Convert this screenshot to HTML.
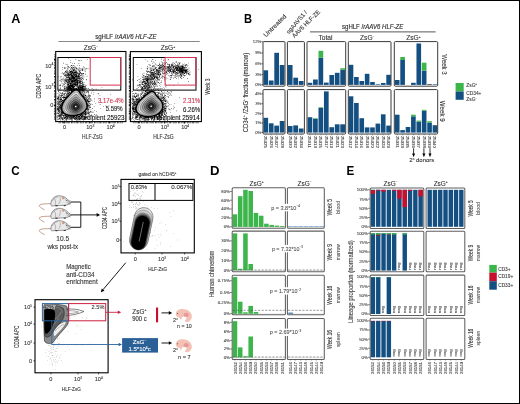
<!DOCTYPE html>
<html><head><meta charset="utf-8"><style>
html,body{margin:0;padding:0;background:#fff;}
body{width:520px;height:404px;overflow:hidden;}
svg{display:block;font-family:"Liberation Sans",sans-serif;will-change:transform;}
</style></head><body>
<svg width="520" height="404" viewBox="0 0 520 404" fill="#333">
<rect x="0.5" y="0.5" width="519" height="403" fill="#fff" stroke="#000" stroke-width="1"/>
<text x="11.18" y="22.8" font-size="12.8" fill="#000" font-weight="bold" textLength="9.15" lengthAdjust="spacingAndGlyphs">A</text>
<text x="95.2" y="39.2" font-size="6.6" stroke="#333" stroke-width="0.16" textLength="61.3" lengthAdjust="spacingAndGlyphs">sgHLF /<tspan font-style="italic">rAAV6 HLF-ZE</tspan></text>
<line x1="58.5" y1="41.5" x2="199.7" y2="41.5" stroke="#888" stroke-width="1.1"/>
<text x="91" y="49.88" font-size="6.6" stroke="#333" stroke-width="0.11" text-anchor="middle">ZsG<tspan font-size="3.4" dy="-2.3">&#8722;</tspan></text>
<text x="168" y="49.88" font-size="6.6" stroke="#333" stroke-width="0.11" text-anchor="middle">ZsG<tspan font-size="3.4" dy="-2.3">+</tspan></text>
<path d="M76.9 82.2h0.6v0.6h-0.6zM66.7 82.2h0.6v0.6h-0.6zM75.1 85.0h0.6v0.6h-0.6zM75.8 77.8h0.6v0.6h-0.6zM74.4 82.3h0.6v0.6h-0.6zM75.6 80.6h0.6v0.6h-0.6zM72.2 76.8h0.6v0.6h-0.6zM75.9 78.1h0.6v0.6h-0.6zM71.6 80.7h0.6v0.6h-0.6zM71.8 76.6h0.6v0.6h-0.6zM71.7 80.5h0.6v0.6h-0.6zM77.8 87.0h0.6v0.6h-0.6zM63.9 66.9h0.6v0.6h-0.6zM71.0 79.6h0.6v0.6h-0.6zM74.0 81.6h0.6v0.6h-0.6zM67.7 91.1h0.6v0.6h-0.6zM82.8 78.6h0.6v0.6h-0.6zM76.2 83.7h0.6v0.6h-0.6zM65.1 77.9h0.6v0.6h-0.6zM73.5 81.3h0.6v0.6h-0.6zM69.7 74.4h0.6v0.6h-0.6zM68.5 80.1h0.6v0.6h-0.6zM73.5 80.0h0.6v0.6h-0.6zM70.6 80.7h0.6v0.6h-0.6zM77.3 83.5h0.6v0.6h-0.6zM69.1 82.1h0.6v0.6h-0.6zM70.6 84.2h0.6v0.6h-0.6zM67.9 84.9h0.6v0.6h-0.6zM72.9 85.1h0.6v0.6h-0.6zM71.5 74.3h0.6v0.6h-0.6zM74.3 80.8h0.6v0.6h-0.6zM67.7 75.6h0.6v0.6h-0.6zM70.8 81.5h0.6v0.6h-0.6zM76.6 81.7h0.6v0.6h-0.6zM74.2 72.3h0.6v0.6h-0.6zM71.6 86.6h0.6v0.6h-0.6zM76.6 76.4h0.6v0.6h-0.6zM77.3 81.8h0.6v0.6h-0.6zM65.9 78.8h0.6v0.6h-0.6zM70.9 79.9h0.6v0.6h-0.6zM73.9 84.4h0.6v0.6h-0.6zM67.3 72.3h0.6v0.6h-0.6zM76.3 84.9h0.6v0.6h-0.6zM73.0 77.3h0.6v0.6h-0.6zM75.2 82.7h0.6v0.6h-0.6zM74.2 84.9h0.6v0.6h-0.6zM71.8 80.0h0.6v0.6h-0.6zM62.2 85.8h0.6v0.6h-0.6zM73.2 79.8h0.6v0.6h-0.6zM74.6 73.4h0.6v0.6h-0.6zM77.1 77.2h0.6v0.6h-0.6zM76.2 79.9h0.6v0.6h-0.6zM74.8 86.6h0.6v0.6h-0.6zM65.7 76.1h0.6v0.6h-0.6zM72.5 89.3h0.6v0.6h-0.6zM73.7 77.1h0.6v0.6h-0.6zM77.1 79.5h0.6v0.6h-0.6zM73.1 80.7h0.6v0.6h-0.6zM75.3 76.9h0.6v0.6h-0.6zM76.2 75.3h0.6v0.6h-0.6zM65.7 88.1h0.6v0.6h-0.6zM76.0 68.2h0.6v0.6h-0.6zM68.2 93.2h0.6v0.6h-0.6zM75.8 74.2h0.6v0.6h-0.6zM70.6 76.3h0.6v0.6h-0.6zM75.6 78.8h0.6v0.6h-0.6zM74.3 78.5h0.6v0.6h-0.6zM68.9 79.6h0.6v0.6h-0.6zM68.4 78.9h0.6v0.6h-0.6zM67.6 80.5h0.6v0.6h-0.6zM80.0 75.0h0.6v0.6h-0.6zM72.7 80.2h0.6v0.6h-0.6zM71.0 83.1h0.6v0.6h-0.6zM75.0 79.4h0.6v0.6h-0.6zM67.4 81.9h0.6v0.6h-0.6zM70.2 84.7h0.6v0.6h-0.6zM68.7 75.2h0.6v0.6h-0.6zM80.8 78.5h0.6v0.6h-0.6zM73.8 74.6h0.6v0.6h-0.6zM73.0 69.8h0.6v0.6h-0.6zM71.9 85.0h0.6v0.6h-0.6zM74.1 77.4h0.6v0.6h-0.6zM76.2 84.0h0.6v0.6h-0.6zM74.0 90.4h0.6v0.6h-0.6zM72.4 77.5h0.6v0.6h-0.6zM73.5 80.1h0.6v0.6h-0.6zM73.8 80.3h0.6v0.6h-0.6zM77.0 72.1h0.6v0.6h-0.6zM67.4 77.6h0.6v0.6h-0.6zM79.3 83.7h0.6v0.6h-0.6zM73.8 83.0h0.6v0.6h-0.6zM86.8 75.8h0.6v0.6h-0.6zM67.5 84.9h0.6v0.6h-0.6zM73.4 76.6h0.6v0.6h-0.6zM73.8 72.7h0.6v0.6h-0.6zM78.9 78.2h0.6v0.6h-0.6zM60.0 85.3h0.6v0.6h-0.6zM65.2 80.7h0.6v0.6h-0.6zM73.8 86.0h0.6v0.6h-0.6zM67.9 83.2h0.6v0.6h-0.6zM82.7 89.6h0.6v0.6h-0.6zM74.8 75.2h0.6v0.6h-0.6zM72.9 77.1h0.6v0.6h-0.6zM82.0 74.2h0.6v0.6h-0.6zM71.6 75.7h0.6v0.6h-0.6zM69.9 83.0h0.6v0.6h-0.6zM70.3 79.3h0.6v0.6h-0.6zM67.4 79.8h0.6v0.6h-0.6zM72.0 78.3h0.6v0.6h-0.6zM73.3 78.8h0.6v0.6h-0.6zM76.6 79.0h0.6v0.6h-0.6zM72.3 78.9h0.6v0.6h-0.6zM70.5 77.2h0.6v0.6h-0.6zM75.5 74.2h0.6v0.6h-0.6zM69.4 74.8h0.6v0.6h-0.6zM74.9 82.3h0.6v0.6h-0.6zM63.3 78.5h0.6v0.6h-0.6zM74.2 82.6h0.6v0.6h-0.6zM76.7 73.4h0.6v0.6h-0.6zM67.6 77.0h0.6v0.6h-0.6zM72.1 81.0h0.6v0.6h-0.6zM65.3 81.5h0.6v0.6h-0.6zM70.1 89.6h0.6v0.6h-0.6zM76.0 72.8h0.6v0.6h-0.6zM74.6 78.7h0.6v0.6h-0.6zM72.7 78.8h0.6v0.6h-0.6zM69.4 81.7h0.6v0.6h-0.6zM70.7 83.9h0.6v0.6h-0.6zM73.4 76.2h0.6v0.6h-0.6zM71.9 82.7h0.6v0.6h-0.6zM76.0 76.2h0.6v0.6h-0.6zM68.1 71.7h0.6v0.6h-0.6zM66.5 80.7h0.6v0.6h-0.6zM72.7 80.6h0.6v0.6h-0.6zM68.6 85.0h0.6v0.6h-0.6zM74.6 77.4h0.6v0.6h-0.6zM87.9 68.2h0.6v0.6h-0.6zM69.5 77.0h0.6v0.6h-0.6zM72.8 84.8h0.6v0.6h-0.6zM76.0 71.6h0.6v0.6h-0.6zM70.8 84.8h0.6v0.6h-0.6zM75.3 79.1h0.6v0.6h-0.6zM75.1 76.0h0.6v0.6h-0.6zM69.8 81.5h0.6v0.6h-0.6zM71.9 73.5h0.6v0.6h-0.6zM77.8 76.1h0.6v0.6h-0.6zM76.8 81.2h0.6v0.6h-0.6zM74.3 81.2h0.6v0.6h-0.6zM76.2 76.6h0.6v0.6h-0.6zM71.5 89.4h0.6v0.6h-0.6zM72.2 77.5h0.6v0.6h-0.6zM69.6 78.1h0.6v0.6h-0.6zM71.6 81.2h0.6v0.6h-0.6zM73.0 87.7h0.6v0.6h-0.6zM77.6 82.1h0.6v0.6h-0.6zM79.9 79.0h0.6v0.6h-0.6zM69.1 77.3h0.6v0.6h-0.6zM72.4 78.7h0.6v0.6h-0.6zM72.8 73.5h0.6v0.6h-0.6zM79.7 72.2h0.6v0.6h-0.6zM69.9 80.1h0.6v0.6h-0.6zM71.2 76.0h0.6v0.6h-0.6zM68.0 79.4h0.6v0.6h-0.6zM72.1 75.9h0.6v0.6h-0.6zM77.5 77.9h0.6v0.6h-0.6zM73.1 86.2h0.6v0.6h-0.6zM66.6 82.9h0.6v0.6h-0.6zM72.9 83.7h0.6v0.6h-0.6zM80.7 82.9h0.6v0.6h-0.6zM74.3 69.1h0.6v0.6h-0.6zM75.8 75.0h0.6v0.6h-0.6zM70.6 73.9h0.6v0.6h-0.6zM75.9 81.5h0.6v0.6h-0.6zM69.2 80.9h0.6v0.6h-0.6zM77.2 77.7h0.6v0.6h-0.6zM64.9 80.5h0.6v0.6h-0.6zM75.0 84.7h0.6v0.6h-0.6zM71.4 84.9h0.6v0.6h-0.6zM67.9 84.6h0.6v0.6h-0.6zM70.6 83.3h0.6v0.6h-0.6zM77.8 83.9h0.6v0.6h-0.6zM72.8 76.8h0.6v0.6h-0.6zM78.7 80.7h0.6v0.6h-0.6zM67.1 84.1h0.6v0.6h-0.6zM76.6 82.8h0.6v0.6h-0.6zM64.9 91.1h0.6v0.6h-0.6zM79.4 77.8h0.6v0.6h-0.6zM67.2 73.7h0.6v0.6h-0.6zM77.9 83.1h0.6v0.6h-0.6zM75.6 77.2h0.6v0.6h-0.6zM80.3 81.1h0.6v0.6h-0.6zM77.8 80.5h0.6v0.6h-0.6zM72.1 76.0h0.6v0.6h-0.6zM78.5 80.0h0.6v0.6h-0.6zM69.4 83.4h0.6v0.6h-0.6zM76.7 83.9h0.6v0.6h-0.6zM71.8 79.9h0.6v0.6h-0.6zM64.9 79.5h0.6v0.6h-0.6zM74.1 81.4h0.6v0.6h-0.6zM76.6 76.2h0.6v0.6h-0.6zM70.4 73.6h0.6v0.6h-0.6zM82.5 78.1h0.6v0.6h-0.6zM75.7 72.5h0.6v0.6h-0.6zM74.8 85.2h0.6v0.6h-0.6zM68.2 86.4h0.6v0.6h-0.6zM76.7 69.1h0.6v0.6h-0.6zM71.4 74.5h0.6v0.6h-0.6zM78.1 74.6h0.6v0.6h-0.6zM69.5 84.8h0.6v0.6h-0.6zM73.6 85.0h0.6v0.6h-0.6zM73.3 79.8h0.6v0.6h-0.6zM76.0 79.5h0.6v0.6h-0.6zM71.3 82.1h0.6v0.6h-0.6zM70.1 85.5h0.6v0.6h-0.6zM75.0 81.9h0.6v0.6h-0.6zM70.6 87.9h0.6v0.6h-0.6zM73.8 89.2h0.6v0.6h-0.6zM69.8 79.5h0.6v0.6h-0.6zM73.2 83.4h0.6v0.6h-0.6zM67.6 75.0h0.6v0.6h-0.6zM69.8 77.7h0.6v0.6h-0.6zM79.6 86.0h0.6v0.6h-0.6zM74.7 84.8h0.6v0.6h-0.6zM73.3 78.4h0.6v0.6h-0.6zM83.2 84.9h0.6v0.6h-0.6zM71.7 85.1h0.6v0.6h-0.6zM70.7 80.7h0.6v0.6h-0.6zM72.1 76.6h0.6v0.6h-0.6zM81.8 81.5h0.6v0.6h-0.6zM79.5 80.8h0.6v0.6h-0.6zM73.4 89.3h0.6v0.6h-0.6zM76.4 88.5h0.6v0.6h-0.6zM74.3 78.4h0.6v0.6h-0.6zM71.9 80.6h0.6v0.6h-0.6zM73.7 79.5h0.6v0.6h-0.6zM68.8 82.7h0.6v0.6h-0.6zM65.7 80.5h0.6v0.6h-0.6zM76.0 81.8h0.6v0.6h-0.6zM74.4 81.3h0.6v0.6h-0.6zM69.8 83.4h0.6v0.6h-0.6zM75.5 79.3h0.6v0.6h-0.6zM74.9 85.5h0.6v0.6h-0.6zM72.6 93.3h0.6v0.6h-0.6zM79.1 85.5h0.6v0.6h-0.6zM69.1 79.8h0.6v0.6h-0.6zM73.8 74.6h0.6v0.6h-0.6zM74.3 86.1h0.6v0.6h-0.6zM71.2 81.4h0.6v0.6h-0.6zM62.7 83.3h0.6v0.6h-0.6zM73.1 81.7h0.6v0.6h-0.6zM83.4 73.6h0.6v0.6h-0.6zM67.8 73.6h0.6v0.6h-0.6zM78.3 74.5h0.6v0.6h-0.6zM76.2 76.1h0.6v0.6h-0.6zM74.2 83.4h0.6v0.6h-0.6zM70.1 74.0h0.6v0.6h-0.6zM66.8 88.9h0.6v0.6h-0.6zM72.2 76.3h0.6v0.6h-0.6zM74.2 84.5h0.6v0.6h-0.6zM67.9 84.2h0.6v0.6h-0.6zM75.7 85.2h0.6v0.6h-0.6zM80.4 72.5h0.6v0.6h-0.6zM69.3 92.0h0.6v0.6h-0.6zM79.7 80.8h0.6v0.6h-0.6zM63.4 73.1h0.6v0.6h-0.6zM70.3 74.0h0.6v0.6h-0.6zM75.9 77.6h0.6v0.6h-0.6zM67.0 81.8h0.6v0.6h-0.6zM82.0 83.3h0.6v0.6h-0.6zM77.8 86.5h0.6v0.6h-0.6zM77.7 80.6h0.6v0.6h-0.6zM76.6 75.7h0.6v0.6h-0.6zM78.4 80.1h0.6v0.6h-0.6zM67.8 82.8h0.6v0.6h-0.6zM78.8 81.1h0.6v0.6h-0.6zM70.3 74.9h0.6v0.6h-0.6zM65.8 76.7h0.6v0.6h-0.6zM79.3 85.3h0.6v0.6h-0.6zM74.2 84.5h0.6v0.6h-0.6zM74.1 80.2h0.6v0.6h-0.6zM77.3 76.8h0.6v0.6h-0.6zM77.5 85.7h0.6v0.6h-0.6zM73.4 77.8h0.6v0.6h-0.6zM81.6 79.7h0.6v0.6h-0.6zM64.0 81.4h0.6v0.6h-0.6zM82.0 82.5h0.6v0.6h-0.6zM77.2 83.9h0.6v0.6h-0.6zM63.5 80.7h0.6v0.6h-0.6zM67.0 71.4h0.6v0.6h-0.6zM74.5 79.9h0.6v0.6h-0.6zM71.4 83.9h0.6v0.6h-0.6zM71.7 85.3h0.6v0.6h-0.6zM77.1 77.0h0.6v0.6h-0.6zM59.9 75.9h0.6v0.6h-0.6zM73.5 75.2h0.6v0.6h-0.6zM71.3 65.1h0.6v0.6h-0.6zM66.2 78.8h0.6v0.6h-0.6zM70.8 73.1h0.6v0.6h-0.6zM79.0 77.8h0.6v0.6h-0.6zM65.4 82.4h0.6v0.6h-0.6zM76.4 76.2h0.6v0.6h-0.6zM74.9 90.0h0.6v0.6h-0.6zM81.9 82.1h0.6v0.6h-0.6zM71.5 80.4h0.6v0.6h-0.6zM70.5 73.4h0.6v0.6h-0.6zM66.2 91.4h0.6v0.6h-0.6zM66.2 80.6h0.6v0.6h-0.6zM77.3 81.1h0.6v0.6h-0.6zM76.5 79.3h0.6v0.6h-0.6zM75.1 84.1h0.6v0.6h-0.6zM76.7 89.1h0.6v0.6h-0.6zM69.7 79.0h0.6v0.6h-0.6zM75.3 76.3h0.6v0.6h-0.6zM86.1 78.9h0.6v0.6h-0.6zM72.0 89.7h0.6v0.6h-0.6zM81.1 78.9h0.6v0.6h-0.6zM70.8 71.1h0.6v0.6h-0.6zM68.6 85.3h0.6v0.6h-0.6zM71.3 78.1h0.6v0.6h-0.6zM73.7 83.8h0.6v0.6h-0.6zM75.9 82.5h0.6v0.6h-0.6zM78.3 80.6h0.6v0.6h-0.6zM66.1 76.9h0.6v0.6h-0.6zM65.2 71.6h0.6v0.6h-0.6zM77.9 77.7h0.6v0.6h-0.6zM70.1 81.4h0.6v0.6h-0.6zM70.5 75.2h0.6v0.6h-0.6zM70.3 78.5h0.6v0.6h-0.6zM70.7 73.3h0.6v0.6h-0.6zM62.6 85.6h0.6v0.6h-0.6zM62.8 79.3h0.6v0.6h-0.6zM69.4 81.4h0.6v0.6h-0.6zM73.5 70.1h0.6v0.6h-0.6zM73.5 89.6h0.6v0.6h-0.6zM72.7 86.3h0.6v0.6h-0.6zM75.4 69.7h0.6v0.6h-0.6zM66.0 78.4h0.6v0.6h-0.6zM74.4 84.4h0.6v0.6h-0.6zM77.2 77.9h0.6v0.6h-0.6zM76.1 76.1h0.6v0.6h-0.6zM75.6 75.8h0.6v0.6h-0.6zM80.1 75.0h0.6v0.6h-0.6zM79.9 81.8h0.6v0.6h-0.6zM70.7 76.4h0.6v0.6h-0.6zM59.8 84.7h0.6v0.6h-0.6zM78.0 75.2h0.6v0.6h-0.6zM77.7 82.8h0.6v0.6h-0.6zM75.7 79.0h0.6v0.6h-0.6zM66.4 76.8h0.6v0.6h-0.6zM70.4 72.0h0.6v0.6h-0.6zM70.0 77.8h0.6v0.6h-0.6zM63.4 62.8h0.6v0.6h-0.6zM74.4 77.8h0.6v0.6h-0.6zM68.8 77.6h0.6v0.6h-0.6zM82.7 69.0h0.6v0.6h-0.6zM81.1 75.0h0.6v0.6h-0.6zM74.3 88.3h0.6v0.6h-0.6zM73.6 77.6h0.6v0.6h-0.6zM74.3 74.7h0.6v0.6h-0.6zM75.6 80.5h0.6v0.6h-0.6zM81.3 85.3h0.6v0.6h-0.6zM78.0 78.6h0.6v0.6h-0.6zM68.7 76.5h0.6v0.6h-0.6zM68.3 77.4h0.6v0.6h-0.6zM77.4 85.4h0.6v0.6h-0.6zM72.9 86.9h0.6v0.6h-0.6zM70.2 81.9h0.6v0.6h-0.6zM75.1 74.7h0.6v0.6h-0.6zM67.7 81.8h0.6v0.6h-0.6zM64.6 83.4h0.6v0.6h-0.6zM70.0 79.6h0.6v0.6h-0.6zM67.8 77.9h0.6v0.6h-0.6zM75.7 85.3h0.6v0.6h-0.6zM73.6 86.4h0.6v0.6h-0.6zM71.2 74.0h0.6v0.6h-0.6zM75.1 74.5h0.6v0.6h-0.6zM74.5 86.5h0.6v0.6h-0.6zM71.2 77.4h0.6v0.6h-0.6zM66.0 81.5h0.6v0.6h-0.6zM73.9 81.2h0.6v0.6h-0.6zM70.9 77.7h0.6v0.6h-0.6zM69.0 81.3h0.6v0.6h-0.6zM76.6 76.3h0.6v0.6h-0.6zM81.0 81.5h0.6v0.6h-0.6zM64.4 75.5h0.6v0.6h-0.6zM77.5 85.1h0.6v0.6h-0.6zM65.8 76.7h0.6v0.6h-0.6zM64.5 80.1h0.6v0.6h-0.6zM62.4 78.7h0.6v0.6h-0.6zM62.7 79.2h0.6v0.6h-0.6zM80.1 79.2h0.6v0.6h-0.6zM76.5 79.0h0.6v0.6h-0.6zM68.5 77.1h0.6v0.6h-0.6zM77.8 72.8h0.6v0.6h-0.6zM80.6 80.0h0.6v0.6h-0.6zM71.7 74.4h0.6v0.6h-0.6zM79.6 80.7h0.6v0.6h-0.6zM69.7 89.4h0.6v0.6h-0.6zM64.4 74.6h0.6v0.6h-0.6zM72.3 86.9h0.6v0.6h-0.6zM72.5 77.0h0.6v0.6h-0.6zM64.5 67.5h0.6v0.6h-0.6zM74.7 84.9h0.6v0.6h-0.6zM67.9 81.0h0.6v0.6h-0.6zM81.3 83.2h0.6v0.6h-0.6zM72.8 74.1h0.6v0.6h-0.6zM74.5 78.1h0.6v0.6h-0.6zM72.0 80.3h0.6v0.6h-0.6zM72.7 75.8h0.6v0.6h-0.6zM72.0 77.2h0.6v0.6h-0.6zM75.9 79.9h0.6v0.6h-0.6zM71.2 77.3h0.6v0.6h-0.6zM71.7 85.6h0.6v0.6h-0.6zM76.9 78.9h0.6v0.6h-0.6zM73.2 81.6h0.6v0.6h-0.6zM66.8 81.3h0.6v0.6h-0.6zM79.1 82.5h0.6v0.6h-0.6zM65.3 83.1h0.6v0.6h-0.6zM68.4 81.7h0.6v0.6h-0.6zM73.4 79.1h0.6v0.6h-0.6zM79.2 74.3h0.6v0.6h-0.6zM76.6 79.9h0.6v0.6h-0.6zM79.3 83.5h0.6v0.6h-0.6zM65.7 86.3h0.6v0.6h-0.6zM62.6 80.5h0.6v0.6h-0.6zM76.3 78.1h0.6v0.6h-0.6zM79.0 84.9h0.6v0.6h-0.6zM74.4 78.4h0.6v0.6h-0.6zM78.9 80.8h0.6v0.6h-0.6zM71.1 88.3h0.6v0.6h-0.6zM72.8 99.3h0.6v0.6h-0.6zM75.7 78.5h0.6v0.6h-0.6zM75.5 84.1h0.6v0.6h-0.6zM79.9 77.1h0.6v0.6h-0.6zM80.3 80.6h0.6v0.6h-0.6zM66.8 87.3h0.6v0.6h-0.6zM68.1 75.5h0.6v0.6h-0.6zM73.2 81.6h0.6v0.6h-0.6zM69.0 81.7h0.6v0.6h-0.6zM79.6 82.5h0.6v0.6h-0.6zM72.0 73.7h0.6v0.6h-0.6zM72.3 81.7h0.6v0.6h-0.6zM81.4 79.4h0.6v0.6h-0.6zM77.0 86.8h0.6v0.6h-0.6zM83.7 76.6h0.6v0.6h-0.6zM70.2 82.2h0.6v0.6h-0.6zM70.6 78.7h0.6v0.6h-0.6zM73.9 91.0h0.6v0.6h-0.6zM62.6 80.7h0.6v0.6h-0.6zM67.9 84.1h0.6v0.6h-0.6zM75.9 74.8h0.6v0.6h-0.6zM76.9 76.1h0.6v0.6h-0.6zM64.3 86.0h0.6v0.6h-0.6zM65.4 79.8h0.6v0.6h-0.6zM77.3 80.1h0.6v0.6h-0.6zM81.6 73.6h0.6v0.6h-0.6zM67.3 78.9h0.6v0.6h-0.6zM76.7 79.8h0.6v0.6h-0.6zM72.9 73.5h0.6v0.6h-0.6zM78.7 73.6h0.6v0.6h-0.6zM70.9 81.2h0.6v0.6h-0.6zM66.7 85.6h0.6v0.6h-0.6zM81.8 78.4h0.6v0.6h-0.6zM79.4 79.8h0.6v0.6h-0.6zM69.5 81.4h0.6v0.6h-0.6zM73.3 79.2h0.6v0.6h-0.6zM68.9 78.3h0.6v0.6h-0.6zM65.8 76.5h0.6v0.6h-0.6zM74.8 80.9h0.6v0.6h-0.6zM64.2 84.1h0.6v0.6h-0.6zM72.8 84.4h0.6v0.6h-0.6zM73.4 73.2h0.6v0.6h-0.6zM75.4 84.5h0.6v0.6h-0.6zM77.4 84.0h0.6v0.6h-0.6zM72.7 84.9h0.6v0.6h-0.6zM69.3 70.0h0.6v0.6h-0.6zM70.6 82.2h0.6v0.6h-0.6zM76.7 83.8h0.6v0.6h-0.6zM81.9 80.6h0.6v0.6h-0.6zM77.4 75.5h0.6v0.6h-0.6zM69.2 78.0h0.6v0.6h-0.6zM69.9 83.3h0.6v0.6h-0.6zM67.3 84.7h0.6v0.6h-0.6zM68.9 80.6h0.6v0.6h-0.6zM71.1 79.2h0.6v0.6h-0.6zM76.1 74.8h0.6v0.6h-0.6zM68.2 74.2h0.6v0.6h-0.6zM77.6 84.9h0.6v0.6h-0.6zM74.5 83.7h0.6v0.6h-0.6zM67.1 91.8h0.6v0.6h-0.6zM68.1 76.7h0.6v0.6h-0.6zM74.3 84.9h0.6v0.6h-0.6zM77.6 86.0h0.6v0.6h-0.6zM69.0 79.3h0.6v0.6h-0.6zM83.5 75.5h0.6v0.6h-0.6zM75.8 85.3h0.6v0.6h-0.6zM72.0 78.7h0.6v0.6h-0.6zM71.4 78.7h0.6v0.6h-0.6zM72.6 68.4h0.6v0.6h-0.6zM74.3 78.5h0.6v0.6h-0.6zM77.0 81.5h0.6v0.6h-0.6zM76.8 80.4h0.6v0.6h-0.6zM67.6 67.6h0.6v0.6h-0.6zM67.1 89.1h0.6v0.6h-0.6zM76.3 79.0h0.6v0.6h-0.6zM76.4 76.0h0.6v0.6h-0.6zM63.7 73.3h0.6v0.6h-0.6zM65.0 73.8h0.6v0.6h-0.6zM71.4 80.3h0.6v0.6h-0.6zM68.0 82.1h0.6v0.6h-0.6zM72.5 93.1h0.6v0.6h-0.6zM75.1 80.2h0.6v0.6h-0.6zM69.9 79.2h0.6v0.6h-0.6zM77.3 80.9h0.6v0.6h-0.6zM77.5 83.8h0.6v0.6h-0.6zM69.2 77.6h0.6v0.6h-0.6zM71.8 90.5h0.6v0.6h-0.6zM76.5 82.8h0.6v0.6h-0.6zM66.5 87.5h0.6v0.6h-0.6zM70.9 78.0h0.6v0.6h-0.6zM61.4 78.9h0.6v0.6h-0.6zM59.1 80.0h0.6v0.6h-0.6zM75.5 81.9h0.6v0.6h-0.6zM67.2 83.4h0.6v0.6h-0.6zM68.8 85.2h0.6v0.6h-0.6zM68.2 74.3h0.6v0.6h-0.6zM73.8 76.2h0.6v0.6h-0.6zM62.9 84.6h0.6v0.6h-0.6zM77.3 77.8h0.6v0.6h-0.6zM75.4 81.5h0.6v0.6h-0.6zM77.6 73.0h0.6v0.6h-0.6zM73.9 72.7h0.6v0.6h-0.6zM82.0 87.3h0.6v0.6h-0.6zM77.2 83.1h0.6v0.6h-0.6zM70.7 77.5h0.6v0.6h-0.6zM73.0 86.3h0.6v0.6h-0.6zM66.2 79.9h0.6v0.6h-0.6zM76.1 81.3h0.6v0.6h-0.6zM70.6 76.5h0.6v0.6h-0.6zM73.9 88.4h0.6v0.6h-0.6zM67.5 79.1h0.6v0.6h-0.6zM71.8 77.4h0.6v0.6h-0.6zM70.1 87.3h0.6v0.6h-0.6zM68.5 89.5h0.6v0.6h-0.6zM77.0 78.7h0.6v0.6h-0.6zM69.0 79.3h0.6v0.6h-0.6zM75.2 79.8h0.6v0.6h-0.6zM71.8 71.9h0.6v0.6h-0.6zM71.1 80.0h0.6v0.6h-0.6zM70.3 84.2h0.6v0.6h-0.6zM73.2 78.7h0.6v0.6h-0.6zM71.9 84.1h0.6v0.6h-0.6zM68.6 88.1h0.6v0.6h-0.6zM68.9 86.9h0.6v0.6h-0.6zM74.7 79.7h0.6v0.6h-0.6zM77.3 90.8h0.6v0.6h-0.6zM79.2 78.5h0.6v0.6h-0.6zM69.2 79.4h0.6v0.6h-0.6zM73.5 82.7h0.6v0.6h-0.6zM70.4 85.3h0.6v0.6h-0.6zM76.0 82.4h0.6v0.6h-0.6zM72.9 81.9h0.6v0.6h-0.6zM77.3 77.0h0.6v0.6h-0.6zM75.4 81.2h0.6v0.6h-0.6zM73.1 78.7h0.6v0.6h-0.6zM73.4 75.3h0.6v0.6h-0.6zM73.4 84.3h0.6v0.6h-0.6zM74.5 84.8h0.6v0.6h-0.6zM72.1 87.3h0.6v0.6h-0.6zM75.1 72.3h0.6v0.6h-0.6zM68.3 79.7h0.6v0.6h-0.6zM74.3 83.8h0.6v0.6h-0.6zM71.4 82.7h0.6v0.6h-0.6zM74.2 81.5h0.6v0.6h-0.6zM69.7 89.4h0.6v0.6h-0.6zM74.7 80.4h0.6v0.6h-0.6zM65.3 71.9h0.6v0.6h-0.6zM64.5 91.3h0.6v0.6h-0.6zM68.9 83.4h0.6v0.6h-0.6zM63.5 76.7h0.6v0.6h-0.6zM76.8 76.0h0.6v0.6h-0.6zM75.9 73.6h0.6v0.6h-0.6zM82.7 82.1h0.6v0.6h-0.6zM79.1 78.1h0.6v0.6h-0.6zM71.6 84.9h0.6v0.6h-0.6zM80.2 72.2h0.6v0.6h-0.6zM70.7 73.7h0.6v0.6h-0.6zM78.4 84.9h0.6v0.6h-0.6zM72.8 76.3h0.6v0.6h-0.6zM78.7 79.2h0.6v0.6h-0.6zM64.2 93.0h0.6v0.6h-0.6zM59.3 85.1h0.6v0.6h-0.6zM67.7 80.6h0.6v0.6h-0.6zM73.8 90.5h0.6v0.6h-0.6zM70.6 76.8h0.6v0.6h-0.6zM73.9 77.6h0.6v0.6h-0.6zM76.1 79.7h0.6v0.6h-0.6zM76.4 88.2h0.6v0.6h-0.6zM65.2 74.4h0.6v0.6h-0.6zM78.1 76.7h0.6v0.6h-0.6zM69.8 78.8h0.6v0.6h-0.6zM66.2 81.2h0.6v0.6h-0.6zM75.4 74.8h0.6v0.6h-0.6zM70.8 79.0h0.6v0.6h-0.6zM70.2 82.1h0.6v0.6h-0.6zM70.8 77.1h0.6v0.6h-0.6zM73.3 83.5h0.6v0.6h-0.6zM71.5 74.5h0.6v0.6h-0.6zM82.0 83.7h0.6v0.6h-0.6zM74.6 74.8h0.6v0.6h-0.6zM77.0 79.2h0.6v0.6h-0.6zM80.1 82.7h0.6v0.6h-0.6zM70.4 83.1h0.6v0.6h-0.6zM74.9 77.8h0.6v0.6h-0.6zM84.5 82.5h0.6v0.6h-0.6zM67.4 88.9h0.6v0.6h-0.6zM66.6 82.3h0.6v0.6h-0.6zM76.6 72.2h0.6v0.6h-0.6zM68.0 83.3h0.6v0.6h-0.6zM68.3 88.7h0.6v0.6h-0.6zM76.1 74.7h0.6v0.6h-0.6zM72.2 81.6h0.6v0.6h-0.6zM74.1 80.2h0.6v0.6h-0.6zM72.2 79.8h0.6v0.6h-0.6zM66.6 71.0h0.6v0.6h-0.6zM69.6 83.6h0.6v0.6h-0.6zM78.9 83.2h0.6v0.6h-0.6zM74.4 78.7h0.6v0.6h-0.6zM76.3 90.9h0.6v0.6h-0.6zM80.4 89.7h0.6v0.6h-0.6zM72.5 84.3h0.6v0.6h-0.6zM67.7 76.3h0.6v0.6h-0.6zM75.2 82.9h0.6v0.6h-0.6zM77.1 79.6h0.6v0.6h-0.6zM78.3 77.5h0.6v0.6h-0.6zM72.8 80.7h0.6v0.6h-0.6zM72.5 80.5h0.6v0.6h-0.6zM65.3 92.9h0.6v0.6h-0.6zM79.0 81.4h0.6v0.6h-0.6zM71.6 84.1h0.6v0.6h-0.6zM67.9 89.2h0.6v0.6h-0.6zM75.7 74.0h0.6v0.6h-0.6zM61.6 73.2h0.6v0.6h-0.6zM76.7 84.9h0.6v0.6h-0.6zM70.7 84.2h0.6v0.6h-0.6zM68.4 81.4h0.6v0.6h-0.6zM76.8 89.2h0.6v0.6h-0.6zM63.6 84.2h0.6v0.6h-0.6zM80.2 84.5h0.6v0.6h-0.6zM76.8 86.6h0.6v0.6h-0.6zM71.4 80.5h0.6v0.6h-0.6zM74.8 83.5h0.6v0.6h-0.6zM71.5 81.7h0.6v0.6h-0.6zM67.4 88.9h0.6v0.6h-0.6zM70.2 80.4h0.6v0.6h-0.6zM79.9 85.7h0.6v0.6h-0.6zM76.6 86.7h0.6v0.6h-0.6zM83.0 73.5h0.6v0.6h-0.6zM72.5 83.1h0.6v0.6h-0.6zM71.4 80.6h0.6v0.6h-0.6zM74.5 82.6h0.6v0.6h-0.6zM60.7 78.7h0.6v0.6h-0.6zM75.3 80.3h0.6v0.6h-0.6zM72.3 83.1h0.6v0.6h-0.6zM77.9 82.8h0.6v0.6h-0.6zM80.0 78.1h0.6v0.6h-0.6zM66.9 70.7h0.6v0.6h-0.6zM61.3 76.0h0.6v0.6h-0.6zM79.0 75.5h0.6v0.6h-0.6zM73.5 86.7h0.6v0.6h-0.6zM74.1 89.1h0.6v0.6h-0.6zM74.2 78.0h0.6v0.6h-0.6zM76.5 79.8h0.6v0.6h-0.6zM77.8 73.0h0.6v0.6h-0.6zM77.1 78.2h0.6v0.6h-0.6zM71.0 72.8h0.6v0.6h-0.6zM77.3 80.9h0.6v0.6h-0.6zM81.0 74.4h0.6v0.6h-0.6zM70.5 82.9h0.6v0.6h-0.6zM73.5 86.6h0.6v0.6h-0.6zM84.2 86.3h0.6v0.6h-0.6zM70.5 84.3h0.6v0.6h-0.6zM75.8 78.4h0.6v0.6h-0.6zM69.0 81.9h0.6v0.6h-0.6zM76.2 77.2h0.6v0.6h-0.6zM60.4 92.2h0.6v0.6h-0.6zM72.0 84.1h0.6v0.6h-0.6zM77.2 84.4h0.6v0.6h-0.6zM68.1 80.8h0.6v0.6h-0.6zM64.0 73.5h0.6v0.6h-0.6zM72.0 86.6h0.6v0.6h-0.6zM71.7 77.8h0.6v0.6h-0.6zM74.5 73.8h0.6v0.6h-0.6zM78.5 87.1h0.6v0.6h-0.6zM79.5 72.7h0.6v0.6h-0.6zM63.8 76.7h0.6v0.6h-0.6zM68.4 74.4h0.6v0.6h-0.6zM68.0 80.5h0.6v0.6h-0.6zM71.7 72.9h0.6v0.6h-0.6zM69.6 90.1h0.6v0.6h-0.6zM73.4 82.8h0.6v0.6h-0.6zM63.9 93.8h0.6v0.6h-0.6zM66.8 86.0h0.6v0.6h-0.6zM72.5 77.5h0.6v0.6h-0.6zM69.3 96.4h0.6v0.6h-0.6zM79.2 71.1h0.6v0.6h-0.6zM71.8 76.3h0.6v0.6h-0.6zM73.5 80.4h0.6v0.6h-0.6zM74.3 79.6h0.6v0.6h-0.6zM77.1 82.4h0.6v0.6h-0.6zM69.4 78.4h0.6v0.6h-0.6zM75.8 75.2h0.6v0.6h-0.6zM75.7 80.3h0.6v0.6h-0.6zM81.1 83.2h0.6v0.6h-0.6zM76.6 81.5h0.6v0.6h-0.6zM67.8 74.5h0.6v0.6h-0.6zM67.2 78.9h0.6v0.6h-0.6zM66.6 83.9h0.6v0.6h-0.6zM61.2 80.8h0.6v0.6h-0.6zM71.4 75.0h0.6v0.6h-0.6zM64.4 79.2h0.6v0.6h-0.6zM77.7 81.0h0.6v0.6h-0.6zM69.8 83.7h0.6v0.6h-0.6zM67.3 77.6h0.6v0.6h-0.6zM79.9 83.6h0.6v0.6h-0.6zM64.9 77.9h0.6v0.6h-0.6zM76.4 81.5h0.6v0.6h-0.6zM73.7 66.9h0.6v0.6h-0.6zM76.9 91.3h0.6v0.6h-0.6zM74.9 83.3h0.6v0.6h-0.6zM68.5 85.8h0.6v0.6h-0.6zM75.0 76.3h0.6v0.6h-0.6zM74.2 77.1h0.6v0.6h-0.6zM76.6 70.9h0.6v0.6h-0.6zM73.2 84.7h0.6v0.6h-0.6zM80.8 81.3h0.6v0.6h-0.6zM68.6 75.1h0.6v0.6h-0.6zM71.0 75.0h0.6v0.6h-0.6zM73.2 75.4h0.6v0.6h-0.6zM66.0 77.2h0.6v0.6h-0.6zM78.8 72.7h0.6v0.6h-0.6zM71.9 80.2h0.6v0.6h-0.6zM72.6 80.6h0.6v0.6h-0.6zM75.7 84.3h0.6v0.6h-0.6zM69.0 77.6h0.6v0.6h-0.6zM67.0 75.1h0.6v0.6h-0.6zM68.6 87.5h0.6v0.6h-0.6zM69.0 70.4h0.6v0.6h-0.6zM74.6 76.6h0.6v0.6h-0.6zM75.6 76.1h0.6v0.6h-0.6zM79.1 82.4h0.6v0.6h-0.6zM86.7 91.3h0.6v0.6h-0.6zM67.4 87.3h0.6v0.6h-0.6zM74.2 78.5h0.6v0.6h-0.6zM76.2 90.8h0.6v0.6h-0.6zM72.2 86.5h0.6v0.6h-0.6zM76.4 83.5h0.6v0.6h-0.6zM76.7 78.2h0.6v0.6h-0.6zM72.2 85.9h0.6v0.6h-0.6zM80.9 85.6h0.6v0.6h-0.6zM73.0 80.8h0.6v0.6h-0.6zM70.0 79.0h0.6v0.6h-0.6zM71.0 81.3h0.6v0.6h-0.6zM69.3 78.9h0.6v0.6h-0.6zM68.5 72.8h0.6v0.6h-0.6zM67.3 82.1h0.6v0.6h-0.6zM80.9 77.3h0.6v0.6h-0.6zM69.7 86.1h0.6v0.6h-0.6zM69.9 83.5h0.6v0.6h-0.6zM70.2 88.6h0.6v0.6h-0.6zM79.6 80.9h0.6v0.6h-0.6zM79.3 76.4h0.6v0.6h-0.6zM74.1 76.4h0.6v0.6h-0.6zM72.6 79.0h0.6v0.6h-0.6zM72.6 81.3h0.6v0.6h-0.6zM77.2 75.4h0.6v0.6h-0.6zM79.2 84.1h0.6v0.6h-0.6zM66.5 87.4h0.6v0.6h-0.6zM79.2 86.9h0.6v0.6h-0.6zM78.0 77.8h0.6v0.6h-0.6zM70.4 87.8h0.6v0.6h-0.6zM71.3 73.6h0.6v0.6h-0.6zM74.1 94.5h0.6v0.6h-0.6zM71.8 74.4h0.6v0.6h-0.6zM71.1 75.5h0.6v0.6h-0.6zM60.7 81.0h0.6v0.6h-0.6zM79.8 82.3h0.6v0.6h-0.6zM71.2 79.5h0.6v0.6h-0.6zM66.9 86.0h0.6v0.6h-0.6zM66.3 74.3h0.6v0.6h-0.6zM74.9 79.7h0.6v0.6h-0.6zM75.6 80.0h0.6v0.6h-0.6zM75.4 84.7h0.6v0.6h-0.6zM71.7 76.5h0.6v0.6h-0.6zM68.0 86.7h0.6v0.6h-0.6zM71.0 79.2h0.6v0.6h-0.6zM67.8 79.6h0.6v0.6h-0.6zM85.3 73.8h0.6v0.6h-0.6zM69.6 85.2h0.6v0.6h-0.6zM76.2 80.2h0.6v0.6h-0.6zM71.5 74.8h0.6v0.6h-0.6zM70.2 71.1h0.6v0.6h-0.6zM72.6 70.8h0.6v0.6h-0.6zM62.0 72.6h0.6v0.6h-0.6zM74.2 74.3h0.6v0.6h-0.6zM68.5 73.8h0.6v0.6h-0.6zM74.0 65.8h0.6v0.6h-0.6zM63.1 74.3h0.6v0.6h-0.6zM68.7 76.3h0.6v0.6h-0.6zM82.6 70.3h0.6v0.6h-0.6zM69.9 72.5h0.6v0.6h-0.6zM76.0 68.2h0.6v0.6h-0.6zM78.6 76.3h0.6v0.6h-0.6zM76.0 70.4h0.6v0.6h-0.6zM77.1 75.8h0.6v0.6h-0.6zM67.6 80.4h0.6v0.6h-0.6zM71.6 73.9h0.6v0.6h-0.6zM70.6 74.0h0.6v0.6h-0.6zM78.2 69.4h0.6v0.6h-0.6zM65.6 70.8h0.6v0.6h-0.6zM67.1 69.6h0.6v0.6h-0.6zM72.4 72.3h0.6v0.6h-0.6zM78.8 68.6h0.6v0.6h-0.6zM74.6 70.6h0.6v0.6h-0.6zM79.1 82.1h0.6v0.6h-0.6zM74.4 78.9h0.6v0.6h-0.6zM70.6 66.4h0.6v0.6h-0.6zM67.3 66.5h0.6v0.6h-0.6zM68.7 71.6h0.6v0.6h-0.6zM78.2 75.2h0.6v0.6h-0.6zM75.1 70.9h0.6v0.6h-0.6zM69.8 72.6h0.6v0.6h-0.6zM73.6 73.5h0.6v0.6h-0.6zM74.7 72.1h0.6v0.6h-0.6zM64.3 68.3h0.6v0.6h-0.6zM69.3 78.9h0.6v0.6h-0.6zM71.1 75.1h0.6v0.6h-0.6zM79.6 73.8h0.6v0.6h-0.6zM71.2 71.4h0.6v0.6h-0.6zM68.4 73.7h0.6v0.6h-0.6zM78.1 74.7h0.6v0.6h-0.6zM76.5 75.2h0.6v0.6h-0.6zM82.0 70.1h0.6v0.6h-0.6zM73.7 75.2h0.6v0.6h-0.6zM78.6 63.3h0.6v0.6h-0.6zM70.6 71.7h0.6v0.6h-0.6zM68.4 75.7h0.6v0.6h-0.6zM74.0 71.0h0.6v0.6h-0.6zM65.6 67.5h0.6v0.6h-0.6zM68.6 74.2h0.6v0.6h-0.6zM67.5 64.6h0.6v0.6h-0.6zM66.5 70.3h0.6v0.6h-0.6zM80.5 82.0h0.6v0.6h-0.6zM70.8 76.1h0.6v0.6h-0.6zM79.3 77.4h0.6v0.6h-0.6zM72.5 67.6h0.6v0.6h-0.6zM70.8 65.4h0.6v0.6h-0.6zM74.1 75.5h0.6v0.6h-0.6zM64.5 72.3h0.6v0.6h-0.6zM74.3 77.2h0.6v0.6h-0.6zM79.2 75.5h0.6v0.6h-0.6zM69.9 71.1h0.6v0.6h-0.6zM78.4 70.2h0.6v0.6h-0.6zM72.8 78.4h0.6v0.6h-0.6zM73.6 67.3h0.6v0.6h-0.6zM71.7 74.9h0.6v0.6h-0.6zM72.1 76.9h0.6v0.6h-0.6zM78.8 70.0h0.6v0.6h-0.6zM70.7 72.1h0.6v0.6h-0.6zM67.6 73.9h0.6v0.6h-0.6zM72.2 75.5h0.6v0.6h-0.6zM70.3 69.2h0.6v0.6h-0.6zM81.3 69.2h0.6v0.6h-0.6zM70.4 69.7h0.6v0.6h-0.6zM71.6 69.0h0.6v0.6h-0.6zM72.8 69.8h0.6v0.6h-0.6zM71.1 73.9h0.6v0.6h-0.6zM76.2 74.3h0.6v0.6h-0.6zM69.7 74.0h0.6v0.6h-0.6zM72.5 72.1h0.6v0.6h-0.6zM65.2 75.1h0.6v0.6h-0.6zM72.4 79.0h0.6v0.6h-0.6zM75.9 68.3h0.6v0.6h-0.6zM66.8 76.9h0.6v0.6h-0.6zM69.1 75.1h0.6v0.6h-0.6zM71.6 80.5h0.6v0.6h-0.6zM73.4 78.3h0.6v0.6h-0.6zM79.0 70.7h0.6v0.6h-0.6zM71.5 78.2h0.6v0.6h-0.6zM73.0 69.2h0.6v0.6h-0.6zM78.5 82.3h0.6v0.6h-0.6zM72.9 77.9h0.6v0.6h-0.6zM72.4 77.7h0.6v0.6h-0.6zM72.0 77.7h0.6v0.6h-0.6zM75.6 71.9h0.6v0.6h-0.6zM74.2 70.6h0.6v0.6h-0.6zM68.1 68.7h0.6v0.6h-0.6zM73.0 68.7h0.6v0.6h-0.6zM75.2 74.7h0.6v0.6h-0.6zM75.4 70.8h0.6v0.6h-0.6zM73.5 72.6h0.6v0.6h-0.6zM79.2 69.7h0.6v0.6h-0.6zM71.6 71.9h0.6v0.6h-0.6zM72.7 69.9h0.6v0.6h-0.6zM70.5 76.6h0.6v0.6h-0.6zM70.4 76.3h0.6v0.6h-0.6zM82.5 77.6h0.6v0.6h-0.6zM65.2 75.7h0.6v0.6h-0.6zM75.5 74.8h0.6v0.6h-0.6zM66.0 75.7h0.6v0.6h-0.6zM68.4 77.7h0.6v0.6h-0.6zM78.1 82.5h0.6v0.6h-0.6zM71.6 67.0h0.6v0.6h-0.6zM78.0 76.1h0.6v0.6h-0.6zM71.6 77.9h0.6v0.6h-0.6zM76.4 67.8h0.6v0.6h-0.6zM71.7 71.0h0.6v0.6h-0.6zM72.8 73.5h0.6v0.6h-0.6zM70.1 72.0h0.6v0.6h-0.6zM75.9 72.5h0.6v0.6h-0.6zM72.1 71.6h0.6v0.6h-0.6zM72.8 65.5h0.6v0.6h-0.6zM74.0 68.8h0.6v0.6h-0.6zM73.7 67.1h0.6v0.6h-0.6zM77.4 73.6h0.6v0.6h-0.6zM67.2 73.6h0.6v0.6h-0.6zM69.9 79.6h0.6v0.6h-0.6zM75.5 69.7h0.6v0.6h-0.6zM74.3 72.6h0.6v0.6h-0.6zM78.7 74.1h0.6v0.6h-0.6zM75.6 68.5h0.6v0.6h-0.6zM76.9 80.7h0.6v0.6h-0.6zM76.2 72.6h0.6v0.6h-0.6zM74.0 69.1h0.6v0.6h-0.6zM74.1 68.6h0.6v0.6h-0.6zM73.5 71.3h0.6v0.6h-0.6zM69.6 75.0h0.6v0.6h-0.6zM66.6 72.6h0.6v0.6h-0.6zM67.3 79.7h0.6v0.6h-0.6zM82.2 76.0h0.6v0.6h-0.6zM81.9 75.0h0.6v0.6h-0.6zM75.8 71.1h0.6v0.6h-0.6zM69.3 73.2h0.6v0.6h-0.6zM70.9 71.1h0.6v0.6h-0.6zM76.6 72.3h0.6v0.6h-0.6zM66.3 71.9h0.6v0.6h-0.6zM69.9 71.6h0.6v0.6h-0.6zM68.4 77.3h0.6v0.6h-0.6zM81.9 68.5h0.6v0.6h-0.6zM76.2 75.0h0.6v0.6h-0.6zM68.5 73.1h0.6v0.6h-0.6zM79.6 76.0h0.6v0.6h-0.6zM80.6 68.3h0.6v0.6h-0.6zM69.9 73.8h0.6v0.6h-0.6zM74.9 72.8h0.6v0.6h-0.6zM71.5 71.2h0.6v0.6h-0.6zM70.5 74.4h0.6v0.6h-0.6zM60.8 78.8h0.6v0.6h-0.6zM70.9 67.3h0.6v0.6h-0.6zM75.7 67.4h0.6v0.6h-0.6zM75.0 71.2h0.6v0.6h-0.6zM75.9 75.7h0.6v0.6h-0.6zM79.0 70.8h0.6v0.6h-0.6zM71.9 72.6h0.6v0.6h-0.6zM66.8 74.9h0.6v0.6h-0.6zM73.8 67.6h0.6v0.6h-0.6zM78.6 77.8h0.6v0.6h-0.6zM67.2 74.8h0.6v0.6h-0.6zM78.8 75.8h0.6v0.6h-0.6zM68.7 67.3h0.6v0.6h-0.6zM72.6 70.7h0.6v0.6h-0.6zM73.1 72.2h0.6v0.6h-0.6zM75.5 70.5h0.6v0.6h-0.6zM72.4 83.9h0.6v0.6h-0.6zM72.6 75.4h0.6v0.6h-0.6zM74.4 73.4h0.6v0.6h-0.6zM69.0 74.6h0.6v0.6h-0.6zM72.9 75.7h0.6v0.6h-0.6zM82.3 73.3h0.6v0.6h-0.6zM76.5 68.7h0.6v0.6h-0.6zM73.6 78.5h0.6v0.6h-0.6zM72.8 70.2h0.6v0.6h-0.6zM74.0 71.9h0.6v0.6h-0.6zM72.0 71.2h0.6v0.6h-0.6zM82.0 69.3h0.6v0.6h-0.6zM71.2 70.4h0.6v0.6h-0.6zM78.7 71.5h0.6v0.6h-0.6zM79.0 73.2h0.6v0.6h-0.6zM73.0 67.0h0.6v0.6h-0.6zM78.5 74.6h0.6v0.6h-0.6zM74.9 72.1h0.6v0.6h-0.6zM71.2 67.8h0.6v0.6h-0.6zM77.4 73.6h0.6v0.6h-0.6zM71.5 70.2h0.6v0.6h-0.6zM73.6 72.2h0.6v0.6h-0.6zM80.5 75.5h0.6v0.6h-0.6zM70.4 68.4h0.6v0.6h-0.6zM72.0 69.1h0.6v0.6h-0.6zM73.4 74.1h0.6v0.6h-0.6zM76.0 74.2h0.6v0.6h-0.6zM72.2 74.9h0.6v0.6h-0.6zM69.1 72.3h0.6v0.6h-0.6zM76.8 73.7h0.6v0.6h-0.6zM67.4 68.2h0.6v0.6h-0.6zM65.9 79.5h0.6v0.6h-0.6zM66.2 72.1h0.6v0.6h-0.6zM81.4 76.7h0.6v0.6h-0.6zM79.1 70.7h0.6v0.6h-0.6zM76.5 84.2h0.6v0.6h-0.6zM73.0 74.2h0.6v0.6h-0.6zM71.7 72.6h0.6v0.6h-0.6zM74.8 77.9h0.6v0.6h-0.6zM69.1 67.2h0.6v0.6h-0.6zM73.3 73.4h0.6v0.6h-0.6zM79.5 75.4h0.6v0.6h-0.6zM70.4 74.8h0.6v0.6h-0.6zM78.2 73.7h0.6v0.6h-0.6zM71.6 75.2h0.6v0.6h-0.6zM71.6 65.5h0.6v0.6h-0.6zM79.2 67.7h0.6v0.6h-0.6zM71.7 71.4h0.6v0.6h-0.6zM71.6 71.5h0.6v0.6h-0.6zM66.7 74.6h0.6v0.6h-0.6zM73.3 72.8h0.6v0.6h-0.6zM78.0 76.8h0.6v0.6h-0.6zM79.2 79.6h0.6v0.6h-0.6zM75.2 66.8h0.6v0.6h-0.6zM74.1 72.7h0.6v0.6h-0.6zM73.4 70.3h0.6v0.6h-0.6zM69.1 75.6h0.6v0.6h-0.6zM77.5 68.4h0.6v0.6h-0.6zM75.6 72.0h0.6v0.6h-0.6zM71.4 75.2h0.6v0.6h-0.6zM72.9 70.5h0.6v0.6h-0.6zM73.4 65.0h0.6v0.6h-0.6zM70.4 70.9h0.6v0.6h-0.6zM66.8 73.3h0.6v0.6h-0.6zM74.3 70.3h0.6v0.6h-0.6zM72.3 75.1h0.6v0.6h-0.6zM77.8 69.7h0.6v0.6h-0.6zM74.6 76.5h0.6v0.6h-0.6zM72.9 69.6h0.6v0.6h-0.6zM69.6 71.3h0.6v0.6h-0.6zM68.4 80.2h0.6v0.6h-0.6zM70.5 74.0h0.6v0.6h-0.6zM73.8 74.9h0.6v0.6h-0.6zM71.3 67.6h0.6v0.6h-0.6zM80.4 72.2h0.6v0.6h-0.6zM73.5 73.3h0.6v0.6h-0.6zM78.7 75.4h0.6v0.6h-0.6zM73.3 89.5h0.6v0.6h-0.6zM70.9 88.5h0.6v0.6h-0.6zM68.7 84.5h0.6v0.6h-0.6zM69.9 86.1h0.6v0.6h-0.6zM76.7 90.8h0.6v0.6h-0.6zM73.3 87.0h0.6v0.6h-0.6zM75.4 84.9h0.6v0.6h-0.6zM67.6 86.6h0.6v0.6h-0.6zM68.2 88.2h0.6v0.6h-0.6zM71.0 91.4h0.6v0.6h-0.6zM72.9 90.2h0.6v0.6h-0.6zM71.5 87.7h0.6v0.6h-0.6zM68.9 85.3h0.6v0.6h-0.6zM68.4 87.3h0.6v0.6h-0.6zM72.3 85.0h0.6v0.6h-0.6zM67.2 88.4h0.6v0.6h-0.6zM68.0 88.6h0.6v0.6h-0.6zM69.5 86.6h0.6v0.6h-0.6zM67.3 87.8h0.6v0.6h-0.6zM68.8 86.9h0.6v0.6h-0.6zM69.0 88.3h0.6v0.6h-0.6zM70.9 84.9h0.6v0.6h-0.6zM70.1 88.7h0.6v0.6h-0.6zM73.0 89.4h0.6v0.6h-0.6zM71.0 85.9h0.6v0.6h-0.6zM68.7 89.6h0.6v0.6h-0.6zM68.8 89.8h0.6v0.6h-0.6zM73.6 86.1h0.6v0.6h-0.6zM71.6 87.8h0.6v0.6h-0.6zM75.4 89.5h0.6v0.6h-0.6zM69.3 88.7h0.6v0.6h-0.6zM68.3 87.7h0.6v0.6h-0.6zM71.0 88.3h0.6v0.6h-0.6zM71.2 86.4h0.6v0.6h-0.6zM66.1 87.3h0.6v0.6h-0.6zM68.4 86.7h0.6v0.6h-0.6zM75.6 90.1h0.6v0.6h-0.6zM70.1 85.4h0.6v0.6h-0.6zM67.4 88.7h0.6v0.6h-0.6zM73.1 87.5h0.6v0.6h-0.6zM70.8 88.5h0.6v0.6h-0.6zM73.1 84.6h0.6v0.6h-0.6zM70.9 88.7h0.6v0.6h-0.6zM72.8 88.7h0.6v0.6h-0.6zM67.9 87.0h0.6v0.6h-0.6zM66.8 88.3h0.6v0.6h-0.6zM71.0 88.9h0.6v0.6h-0.6zM68.2 85.9h0.6v0.6h-0.6zM74.2 88.3h0.6v0.6h-0.6zM74.7 88.8h0.6v0.6h-0.6zM67.0 89.4h0.6v0.6h-0.6zM73.5 87.2h0.6v0.6h-0.6zM65.9 89.2h0.6v0.6h-0.6zM70.2 88.5h0.6v0.6h-0.6zM64.1 88.8h0.6v0.6h-0.6zM63.9 86.4h0.6v0.6h-0.6zM72.6 84.7h0.6v0.6h-0.6zM66.0 87.2h0.6v0.6h-0.6zM74.5 90.9h0.6v0.6h-0.6zM69.0 89.8h0.6v0.6h-0.6zM71.9 88.5h0.6v0.6h-0.6zM71.4 86.7h0.6v0.6h-0.6zM72.4 89.9h0.6v0.6h-0.6zM77.0 89.6h0.6v0.6h-0.6zM64.6 85.8h0.6v0.6h-0.6zM71.3 88.1h0.6v0.6h-0.6zM66.0 87.7h0.6v0.6h-0.6zM69.6 87.9h0.6v0.6h-0.6zM70.2 89.6h0.6v0.6h-0.6zM74.0 89.2h0.6v0.6h-0.6zM67.8 86.4h0.6v0.6h-0.6zM68.9 87.9h0.6v0.6h-0.6zM69.5 87.4h0.6v0.6h-0.6zM68.3 89.7h0.6v0.6h-0.6zM72.5 89.7h0.6v0.6h-0.6zM70.3 88.8h0.6v0.6h-0.6zM68.3 86.2h0.6v0.6h-0.6zM69.2 89.0h0.6v0.6h-0.6zM70.1 85.9h0.6v0.6h-0.6zM70.7 88.8h0.6v0.6h-0.6zM70.9 86.8h0.6v0.6h-0.6zM70.6 87.2h0.6v0.6h-0.6zM69.7 87.8h0.6v0.6h-0.6zM72.3 91.3h0.6v0.6h-0.6zM74.2 89.1h0.6v0.6h-0.6zM69.5 87.4h0.6v0.6h-0.6zM69.9 90.1h0.6v0.6h-0.6zM63.9 88.5h0.6v0.6h-0.6zM65.7 88.0h0.6v0.6h-0.6zM73.7 86.4h0.6v0.6h-0.6zM65.0 90.3h0.6v0.6h-0.6zM74.1 88.9h0.6v0.6h-0.6zM73.5 86.6h0.6v0.6h-0.6zM73.3 91.1h0.6v0.6h-0.6zM72.0 88.5h0.6v0.6h-0.6zM73.6 90.0h0.6v0.6h-0.6zM68.7 90.4h0.6v0.6h-0.6zM72.3 88.3h0.6v0.6h-0.6zM73.6 89.7h0.6v0.6h-0.6zM72.3 87.1h0.6v0.6h-0.6zM72.5 86.0h0.6v0.6h-0.6zM70.2 85.0h0.6v0.6h-0.6zM66.4 88.8h0.6v0.6h-0.6zM70.3 88.2h0.6v0.6h-0.6zM71.9 88.6h0.6v0.6h-0.6zM68.4 88.1h0.6v0.6h-0.6zM70.3 87.1h0.6v0.6h-0.6zM70.2 87.3h0.6v0.6h-0.6zM68.9 87.4h0.6v0.6h-0.6zM71.1 91.7h0.6v0.6h-0.6zM68.5 88.9h0.6v0.6h-0.6zM67.0 90.9h0.6v0.6h-0.6zM69.7 88.2h0.6v0.6h-0.6zM73.6 89.8h0.6v0.6h-0.6zM66.9 89.0h0.6v0.6h-0.6zM70.0 89.1h0.6v0.6h-0.6zM70.9 89.3h0.6v0.6h-0.6zM71.2 87.7h0.6v0.6h-0.6zM73.3 85.2h0.6v0.6h-0.6zM69.5 86.3h0.6v0.6h-0.6zM70.2 87.2h0.6v0.6h-0.6zM70.1 87.1h0.6v0.6h-0.6zM69.4 85.0h0.6v0.6h-0.6zM70.4 88.6h0.6v0.6h-0.6zM69.1 86.8h0.6v0.6h-0.6zM69.0 91.0h0.6v0.6h-0.6zM71.0 88.7h0.6v0.6h-0.6zM69.8 87.1h0.6v0.6h-0.6zM68.4 90.8h0.6v0.6h-0.6zM66.4 88.5h0.6v0.6h-0.6zM70.4 87.5h0.6v0.6h-0.6zM66.7 85.8h0.6v0.6h-0.6zM72.9 86.8h0.6v0.6h-0.6zM72.6 89.2h0.6v0.6h-0.6zM71.9 89.4h0.6v0.6h-0.6zM67.6 87.1h0.6v0.6h-0.6zM72.1 85.7h0.6v0.6h-0.6zM74.5 87.0h0.6v0.6h-0.6zM70.3 86.2h0.6v0.6h-0.6zM71.4 86.7h0.6v0.6h-0.6zM69.9 86.0h0.6v0.6h-0.6zM73.4 85.1h0.6v0.6h-0.6zM71.6 88.4h0.6v0.6h-0.6zM71.6 86.2h0.6v0.6h-0.6zM73.0 89.7h0.6v0.6h-0.6zM70.9 88.6h0.6v0.6h-0.6zM70.1 89.2h0.6v0.6h-0.6zM68.5 89.0h0.6v0.6h-0.6zM71.5 85.5h0.6v0.6h-0.6zM64.2 87.8h0.6v0.6h-0.6zM70.1 90.2h0.6v0.6h-0.6zM70.6 87.1h0.6v0.6h-0.6zM67.2 87.8h0.6v0.6h-0.6zM69.1 86.0h0.6v0.6h-0.6zM70.2 89.9h0.6v0.6h-0.6zM70.7 86.1h0.6v0.6h-0.6zM71.3 86.0h0.6v0.6h-0.6zM66.7 88.9h0.6v0.6h-0.6zM69.2 90.0h0.6v0.6h-0.6zM71.2 86.5h0.6v0.6h-0.6zM71.0 90.3h0.6v0.6h-0.6zM70.0 86.1h0.6v0.6h-0.6zM68.9 86.5h0.6v0.6h-0.6zM67.7 85.7h0.6v0.6h-0.6zM71.5 90.0h0.6v0.6h-0.6zM69.6 89.4h0.6v0.6h-0.6zM72.7 91.0h0.6v0.6h-0.6zM70.1 87.4h0.6v0.6h-0.6zM71.5 88.2h0.6v0.6h-0.6zM71.2 90.3h0.6v0.6h-0.6zM69.5 88.4h0.6v0.6h-0.6zM68.1 87.7h0.6v0.6h-0.6zM68.9 86.6h0.6v0.6h-0.6zM70.0 87.2h0.6v0.6h-0.6zM71.4 89.4h0.6v0.6h-0.6zM66.9 89.8h0.6v0.6h-0.6zM65.2 88.4h0.6v0.6h-0.6zM72.2 86.8h0.6v0.6h-0.6zM70.0 86.6h0.6v0.6h-0.6zM72.6 82.3h0.6v0.6h-0.6zM68.2 84.5h0.6v0.6h-0.6zM71.0 90.3h0.6v0.6h-0.6zM73.4 89.2h0.6v0.6h-0.6zM71.1 86.6h0.6v0.6h-0.6zM73.4 89.1h0.6v0.6h-0.6zM68.5 85.7h0.6v0.6h-0.6zM69.0 89.9h0.6v0.6h-0.6zM73.5 90.9h0.6v0.6h-0.6zM68.6 87.4h0.6v0.6h-0.6zM73.8 88.4h0.6v0.6h-0.6zM72.3 85.6h0.6v0.6h-0.6zM69.6 88.0h0.6v0.6h-0.6zM69.7 87.3h0.6v0.6h-0.6zM66.6 90.9h0.6v0.6h-0.6zM70.9 85.4h0.6v0.6h-0.6zM73.1 88.1h0.6v0.6h-0.6zM72.2 87.7h0.6v0.6h-0.6zM68.6 86.7h0.6v0.6h-0.6zM71.4 89.4h0.6v0.6h-0.6zM71.7 89.2h0.6v0.6h-0.6zM73.4 88.6h0.6v0.6h-0.6zM73.0 90.0h0.6v0.6h-0.6zM71.3 87.9h0.6v0.6h-0.6zM69.5 85.9h0.6v0.6h-0.6zM66.8 90.4h0.6v0.6h-0.6zM70.6 87.1h0.6v0.6h-0.6zM74.4 89.8h0.6v0.6h-0.6zM70.7 89.9h0.6v0.6h-0.6zM70.1 88.7h0.6v0.6h-0.6zM75.0 90.0h0.6v0.6h-0.6zM70.0 89.3h0.6v0.6h-0.6zM73.5 87.9h0.6v0.6h-0.6zM69.6 91.5h0.6v0.6h-0.6zM69.9 85.7h0.6v0.6h-0.6zM71.0 92.3h0.6v0.6h-0.6zM72.2 89.9h0.6v0.6h-0.6zM65.5 87.2h0.6v0.6h-0.6zM73.6 87.5h0.6v0.6h-0.6zM73.9 89.1h0.6v0.6h-0.6zM71.7 91.3h0.6v0.6h-0.6zM80.1 87.4h0.6v0.6h-0.6zM81.6 88.6h0.6v0.6h-0.6zM77.2 90.5h0.6v0.6h-0.6zM81.9 87.9h0.6v0.6h-0.6zM82.8 87.5h0.6v0.6h-0.6zM84.2 88.4h0.6v0.6h-0.6zM83.1 86.7h0.6v0.6h-0.6zM80.7 88.9h0.6v0.6h-0.6zM79.1 87.1h0.6v0.6h-0.6zM81.2 90.2h0.6v0.6h-0.6zM83.1 89.9h0.6v0.6h-0.6zM82.0 89.9h0.6v0.6h-0.6zM85.0 88.5h0.6v0.6h-0.6zM82.3 89.3h0.6v0.6h-0.6zM76.5 88.0h0.6v0.6h-0.6zM82.3 89.6h0.6v0.6h-0.6zM80.5 90.0h0.6v0.6h-0.6zM79.8 87.9h0.6v0.6h-0.6zM85.3 85.8h0.6v0.6h-0.6zM81.1 87.9h0.6v0.6h-0.6zM81.0 87.2h0.6v0.6h-0.6zM82.8 86.3h0.6v0.6h-0.6zM78.1 89.0h0.6v0.6h-0.6zM78.4 88.8h0.6v0.6h-0.6zM81.3 86.9h0.6v0.6h-0.6zM80.4 88.0h0.6v0.6h-0.6zM82.3 87.0h0.6v0.6h-0.6zM80.7 85.6h0.6v0.6h-0.6zM80.5 84.7h0.6v0.6h-0.6zM81.1 87.3h0.6v0.6h-0.6zM86.2 90.4h0.6v0.6h-0.6zM80.8 89.8h0.6v0.6h-0.6zM81.8 86.0h0.6v0.6h-0.6zM75.3 90.1h0.6v0.6h-0.6zM82.0 84.6h0.6v0.6h-0.6zM82.6 89.7h0.6v0.6h-0.6zM79.5 89.5h0.6v0.6h-0.6zM77.0 87.7h0.6v0.6h-0.6zM81.2 89.5h0.6v0.6h-0.6zM82.0 88.5h0.6v0.6h-0.6zM82.4 86.9h0.6v0.6h-0.6zM84.6 87.4h0.6v0.6h-0.6zM83.0 88.0h0.6v0.6h-0.6zM80.5 89.1h0.6v0.6h-0.6zM82.1 90.5h0.6v0.6h-0.6zM83.6 87.0h0.6v0.6h-0.6zM82.3 88.2h0.6v0.6h-0.6zM79.2 86.1h0.6v0.6h-0.6zM81.7 87.1h0.6v0.6h-0.6zM77.7 87.9h0.6v0.6h-0.6zM81.6 88.2h0.6v0.6h-0.6zM78.2 87.0h0.6v0.6h-0.6zM84.3 86.7h0.6v0.6h-0.6zM80.3 92.2h0.6v0.6h-0.6zM81.9 87.1h0.6v0.6h-0.6zM76.4 88.6h0.6v0.6h-0.6zM77.7 88.0h0.6v0.6h-0.6zM79.0 85.0h0.6v0.6h-0.6zM85.0 87.8h0.6v0.6h-0.6zM83.2 89.3h0.6v0.6h-0.6zM79.3 88.2h0.6v0.6h-0.6zM80.2 89.7h0.6v0.6h-0.6zM82.1 87.4h0.6v0.6h-0.6zM85.0 88.9h0.6v0.6h-0.6zM82.1 86.6h0.6v0.6h-0.6zM82.0 85.4h0.6v0.6h-0.6zM82.1 86.3h0.6v0.6h-0.6zM81.4 87.5h0.6v0.6h-0.6zM81.6 88.6h0.6v0.6h-0.6zM80.9 87.9h0.6v0.6h-0.6zM77.4 84.6h0.6v0.6h-0.6zM84.0 89.0h0.6v0.6h-0.6zM77.5 91.4h0.6v0.6h-0.6zM79.3 88.9h0.6v0.6h-0.6zM82.0 88.2h0.6v0.6h-0.6zM82.5 85.5h0.6v0.6h-0.6zM80.9 87.5h0.6v0.6h-0.6zM81.2 87.5h0.6v0.6h-0.6zM79.5 86.7h0.6v0.6h-0.6zM83.1 86.5h0.6v0.6h-0.6zM81.9 88.6h0.6v0.6h-0.6zM80.8 88.8h0.6v0.6h-0.6zM82.3 87.0h0.6v0.6h-0.6zM81.8 91.4h0.6v0.6h-0.6zM78.4 87.5h0.6v0.6h-0.6zM79.2 91.6h0.6v0.6h-0.6zM77.6 88.0h0.6v0.6h-0.6zM83.2 86.4h0.6v0.6h-0.6zM80.7 86.7h0.6v0.6h-0.6zM77.8 87.9h0.6v0.6h-0.6zM82.2 87.3h0.6v0.6h-0.6zM81.4 89.2h0.6v0.6h-0.6zM83.9 85.8h0.6v0.6h-0.6zM82.5 86.9h0.6v0.6h-0.6zM76.5 86.6h0.6v0.6h-0.6zM82.5 88.6h0.6v0.6h-0.6zM78.4 90.9h0.6v0.6h-0.6zM82.0 87.9h0.6v0.6h-0.6zM79.7 88.7h0.6v0.6h-0.6zM80.1 90.0h0.6v0.6h-0.6zM81.8 89.1h0.6v0.6h-0.6zM80.3 85.3h0.6v0.6h-0.6zM82.3 86.2h0.6v0.6h-0.6zM80.7 88.0h0.6v0.6h-0.6zM79.1 89.6h0.6v0.6h-0.6zM77.6 90.7h0.6v0.6h-0.6zM79.6 89.7h0.6v0.6h-0.6zM84.1 86.5h0.6v0.6h-0.6zM79.2 89.7h0.6v0.6h-0.6zM81.4 88.1h0.6v0.6h-0.6zM76.6 85.1h0.6v0.6h-0.6zM82.3 90.6h0.6v0.6h-0.6zM79.3 86.5h0.6v0.6h-0.6zM81.5 88.8h0.6v0.6h-0.6zM82.3 87.2h0.6v0.6h-0.6zM76.4 90.6h0.6v0.6h-0.6zM79.8 90.2h0.6v0.6h-0.6zM76.3 88.7h0.6v0.6h-0.6zM79.8 86.1h0.6v0.6h-0.6zM83.3 90.3h0.6v0.6h-0.6zM79.6 89.2h0.6v0.6h-0.6zM78.4 86.9h0.6v0.6h-0.6zM80.4 87.4h0.6v0.6h-0.6zM82.5 85.8h0.6v0.6h-0.6zM83.3 89.7h0.6v0.6h-0.6zM80.5 85.9h0.6v0.6h-0.6zM75.3 87.9h0.6v0.6h-0.6zM79.3 88.2h0.6v0.6h-0.6zM78.5 88.0h0.6v0.6h-0.6zM80.9 88.0h0.6v0.6h-0.6zM81.7 88.5h0.6v0.6h-0.6zM83.3 86.6h0.6v0.6h-0.6zM82.7 88.3h0.6v0.6h-0.6zM80.0 86.2h0.6v0.6h-0.6zM84.5 88.4h0.6v0.6h-0.6zM79.8 88.1h0.6v0.6h-0.6zM81.0 87.1h0.6v0.6h-0.6zM77.7 88.3h0.6v0.6h-0.6zM80.6 87.5h0.6v0.6h-0.6zM83.3 85.7h0.6v0.6h-0.6zM78.7 88.3h0.6v0.6h-0.6zM83.0 89.1h0.6v0.6h-0.6zM82.7 84.1h0.6v0.6h-0.6zM82.2 88.7h0.6v0.6h-0.6zM82.6 86.8h0.6v0.6h-0.6zM82.2 89.8h0.6v0.6h-0.6zM84.8 88.5h0.6v0.6h-0.6zM77.9 88.1h0.6v0.6h-0.6zM82.5 88.9h0.6v0.6h-0.6zM85.6 87.7h0.6v0.6h-0.6zM78.6 86.9h0.6v0.6h-0.6zM82.6 86.6h0.6v0.6h-0.6zM78.5 86.5h0.6v0.6h-0.6zM83.9 88.4h0.6v0.6h-0.6zM80.2 89.5h0.6v0.6h-0.6zM82.7 86.3h0.6v0.6h-0.6zM83.0 88.5h0.6v0.6h-0.6zM76.1 85.9h0.6v0.6h-0.6zM81.6 88.9h0.6v0.6h-0.6zM80.3 86.2h0.6v0.6h-0.6zM81.6 84.8h0.6v0.6h-0.6zM82.4 87.8h0.6v0.6h-0.6zM81.0 86.9h0.6v0.6h-0.6zM83.0 83.9h0.6v0.6h-0.6zM79.0 89.1h0.6v0.6h-0.6zM79.4 90.6h0.6v0.6h-0.6zM82.1 86.7h0.6v0.6h-0.6zM83.7 87.9h0.6v0.6h-0.6zM82.4 87.0h0.6v0.6h-0.6zM79.6 89.3h0.6v0.6h-0.6zM81.3 86.7h0.6v0.6h-0.6zM79.0 89.2h0.6v0.6h-0.6zM85.3 86.6h0.6v0.6h-0.6zM82.7 82.9h0.6v0.6h-0.6zM77.8 89.3h0.6v0.6h-0.6zM84.9 88.2h0.6v0.6h-0.6zM82.4 88.5h0.6v0.6h-0.6zM83.5 86.2h0.6v0.6h-0.6zM82.6 87.3h0.6v0.6h-0.6zM80.3 88.1h0.6v0.6h-0.6zM80.6 86.7h0.6v0.6h-0.6zM80.5 86.4h0.6v0.6h-0.6zM84.6 89.3h0.6v0.6h-0.6zM80.1 90.9h0.6v0.6h-0.6zM84.2 89.0h0.6v0.6h-0.6zM79.9 88.6h0.6v0.6h-0.6zM82.5 90.6h0.6v0.6h-0.6zM80.7 87.1h0.6v0.6h-0.6zM86.6 90.6h0.6v0.6h-0.6zM81.9 86.5h0.6v0.6h-0.6zM82.3 90.1h0.6v0.6h-0.6zM82.9 89.6h0.6v0.6h-0.6zM81.2 90.1h0.6v0.6h-0.6zM79.7 87.3h0.6v0.6h-0.6zM79.9 86.9h0.6v0.6h-0.6zM85.7 85.1h0.6v0.6h-0.6zM81.7 86.3h0.6v0.6h-0.6zM78.2 88.3h0.6v0.6h-0.6zM77.4 87.9h0.6v0.6h-0.6zM86.6 87.9h0.6v0.6h-0.6zM82.2 86.6h0.6v0.6h-0.6zM82.2 85.4h0.6v0.6h-0.6zM81.6 87.8h0.6v0.6h-0.6zM86.2 87.9h0.6v0.6h-0.6zM80.2 87.1h0.6v0.6h-0.6zM78.2 89.4h0.6v0.6h-0.6zM84.5 87.4h0.6v0.6h-0.6zM82.7 87.4h0.6v0.6h-0.6zM82.0 88.9h0.6v0.6h-0.6zM77.6 86.6h0.6v0.6h-0.6zM83.3 84.6h0.6v0.6h-0.6zM81.1 87.4h0.6v0.6h-0.6zM78.8 88.1h0.6v0.6h-0.6zM81.8 89.0h0.6v0.6h-0.6zM74.7 91.0h0.6v0.6h-0.6zM79.9 89.9h0.6v0.6h-0.6zM80.7 87.0h0.6v0.6h-0.6zM80.9 93.7h0.6v0.6h-0.6zM84.8 87.4h0.6v0.6h-0.6zM81.6 90.0h0.6v0.6h-0.6zM79.3 72.7h0.6v0.6h-0.6zM72.4 63.5h0.6v0.6h-0.6zM80.8 80.9h0.6v0.6h-0.6zM79.9 71.8h0.6v0.6h-0.6zM85.3 71.2h0.6v0.6h-0.6zM68.2 58.5h0.6v0.6h-0.6zM80.5 73.3h0.6v0.6h-0.6zM84.1 67.6h0.6v0.6h-0.6zM78.7 75.4h0.6v0.6h-0.6zM84.0 70.7h0.6v0.6h-0.6zM65.8 64.1h0.6v0.6h-0.6zM81.4 72.9h0.6v0.6h-0.6zM77.1 65.5h0.6v0.6h-0.6zM75.3 73.8h0.6v0.6h-0.6zM79.5 60.3h0.6v0.6h-0.6zM67.1 85.8h0.6v0.6h-0.6zM70.5 71.3h0.6v0.6h-0.6zM70.4 60.0h0.6v0.6h-0.6zM64.3 75.0h0.6v0.6h-0.6zM68.0 88.2h0.6v0.6h-0.6zM70.5 62.3h0.6v0.6h-0.6zM86.4 68.6h0.6v0.6h-0.6zM78.6 60.7h0.6v0.6h-0.6zM79.9 77.1h0.6v0.6h-0.6zM85.1 73.7h0.6v0.6h-0.6zM78.6 73.3h0.6v0.6h-0.6zM82.2 68.6h0.6v0.6h-0.6zM78.8 67.4h0.6v0.6h-0.6zM80.3 69.7h0.6v0.6h-0.6zM68.1 66.5h0.6v0.6h-0.6zM87.2 59.5h0.6v0.6h-0.6zM60.6 77.0h0.6v0.6h-0.6zM64.9 68.2h0.6v0.6h-0.6zM69.5 90.2h0.6v0.6h-0.6zM67.9 66.1h0.6v0.6h-0.6zM70.4 73.8h0.6v0.6h-0.6zM78.4 60.2h0.6v0.6h-0.6zM77.9 87.6h0.6v0.6h-0.6zM57.9 76.6h0.6v0.6h-0.6zM80.9 73.2h0.6v0.6h-0.6zM84.7 69.4h0.6v0.6h-0.6zM72.1 81.8h0.6v0.6h-0.6zM79.3 77.7h0.6v0.6h-0.6zM79.4 88.3h0.6v0.6h-0.6zM76.5 80.1h0.6v0.6h-0.6zM80.9 60.1h0.6v0.6h-0.6zM67.1 88.6h0.6v0.6h-0.6zM71.5 71.5h0.6v0.6h-0.6zM62.1 69.2h0.6v0.6h-0.6zM62.2 67.1h0.6v0.6h-0.6zM79.0 65.3h0.6v0.6h-0.6zM68.5 82.7h0.6v0.6h-0.6zM78.2 76.1h0.6v0.6h-0.6zM82.9 67.6h0.6v0.6h-0.6zM80.6 70.3h0.6v0.6h-0.6zM74.0 63.3h0.6v0.6h-0.6zM79.6 77.0h0.6v0.6h-0.6zM75.6 59.3h0.6v0.6h-0.6zM66.4 71.7h0.6v0.6h-0.6zM66.5 75.1h0.6v0.6h-0.6zM83.0 66.0h0.6v0.6h-0.6zM72.4 66.5h0.6v0.6h-0.6zM83.3 79.2h0.6v0.6h-0.6zM65.6 75.3h0.6v0.6h-0.6zM71.9 73.5h0.6v0.6h-0.6zM85.2 69.7h0.6v0.6h-0.6zM83.5 73.1h0.6v0.6h-0.6zM71.9 68.0h0.6v0.6h-0.6zM86.8 68.0h0.6v0.6h-0.6zM85.4 68.0h0.6v0.6h-0.6zM74.5 74.9h0.6v0.6h-0.6zM77.2 104.5h0.6v0.6h-0.6zM72.4 100.2h0.6v0.6h-0.6zM68.9 106.4h0.6v0.6h-0.6zM64.5 112.6h0.6v0.6h-0.6zM81.3 106.0h0.6v0.6h-0.6zM67.9 111.2h0.6v0.6h-0.6zM80.7 103.7h0.6v0.6h-0.6zM81.8 94.4h0.6v0.6h-0.6zM69.7 97.5h0.6v0.6h-0.6zM76.2 118.5h0.6v0.6h-0.6zM75.6 114.2h0.6v0.6h-0.6zM74.8 101.9h0.6v0.6h-0.6zM84.2 109.4h0.6v0.6h-0.6zM87.9 112.9h0.6v0.6h-0.6zM67.8 84.7h0.6v0.6h-0.6zM76.3 95.7h0.6v0.6h-0.6zM62.4 93.2h0.6v0.6h-0.6zM69.3 103.5h0.6v0.6h-0.6zM64.2 105.0h0.6v0.6h-0.6zM63.9 97.1h0.6v0.6h-0.6zM75.7 108.4h0.6v0.6h-0.6zM63.5 114.2h0.6v0.6h-0.6zM66.7 112.7h0.6v0.6h-0.6zM74.6 112.3h0.6v0.6h-0.6zM80.1 102.7h0.6v0.6h-0.6zM79.3 94.3h0.6v0.6h-0.6zM63.3 102.2h0.6v0.6h-0.6zM87.4 99.1h0.6v0.6h-0.6zM69.6 118.3h0.6v0.6h-0.6zM75.4 105.0h0.6v0.6h-0.6zM65.6 105.5h0.6v0.6h-0.6zM80.4 104.6h0.6v0.6h-0.6zM81.9 107.7h0.6v0.6h-0.6zM84.5 111.6h0.6v0.6h-0.6zM73.8 112.0h0.6v0.6h-0.6zM64.0 106.5h0.6v0.6h-0.6zM81.8 96.1h0.6v0.6h-0.6zM73.3 116.7h0.6v0.6h-0.6zM64.5 101.0h0.6v0.6h-0.6zM75.0 103.8h0.6v0.6h-0.6zM69.6 106.0h0.6v0.6h-0.6zM62.2 100.3h0.6v0.6h-0.6zM69.5 102.5h0.6v0.6h-0.6zM72.2 104.9h0.6v0.6h-0.6zM71.7 101.5h0.6v0.6h-0.6zM78.1 112.1h0.6v0.6h-0.6zM83.5 95.6h0.6v0.6h-0.6zM77.1 110.8h0.6v0.6h-0.6zM72.4 108.6h0.6v0.6h-0.6zM72.8 107.9h0.6v0.6h-0.6zM61.1 108.5h0.6v0.6h-0.6zM70.5 98.9h0.6v0.6h-0.6zM72.1 112.7h0.6v0.6h-0.6zM83.3 106.8h0.6v0.6h-0.6zM82.6 101.6h0.6v0.6h-0.6zM63.6 89.9h0.6v0.6h-0.6zM74.5 103.6h0.6v0.6h-0.6zM75.1 105.3h0.6v0.6h-0.6zM85.7 97.4h0.6v0.6h-0.6zM81.7 102.4h0.6v0.6h-0.6zM71.5 104.1h0.6v0.6h-0.6zM76.4 102.9h0.6v0.6h-0.6zM85.0 95.3h0.6v0.6h-0.6zM72.2 99.3h0.6v0.6h-0.6zM81.7 106.1h0.6v0.6h-0.6zM81.8 105.3h0.6v0.6h-0.6zM67.9 104.7h0.6v0.6h-0.6zM71.1 110.8h0.6v0.6h-0.6zM83.4 107.8h0.6v0.6h-0.6zM73.1 99.4h0.6v0.6h-0.6zM89.2 113.7h0.6v0.6h-0.6zM67.2 101.8h0.6v0.6h-0.6zM90.1 95.8h0.6v0.6h-0.6zM70.6 103.0h0.6v0.6h-0.6zM85.2 100.8h0.6v0.6h-0.6zM75.2 106.9h0.6v0.6h-0.6zM87.6 92.0h0.6v0.6h-0.6zM67.5 103.9h0.6v0.6h-0.6zM83.2 99.8h0.6v0.6h-0.6zM79.2 100.9h0.6v0.6h-0.6zM71.4 115.2h0.6v0.6h-0.6zM78.2 114.0h0.6v0.6h-0.6zM81.7 92.6h0.6v0.6h-0.6zM61.1 108.9h0.6v0.6h-0.6zM65.0 100.6h0.6v0.6h-0.6zM72.0 97.7h0.6v0.6h-0.6zM85.6 111.2h0.6v0.6h-0.6zM76.6 109.5h0.6v0.6h-0.6zM66.8 112.0h0.6v0.6h-0.6zM67.3 117.5h0.6v0.6h-0.6zM69.0 100.6h0.6v0.6h-0.6zM85.5 110.2h0.6v0.6h-0.6zM66.4 109.8h0.6v0.6h-0.6zM75.0 105.1h0.6v0.6h-0.6zM80.6 109.9h0.6v0.6h-0.6zM84.2 108.9h0.6v0.6h-0.6zM78.0 104.2h0.6v0.6h-0.6zM88.5 98.8h0.6v0.6h-0.6zM94.0 114.2h0.6v0.6h-0.6zM76.8 109.6h0.6v0.6h-0.6zM63.8 87.3h0.6v0.6h-0.6zM77.7 108.5h0.6v0.6h-0.6zM81.4 107.5h0.6v0.6h-0.6zM57.2 108.1h0.6v0.6h-0.6zM85.2 117.7h0.6v0.6h-0.6zM66.6 97.9h0.6v0.6h-0.6zM68.8 99.9h0.6v0.6h-0.6zM60.5 99.6h0.6v0.6h-0.6zM89.3 96.6h0.6v0.6h-0.6zM58.2 102.8h0.6v0.6h-0.6zM70.5 110.4h0.6v0.6h-0.6zM68.3 103.5h0.6v0.6h-0.6zM67.4 97.2h0.6v0.6h-0.6zM78.3 106.0h0.6v0.6h-0.6zM74.5 109.1h0.6v0.6h-0.6zM67.5 105.1h0.6v0.6h-0.6zM76.8 114.4h0.6v0.6h-0.6zM57.9 102.1h0.6v0.6h-0.6zM79.0 100.3h0.6v0.6h-0.6zM75.8 110.5h0.6v0.6h-0.6zM79.3 91.1h0.6v0.6h-0.6zM64.1 82.3h0.6v0.6h-0.6zM80.8 106.6h0.6v0.6h-0.6zM87.1 105.4h0.6v0.6h-0.6zM64.6 113.5h0.6v0.6h-0.6zM63.0 104.9h0.6v0.6h-0.6zM73.1 111.2h0.6v0.6h-0.6zM83.2 101.5h0.6v0.6h-0.6zM68.3 104.6h0.6v0.6h-0.6zM69.7 112.6h0.6v0.6h-0.6zM78.4 116.1h0.6v0.6h-0.6zM69.5 108.8h0.6v0.6h-0.6zM78.6 102.2h0.6v0.6h-0.6zM75.7 95.6h0.6v0.6h-0.6zM77.9 105.0h0.6v0.6h-0.6zM65.6 104.1h0.6v0.6h-0.6zM71.4 84.9h0.6v0.6h-0.6zM71.8 97.2h0.6v0.6h-0.6zM78.5 94.2h0.6v0.6h-0.6zM83.0 108.9h0.6v0.6h-0.6zM79.7 103.9h0.6v0.6h-0.6zM73.4 106.7h0.6v0.6h-0.6zM73.0 93.5h0.6v0.6h-0.6zM65.8 105.0h0.6v0.6h-0.6zM60.4 103.8h0.6v0.6h-0.6zM72.0 110.8h0.6v0.6h-0.6zM76.4 102.5h0.6v0.6h-0.6zM72.2 108.4h0.6v0.6h-0.6zM83.4 96.3h0.6v0.6h-0.6zM61.0 98.9h0.6v0.6h-0.6zM82.5 112.8h0.6v0.6h-0.6zM88.9 105.4h0.6v0.6h-0.6zM76.3 100.1h0.6v0.6h-0.6zM70.2 107.2h0.6v0.6h-0.6zM83.2 108.4h0.6v0.6h-0.6zM74.9 100.1h0.6v0.6h-0.6zM76.2 112.1h0.6v0.6h-0.6zM76.1 99.0h0.6v0.6h-0.6zM79.1 115.0h0.6v0.6h-0.6zM67.0 109.3h0.6v0.6h-0.6zM67.1 102.7h0.6v0.6h-0.6zM67.9 119.1h0.6v0.6h-0.6zM62.3 109.0h0.6v0.6h-0.6zM75.2 88.8h0.6v0.6h-0.6zM90.6 100.3h0.6v0.6h-0.6zM72.4 106.6h0.6v0.6h-0.6zM66.6 98.6h0.6v0.6h-0.6zM74.5 97.7h0.6v0.6h-0.6zM75.7 115.1h0.6v0.6h-0.6zM65.6 92.1h0.6v0.6h-0.6zM73.6 108.1h0.6v0.6h-0.6zM80.9 96.0h0.6v0.6h-0.6zM81.3 117.0h0.6v0.6h-0.6zM66.1 109.4h0.6v0.6h-0.6zM83.9 90.0h0.6v0.6h-0.6zM84.4 116.3h0.6v0.6h-0.6zM80.1 109.2h0.6v0.6h-0.6zM81.5 102.7h0.6v0.6h-0.6zM61.8 97.4h0.6v0.6h-0.6zM73.2 98.0h0.6v0.6h-0.6zM84.1 101.5h0.6v0.6h-0.6zM73.8 90.6h0.6v0.6h-0.6zM78.4 99.2h0.6v0.6h-0.6zM88.4 91.0h0.6v0.6h-0.6zM77.7 101.6h0.6v0.6h-0.6zM71.5 118.5h0.6v0.6h-0.6zM83.5 98.0h0.6v0.6h-0.6zM87.4 99.6h0.6v0.6h-0.6zM82.0 90.9h0.6v0.6h-0.6zM71.9 102.5h0.6v0.6h-0.6zM71.8 92.1h0.6v0.6h-0.6zM57.7 104.7h0.6v0.6h-0.6zM80.3 105.1h0.6v0.6h-0.6zM71.7 92.7h0.6v0.6h-0.6zM72.4 100.4h0.6v0.6h-0.6zM68.3 106.3h0.6v0.6h-0.6zM76.4 108.0h0.6v0.6h-0.6zM72.5 98.2h0.6v0.6h-0.6zM73.0 102.3h0.6v0.6h-0.6zM60.0 102.0h0.6v0.6h-0.6zM59.8 89.0h0.6v0.6h-0.6zM67.4 99.7h0.6v0.6h-0.6zM81.1 102.3h0.6v0.6h-0.6zM79.5 116.4h0.6v0.6h-0.6zM75.9 107.8h0.6v0.6h-0.6zM68.5 111.4h0.6v0.6h-0.6zM75.3 105.3h0.6v0.6h-0.6zM64.6 97.3h0.6v0.6h-0.6zM68.7 105.6h0.6v0.6h-0.6zM84.6 92.7h0.6v0.6h-0.6zM71.5 102.3h0.6v0.6h-0.6zM95.3 103.2h0.6v0.6h-0.6zM69.9 110.7h0.6v0.6h-0.6zM64.8 109.1h0.6v0.6h-0.6zM74.3 101.3h0.6v0.6h-0.6zM62.9 103.6h0.6v0.6h-0.6zM75.5 98.9h0.6v0.6h-0.6zM85.5 102.1h0.6v0.6h-0.6zM75.6 107.1h0.6v0.6h-0.6zM87.0 101.7h0.6v0.6h-0.6zM75.4 107.1h0.6v0.6h-0.6zM80.3 90.1h0.6v0.6h-0.6zM85.1 103.8h0.6v0.6h-0.6zM68.3 104.6h0.6v0.6h-0.6zM57.5 98.7h0.6v0.6h-0.6zM76.5 115.7h0.6v0.6h-0.6zM74.1 108.0h0.6v0.6h-0.6zM72.2 111.8h0.6v0.6h-0.6zM71.2 108.5h0.6v0.6h-0.6zM71.8 97.1h0.6v0.6h-0.6zM65.9 99.7h0.6v0.6h-0.6zM73.1 99.0h0.6v0.6h-0.6zM79.7 108.8h0.6v0.6h-0.6zM82.8 112.5h0.6v0.6h-0.6zM75.5 106.0h0.6v0.6h-0.6zM83.7 93.8h0.6v0.6h-0.6zM67.7 105.7h0.6v0.6h-0.6zM61.8 118.1h0.6v0.6h-0.6zM69.4 101.6h0.6v0.6h-0.6zM77.9 117.1h0.6v0.6h-0.6zM74.6 98.9h0.6v0.6h-0.6zM66.6 106.9h0.6v0.6h-0.6zM86.3 79.6h0.6v0.6h-0.6zM66.6 107.8h0.6v0.6h-0.6zM95.8 88.8h0.6v0.6h-0.6zM71.0 114.6h0.6v0.6h-0.6zM68.8 105.6h0.6v0.6h-0.6zM70.5 110.4h0.6v0.6h-0.6zM65.1 105.2h0.6v0.6h-0.6zM61.9 112.8h0.6v0.6h-0.6zM80.4 104.7h0.6v0.6h-0.6zM75.3 105.2h0.6v0.6h-0.6zM71.7 106.3h0.6v0.6h-0.6zM78.3 104.4h0.6v0.6h-0.6zM69.6 101.7h0.6v0.6h-0.6zM70.9 108.6h0.6v0.6h-0.6zM73.4 105.6h0.6v0.6h-0.6zM69.3 105.8h0.6v0.6h-0.6zM71.0 98.1h0.6v0.6h-0.6zM76.5 117.7h0.6v0.6h-0.6zM67.2 99.8h0.6v0.6h-0.6zM74.6 107.0h0.6v0.6h-0.6zM86.7 99.8h0.6v0.6h-0.6zM73.7 98.6h0.6v0.6h-0.6zM67.1 101.2h0.6v0.6h-0.6zM64.9 108.5h0.6v0.6h-0.6zM84.4 100.8h0.6v0.6h-0.6zM68.5 115.4h0.6v0.6h-0.6zM72.9 116.7h0.6v0.6h-0.6zM65.6 100.5h0.6v0.6h-0.6zM82.0 113.5h0.6v0.6h-0.6zM73.2 112.3h0.6v0.6h-0.6zM64.7 107.0h0.6v0.6h-0.6zM73.4 91.2h0.6v0.6h-0.6zM82.9 99.4h0.6v0.6h-0.6zM78.7 98.7h0.6v0.6h-0.6zM76.3 109.7h0.6v0.6h-0.6zM74.8 101.0h0.6v0.6h-0.6zM80.2 106.5h0.6v0.6h-0.6zM71.0 105.2h0.6v0.6h-0.6zM74.1 102.1h0.6v0.6h-0.6zM82.9 118.8h0.6v0.6h-0.6zM70.2 103.9h0.6v0.6h-0.6zM66.4 94.2h0.6v0.6h-0.6zM85.1 99.5h0.6v0.6h-0.6zM77.9 94.0h0.6v0.6h-0.6zM69.1 108.7h0.6v0.6h-0.6zM79.1 106.7h0.6v0.6h-0.6zM78.5 106.6h0.6v0.6h-0.6zM83.9 118.5h0.6v0.6h-0.6zM79.9 104.0h0.6v0.6h-0.6zM65.6 101.0h0.6v0.6h-0.6zM71.9 116.4h0.6v0.6h-0.6zM60.9 98.5h0.6v0.6h-0.6zM65.6 111.8h0.6v0.6h-0.6zM68.6 90.2h0.6v0.6h-0.6zM60.1 113.6h0.6v0.6h-0.6zM84.3 95.7h0.6v0.6h-0.6zM71.7 104.9h0.6v0.6h-0.6zM61.3 94.8h0.6v0.6h-0.6zM69.0 104.4h0.6v0.6h-0.6zM77.1 89.6h0.6v0.6h-0.6zM76.8 103.7h0.6v0.6h-0.6zM72.2 101.0h0.6v0.6h-0.6zM83.8 117.1h0.6v0.6h-0.6zM70.5 103.3h0.6v0.6h-0.6zM60.3 101.4h0.6v0.6h-0.6zM80.8 103.8h0.6v0.6h-0.6zM77.8 103.8h0.6v0.6h-0.6zM75.5 110.0h0.6v0.6h-0.6zM81.6 89.2h0.6v0.6h-0.6zM72.8 81.5h0.6v0.6h-0.6zM74.9 100.5h0.6v0.6h-0.6zM69.5 117.3h0.6v0.6h-0.6zM78.1 113.9h0.6v0.6h-0.6zM80.5 118.4h0.6v0.6h-0.6zM72.7 102.9h0.6v0.6h-0.6zM71.0 105.2h0.6v0.6h-0.6zM87.3 112.4h0.6v0.6h-0.6zM70.5 118.9h0.6v0.6h-0.6zM79.3 116.6h0.6v0.6h-0.6zM80.4 111.2h0.6v0.6h-0.6zM68.3 116.3h0.6v0.6h-0.6zM68.7 105.6h0.6v0.6h-0.6zM84.8 102.3h0.6v0.6h-0.6zM76.1 105.1h0.6v0.6h-0.6zM76.4 109.7h0.6v0.6h-0.6zM61.5 100.8h0.6v0.6h-0.6zM93.6 89.4h0.6v0.6h-0.6zM69.3 111.4h0.6v0.6h-0.6zM58.4 98.1h0.6v0.6h-0.6zM67.8 117.5h0.6v0.6h-0.6zM67.2 110.1h0.6v0.6h-0.6zM69.3 105.1h0.6v0.6h-0.6zM64.8 93.2h0.6v0.6h-0.6zM70.8 94.0h0.6v0.6h-0.6zM73.4 105.9h0.6v0.6h-0.6zM78.7 117.2h0.6v0.6h-0.6zM87.8 96.2h0.6v0.6h-0.6zM68.3 118.5h0.6v0.6h-0.6zM74.5 101.9h0.6v0.6h-0.6zM84.6 100.0h0.6v0.6h-0.6zM83.4 102.6h0.6v0.6h-0.6zM86.6 103.8h0.6v0.6h-0.6zM82.4 113.5h0.6v0.6h-0.6zM89.5 98.6h0.6v0.6h-0.6zM71.5 93.7h0.6v0.6h-0.6zM59.5 101.0h0.6v0.6h-0.6zM76.4 115.0h0.6v0.6h-0.6zM76.6 112.0h0.6v0.6h-0.6zM72.7 94.9h0.6v0.6h-0.6zM89.2 102.7h0.6v0.6h-0.6zM85.0 102.0h0.6v0.6h-0.6zM80.3 103.7h0.6v0.6h-0.6zM71.8 103.8h0.6v0.6h-0.6zM81.1 95.3h0.6v0.6h-0.6zM66.2 112.8h0.6v0.6h-0.6zM68.3 106.4h0.6v0.6h-0.6zM62.8 103.2h0.6v0.6h-0.6zM84.8 105.6h0.6v0.6h-0.6zM76.8 101.8h0.6v0.6h-0.6zM75.8 90.6h0.6v0.6h-0.6zM60.2 108.2h0.6v0.6h-0.6zM59.0 115.3h0.6v0.6h-0.6zM82.5 95.2h0.6v0.6h-0.6zM77.6 104.1h0.6v0.6h-0.6zM86.9 108.6h0.6v0.6h-0.6zM88.8 111.8h0.6v0.6h-0.6zM66.3 103.3h0.6v0.6h-0.6zM67.2 102.3h0.6v0.6h-0.6zM70.1 102.9h0.6v0.6h-0.6zM87.0 100.4h0.6v0.6h-0.6zM64.0 99.7h0.6v0.6h-0.6zM70.4 100.1h0.6v0.6h-0.6zM73.2 101.3h0.6v0.6h-0.6zM84.8 112.1h0.6v0.6h-0.6zM67.9 112.7h0.6v0.6h-0.6zM87.4 104.9h0.6v0.6h-0.6zM67.2 108.3h0.6v0.6h-0.6zM74.1 107.6h0.6v0.6h-0.6zM73.1 109.1h0.6v0.6h-0.6zM69.5 106.2h0.6v0.6h-0.6zM62.5 92.5h0.6v0.6h-0.6zM85.2 101.1h0.6v0.6h-0.6zM73.5 113.6h0.6v0.6h-0.6zM79.5 107.6h0.6v0.6h-0.6zM81.0 89.5h0.6v0.6h-0.6zM86.8 115.7h0.6v0.6h-0.6zM91.8 88.3h0.6v0.6h-0.6zM67.5 100.6h0.6v0.6h-0.6zM90.5 109.7h0.6v0.6h-0.6zM69.4 94.8h0.6v0.6h-0.6zM70.1 116.4h0.6v0.6h-0.6zM67.6 91.0h0.6v0.6h-0.6zM77.8 116.2h0.6v0.6h-0.6zM97.2 115.2h0.6v0.6h-0.6zM84.0 90.9h0.6v0.6h-0.6zM71.8 102.2h0.6v0.6h-0.6zM76.5 97.8h0.6v0.6h-0.6zM82.4 115.2h0.6v0.6h-0.6zM76.2 102.9h0.6v0.6h-0.6zM76.9 108.2h0.6v0.6h-0.6zM82.3 98.3h0.6v0.6h-0.6zM88.2 105.4h0.6v0.6h-0.6zM73.6 110.7h0.6v0.6h-0.6zM68.8 112.2h0.6v0.6h-0.6zM77.0 101.3h0.6v0.6h-0.6zM88.6 114.2h0.6v0.6h-0.6zM61.5 112.9h0.6v0.6h-0.6zM69.0 95.6h0.6v0.6h-0.6zM74.4 99.7h0.6v0.6h-0.6zM85.5 94.9h0.6v0.6h-0.6zM63.4 97.4h0.6v0.6h-0.6zM73.7 109.7h0.6v0.6h-0.6zM65.2 99.2h0.6v0.6h-0.6zM60.8 103.4h0.6v0.6h-0.6zM76.2 108.3h0.6v0.6h-0.6zM70.0 101.8h0.6v0.6h-0.6zM80.7 102.7h0.6v0.6h-0.6zM72.2 104.7h0.6v0.6h-0.6zM86.0 102.8h0.6v0.6h-0.6zM78.4 106.8h0.6v0.6h-0.6zM81.3 103.4h0.6v0.6h-0.6zM70.5 99.4h0.6v0.6h-0.6zM77.0 106.0h0.6v0.6h-0.6zM72.6 106.7h0.6v0.6h-0.6zM96.2 111.2h0.6v0.6h-0.6zM58.4 115.3h0.6v0.6h-0.6zM76.2 96.8h0.6v0.6h-0.6zM87.0 104.3h0.6v0.6h-0.6zM84.1 100.0h0.6v0.6h-0.6zM84.4 102.7h0.6v0.6h-0.6zM83.5 111.5h0.6v0.6h-0.6zM64.6 107.9h0.6v0.6h-0.6zM79.2 104.5h0.6v0.6h-0.6zM58.9 107.2h0.6v0.6h-0.6zM72.0 114.5h0.6v0.6h-0.6zM65.3 112.8h0.6v0.6h-0.6zM65.8 112.6h0.6v0.6h-0.6zM70.1 97.3h0.6v0.6h-0.6zM84.6 109.8h0.6v0.6h-0.6zM84.4 92.1h0.6v0.6h-0.6zM64.1 109.6h0.6v0.6h-0.6zM67.3 115.5h0.6v0.6h-0.6zM90.0 103.9h0.6v0.6h-0.6zM75.3 105.2h0.6v0.6h-0.6zM72.4 104.7h0.6v0.6h-0.6zM72.9 108.4h0.6v0.6h-0.6zM72.0 100.8h0.6v0.6h-0.6zM72.3 100.1h0.6v0.6h-0.6zM74.3 109.3h0.6v0.6h-0.6zM93.5 92.0h0.6v0.6h-0.6zM62.6 104.5h0.6v0.6h-0.6zM75.3 104.6h0.6v0.6h-0.6zM91.9 90.4h0.6v0.6h-0.6zM73.6 94.8h0.6v0.6h-0.6zM72.3 109.1h0.6v0.6h-0.6zM62.0 113.2h0.6v0.6h-0.6zM67.4 96.6h0.6v0.6h-0.6zM60.2 99.4h0.6v0.6h-0.6zM68.3 111.6h0.6v0.6h-0.6zM60.9 106.7h0.6v0.6h-0.6zM82.6 103.0h0.6v0.6h-0.6zM81.9 99.5h0.6v0.6h-0.6zM78.7 102.3h0.6v0.6h-0.6zM72.3 108.2h0.6v0.6h-0.6zM70.2 103.4h0.6v0.6h-0.6zM78.0 112.0h0.6v0.6h-0.6zM69.6 105.5h0.6v0.6h-0.6zM73.5 110.6h0.6v0.6h-0.6zM82.4 108.2h0.6v0.6h-0.6zM77.4 119.3h0.6v0.6h-0.6zM67.2 118.1h0.6v0.6h-0.6zM79.8 92.7h0.6v0.6h-0.6zM76.2 93.7h0.6v0.6h-0.6zM73.9 88.8h0.6v0.6h-0.6zM81.6 98.7h0.6v0.6h-0.6zM89.9 99.2h0.6v0.6h-0.6zM75.5 94.2h0.6v0.6h-0.6zM73.9 105.4h0.6v0.6h-0.6zM89.9 111.3h0.6v0.6h-0.6zM72.1 102.8h0.6v0.6h-0.6zM72.3 98.3h0.6v0.6h-0.6zM81.2 104.7h0.6v0.6h-0.6zM79.9 103.2h0.6v0.6h-0.6zM78.5 119.3h0.6v0.6h-0.6zM78.4 112.6h0.6v0.6h-0.6zM67.7 104.1h0.6v0.6h-0.6zM71.9 109.3h0.6v0.6h-0.6zM78.1 100.0h0.6v0.6h-0.6zM78.6 106.4h0.6v0.6h-0.6zM61.4 105.2h0.6v0.6h-0.6zM86.3 98.4h0.6v0.6h-0.6zM85.5 111.2h0.6v0.6h-0.6zM77.2 109.2h0.6v0.6h-0.6zM68.5 111.3h0.6v0.6h-0.6zM63.0 96.7h0.6v0.6h-0.6zM80.7 96.9h0.6v0.6h-0.6zM84.0 113.5h0.6v0.6h-0.6zM72.4 106.0h0.6v0.6h-0.6zM80.2 105.9h0.6v0.6h-0.6zM78.0 116.0h0.6v0.6h-0.6zM76.6 112.1h0.6v0.6h-0.6zM77.5 103.8h0.6v0.6h-0.6zM67.5 100.1h0.6v0.6h-0.6zM76.4 109.2h0.6v0.6h-0.6zM56.7 102.5h0.6v0.6h-0.6zM81.1 104.4h0.6v0.6h-0.6zM65.8 97.6h0.6v0.6h-0.6zM90.9 92.9h0.6v0.6h-0.6zM72.7 112.2h0.6v0.6h-0.6zM57.7 111.0h0.6v0.6h-0.6zM61.6 113.6h0.6v0.6h-0.6zM99.6 95.5h0.6v0.6h-0.6zM75.0 108.5h0.6v0.6h-0.6zM70.5 109.9h0.6v0.6h-0.6zM69.2 101.0h0.6v0.6h-0.6zM68.2 105.1h0.6v0.6h-0.6zM79.9 113.3h0.6v0.6h-0.6zM74.6 96.9h0.6v0.6h-0.6zM71.2 101.4h0.6v0.6h-0.6zM72.0 110.1h0.6v0.6h-0.6zM74.3 106.2h0.6v0.6h-0.6zM76.0 104.7h0.6v0.6h-0.6zM71.2 111.3h0.6v0.6h-0.6zM74.7 104.5h0.6v0.6h-0.6zM65.3 99.7h0.6v0.6h-0.6zM70.0 109.9h0.6v0.6h-0.6zM59.6 111.1h0.6v0.6h-0.6zM76.4 99.6h0.6v0.6h-0.6zM67.6 109.3h0.6v0.6h-0.6zM77.2 89.4h0.6v0.6h-0.6zM69.0 97.9h0.6v0.6h-0.6zM74.6 100.1h0.6v0.6h-0.6zM79.4 101.0h0.6v0.6h-0.6zM72.8 115.1h0.6v0.6h-0.6zM73.1 101.2h0.6v0.6h-0.6zM75.6 94.8h0.6v0.6h-0.6zM60.8 104.9h0.6v0.6h-0.6zM69.9 93.7h0.6v0.6h-0.6zM83.5 110.6h0.6v0.6h-0.6zM77.1 100.8h0.6v0.6h-0.6zM73.3 100.4h0.6v0.6h-0.6zM82.8 93.5h0.6v0.6h-0.6zM77.5 105.2h0.6v0.6h-0.6zM64.8 110.0h0.6v0.6h-0.6zM71.9 120.0h0.6v0.6h-0.6zM85.6 104.6h0.6v0.6h-0.6zM71.6 99.6h0.6v0.6h-0.6zM68.5 107.5h0.6v0.6h-0.6zM62.1 112.8h0.6v0.6h-0.6zM81.3 103.9h0.6v0.6h-0.6zM77.7 118.8h0.6v0.6h-0.6zM72.4 100.2h0.6v0.6h-0.6zM84.0 89.7h0.6v0.6h-0.6zM83.6 105.0h0.6v0.6h-0.6zM70.7 105.7h0.6v0.6h-0.6zM76.0 115.0h0.6v0.6h-0.6zM82.6 106.6h0.6v0.6h-0.6zM73.0 97.4h0.6v0.6h-0.6zM76.8 84.4h0.6v0.6h-0.6zM83.7 105.0h0.6v0.6h-0.6zM60.0 109.5h0.6v0.6h-0.6zM67.0 101.3h0.6v0.6h-0.6zM58.9 99.0h0.6v0.6h-0.6zM76.4 104.3h0.6v0.6h-0.6zM77.6 99.1h0.6v0.6h-0.6zM80.0 93.1h0.6v0.6h-0.6zM69.8 83.8h0.6v0.6h-0.6zM72.2 100.6h0.6v0.6h-0.6zM73.2 109.5h0.6v0.6h-0.6zM86.7 95.5h0.6v0.6h-0.6zM72.7 89.2h0.6v0.6h-0.6zM91.3 115.3h0.6v0.6h-0.6zM79.1 114.6h0.6v0.6h-0.6zM82.6 99.8h0.6v0.6h-0.6zM81.4 114.3h0.6v0.6h-0.6zM82.2 104.3h0.6v0.6h-0.6zM77.4 109.4h0.6v0.6h-0.6zM62.4 110.5h0.6v0.6h-0.6zM77.2 98.1h0.6v0.6h-0.6zM86.6 105.0h0.6v0.6h-0.6zM80.8 108.7h0.6v0.6h-0.6zM68.7 107.3h0.6v0.6h-0.6zM87.5 96.2h0.6v0.6h-0.6zM65.7 97.7h0.6v0.6h-0.6zM81.7 101.3h0.6v0.6h-0.6zM77.6 114.1h0.6v0.6h-0.6zM64.9 116.8h0.6v0.6h-0.6zM75.3 103.6h0.6v0.6h-0.6zM88.8 108.6h0.6v0.6h-0.6zM63.2 104.5h0.6v0.6h-0.6zM68.0 107.1h0.6v0.6h-0.6zM70.8 102.3h0.6v0.6h-0.6zM83.6 91.4h0.6v0.6h-0.6zM77.5 103.1h0.6v0.6h-0.6zM77.9 86.0h0.6v0.6h-0.6zM66.4 101.7h0.6v0.6h-0.6zM89.9 94.9h0.6v0.6h-0.6zM64.9 103.5h0.6v0.6h-0.6zM77.8 100.1h0.6v0.6h-0.6zM75.8 91.9h0.6v0.6h-0.6zM69.9 95.1h0.6v0.6h-0.6zM66.1 118.4h0.6v0.6h-0.6zM73.3 98.7h0.6v0.6h-0.6zM74.7 104.6h0.6v0.6h-0.6zM84.1 110.8h0.6v0.6h-0.6zM78.4 108.9h0.6v0.6h-0.6zM67.7 94.9h0.6v0.6h-0.6zM78.7 109.2h0.6v0.6h-0.6zM76.5 107.3h0.6v0.6h-0.6zM80.7 95.9h0.6v0.6h-0.6zM72.0 98.1h0.6v0.6h-0.6zM58.3 109.3h0.6v0.6h-0.6zM73.0 108.3h0.6v0.6h-0.6zM80.7 97.8h0.6v0.6h-0.6zM88.6 107.4h0.6v0.6h-0.6zM84.1 118.6h0.6v0.6h-0.6zM70.7 100.1h0.6v0.6h-0.6zM76.6 113.9h0.6v0.6h-0.6zM85.3 89.2h0.6v0.6h-0.6zM87.9 101.4h0.6v0.6h-0.6zM79.4 94.4h0.6v0.6h-0.6zM67.1 107.9h0.6v0.6h-0.6zM58.9 111.5h0.6v0.6h-0.6zM70.2 107.2h0.6v0.6h-0.6zM76.3 100.6h0.6v0.6h-0.6zM80.7 91.3h0.6v0.6h-0.6zM76.1 103.2h0.6v0.6h-0.6zM83.2 105.5h0.6v0.6h-0.6zM80.4 102.3h0.6v0.6h-0.6zM67.0 104.3h0.6v0.6h-0.6zM76.8 108.8h0.6v0.6h-0.6zM76.8 102.8h0.6v0.6h-0.6zM75.4 101.3h0.6v0.6h-0.6zM66.1 98.1h0.6v0.6h-0.6zM79.4 110.8h0.6v0.6h-0.6zM73.1 103.9h0.6v0.6h-0.6zM79.9 103.9h0.6v0.6h-0.6zM103.3 106.0h0.6v0.6h-0.6zM70.3 90.5h0.6v0.6h-0.6zM76.9 113.2h0.6v0.6h-0.6zM74.5 114.9h0.6v0.6h-0.6zM69.7 104.2h0.6v0.6h-0.6zM73.3 99.0h0.6v0.6h-0.6zM61.7 97.4h0.6v0.6h-0.6zM57.9 111.1h0.6v0.6h-0.6zM73.5 104.2h0.6v0.6h-0.6zM69.8 112.6h0.6v0.6h-0.6zM67.4 118.5h0.6v0.6h-0.6zM84.8 99.4h0.6v0.6h-0.6zM73.2 110.0h0.6v0.6h-0.6zM86.3 98.7h0.6v0.6h-0.6zM83.3 112.2h0.6v0.6h-0.6zM70.9 91.2h0.6v0.6h-0.6zM82.8 95.9h0.6v0.6h-0.6zM81.0 89.2h0.6v0.6h-0.6zM70.7 104.9h0.6v0.6h-0.6zM63.7 100.6h0.6v0.6h-0.6zM67.5 106.0h0.6v0.6h-0.6zM63.7 102.9h0.6v0.6h-0.6zM87.4 116.2h0.6v0.6h-0.6zM92.0 108.3h0.6v0.6h-0.6zM71.3 107.6h0.6v0.6h-0.6zM81.4 107.2h0.6v0.6h-0.6zM88.1 99.7h0.6v0.6h-0.6zM73.1 92.8h0.6v0.6h-0.6zM71.2 114.9h0.6v0.6h-0.6zM75.5 111.0h0.6v0.6h-0.6zM78.8 112.7h0.6v0.6h-0.6zM67.5 109.3h0.6v0.6h-0.6zM81.1 114.3h0.6v0.6h-0.6zM87.6 101.0h0.6v0.6h-0.6zM62.1 99.9h0.6v0.6h-0.6zM86.9 97.1h0.6v0.6h-0.6zM62.6 94.5h0.6v0.6h-0.6zM63.3 110.8h0.6v0.6h-0.6zM68.1 100.0h0.6v0.6h-0.6zM85.3 112.5h0.6v0.6h-0.6zM82.9 98.9h0.6v0.6h-0.6zM59.7 107.8h0.6v0.6h-0.6zM72.6 79.0h0.6v0.6h-0.6zM90.6 103.4h0.6v0.6h-0.6zM59.3 104.5h0.6v0.6h-0.6zM69.6 110.0h0.6v0.6h-0.6zM94.4 98.6h0.6v0.6h-0.6zM76.4 101.9h0.6v0.6h-0.6zM69.0 108.7h0.6v0.6h-0.6zM88.9 108.5h0.6v0.6h-0.6zM71.2 109.1h0.6v0.6h-0.6zM77.1 111.5h0.6v0.6h-0.6zM70.0 106.1h0.6v0.6h-0.6zM89.8 105.2h0.6v0.6h-0.6zM83.8 104.9h0.6v0.6h-0.6zM75.6 99.1h0.6v0.6h-0.6zM85.6 114.3h0.6v0.6h-0.6zM65.8 98.9h0.6v0.6h-0.6zM73.4 91.5h0.6v0.6h-0.6zM66.9 111.6h0.6v0.6h-0.6zM74.1 104.2h0.6v0.6h-0.6zM74.7 98.9h0.6v0.6h-0.6zM83.2 86.1h0.6v0.6h-0.6zM78.7 92.9h0.6v0.6h-0.6zM68.4 104.4h0.6v0.6h-0.6zM89.5 97.7h0.6v0.6h-0.6zM61.9 112.8h0.6v0.6h-0.6zM74.2 105.1h0.6v0.6h-0.6zM80.0 113.0h0.6v0.6h-0.6zM76.4 88.1h0.6v0.6h-0.6zM73.1 105.1h0.6v0.6h-0.6zM64.5 96.8h0.6v0.6h-0.6zM80.7 106.9h0.6v0.6h-0.6zM66.8 109.5h0.6v0.6h-0.6zM76.2 94.6h0.6v0.6h-0.6zM72.5 94.5h0.6v0.6h-0.6zM67.2 107.4h0.6v0.6h-0.6zM63.9 95.0h0.6v0.6h-0.6zM78.4 96.9h0.6v0.6h-0.6zM72.5 103.0h0.6v0.6h-0.6zM73.5 108.0h0.6v0.6h-0.6zM71.1 98.8h0.6v0.6h-0.6zM70.8 114.3h0.6v0.6h-0.6zM83.4 104.6h0.6v0.6h-0.6zM86.1 110.7h0.6v0.6h-0.6zM65.3 117.1h0.6v0.6h-0.6zM100.3 107.9h0.6v0.6h-0.6zM60.4 117.0h0.6v0.6h-0.6zM80.5 104.1h0.6v0.6h-0.6zM72.3 102.5h0.6v0.6h-0.6zM71.2 112.7h0.6v0.6h-0.6zM71.2 108.5h0.6v0.6h-0.6zM57.8 97.1h0.6v0.6h-0.6zM74.9 97.9h0.6v0.6h-0.6zM75.4 104.6h0.6v0.6h-0.6zM76.7 102.4h0.6v0.6h-0.6zM80.8 94.1h0.6v0.6h-0.6zM71.4 117.3h0.6v0.6h-0.6zM71.3 117.3h0.6v0.6h-0.6zM78.2 103.1h0.6v0.6h-0.6zM75.8 117.8h0.6v0.6h-0.6zM72.2 96.1h0.6v0.6h-0.6zM79.6 110.8h0.6v0.6h-0.6zM82.8 92.8h0.6v0.6h-0.6zM78.6 105.6h0.6v0.6h-0.6zM72.8 101.2h0.6v0.6h-0.6zM79.3 104.5h0.6v0.6h-0.6zM75.5 95.7h0.6v0.6h-0.6zM66.7 98.9h0.6v0.6h-0.6zM60.5 113.7h0.6v0.6h-0.6zM91.7 99.9h0.6v0.6h-0.6zM83.2 99.0h0.6v0.6h-0.6zM68.8 90.9h0.6v0.6h-0.6zM74.4 114.8h0.6v0.6h-0.6zM86.3 109.2h0.6v0.6h-0.6zM72.5 114.6h0.6v0.6h-0.6zM90.7 98.8h0.6v0.6h-0.6zM77.4 104.6h0.6v0.6h-0.6zM69.2 95.6h0.6v0.6h-0.6zM67.5 105.9h0.6v0.6h-0.6zM77.3 106.1h0.6v0.6h-0.6zM86.5 99.5h0.6v0.6h-0.6zM63.7 95.6h0.6v0.6h-0.6zM78.6 100.7h0.6v0.6h-0.6zM60.2 112.4h0.6v0.6h-0.6zM87.6 106.4h0.6v0.6h-0.6zM80.8 93.8h0.6v0.6h-0.6zM62.3 106.3h0.6v0.6h-0.6zM76.9 103.5h0.6v0.6h-0.6zM72.4 100.0h0.6v0.6h-0.6zM88.0 98.1h0.6v0.6h-0.6zM73.8 113.3h0.6v0.6h-0.6zM65.8 106.2h0.6v0.6h-0.6zM74.0 109.9h0.6v0.6h-0.6zM67.9 113.7h0.6v0.6h-0.6zM74.5 100.5h0.6v0.6h-0.6zM83.0 110.1h0.6v0.6h-0.6zM84.2 113.7h0.6v0.6h-0.6zM81.9 100.4h0.6v0.6h-0.6zM77.7 107.4h0.6v0.6h-0.6zM78.3 107.7h0.6v0.6h-0.6zM75.8 101.7h0.6v0.6h-0.6zM74.4 97.1h0.6v0.6h-0.6zM66.9 110.8h0.6v0.6h-0.6zM72.1 105.7h0.6v0.6h-0.6zM70.2 91.9h0.6v0.6h-0.6zM71.4 117.9h0.6v0.6h-0.6zM74.1 99.5h0.6v0.6h-0.6zM81.2 101.1h0.6v0.6h-0.6zM69.5 92.5h0.6v0.6h-0.6zM59.5 108.3h0.6v0.6h-0.6zM76.2 105.3h0.6v0.6h-0.6zM81.2 101.3h0.6v0.6h-0.6zM75.2 98.0h0.6v0.6h-0.6zM67.2 99.0h0.6v0.6h-0.6zM83.7 110.6h0.6v0.6h-0.6zM65.9 102.4h0.6v0.6h-0.6zM76.1 98.5h0.6v0.6h-0.6zM81.1 98.7h0.6v0.6h-0.6zM72.0 102.3h0.6v0.6h-0.6zM58.4 91.0h0.6v0.6h-0.6zM67.2 114.4h0.6v0.6h-0.6zM80.2 108.6h0.6v0.6h-0.6zM69.3 101.2h0.6v0.6h-0.6zM75.4 107.1h0.6v0.6h-0.6zM61.3 99.3h0.6v0.6h-0.6zM68.0 115.4h0.6v0.6h-0.6zM70.0 98.4h0.6v0.6h-0.6zM82.3 101.4h0.6v0.6h-0.6zM83.3 97.2h0.6v0.6h-0.6zM91.9 104.3h0.6v0.6h-0.6zM76.2 103.0h0.6v0.6h-0.6zM74.5 105.1h0.6v0.6h-0.6zM72.0 114.9h0.6v0.6h-0.6zM71.6 103.9h0.6v0.6h-0.6zM87.9 109.3h0.6v0.6h-0.6zM74.9 98.5h0.6v0.6h-0.6zM97.9 93.0h0.6v0.6h-0.6zM90.5 104.2h0.6v0.6h-0.6zM67.3 106.0h0.6v0.6h-0.6zM76.0 102.5h0.6v0.6h-0.6zM61.9 102.2h0.6v0.6h-0.6zM63.4 105.7h0.6v0.6h-0.6zM62.7 106.7h0.6v0.6h-0.6zM71.3 112.6h0.6v0.6h-0.6zM67.9 94.1h0.6v0.6h-0.6zM62.3 107.0h0.6v0.6h-0.6zM110.4 93.9h0.6v0.6h-0.6zM69.2 117.2h0.6v0.6h-0.6zM80.7 115.0h0.6v0.6h-0.6zM77.6 108.7h0.6v0.6h-0.6zM75.2 95.9h0.6v0.6h-0.6zM76.7 97.0h0.6v0.6h-0.6zM80.4 82.9h0.6v0.6h-0.6zM75.3 119.3h0.6v0.6h-0.6zM67.0 109.5h0.6v0.6h-0.6zM70.8 89.6h0.6v0.6h-0.6zM68.9 111.1h0.6v0.6h-0.6zM72.6 97.2h0.6v0.6h-0.6zM75.4 103.9h0.6v0.6h-0.6zM82.0 109.3h0.6v0.6h-0.6zM69.5 97.6h0.6v0.6h-0.6zM74.1 102.6h0.6v0.6h-0.6zM76.0 95.6h0.6v0.6h-0.6zM74.8 97.2h0.6v0.6h-0.6zM78.7 105.9h0.6v0.6h-0.6zM71.4 91.1h0.6v0.6h-0.6zM83.8 97.0h0.6v0.6h-0.6zM69.3 103.1h0.6v0.6h-0.6zM77.3 99.4h0.6v0.6h-0.6zM69.0 92.4h0.6v0.6h-0.6zM83.1 99.9h0.6v0.6h-0.6zM69.5 87.2h0.6v0.6h-0.6zM68.4 110.9h0.6v0.6h-0.6zM83.2 95.6h0.6v0.6h-0.6zM74.3 108.9h0.6v0.6h-0.6zM60.9 100.9h0.6v0.6h-0.6zM80.2 112.7h0.6v0.6h-0.6zM60.8 95.1h0.6v0.6h-0.6zM84.3 100.7h0.6v0.6h-0.6zM77.0 94.6h0.6v0.6h-0.6zM84.3 107.1h0.6v0.6h-0.6zM86.5 96.4h0.6v0.6h-0.6zM68.9 94.1h0.6v0.6h-0.6zM62.6 93.2h0.6v0.6h-0.6zM75.1 96.2h0.6v0.6h-0.6zM73.1 97.9h0.6v0.6h-0.6zM76.4 110.0h0.6v0.6h-0.6zM80.4 110.3h0.6v0.6h-0.6zM71.9 109.0h0.6v0.6h-0.6zM70.8 96.9h0.6v0.6h-0.6zM62.0 103.0h0.6v0.6h-0.6zM75.7 116.6h0.6v0.6h-0.6zM69.0 115.3h0.6v0.6h-0.6zM59.3 102.9h0.6v0.6h-0.6zM65.4 95.6h0.6v0.6h-0.6zM68.7 100.2h0.6v0.6h-0.6zM87.8 88.4h0.6v0.6h-0.6zM83.5 109.0h0.6v0.6h-0.6zM88.1 99.7h0.6v0.6h-0.6zM76.4 115.0h0.6v0.6h-0.6zM78.5 109.9h0.6v0.6h-0.6zM71.3 102.8h0.6v0.6h-0.6zM68.9 105.2h0.6v0.6h-0.6zM74.5 102.2h0.6v0.6h-0.6zM73.6 113.7h0.6v0.6h-0.6zM66.2 100.0h0.6v0.6h-0.6zM73.8 112.1h0.6v0.6h-0.6zM89.2 106.5h0.6v0.6h-0.6zM74.3 97.9h0.6v0.6h-0.6zM77.7 101.9h0.6v0.6h-0.6zM75.6 97.2h0.6v0.6h-0.6zM84.0 101.0h0.6v0.6h-0.6zM60.3 104.0h0.6v0.6h-0.6zM64.2 108.6h0.6v0.6h-0.6zM86.2 108.7h0.6v0.6h-0.6zM72.8 97.6h0.6v0.6h-0.6zM83.9 96.3h0.6v0.6h-0.6zM65.8 107.5h0.6v0.6h-0.6zM75.3 105.4h0.6v0.6h-0.6zM80.1 95.9h0.6v0.6h-0.6zM67.3 112.7h0.6v0.6h-0.6zM77.5 102.7h0.6v0.6h-0.6zM73.8 109.9h0.6v0.6h-0.6zM77.4 99.4h0.6v0.6h-0.6zM64.2 111.1h0.6v0.6h-0.6zM64.4 99.9h0.6v0.6h-0.6zM84.6 116.4h0.6v0.6h-0.6zM75.4 83.5h0.6v0.6h-0.6zM73.7 88.1h0.6v0.6h-0.6zM70.3 111.6h0.6v0.6h-0.6zM81.9 105.8h0.6v0.6h-0.6zM77.0 109.8h0.6v0.6h-0.6zM71.3 101.8h0.6v0.6h-0.6zM85.7 108.7h0.6v0.6h-0.6zM85.7 108.1h0.6v0.6h-0.6zM78.3 111.5h0.6v0.6h-0.6zM81.3 118.6h0.6v0.6h-0.6zM80.2 101.1h0.6v0.6h-0.6zM71.3 97.3h0.6v0.6h-0.6zM76.9 99.3h0.6v0.6h-0.6zM63.1 110.0h0.6v0.6h-0.6zM88.2 92.1h0.6v0.6h-0.6zM83.6 106.6h0.6v0.6h-0.6zM65.6 99.4h0.6v0.6h-0.6zM77.0 117.5h0.6v0.6h-0.6zM69.5 113.4h0.6v0.6h-0.6zM82.2 99.5h0.6v0.6h-0.6zM69.7 108.8h0.6v0.6h-0.6zM60.7 104.7h0.6v0.6h-0.6zM63.2 104.9h0.6v0.6h-0.6zM78.7 110.4h0.6v0.6h-0.6zM78.5 103.4h0.6v0.6h-0.6zM70.1 98.1h0.6v0.6h-0.6zM69.4 101.5h0.6v0.6h-0.6zM70.2 106.3h0.6v0.6h-0.6zM68.8 92.2h0.6v0.6h-0.6zM80.9 98.9h0.6v0.6h-0.6zM59.9 97.5h0.6v0.6h-0.6zM71.8 103.1h0.6v0.6h-0.6zM63.0 117.7h0.6v0.6h-0.6zM76.3 102.3h0.6v0.6h-0.6zM80.7 96.4h0.6v0.6h-0.6zM61.1 94.4h0.6v0.6h-0.6zM76.3 105.1h0.6v0.6h-0.6zM89.1 100.9h0.6v0.6h-0.6zM82.0 95.0h0.6v0.6h-0.6zM72.7 113.6h0.6v0.6h-0.6zM72.1 109.0h0.6v0.6h-0.6zM63.3 97.2h0.6v0.6h-0.6zM69.8 95.7h0.6v0.6h-0.6zM70.5 116.5h0.6v0.6h-0.6zM72.6 106.8h0.6v0.6h-0.6zM88.9 105.0h0.6v0.6h-0.6zM73.5 100.9h0.6v0.6h-0.6zM84.9 112.2h0.6v0.6h-0.6zM61.4 111.1h0.6v0.6h-0.6zM76.5 95.8h0.6v0.6h-0.6zM85.4 97.0h0.6v0.6h-0.6zM76.7 102.4h0.6v0.6h-0.6zM79.3 101.6h0.6v0.6h-0.6zM71.3 113.4h0.6v0.6h-0.6zM74.8 112.4h0.6v0.6h-0.6zM69.1 117.0h0.6v0.6h-0.6zM79.9 115.0h0.6v0.6h-0.6zM82.1 92.5h0.6v0.6h-0.6zM70.8 101.8h0.6v0.6h-0.6zM67.5 100.6h0.6v0.6h-0.6zM77.8 112.2h0.6v0.6h-0.6zM72.4 87.5h0.6v0.6h-0.6zM80.4 107.4h0.6v0.6h-0.6zM69.5 94.6h0.6v0.6h-0.6zM62.9 115.0h0.6v0.6h-0.6zM69.4 114.7h0.6v0.6h-0.6zM72.8 112.0h0.6v0.6h-0.6zM66.6 94.9h0.6v0.6h-0.6zM73.2 91.1h0.6v0.6h-0.6zM62.9 108.7h0.6v0.6h-0.6zM89.1 106.4h0.6v0.6h-0.6zM60.1 96.8h0.6v0.6h-0.6zM76.6 103.8h0.6v0.6h-0.6zM66.4 97.4h0.6v0.6h-0.6zM88.0 96.6h0.6v0.6h-0.6zM70.0 117.9h0.6v0.6h-0.6zM71.3 116.0h0.6v0.6h-0.6zM81.5 101.7h0.6v0.6h-0.6zM80.9 114.2h0.6v0.6h-0.6zM82.6 98.3h0.6v0.6h-0.6zM83.7 86.2h0.6v0.6h-0.6zM72.2 105.4h0.6v0.6h-0.6zM83.5 116.1h0.6v0.6h-0.6zM62.7 100.5h0.6v0.6h-0.6zM73.8 101.1h0.6v0.6h-0.6zM78.3 110.1h0.6v0.6h-0.6zM81.1 102.1h0.6v0.6h-0.6zM73.1 117.5h0.6v0.6h-0.6zM82.5 111.4h0.6v0.6h-0.6zM86.6 103.6h0.6v0.6h-0.6zM76.2 114.3h0.6v0.6h-0.6zM90.0 94.9h0.6v0.6h-0.6zM70.6 105.4h0.6v0.6h-0.6zM83.6 95.4h0.6v0.6h-0.6zM84.0 99.9h0.6v0.6h-0.6zM82.3 107.5h0.6v0.6h-0.6zM88.9 97.2h0.6v0.6h-0.6zM80.7 103.1h0.6v0.6h-0.6zM69.1 113.1h0.6v0.6h-0.6zM66.7 111.4h0.6v0.6h-0.6zM66.1 95.9h0.6v0.6h-0.6zM79.6 97.7h0.6v0.6h-0.6zM78.4 102.8h0.6v0.6h-0.6zM69.2 106.9h0.6v0.6h-0.6zM80.1 111.7h0.6v0.6h-0.6zM65.9 118.3h0.6v0.6h-0.6zM72.5 92.2h0.6v0.6h-0.6zM67.5 106.1h0.6v0.6h-0.6zM67.3 106.7h0.6v0.6h-0.6zM66.9 113.3h0.6v0.6h-0.6zM76.6 102.9h0.6v0.6h-0.6zM83.8 97.4h0.6v0.6h-0.6zM73.5 109.6h0.6v0.6h-0.6zM78.2 105.3h0.6v0.6h-0.6zM82.8 100.7h0.6v0.6h-0.6zM74.7 97.8h0.6v0.6h-0.6zM74.2 95.5h0.6v0.6h-0.6zM64.2 104.7h0.6v0.6h-0.6zM65.5 110.9h0.6v0.6h-0.6zM83.5 109.4h0.6v0.6h-0.6zM81.5 108.9h0.6v0.6h-0.6zM61.1 95.9h0.6v0.6h-0.6zM77.7 96.1h0.6v0.6h-0.6zM68.6 104.5h0.6v0.6h-0.6zM77.5 92.1h0.6v0.6h-0.6zM75.0 111.6h0.6v0.6h-0.6zM78.1 116.8h0.6v0.6h-0.6zM70.5 115.0h0.6v0.6h-0.6zM94.3 110.5h0.6v0.6h-0.6zM83.8 112.9h0.6v0.6h-0.6zM84.6 94.6h0.6v0.6h-0.6zM77.5 109.2h0.6v0.6h-0.6zM86.2 103.8h0.6v0.6h-0.6zM82.6 104.7h0.6v0.6h-0.6zM89.0 99.7h0.6v0.6h-0.6zM70.0 108.0h0.6v0.6h-0.6zM89.8 106.8h0.6v0.6h-0.6zM74.5 99.8h0.6v0.6h-0.6zM84.2 99.2h0.6v0.6h-0.6zM72.5 102.5h0.6v0.6h-0.6zM84.8 97.9h0.6v0.6h-0.6zM67.2 106.4h0.6v0.6h-0.6zM75.1 92.9h0.6v0.6h-0.6zM66.7 99.6h0.6v0.6h-0.6zM75.1 98.0h0.6v0.6h-0.6zM85.6 107.4h0.6v0.6h-0.6zM76.9 110.6h0.6v0.6h-0.6zM71.6 90.2h0.6v0.6h-0.6zM78.7 98.8h0.6v0.6h-0.6zM86.6 97.5h0.6v0.6h-0.6zM76.1 105.0h0.6v0.6h-0.6zM69.6 101.7h0.6v0.6h-0.6zM73.2 106.2h0.6v0.6h-0.6zM77.1 105.2h0.6v0.6h-0.6zM74.7 87.0h0.6v0.6h-0.6zM87.2 110.3h0.6v0.6h-0.6zM63.4 98.1h0.6v0.6h-0.6zM70.6 118.2h0.6v0.6h-0.6zM76.2 106.6h0.6v0.6h-0.6zM75.5 109.6h0.6v0.6h-0.6zM74.5 98.3h0.6v0.6h-0.6zM69.6 110.4h0.6v0.6h-0.6zM71.3 89.6h0.6v0.6h-0.6zM79.9 106.8h0.6v0.6h-0.6zM87.0 105.8h0.6v0.6h-0.6zM75.1 104.1h0.6v0.6h-0.6zM67.8 107.2h0.6v0.6h-0.6zM70.3 96.7h0.6v0.6h-0.6zM74.0 105.7h0.6v0.6h-0.6zM78.2 110.3h0.6v0.6h-0.6zM87.1 105.0h0.6v0.6h-0.6zM76.1 111.5h0.6v0.6h-0.6zM67.3 104.3h0.6v0.6h-0.6zM81.1 93.4h0.6v0.6h-0.6zM66.5 101.3h0.6v0.6h-0.6zM74.7 111.1h0.6v0.6h-0.6zM63.4 116.1h0.6v0.6h-0.6zM81.2 109.8h0.6v0.6h-0.6zM57.2 107.5h0.6v0.6h-0.6zM67.9 110.8h0.6v0.6h-0.6zM74.1 101.5h0.6v0.6h-0.6zM66.6 103.0h0.6v0.6h-0.6zM80.9 91.8h0.6v0.6h-0.6zM68.1 102.9h0.6v0.6h-0.6zM73.1 101.1h0.6v0.6h-0.6zM76.6 105.5h0.6v0.6h-0.6zM62.1 114.2h0.6v0.6h-0.6zM81.8 90.8h0.6v0.6h-0.6zM75.8 115.8h0.6v0.6h-0.6zM87.4 106.4h0.6v0.6h-0.6zM67.9 114.6h0.6v0.6h-0.6zM61.4 93.0h0.6v0.6h-0.6zM81.9 95.2h0.6v0.6h-0.6zM79.9 96.4h0.6v0.6h-0.6zM69.2 114.2h0.6v0.6h-0.6zM74.2 110.1h0.6v0.6h-0.6zM73.2 101.3h0.6v0.6h-0.6zM68.7 97.6h0.6v0.6h-0.6zM78.5 108.6h0.6v0.6h-0.6zM90.0 107.3h0.6v0.6h-0.6zM72.6 109.0h0.6v0.6h-0.6zM88.0 93.5h0.6v0.6h-0.6zM90.0 98.5h0.6v0.6h-0.6zM84.8 100.6h0.6v0.6h-0.6zM82.7 115.9h0.6v0.6h-0.6zM81.2 113.8h0.6v0.6h-0.6zM78.2 109.2h0.6v0.6h-0.6zM64.7 96.8h0.6v0.6h-0.6zM76.7 94.2h0.6v0.6h-0.6zM81.0 104.3h0.6v0.6h-0.6zM85.6 112.2h0.6v0.6h-0.6zM71.3 83.5h0.6v0.6h-0.6zM62.0 105.0h0.6v0.6h-0.6zM80.3 104.8h0.6v0.6h-0.6zM72.7 93.0h0.6v0.6h-0.6zM81.3 104.6h0.6v0.6h-0.6zM101.6 87.2h0.6v0.6h-0.6zM67.8 105.4h0.6v0.6h-0.6zM71.6 110.2h0.6v0.6h-0.6zM83.0 108.8h0.6v0.6h-0.6zM75.6 99.5h0.6v0.6h-0.6zM76.7 112.2h0.6v0.6h-0.6zM76.1 88.2h0.6v0.6h-0.6zM90.2 101.0h0.6v0.6h-0.6zM83.0 101.0h0.6v0.6h-0.6zM84.8 102.4h0.6v0.6h-0.6zM88.5 115.5h0.6v0.6h-0.6zM69.2 81.7h0.6v0.6h-0.6zM78.2 97.1h0.6v0.6h-0.6zM83.9 108.1h0.6v0.6h-0.6zM71.7 97.4h0.6v0.6h-0.6zM67.4 116.8h0.6v0.6h-0.6zM83.7 103.3h0.6v0.6h-0.6zM78.0 112.4h0.6v0.6h-0.6zM73.4 90.6h0.6v0.6h-0.6zM69.5 105.3h0.6v0.6h-0.6zM66.4 96.4h0.6v0.6h-0.6zM77.1 99.4h0.6v0.6h-0.6zM78.9 108.3h0.6v0.6h-0.6zM75.9 100.8h0.6v0.6h-0.6zM85.9 109.0h0.6v0.6h-0.6zM77.8 107.3h0.6v0.6h-0.6zM63.4 91.2h0.6v0.6h-0.6zM70.5 106.0h0.6v0.6h-0.6zM65.3 97.5h0.6v0.6h-0.6zM82.0 100.6h0.6v0.6h-0.6zM69.9 102.4h0.6v0.6h-0.6zM65.3 112.1h0.6v0.6h-0.6zM88.1 113.5h0.6v0.6h-0.6zM89.1 89.4h0.6v0.6h-0.6zM83.4 104.1h0.6v0.6h-0.6zM87.6 100.0h0.6v0.6h-0.6zM82.6 119.5h0.6v0.6h-0.6zM80.9 106.4h0.6v0.6h-0.6zM73.9 109.6h0.6v0.6h-0.6zM73.8 96.1h0.6v0.6h-0.6zM81.1 118.8h0.6v0.6h-0.6zM79.1 114.2h0.6v0.6h-0.6zM86.6 105.9h0.6v0.6h-0.6zM75.0 99.1h0.6v0.6h-0.6zM77.7 109.6h0.6v0.6h-0.6zM67.2 103.3h0.6v0.6h-0.6zM85.2 100.3h0.6v0.6h-0.6zM82.3 108.6h0.6v0.6h-0.6zM72.9 112.7h0.6v0.6h-0.6zM81.2 105.1h0.6v0.6h-0.6zM76.6 108.8h0.6v0.6h-0.6zM80.2 109.1h0.6v0.6h-0.6zM82.1 101.6h0.6v0.6h-0.6zM88.9 104.8h0.6v0.6h-0.6zM74.1 116.1h0.6v0.6h-0.6zM84.7 90.8h0.6v0.6h-0.6zM75.7 111.8h0.6v0.6h-0.6zM80.6 92.3h0.6v0.6h-0.6zM69.4 99.4h0.6v0.6h-0.6zM81.4 112.6h0.6v0.6h-0.6zM79.0 105.4h0.6v0.6h-0.6zM68.4 114.2h0.6v0.6h-0.6zM81.1 108.1h0.6v0.6h-0.6zM75.7 106.8h0.6v0.6h-0.6zM81.7 100.3h0.6v0.6h-0.6zM82.3 105.6h0.6v0.6h-0.6zM76.5 84.3h0.6v0.6h-0.6zM63.7 103.8h0.6v0.6h-0.6zM69.7 112.8h0.6v0.6h-0.6zM62.2 115.2h0.6v0.6h-0.6zM82.8 107.3h0.6v0.6h-0.6zM71.2 96.2h0.6v0.6h-0.6zM64.6 99.7h0.6v0.6h-0.6zM75.4 110.8h0.6v0.6h-0.6zM81.9 114.1h0.6v0.6h-0.6zM84.8 99.9h0.6v0.6h-0.6zM70.7 114.0h0.6v0.6h-0.6zM68.3 113.6h0.6v0.6h-0.6zM76.0 94.5h0.6v0.6h-0.6zM79.5 107.3h0.6v0.6h-0.6zM68.3 86.4h0.6v0.6h-0.6zM78.1 109.0h0.6v0.6h-0.6zM83.0 108.9h0.6v0.6h-0.6zM69.1 92.2h0.6v0.6h-0.6zM74.4 113.2h0.6v0.6h-0.6zM74.7 95.7h0.6v0.6h-0.6zM60.5 84.5h0.6v0.6h-0.6zM77.3 109.1h0.6v0.6h-0.6zM88.3 88.4h0.6v0.6h-0.6zM89.0 114.8h0.6v0.6h-0.6zM83.3 109.5h0.6v0.6h-0.6zM80.2 110.6h0.6v0.6h-0.6zM59.7 89.7h0.6v0.6h-0.6zM77.7 113.7h0.6v0.6h-0.6zM69.2 109.0h0.6v0.6h-0.6zM77.6 114.9h0.6v0.6h-0.6zM82.3 108.9h0.6v0.6h-0.6zM69.7 102.5h0.6v0.6h-0.6zM83.6 106.9h0.6v0.6h-0.6zM87.5 100.5h0.6v0.6h-0.6zM84.2 104.1h0.6v0.6h-0.6zM79.4 91.8h0.6v0.6h-0.6zM81.8 98.3h0.6v0.6h-0.6zM86.2 112.4h0.6v0.6h-0.6zM69.9 117.3h0.6v0.6h-0.6zM89.2 119.5h0.6v0.6h-0.6zM86.8 102.8h0.6v0.6h-0.6zM88.7 95.8h0.6v0.6h-0.6zM72.9 108.4h0.6v0.6h-0.6zM61.4 115.3h0.6v0.6h-0.6zM81.4 104.7h0.6v0.6h-0.6zM83.0 110.9h0.6v0.6h-0.6zM67.7 95.4h0.6v0.6h-0.6zM76.0 96.4h0.6v0.6h-0.6zM61.2 117.2h0.6v0.6h-0.6zM75.8 108.6h0.6v0.6h-0.6zM73.5 113.2h0.6v0.6h-0.6zM84.4 104.3h0.6v0.6h-0.6zM71.8 102.4h0.6v0.6h-0.6zM83.7 106.7h0.6v0.6h-0.6zM65.0 116.2h0.6v0.6h-0.6zM75.9 109.5h0.6v0.6h-0.6zM88.4 109.6h0.6v0.6h-0.6zM83.0 104.9h0.6v0.6h-0.6zM81.0 112.8h0.6v0.6h-0.6zM79.2 104.9h0.6v0.6h-0.6zM74.1 103.4h0.6v0.6h-0.6zM77.9 101.8h0.6v0.6h-0.6zM80.6 101.9h0.6v0.6h-0.6zM84.5 106.5h0.6v0.6h-0.6zM69.8 109.0h0.6v0.6h-0.6zM69.4 104.4h0.6v0.6h-0.6zM88.1 101.1h0.6v0.6h-0.6zM67.4 97.8h0.6v0.6h-0.6zM85.6 96.6h0.6v0.6h-0.6zM74.4 114.4h0.6v0.6h-0.6zM75.5 103.2h0.6v0.6h-0.6zM64.3 94.1h0.6v0.6h-0.6zM77.6 89.4h0.6v0.6h-0.6zM61.5 93.1h0.6v0.6h-0.6zM74.7 94.2h0.6v0.6h-0.6zM75.2 118.9h0.6v0.6h-0.6zM76.3 96.2h0.6v0.6h-0.6zM69.8 99.6h0.6v0.6h-0.6zM78.7 110.2h0.6v0.6h-0.6zM76.3 101.6h0.6v0.6h-0.6zM67.7 101.4h0.6v0.6h-0.6zM66.7 98.4h0.6v0.6h-0.6zM65.2 104.7h0.6v0.6h-0.6zM77.5 104.3h0.6v0.6h-0.6zM68.5 107.4h0.6v0.6h-0.6zM75.7 108.4h0.6v0.6h-0.6zM84.5 100.2h0.6v0.6h-0.6zM76.2 100.7h0.6v0.6h-0.6zM66.8 100.2h0.6v0.6h-0.6zM76.3 100.0h0.6v0.6h-0.6zM65.9 98.7h0.6v0.6h-0.6zM75.8 115.8h0.6v0.6h-0.6zM86.0 92.1h0.6v0.6h-0.6zM71.8 109.2h0.6v0.6h-0.6zM70.9 103.4h0.6v0.6h-0.6zM66.3 105.9h0.6v0.6h-0.6zM73.4 97.8h0.6v0.6h-0.6zM79.3 112.9h0.6v0.6h-0.6zM79.0 95.7h0.6v0.6h-0.6zM77.1 110.9h0.6v0.6h-0.6zM84.6 114.2h0.6v0.6h-0.6zM83.1 103.3h0.6v0.6h-0.6zM79.3 110.3h0.6v0.6h-0.6zM75.8 107.4h0.6v0.6h-0.6zM65.7 107.2h0.6v0.6h-0.6zM70.8 103.6h0.6v0.6h-0.6zM89.9 106.6h0.6v0.6h-0.6zM77.5 99.8h0.6v0.6h-0.6zM61.6 95.3h0.6v0.6h-0.6zM71.8 103.0h0.6v0.6h-0.6zM58.8 99.5h0.6v0.6h-0.6zM74.7 98.3h0.6v0.6h-0.6zM71.4 105.7h0.6v0.6h-0.6zM85.5 107.4h0.6v0.6h-0.6zM88.2 93.9h0.6v0.6h-0.6zM86.2 103.4h0.6v0.6h-0.6zM83.2 108.1h0.6v0.6h-0.6zM88.9 101.0h0.6v0.6h-0.6zM84.0 107.9h0.6v0.6h-0.6zM78.2 100.1h0.6v0.6h-0.6zM77.8 107.7h0.6v0.6h-0.6zM74.7 107.5h0.6v0.6h-0.6zM62.6 112.3h0.6v0.6h-0.6zM72.6 106.8h0.6v0.6h-0.6zM69.3 102.1h0.6v0.6h-0.6zM69.1 114.8h0.6v0.6h-0.6zM67.5 99.0h0.6v0.6h-0.6zM73.3 95.3h0.6v0.6h-0.6zM65.8 106.5h0.6v0.6h-0.6zM77.4 110.8h0.6v0.6h-0.6zM78.8 98.0h0.6v0.6h-0.6zM65.6 113.0h0.6v0.6h-0.6zM80.8 114.1h0.6v0.6h-0.6zM86.9 113.3h0.6v0.6h-0.6zM91.8 90.6h0.6v0.6h-0.6zM72.2 107.5h0.6v0.6h-0.6zM85.2 99.6h0.6v0.6h-0.6zM83.7 109.9h0.6v0.6h-0.6zM85.4 111.4h0.6v0.6h-0.6zM79.7 110.3h0.6v0.6h-0.6zM67.2 118.2h0.6v0.6h-0.6zM72.9 98.6h0.6v0.6h-0.6zM79.1 94.0h0.6v0.6h-0.6zM85.7 97.8h0.6v0.6h-0.6zM79.2 107.4h0.6v0.6h-0.6zM70.6 102.9h0.6v0.6h-0.6zM79.3 101.4h0.6v0.6h-0.6zM75.1 105.7h0.6v0.6h-0.6zM64.2 102.8h0.6v0.6h-0.6zM71.8 118.3h0.6v0.6h-0.6zM76.8 108.9h0.6v0.6h-0.6zM77.8 105.6h0.6v0.6h-0.6zM76.5 104.7h0.6v0.6h-0.6zM57.0 105.9h0.6v0.6h-0.6zM70.2 103.3h0.6v0.6h-0.6zM67.2 98.4h0.6v0.6h-0.6zM75.8 102.0h0.6v0.6h-0.6zM76.2 107.4h0.6v0.6h-0.6zM75.6 106.5h0.6v0.6h-0.6zM70.4 103.9h0.6v0.6h-0.6zM81.3 104.2h0.6v0.6h-0.6zM80.9 106.1h0.6v0.6h-0.6zM84.7 97.9h0.6v0.6h-0.6zM78.2 112.3h0.6v0.6h-0.6zM68.9 106.8h0.6v0.6h-0.6zM78.7 104.6h0.6v0.6h-0.6zM83.9 108.3h0.6v0.6h-0.6zM73.6 112.2h0.6v0.6h-0.6zM61.7 106.8h0.6v0.6h-0.6zM75.2 105.5h0.6v0.6h-0.6zM57.7 106.1h0.6v0.6h-0.6zM70.4 111.0h0.6v0.6h-0.6zM65.7 118.7h0.6v0.6h-0.6zM74.9 101.4h0.6v0.6h-0.6zM78.0 93.7h0.6v0.6h-0.6zM65.9 109.7h0.6v0.6h-0.6zM72.3 105.7h0.6v0.6h-0.6zM59.7 117.8h0.6v0.6h-0.6zM73.3 114.8h0.6v0.6h-0.6zM72.2 112.8h0.6v0.6h-0.6zM69.7 100.9h0.6v0.6h-0.6zM73.2 105.1h0.6v0.6h-0.6zM65.9 98.9h0.6v0.6h-0.6zM71.7 101.1h0.6v0.6h-0.6zM73.6 112.8h0.6v0.6h-0.6zM84.1 118.1h0.6v0.6h-0.6zM68.4 103.5h0.6v0.6h-0.6zM71.6 100.9h0.6v0.6h-0.6zM79.8 110.4h0.6v0.6h-0.6zM73.6 105.8h0.6v0.6h-0.6zM85.7 103.7h0.6v0.6h-0.6zM84.6 105.0h0.6v0.6h-0.6zM79.2 119.7h0.6v0.6h-0.6zM70.3 108.0h0.6v0.6h-0.6zM86.4 106.4h0.6v0.6h-0.6zM88.1 105.0h0.6v0.6h-0.6zM68.5 107.2h0.6v0.6h-0.6zM70.8 99.6h0.6v0.6h-0.6zM82.2 110.8h0.6v0.6h-0.6zM61.1 101.5h0.6v0.6h-0.6zM66.6 110.8h0.6v0.6h-0.6zM79.1 113.1h0.6v0.6h-0.6zM75.5 109.8h0.6v0.6h-0.6zM82.0 105.3h0.6v0.6h-0.6zM83.6 91.5h0.6v0.6h-0.6zM84.8 95.1h0.6v0.6h-0.6zM72.5 107.5h0.6v0.6h-0.6zM76.8 94.7h0.6v0.6h-0.6zM75.9 88.1h0.6v0.6h-0.6zM73.3 101.6h0.6v0.6h-0.6zM88.6 102.8h0.6v0.6h-0.6zM68.6 99.6h0.6v0.6h-0.6zM67.6 105.0h0.6v0.6h-0.6zM76.9 117.8h0.6v0.6h-0.6zM63.6 109.6h0.6v0.6h-0.6zM62.6 102.7h0.6v0.6h-0.6zM85.0 114.6h0.6v0.6h-0.6zM82.6 100.6h0.6v0.6h-0.6zM83.5 117.0h0.6v0.6h-0.6zM62.9 100.8h0.6v0.6h-0.6zM75.9 107.1h0.6v0.6h-0.6zM78.0 103.6h0.6v0.6h-0.6zM69.4 109.3h0.6v0.6h-0.6zM68.7 103.9h0.6v0.6h-0.6zM79.4 108.8h0.6v0.6h-0.6zM83.0 112.5h0.6v0.6h-0.6zM81.5 117.3h0.6v0.6h-0.6zM63.6 107.0h0.6v0.6h-0.6zM77.3 103.6h0.6v0.6h-0.6zM75.4 108.4h0.6v0.6h-0.6zM84.8 112.2h0.6v0.6h-0.6zM77.8 104.2h0.6v0.6h-0.6zM80.3 106.9h0.6v0.6h-0.6zM71.0 112.6h0.6v0.6h-0.6zM77.2 114.4h0.6v0.6h-0.6zM64.2 99.5h0.6v0.6h-0.6zM65.4 110.0h0.6v0.6h-0.6zM84.4 106.2h0.6v0.6h-0.6zM83.5 99.9h0.6v0.6h-0.6zM64.5 116.2h0.6v0.6h-0.6zM84.2 111.1h0.6v0.6h-0.6zM72.5 113.4h0.6v0.6h-0.6zM83.0 111.2h0.6v0.6h-0.6zM78.3 103.9h0.6v0.6h-0.6zM69.6 118.3h0.6v0.6h-0.6zM85.5 108.1h0.6v0.6h-0.6zM79.1 118.8h0.6v0.6h-0.6zM66.6 96.3h0.6v0.6h-0.6zM74.4 97.2h0.6v0.6h-0.6zM83.2 111.0h0.6v0.6h-0.6zM81.9 103.6h0.6v0.6h-0.6zM70.2 108.6h0.6v0.6h-0.6zM56.9 93.2h0.6v0.6h-0.6zM66.3 94.3h0.6v0.6h-0.6zM75.4 96.1h0.6v0.6h-0.6zM81.1 104.4h0.6v0.6h-0.6zM60.5 85.7h0.6v0.6h-0.6zM78.9 101.1h0.6v0.6h-0.6zM66.3 115.6h0.6v0.6h-0.6zM64.5 101.7h0.6v0.6h-0.6zM75.0 98.0h0.6v0.6h-0.6zM70.1 100.7h0.6v0.6h-0.6zM70.5 117.2h0.6v0.6h-0.6zM75.3 112.8h0.6v0.6h-0.6zM67.1 100.5h0.6v0.6h-0.6zM69.2 92.4h0.6v0.6h-0.6zM74.9 93.6h0.6v0.6h-0.6zM64.3 104.8h0.6v0.6h-0.6zM77.5 98.5h0.6v0.6h-0.6zM76.2 114.3h0.6v0.6h-0.6zM87.8 112.1h0.6v0.6h-0.6zM72.1 115.0h0.6v0.6h-0.6zM72.3 102.5h0.6v0.6h-0.6zM83.5 107.9h0.6v0.6h-0.6zM79.4 98.3h0.6v0.6h-0.6zM72.5 107.5h0.6v0.6h-0.6zM79.7 109.4h0.6v0.6h-0.6zM82.2 98.5h0.6v0.6h-0.6zM85.6 104.1h0.6v0.6h-0.6zM71.7 118.2h0.6v0.6h-0.6zM65.2 97.1h0.6v0.6h-0.6zM67.4 100.5h0.6v0.6h-0.6zM66.2 106.5h0.6v0.6h-0.6zM81.9 115.2h0.6v0.6h-0.6zM76.9 98.4h0.6v0.6h-0.6zM68.3 109.1h0.6v0.6h-0.6zM75.4 101.8h0.6v0.6h-0.6zM88.3 101.3h0.6v0.6h-0.6zM68.9 113.3h0.6v0.6h-0.6zM65.8 90.5h0.6v0.6h-0.6zM66.6 94.6h0.6v0.6h-0.6zM61.8 103.2h0.6v0.6h-0.6zM67.9 102.3h0.6v0.6h-0.6zM78.2 100.7h0.6v0.6h-0.6zM61.9 97.5h0.6v0.6h-0.6zM82.6 96.3h0.6v0.6h-0.6zM64.7 108.3h0.6v0.6h-0.6zM66.5 97.4h0.6v0.6h-0.6zM77.2 103.9h0.6v0.6h-0.6zM69.9 101.6h0.6v0.6h-0.6zM84.6 107.6h0.6v0.6h-0.6zM68.7 101.6h0.6v0.6h-0.6zM89.3 103.2h0.6v0.6h-0.6zM78.2 107.5h0.6v0.6h-0.6zM70.5 106.4h0.6v0.6h-0.6zM66.6 103.0h0.6v0.6h-0.6zM85.6 103.8h0.6v0.6h-0.6zM89.0 106.8h0.6v0.6h-0.6zM79.8 106.2h0.6v0.6h-0.6zM67.3 113.8h0.6v0.6h-0.6zM88.0 107.7h0.6v0.6h-0.6zM75.3 103.3h0.6v0.6h-0.6zM79.7 113.8h0.6v0.6h-0.6zM83.4 107.3h0.6v0.6h-0.6zM75.5 106.4h0.6v0.6h-0.6zM73.9 96.6h0.6v0.6h-0.6zM66.7 116.6h0.6v0.6h-0.6zM79.7 109.5h0.6v0.6h-0.6zM70.4 105.1h0.6v0.6h-0.6zM80.0 106.3h0.6v0.6h-0.6zM81.2 105.6h0.6v0.6h-0.6zM68.2 90.9h0.6v0.6h-0.6zM79.7 93.5h0.6v0.6h-0.6zM85.9 100.8h0.6v0.6h-0.6zM70.8 95.4h0.6v0.6h-0.6zM65.2 99.6h0.6v0.6h-0.6zM77.5 100.8h0.6v0.6h-0.6zM73.2 100.3h0.6v0.6h-0.6zM79.2 107.8h0.6v0.6h-0.6zM78.8 96.4h0.6v0.6h-0.6zM67.4 94.1h0.6v0.6h-0.6zM80.8 83.5h0.6v0.6h-0.6zM88.2 102.1h0.6v0.6h-0.6zM68.6 106.0h0.6v0.6h-0.6zM72.0 101.6h0.6v0.6h-0.6zM77.9 109.2h0.6v0.6h-0.6zM69.8 117.4h0.6v0.6h-0.6zM62.7 111.4h0.6v0.6h-0.6zM76.8 96.4h0.6v0.6h-0.6zM82.2 115.1h0.6v0.6h-0.6zM60.4 109.3h0.6v0.6h-0.6zM73.7 106.4h0.6v0.6h-0.6zM59.5 109.5h0.6v0.6h-0.6zM85.1 106.9h0.6v0.6h-0.6zM68.4 101.9h0.6v0.6h-0.6zM77.5 103.0h0.6v0.6h-0.6zM62.3 95.2h0.6v0.6h-0.6zM61.2 104.9h0.6v0.6h-0.6zM91.1 115.2h0.6v0.6h-0.6zM72.5 103.0h0.6v0.6h-0.6zM83.0 110.1h0.6v0.6h-0.6zM85.9 108.2h0.6v0.6h-0.6zM71.1 109.4h0.6v0.6h-0.6zM72.0 106.6h0.6v0.6h-0.6zM73.8 112.1h0.6v0.6h-0.6zM77.6 110.1h0.6v0.6h-0.6zM88.3 95.3h0.6v0.6h-0.6zM71.8 96.3h0.6v0.6h-0.6zM67.2 95.6h0.6v0.6h-0.6zM73.4 106.8h0.6v0.6h-0.6zM77.7 110.8h0.6v0.6h-0.6zM73.3 111.3h0.6v0.6h-0.6zM84.7 93.6h0.6v0.6h-0.6zM65.8 108.5h0.6v0.6h-0.6zM64.2 113.4h0.6v0.6h-0.6zM69.3 99.7h0.6v0.6h-0.6zM64.6 104.4h0.6v0.6h-0.6zM68.0 109.3h0.6v0.6h-0.6zM73.4 104.2h0.6v0.6h-0.6zM78.8 102.8h0.6v0.6h-0.6zM74.9 108.8h0.6v0.6h-0.6zM74.3 102.6h0.6v0.6h-0.6zM66.8 108.0h0.6v0.6h-0.6zM75.8 103.6h0.6v0.6h-0.6zM69.0 100.8h0.6v0.6h-0.6zM65.9 118.8h0.6v0.6h-0.6zM59.2 92.0h0.6v0.6h-0.6zM77.3 103.2h0.6v0.6h-0.6zM70.5 99.8h0.6v0.6h-0.6zM72.3 84.1h0.6v0.6h-0.6zM72.8 112.3h0.6v0.6h-0.6zM73.2 107.4h0.6v0.6h-0.6zM81.2 111.0h0.6v0.6h-0.6zM79.7 113.7h0.6v0.6h-0.6zM85.0 106.2h0.6v0.6h-0.6zM80.2 101.1h0.6v0.6h-0.6zM82.6 95.0h0.6v0.6h-0.6zM62.9 99.3h0.6v0.6h-0.6zM80.0 100.8h0.6v0.6h-0.6zM72.6 115.5h0.6v0.6h-0.6zM85.7 111.1h0.6v0.6h-0.6zM80.6 97.2h0.6v0.6h-0.6zM77.3 105.0h0.6v0.6h-0.6zM85.4 110.2h0.6v0.6h-0.6zM67.6 103.5h0.6v0.6h-0.6zM80.8 107.2h0.6v0.6h-0.6zM70.4 112.6h0.6v0.6h-0.6zM59.0 110.2h0.6v0.6h-0.6zM68.0 93.8h0.6v0.6h-0.6zM72.5 114.5h0.6v0.6h-0.6zM61.3 103.9h0.6v0.6h-0.6zM75.3 101.6h0.6v0.6h-0.6zM71.5 104.2h0.6v0.6h-0.6zM77.0 116.7h0.6v0.6h-0.6zM83.1 91.1h0.6v0.6h-0.6zM80.7 112.8h0.6v0.6h-0.6zM71.5 107.1h0.6v0.6h-0.6zM69.8 95.2h0.6v0.6h-0.6zM70.2 99.6h0.6v0.6h-0.6zM83.4 100.0h0.6v0.6h-0.6zM81.0 112.1h0.6v0.6h-0.6zM85.7 105.4h0.6v0.6h-0.6zM79.6 98.8h0.6v0.6h-0.6zM66.0 117.8h0.6v0.6h-0.6zM84.7 97.0h0.6v0.6h-0.6zM67.3 118.7h0.6v0.6h-0.6zM77.8 114.5h0.6v0.6h-0.6zM88.5 103.9h0.6v0.6h-0.6zM83.3 95.8h0.6v0.6h-0.6zM74.8 111.5h0.6v0.6h-0.6zM87.5 105.2h0.6v0.6h-0.6zM80.0 98.5h0.6v0.6h-0.6zM83.4 94.7h0.6v0.6h-0.6zM72.0 103.9h0.6v0.6h-0.6zM66.8 100.3h0.6v0.6h-0.6zM72.3 112.7h0.6v0.6h-0.6zM80.7 107.8h0.6v0.6h-0.6zM78.3 108.2h0.6v0.6h-0.6zM66.6 102.4h0.6v0.6h-0.6zM73.1 111.1h0.6v0.6h-0.6zM77.9 109.4h0.6v0.6h-0.6zM64.6 117.6h0.6v0.6h-0.6zM69.3 97.2h0.6v0.6h-0.6zM75.3 107.1h0.6v0.6h-0.6zM73.2 116.7h0.6v0.6h-0.6zM70.0 101.1h0.6v0.6h-0.6zM63.0 115.3h0.6v0.6h-0.6zM71.7 101.7h0.6v0.6h-0.6zM58.6 98.1h0.6v0.6h-0.6zM70.1 107.9h0.6v0.6h-0.6zM83.0 113.7h0.6v0.6h-0.6zM68.1 106.5h0.6v0.6h-0.6zM88.4 109.9h0.6v0.6h-0.6zM82.3 115.2h0.6v0.6h-0.6zM80.0 105.9h0.6v0.6h-0.6zM97.8 93.6h0.6v0.6h-0.6zM77.4 110.7h0.6v0.6h-0.6zM76.5 105.6h0.6v0.6h-0.6zM72.1 114.3h0.6v0.6h-0.6zM59.6 96.5h0.6v0.6h-0.6zM63.0 99.9h0.6v0.6h-0.6zM70.5 108.2h0.6v0.6h-0.6zM84.2 98.7h0.6v0.6h-0.6zM82.4 92.7h0.6v0.6h-0.6zM82.1 106.1h0.6v0.6h-0.6zM76.0 108.3h0.6v0.6h-0.6zM83.0 107.8h0.6v0.6h-0.6zM84.5 108.3h0.6v0.6h-0.6zM83.5 110.0h0.6v0.6h-0.6zM67.8 93.6h0.6v0.6h-0.6zM65.8 113.7h0.6v0.6h-0.6zM85.5 104.0h0.6v0.6h-0.6zM87.0 101.2h0.6v0.6h-0.6zM72.0 94.5h0.6v0.6h-0.6zM93.8 106.4h0.6v0.6h-0.6zM82.0 92.7h0.6v0.6h-0.6zM80.0 91.2h0.6v0.6h-0.6zM69.6 110.9h0.6v0.6h-0.6zM88.6 118.4h0.6v0.6h-0.6zM75.4 95.3h0.6v0.6h-0.6zM79.1 102.1h0.6v0.6h-0.6zM82.3 109.6h0.6v0.6h-0.6zM91.5 110.9h0.6v0.6h-0.6zM74.6 109.5h0.6v0.6h-0.6zM73.2 102.1h0.6v0.6h-0.6zM70.6 103.8h0.6v0.6h-0.6zM70.3 106.0h0.6v0.6h-0.6zM62.4 101.9h0.6v0.6h-0.6zM81.0 99.4h0.6v0.6h-0.6zM66.5 119.9h0.6v0.6h-0.6zM70.9 119.5h0.6v0.6h-0.6zM75.0 109.5h0.6v0.6h-0.6zM83.5 100.4h0.6v0.6h-0.6zM68.5 106.2h0.6v0.6h-0.6zM75.0 111.6h0.6v0.6h-0.6zM71.3 100.2h0.6v0.6h-0.6zM77.7 99.6h0.6v0.6h-0.6zM67.3 107.8h0.6v0.6h-0.6zM71.9 94.8h0.6v0.6h-0.6zM83.2 103.6h0.6v0.6h-0.6zM84.3 105.3h0.6v0.6h-0.6zM69.3 107.0h0.6v0.6h-0.6zM69.3 102.4h0.6v0.6h-0.6zM78.7 97.6h0.6v0.6h-0.6zM61.3 112.3h0.6v0.6h-0.6zM81.1 114.3h0.6v0.6h-0.6zM81.4 103.8h0.6v0.6h-0.6zM59.2 103.0h0.6v0.6h-0.6zM79.3 107.3h0.6v0.6h-0.6zM67.1 112.9h0.6v0.6h-0.6zM71.6 97.4h0.6v0.6h-0.6zM76.0 104.8h0.6v0.6h-0.6zM64.8 97.6h0.6v0.6h-0.6zM76.9 119.4h0.6v0.6h-0.6zM69.0 101.8h0.6v0.6h-0.6zM82.5 92.3h0.6v0.6h-0.6zM77.8 108.0h0.6v0.6h-0.6zM83.4 100.4h0.6v0.6h-0.6zM68.2 103.5h0.6v0.6h-0.6zM70.7 101.3h0.6v0.6h-0.6zM71.0 111.2h0.6v0.6h-0.6zM73.2 103.9h0.6v0.6h-0.6zM80.9 103.3h0.6v0.6h-0.6zM77.6 93.8h0.6v0.6h-0.6zM76.4 105.9h0.6v0.6h-0.6zM70.0 101.2h0.6v0.6h-0.6zM68.2 114.9h0.6v0.6h-0.6zM74.4 100.0h0.6v0.6h-0.6zM69.9 98.0h0.6v0.6h-0.6zM77.5 106.6h0.6v0.6h-0.6zM68.3 99.7h0.6v0.6h-0.6zM77.8 96.3h0.6v0.6h-0.6zM88.4 106.4h0.6v0.6h-0.6zM70.6 107.3h0.6v0.6h-0.6zM59.2 109.7h0.6v0.6h-0.6zM70.0 112.8h0.6v0.6h-0.6zM83.2 99.1h0.6v0.6h-0.6zM88.4 103.0h0.6v0.6h-0.6zM72.9 113.7h0.6v0.6h-0.6zM83.9 100.4h0.6v0.6h-0.6zM77.0 100.7h0.6v0.6h-0.6zM67.1 100.0h0.6v0.6h-0.6zM78.8 91.1h0.6v0.6h-0.6zM77.4 98.9h0.6v0.6h-0.6zM72.8 114.9h0.6v0.6h-0.6zM79.1 102.3h0.6v0.6h-0.6zM91.0 92.7h0.6v0.6h-0.6zM75.6 112.6h0.6v0.6h-0.6zM63.4 108.9h0.6v0.6h-0.6zM73.0 118.0h0.6v0.6h-0.6zM82.9 109.5h0.6v0.6h-0.6zM61.8 103.0h0.6v0.6h-0.6zM89.9 111.5h0.6v0.6h-0.6zM68.8 103.5h0.6v0.6h-0.6zM59.3 106.1h0.6v0.6h-0.6zM66.2 93.8h0.6v0.6h-0.6zM66.2 111.2h0.6v0.6h-0.6zM61.3 82.7h0.6v0.6h-0.6zM94.0 101.4h0.6v0.6h-0.6zM70.9 95.8h0.6v0.6h-0.6zM85.3 110.4h0.6v0.6h-0.6zM81.7 108.8h0.6v0.6h-0.6zM83.0 108.4h0.6v0.6h-0.6zM73.4 113.1h0.6v0.6h-0.6zM77.1 100.7h0.6v0.6h-0.6zM78.2 89.8h0.6v0.6h-0.6zM76.3 99.7h0.6v0.6h-0.6zM61.7 109.6h0.6v0.6h-0.6zM92.7 115.0h0.6v0.6h-0.6zM80.5 98.9h0.6v0.6h-0.6zM62.4 102.3h0.6v0.6h-0.6zM68.9 106.9h0.6v0.6h-0.6zM90.5 111.6h0.6v0.6h-0.6zM78.3 108.2h0.6v0.6h-0.6zM61.4 110.8h0.6v0.6h-0.6zM76.8 99.3h0.6v0.6h-0.6zM74.5 103.5h0.6v0.6h-0.6zM80.5 101.2h0.6v0.6h-0.6zM85.2 105.5h0.6v0.6h-0.6zM70.8 116.3h0.6v0.6h-0.6zM73.7 105.1h0.6v0.6h-0.6zM65.7 114.5h0.6v0.6h-0.6zM74.9 109.5h0.6v0.6h-0.6zM72.6 107.4h0.6v0.6h-0.6zM63.7 101.5h0.6v0.6h-0.6zM63.8 102.6h0.6v0.6h-0.6zM81.7 101.1h0.6v0.6h-0.6zM74.4 106.6h0.6v0.6h-0.6zM90.0 111.6h0.6v0.6h-0.6zM60.5 115.7h0.6v0.6h-0.6zM60.0 93.3h0.6v0.6h-0.6zM76.9 117.4h0.6v0.6h-0.6zM67.9 95.4h0.6v0.6h-0.6zM72.0 106.2h0.6v0.6h-0.6zM87.0 105.5h0.6v0.6h-0.6zM71.4 101.6h0.6v0.6h-0.6zM76.1 108.7h0.6v0.6h-0.6zM66.0 103.4h0.6v0.6h-0.6zM79.1 87.2h0.6v0.6h-0.6zM69.6 108.1h0.6v0.6h-0.6zM71.8 114.2h0.6v0.6h-0.6zM72.5 109.1h0.6v0.6h-0.6zM79.2 101.2h0.6v0.6h-0.6zM70.1 102.0h0.6v0.6h-0.6zM65.0 105.2h0.6v0.6h-0.6zM68.7 104.8h0.6v0.6h-0.6zM65.2 117.6h0.6v0.6h-0.6zM79.5 115.8h0.6v0.6h-0.6zM69.1 101.9h0.6v0.6h-0.6zM79.2 107.6h0.6v0.6h-0.6zM77.6 111.3h0.6v0.6h-0.6zM79.3 114.0h0.6v0.6h-0.6zM70.1 112.8h0.6v0.6h-0.6zM72.6 101.0h0.6v0.6h-0.6zM74.7 104.1h0.6v0.6h-0.6zM78.3 96.8h0.6v0.6h-0.6zM69.5 107.8h0.6v0.6h-0.6zM70.2 101.5h0.6v0.6h-0.6zM79.5 106.5h0.6v0.6h-0.6zM69.9 98.7h0.6v0.6h-0.6zM79.6 110.9h0.6v0.6h-0.6zM80.4 109.0h0.6v0.6h-0.6zM72.3 98.4h0.6v0.6h-0.6zM74.2 103.6h0.6v0.6h-0.6zM69.2 106.7h0.6v0.6h-0.6zM71.7 110.4h0.6v0.6h-0.6zM68.3 101.5h0.6v0.6h-0.6zM70.9 104.3h0.6v0.6h-0.6zM82.0 109.0h0.6v0.6h-0.6zM62.1 102.2h0.6v0.6h-0.6zM65.9 107.2h0.6v0.6h-0.6zM70.4 113.2h0.6v0.6h-0.6zM76.4 110.8h0.6v0.6h-0.6zM68.6 93.2h0.6v0.6h-0.6zM78.9 107.2h0.6v0.6h-0.6zM58.0 104.0h0.6v0.6h-0.6zM70.1 99.6h0.6v0.6h-0.6zM74.8 93.2h0.6v0.6h-0.6zM62.2 114.4h0.6v0.6h-0.6zM80.1 103.9h0.6v0.6h-0.6zM75.4 107.0h0.6v0.6h-0.6zM69.4 109.3h0.6v0.6h-0.6zM64.4 109.5h0.6v0.6h-0.6zM67.8 91.9h0.6v0.6h-0.6zM84.5 99.2h0.6v0.6h-0.6zM76.6 110.2h0.6v0.6h-0.6zM66.3 105.2h0.6v0.6h-0.6zM86.6 98.1h0.6v0.6h-0.6zM72.2 105.0h0.6v0.6h-0.6zM60.4 101.4h0.6v0.6h-0.6zM66.5 105.3h0.6v0.6h-0.6zM78.0 102.6h0.6v0.6h-0.6zM69.4 103.2h0.6v0.6h-0.6zM70.9 98.3h0.6v0.6h-0.6zM72.7 103.8h0.6v0.6h-0.6zM73.1 105.4h0.6v0.6h-0.6zM74.9 92.1h0.6v0.6h-0.6zM84.4 109.8h0.6v0.6h-0.6zM70.0 114.6h0.6v0.6h-0.6zM79.8 97.0h0.6v0.6h-0.6zM69.0 108.2h0.6v0.6h-0.6zM89.5 101.4h0.6v0.6h-0.6zM87.4 106.3h0.6v0.6h-0.6zM68.5 115.4h0.6v0.6h-0.6zM66.9 103.4h0.6v0.6h-0.6zM82.2 95.0h0.6v0.6h-0.6zM61.3 117.2h0.6v0.6h-0.6zM80.7 99.1h0.6v0.6h-0.6zM64.4 112.7h0.6v0.6h-0.6zM79.8 107.9h0.6v0.6h-0.6zM74.2 111.2h0.6v0.6h-0.6zM66.8 105.7h0.6v0.6h-0.6zM87.2 103.7h0.6v0.6h-0.6zM76.4 112.1h0.6v0.6h-0.6zM60.3 88.4h0.6v0.6h-0.6zM87.4 107.6h0.6v0.6h-0.6zM79.5 101.6h0.6v0.6h-0.6zM75.6 111.3h0.6v0.6h-0.6zM74.3 100.6h0.6v0.6h-0.6zM67.0 93.0h0.6v0.6h-0.6zM69.3 95.9h0.6v0.6h-0.6zM71.9 112.8h0.6v0.6h-0.6zM84.0 113.1h0.6v0.6h-0.6zM81.1 97.6h0.6v0.6h-0.6zM69.3 101.4h0.6v0.6h-0.6zM80.8 103.2h0.6v0.6h-0.6zM85.0 107.3h0.6v0.6h-0.6zM78.4 87.7h0.6v0.6h-0.6zM76.9 97.2h0.6v0.6h-0.6zM83.5 104.1h0.6v0.6h-0.6zM82.1 110.8h0.6v0.6h-0.6zM70.6 99.8h0.6v0.6h-0.6zM85.2 116.2h0.6v0.6h-0.6zM68.5 92.7h0.6v0.6h-0.6zM83.4 94.1h0.6v0.6h-0.6zM75.2 89.0h0.6v0.6h-0.6zM85.4 108.6h0.6v0.6h-0.6zM72.1 95.7h0.6v0.6h-0.6zM81.7 107.4h0.6v0.6h-0.6zM63.9 111.5h0.6v0.6h-0.6zM78.7 92.9h0.6v0.6h-0.6zM60.3 97.8h0.6v0.6h-0.6zM86.7 100.5h0.6v0.6h-0.6zM91.5 115.7h0.6v0.6h-0.6zM60.6 103.6h0.6v0.6h-0.6zM105.7 105.6h0.6v0.6h-0.6zM82.2 108.6h0.6v0.6h-0.6zM73.3 99.8h0.6v0.6h-0.6zM78.3 109.2h0.6v0.6h-0.6zM81.2 112.5h0.6v0.6h-0.6zM65.8 98.2h0.6v0.6h-0.6zM82.7 106.9h0.6v0.6h-0.6zM58.4 97.9h0.6v0.6h-0.6zM73.2 108.5h0.6v0.6h-0.6zM80.0 94.4h0.6v0.6h-0.6zM69.3 118.0h0.6v0.6h-0.6zM66.8 106.0h0.6v0.6h-0.6zM88.6 104.7h0.6v0.6h-0.6zM74.9 98.3h0.6v0.6h-0.6zM68.7 114.6h0.6v0.6h-0.6zM80.8 107.6h0.6v0.6h-0.6zM71.1 118.7h0.6v0.6h-0.6zM68.0 96.8h0.6v0.6h-0.6zM69.7 107.1h0.6v0.6h-0.6zM57.3 98.9h0.6v0.6h-0.6zM92.9 111.8h0.6v0.6h-0.6zM83.1 102.8h0.6v0.6h-0.6zM66.1 102.9h0.6v0.6h-0.6zM85.7 108.6h0.6v0.6h-0.6zM81.4 110.7h0.6v0.6h-0.6zM68.8 106.4h0.6v0.6h-0.6zM67.2 96.8h0.6v0.6h-0.6zM79.9 94.7h0.6v0.6h-0.6zM89.0 107.2h0.6v0.6h-0.6zM63.2 100.7h0.6v0.6h-0.6zM65.5 113.0h0.6v0.6h-0.6zM80.6 105.8h0.6v0.6h-0.6zM73.2 97.9h0.6v0.6h-0.6zM64.5 108.5h0.6v0.6h-0.6zM82.8 104.7h0.6v0.6h-0.6zM78.1 105.9h0.6v0.6h-0.6zM86.0 103.9h0.6v0.6h-0.6zM67.7 92.8h0.6v0.6h-0.6zM65.5 108.6h0.6v0.6h-0.6zM66.2 114.0h0.6v0.6h-0.6zM71.6 90.1h0.6v0.6h-0.6zM76.7 101.1h0.6v0.6h-0.6zM65.9 105.8h0.6v0.6h-0.6zM62.1 92.5h0.6v0.6h-0.6zM74.3 109.3h0.6v0.6h-0.6zM70.5 114.3h0.6v0.6h-0.6zM58.5 109.5h0.6v0.6h-0.6zM77.2 93.0h0.6v0.6h-0.6zM78.9 102.5h0.6v0.6h-0.6zM85.7 92.4h0.6v0.6h-0.6zM81.1 102.7h0.6v0.6h-0.6zM71.6 102.8h0.6v0.6h-0.6zM74.1 104.3h0.6v0.6h-0.6zM84.1 100.5h0.6v0.6h-0.6zM68.1 104.5h0.6v0.6h-0.6zM74.9 116.6h0.6v0.6h-0.6zM70.0 100.1h0.6v0.6h-0.6zM80.2 109.1h0.6v0.6h-0.6zM65.7 102.0h0.6v0.6h-0.6zM62.5 111.0h0.6v0.6h-0.6zM67.3 99.4h0.6v0.6h-0.6zM71.0 97.4h0.6v0.6h-0.6zM75.2 111.8h0.6v0.6h-0.6zM76.0 91.2h0.6v0.6h-0.6zM74.3 99.9h0.6v0.6h-0.6zM83.2 103.0h0.6v0.6h-0.6zM77.9 93.5h0.6v0.6h-0.6zM68.2 105.8h0.6v0.6h-0.6zM71.6 104.8h0.6v0.6h-0.6zM89.4 94.7h0.6v0.6h-0.6zM63.7 115.3h0.6v0.6h-0.6zM76.7 99.1h0.6v0.6h-0.6zM78.2 112.2h0.6v0.6h-0.6zM68.1 112.2h0.6v0.6h-0.6zM73.4 116.1h0.6v0.6h-0.6zM73.9 114.3h0.6v0.6h-0.6zM69.5 108.9h0.6v0.6h-0.6zM84.9 105.7h0.6v0.6h-0.6zM71.3 99.1h0.6v0.6h-0.6zM68.5 111.3h0.6v0.6h-0.6zM66.3 110.6h0.6v0.6h-0.6zM75.3 103.1h0.6v0.6h-0.6zM68.7 101.2h0.6v0.6h-0.6zM56.7 109.9h0.6v0.6h-0.6zM70.8 114.8h0.6v0.6h-0.6zM67.9 98.4h0.6v0.6h-0.6zM74.4 101.7h0.6v0.6h-0.6zM64.5 88.6h0.6v0.6h-0.6zM67.2 99.9h0.6v0.6h-0.6zM81.2 110.9h0.6v0.6h-0.6zM65.7 111.1h0.6v0.6h-0.6zM65.6 99.4h0.6v0.6h-0.6zM71.0 97.7h0.6v0.6h-0.6zM81.7 117.3h0.6v0.6h-0.6zM65.7 108.0h0.6v0.6h-0.6zM74.8 108.8h0.6v0.6h-0.6zM69.8 115.0h0.6v0.6h-0.6zM80.9 109.3h0.6v0.6h-0.6zM74.5 110.7h0.6v0.6h-0.6zM84.3 105.7h0.6v0.6h-0.6zM81.1 116.8h0.6v0.6h-0.6zM73.4 103.1h0.6v0.6h-0.6zM75.7 85.3h0.6v0.6h-0.6zM80.3 109.5h0.6v0.6h-0.6zM93.0 94.0h0.6v0.6h-0.6zM77.9 108.5h0.6v0.6h-0.6zM81.4 95.5h0.6v0.6h-0.6zM77.4 107.2h0.6v0.6h-0.6zM68.9 98.4h0.6v0.6h-0.6zM74.1 97.5h0.6v0.6h-0.6zM66.5 107.2h0.6v0.6h-0.6zM80.0 96.2h0.6v0.6h-0.6zM58.5 96.8h0.6v0.6h-0.6zM81.2 102.5h0.6v0.6h-0.6zM81.2 110.0h0.6v0.6h-0.6zM85.5 102.2h0.6v0.6h-0.6zM76.1 111.9h0.6v0.6h-0.6zM71.1 97.2h0.6v0.6h-0.6zM84.9 117.1h0.6v0.6h-0.6zM67.2 109.3h0.6v0.6h-0.6zM79.1 106.8h0.6v0.6h-0.6zM71.6 98.3h0.6v0.6h-0.6zM64.3 112.8h0.6v0.6h-0.6zM75.0 109.6h0.6v0.6h-0.6zM58.7 112.9h0.6v0.6h-0.6zM83.6 107.4h0.6v0.6h-0.6zM76.5 97.5h0.6v0.6h-0.6zM69.2 108.8h0.6v0.6h-0.6zM77.9 114.4h0.6v0.6h-0.6zM69.7 109.0h0.6v0.6h-0.6zM66.7 103.6h0.6v0.6h-0.6zM69.3 87.1h0.6v0.6h-0.6zM82.0 97.6h0.6v0.6h-0.6zM66.9 106.1h0.6v0.6h-0.6zM64.4 97.3h0.6v0.6h-0.6zM80.6 101.3h0.6v0.6h-0.6zM84.7 116.6h0.6v0.6h-0.6zM80.9 102.3h0.6v0.6h-0.6zM81.3 110.7h0.6v0.6h-0.6zM76.0 113.8h0.6v0.6h-0.6zM78.8 95.2h0.6v0.6h-0.6zM72.5 105.6h0.6v0.6h-0.6zM63.7 93.3h0.6v0.6h-0.6zM75.4 108.7h0.6v0.6h-0.6zM65.5 108.8h0.6v0.6h-0.6zM66.0 94.9h0.6v0.6h-0.6zM82.8 105.9h0.6v0.6h-0.6zM58.3 91.6h0.6v0.6h-0.6zM75.3 97.6h0.6v0.6h-0.6zM66.8 93.4h0.6v0.6h-0.6zM59.8 117.8h0.6v0.6h-0.6zM66.5 94.9h0.6v0.6h-0.6zM82.2 102.6h0.6v0.6h-0.6zM72.0 113.5h0.6v0.6h-0.6zM63.8 109.4h0.6v0.6h-0.6zM72.4 117.7h0.6v0.6h-0.6zM77.1 114.8h0.6v0.6h-0.6zM83.4 104.9h0.6v0.6h-0.6zM81.4 114.0h0.6v0.6h-0.6zM73.5 115.4h0.6v0.6h-0.6zM70.8 109.4h0.6v0.6h-0.6zM62.5 113.4h0.6v0.6h-0.6zM58.1 113.6h0.6v0.6h-0.6zM77.8 112.3h0.6v0.6h-0.6zM77.2 110.8h0.6v0.6h-0.6zM69.1 114.6h0.6v0.6h-0.6zM73.7 115.7h0.6v0.6h-0.6zM74.8 117.8h0.6v0.6h-0.6zM88.6 116.5h0.6v0.6h-0.6zM82.5 115.4h0.6v0.6h-0.6zM64.5 117.4h0.6v0.6h-0.6zM81.8 109.6h0.6v0.6h-0.6zM72.5 107.8h0.6v0.6h-0.6zM76.9 120.0h0.6v0.6h-0.6zM75.4 111.2h0.6v0.6h-0.6zM83.8 116.1h0.6v0.6h-0.6zM75.8 117.3h0.6v0.6h-0.6zM72.0 118.4h0.6v0.6h-0.6zM66.6 115.5h0.6v0.6h-0.6zM66.9 107.5h0.6v0.6h-0.6zM78.6 108.6h0.6v0.6h-0.6zM87.7 106.3h0.6v0.6h-0.6zM73.3 110.0h0.6v0.6h-0.6zM75.6 106.3h0.6v0.6h-0.6zM79.5 114.7h0.6v0.6h-0.6zM85.4 118.8h0.6v0.6h-0.6zM74.7 107.4h0.6v0.6h-0.6zM79.0 111.2h0.6v0.6h-0.6zM74.2 118.6h0.6v0.6h-0.6zM64.8 114.8h0.6v0.6h-0.6zM77.8 115.2h0.6v0.6h-0.6zM77.5 110.6h0.6v0.6h-0.6zM68.4 113.5h0.6v0.6h-0.6zM75.5 113.4h0.6v0.6h-0.6zM65.3 112.5h0.6v0.6h-0.6zM75.2 109.3h0.6v0.6h-0.6zM65.3 115.8h0.6v0.6h-0.6zM94.3 114.5h0.6v0.6h-0.6zM78.7 109.8h0.6v0.6h-0.6zM76.4 115.5h0.6v0.6h-0.6zM83.2 110.2h0.6v0.6h-0.6zM83.3 112.3h0.6v0.6h-0.6zM76.4 109.0h0.6v0.6h-0.6zM84.9 114.8h0.6v0.6h-0.6zM65.8 115.6h0.6v0.6h-0.6zM80.3 117.7h0.6v0.6h-0.6zM81.4 106.3h0.6v0.6h-0.6zM63.9 113.6h0.6v0.6h-0.6zM75.3 108.9h0.6v0.6h-0.6zM83.3 115.7h0.6v0.6h-0.6zM57.4 108.9h0.6v0.6h-0.6zM84.3 106.5h0.6v0.6h-0.6zM62.2 115.4h0.6v0.6h-0.6zM82.9 108.1h0.6v0.6h-0.6zM71.0 106.8h0.6v0.6h-0.6zM83.1 118.0h0.6v0.6h-0.6zM77.0 113.3h0.6v0.6h-0.6zM64.2 106.8h0.6v0.6h-0.6zM79.9 115.5h0.6v0.6h-0.6zM59.6 109.8h0.6v0.6h-0.6zM65.3 111.6h0.6v0.6h-0.6zM71.8 119.3h0.6v0.6h-0.6zM73.3 117.9h0.6v0.6h-0.6zM73.6 117.4h0.6v0.6h-0.6zM71.5 117.2h0.6v0.6h-0.6zM66.0 106.5h0.6v0.6h-0.6zM82.4 108.3h0.6v0.6h-0.6zM62.3 119.5h0.6v0.6h-0.6zM69.7 113.8h0.6v0.6h-0.6zM75.4 115.5h0.6v0.6h-0.6zM82.0 112.4h0.6v0.6h-0.6zM64.2 117.5h0.6v0.6h-0.6zM71.8 111.4h0.6v0.6h-0.6zM78.7 116.4h0.6v0.6h-0.6zM74.8 105.0h0.6v0.6h-0.6zM59.9 115.8h0.6v0.6h-0.6zM84.9 118.3h0.6v0.6h-0.6zM76.6 115.5h0.6v0.6h-0.6zM84.4 114.5h0.6v0.6h-0.6zM74.9 107.2h0.6v0.6h-0.6zM88.2 111.0h0.6v0.6h-0.6zM80.4 107.7h0.6v0.6h-0.6zM77.6 108.9h0.6v0.6h-0.6zM85.6 118.1h0.6v0.6h-0.6zM59.9 115.5h0.6v0.6h-0.6zM65.3 114.5h0.6v0.6h-0.6zM72.1 117.7h0.6v0.6h-0.6zM66.5 115.9h0.6v0.6h-0.6zM80.2 118.3h0.6v0.6h-0.6zM66.0 116.6h0.6v0.6h-0.6zM80.3 118.1h0.6v0.6h-0.6zM61.4 111.8h0.6v0.6h-0.6zM70.7 117.8h0.6v0.6h-0.6zM81.4 111.5h0.6v0.6h-0.6zM71.5 106.4h0.6v0.6h-0.6zM67.4 112.7h0.6v0.6h-0.6zM72.7 117.0h0.6v0.6h-0.6zM76.2 106.6h0.6v0.6h-0.6zM64.0 115.5h0.6v0.6h-0.6zM74.0 118.0h0.6v0.6h-0.6zM78.2 112.7h0.6v0.6h-0.6zM69.8 116.4h0.6v0.6h-0.6zM66.6 112.4h0.6v0.6h-0.6zM83.4 111.8h0.6v0.6h-0.6zM77.2 103.1h0.6v0.6h-0.6zM65.7 113.6h0.6v0.6h-0.6zM77.9 112.9h0.6v0.6h-0.6zM73.5 110.1h0.6v0.6h-0.6zM72.3 116.7h0.6v0.6h-0.6zM64.4 108.0h0.6v0.6h-0.6zM85.8 110.9h0.6v0.6h-0.6zM70.6 111.9h0.6v0.6h-0.6zM78.1 116.8h0.6v0.6h-0.6zM66.5 116.1h0.6v0.6h-0.6zM76.7 119.6h0.6v0.6h-0.6zM71.8 115.0h0.6v0.6h-0.6zM57.3 111.9h0.6v0.6h-0.6zM79.1 108.6h0.6v0.6h-0.6zM65.7 113.5h0.6v0.6h-0.6zM70.1 109.9h0.6v0.6h-0.6zM68.2 115.8h0.6v0.6h-0.6zM86.1 117.4h0.6v0.6h-0.6zM76.1 119.2h0.6v0.6h-0.6zM59.5 118.3h0.6v0.6h-0.6zM74.2 113.4h0.6v0.6h-0.6zM67.6 113.7h0.6v0.6h-0.6zM77.5 111.1h0.6v0.6h-0.6zM64.9 115.5h0.6v0.6h-0.6zM87.3 118.4h0.6v0.6h-0.6zM83.5 111.1h0.6v0.6h-0.6zM69.1 112.2h0.6v0.6h-0.6zM90.7 111.9h0.6v0.6h-0.6zM84.1 117.1h0.6v0.6h-0.6zM65.9 115.6h0.6v0.6h-0.6zM86.0 116.6h0.6v0.6h-0.6zM76.0 118.3h0.6v0.6h-0.6zM61.0 111.8h0.6v0.6h-0.6zM74.1 116.8h0.6v0.6h-0.6zM85.0 111.4h0.6v0.6h-0.6zM74.3 118.8h0.6v0.6h-0.6zM84.3 111.4h0.6v0.6h-0.6zM65.4 112.4h0.6v0.6h-0.6zM77.0 104.2h0.6v0.6h-0.6zM86.5 113.0h0.6v0.6h-0.6zM83.1 119.8h0.6v0.6h-0.6zM70.0 108.0h0.6v0.6h-0.6zM67.7 113.7h0.6v0.6h-0.6zM61.3 111.8h0.6v0.6h-0.6zM76.1 115.9h0.6v0.6h-0.6zM73.5 109.7h0.6v0.6h-0.6zM71.6 112.7h0.6v0.6h-0.6zM84.6 111.4h0.6v0.6h-0.6zM62.4 115.5h0.6v0.6h-0.6zM65.4 119.1h0.6v0.6h-0.6zM85.5 112.3h0.6v0.6h-0.6zM70.1 116.5h0.6v0.6h-0.6zM58.9 118.0h0.6v0.6h-0.6zM85.6 114.8h0.6v0.6h-0.6zM74.6 111.3h0.6v0.6h-0.6zM66.0 115.4h0.6v0.6h-0.6zM76.5 111.6h0.6v0.6h-0.6zM82.9 112.4h0.6v0.6h-0.6zM82.6 109.9h0.6v0.6h-0.6zM76.8 116.4h0.6v0.6h-0.6zM82.8 112.7h0.6v0.6h-0.6zM74.2 114.4h0.6v0.6h-0.6zM83.9 110.4h0.6v0.6h-0.6zM71.9 106.8h0.6v0.6h-0.6zM88.7 114.7h0.6v0.6h-0.6zM70.8 113.5h0.6v0.6h-0.6zM80.8 112.7h0.6v0.6h-0.6zM76.3 108.2h0.6v0.6h-0.6zM62.4 118.6h0.6v0.6h-0.6zM74.3 107.4h0.6v0.6h-0.6zM74.8 117.0h0.6v0.6h-0.6zM87.9 110.8h0.6v0.6h-0.6zM75.4 110.7h0.6v0.6h-0.6zM58.5 109.9h0.6v0.6h-0.6zM73.3 111.7h0.6v0.6h-0.6zM71.4 111.9h0.6v0.6h-0.6zM78.8 117.9h0.6v0.6h-0.6zM62.7 110.6h0.6v0.6h-0.6zM62.1 118.2h0.6v0.6h-0.6zM63.0 111.2h0.6v0.6h-0.6zM82.4 110.5h0.6v0.6h-0.6zM76.1 117.2h0.6v0.6h-0.6zM67.9 118.7h0.6v0.6h-0.6zM79.8 115.7h0.6v0.6h-0.6zM72.6 110.1h0.6v0.6h-0.6zM71.6 113.5h0.6v0.6h-0.6zM72.5 116.3h0.6v0.6h-0.6zM66.9 113.9h0.6v0.6h-0.6zM82.7 109.7h0.6v0.6h-0.6zM73.6 108.9h0.6v0.6h-0.6zM72.6 114.9h0.6v0.6h-0.6zM61.1 118.7h0.6v0.6h-0.6zM72.5 115.2h0.6v0.6h-0.6zM65.0 116.4h0.6v0.6h-0.6zM77.7 107.4h0.6v0.6h-0.6zM72.4 113.0h0.6v0.6h-0.6zM81.5 109.0h0.6v0.6h-0.6zM80.6 115.3h0.6v0.6h-0.6zM87.7 108.6h0.6v0.6h-0.6zM82.7 103.2h0.6v0.6h-0.6zM62.1 112.6h0.6v0.6h-0.6zM63.4 116.9h0.6v0.6h-0.6zM69.3 114.3h0.6v0.6h-0.6zM73.4 116.7h0.6v0.6h-0.6zM67.4 118.0h0.6v0.6h-0.6zM72.1 115.7h0.6v0.6h-0.6zM79.4 116.0h0.6v0.6h-0.6zM66.8 111.7h0.6v0.6h-0.6zM68.6 114.9h0.6v0.6h-0.6zM75.7 105.3h0.6v0.6h-0.6zM63.6 115.7h0.6v0.6h-0.6zM66.7 115.5h0.6v0.6h-0.6zM76.3 109.7h0.6v0.6h-0.6zM84.4 118.7h0.6v0.6h-0.6zM78.8 106.7h0.6v0.6h-0.6zM67.2 115.9h0.6v0.6h-0.6zM82.4 110.6h0.6v0.6h-0.6zM79.9 110.7h0.6v0.6h-0.6zM86.9 112.7h0.6v0.6h-0.6zM88.5 109.4h0.6v0.6h-0.6zM73.5 117.0h0.6v0.6h-0.6zM85.0 112.3h0.6v0.6h-0.6zM78.3 112.6h0.6v0.6h-0.6zM72.1 119.2h0.6v0.6h-0.6zM73.4 117.5h0.6v0.6h-0.6zM79.5 118.7h0.6v0.6h-0.6zM71.0 115.8h0.6v0.6h-0.6zM77.7 108.1h0.6v0.6h-0.6zM81.4 115.2h0.6v0.6h-0.6zM66.8 116.8h0.6v0.6h-0.6zM82.4 112.3h0.6v0.6h-0.6zM78.4 119.6h0.6v0.6h-0.6zM77.2 114.2h0.6v0.6h-0.6zM72.4 110.2h0.6v0.6h-0.6zM83.3 113.4h0.6v0.6h-0.6zM65.6 102.3h0.6v0.6h-0.6zM73.8 111.3h0.6v0.6h-0.6zM71.9 114.0h0.6v0.6h-0.6zM71.8 115.6h0.6v0.6h-0.6zM82.7 112.2h0.6v0.6h-0.6zM76.6 111.8h0.6v0.6h-0.6zM81.0 113.0h0.6v0.6h-0.6zM71.5 115.2h0.6v0.6h-0.6zM74.0 111.6h0.6v0.6h-0.6zM76.1 116.7h0.6v0.6h-0.6zM73.3 111.7h0.6v0.6h-0.6zM84.5 114.2h0.6v0.6h-0.6zM66.3 110.3h0.6v0.6h-0.6zM72.0 118.5h0.6v0.6h-0.6zM84.8 116.7h0.6v0.6h-0.6zM63.1 112.5h0.6v0.6h-0.6zM85.6 117.3h0.6v0.6h-0.6zM76.1 117.2h0.6v0.6h-0.6zM71.6 115.4h0.6v0.6h-0.6zM78.4 110.8h0.6v0.6h-0.6zM83.1 112.6h0.6v0.6h-0.6zM80.1 110.2h0.6v0.6h-0.6zM69.2 116.8h0.6v0.6h-0.6zM62.3 112.7h0.6v0.6h-0.6zM64.8 115.5h0.6v0.6h-0.6zM83.8 115.2h0.6v0.6h-0.6zM70.0 115.2h0.6v0.6h-0.6zM69.6 116.6h0.6v0.6h-0.6zM79.2 114.9h0.6v0.6h-0.6zM82.4 112.3h0.6v0.6h-0.6zM71.4 115.0h0.6v0.6h-0.6zM78.9 112.2h0.6v0.6h-0.6zM79.1 116.4h0.6v0.6h-0.6zM74.6 113.4h0.6v0.6h-0.6zM69.7 119.2h0.6v0.6h-0.6zM71.0 108.1h0.6v0.6h-0.6zM79.8 114.6h0.6v0.6h-0.6zM69.8 113.4h0.6v0.6h-0.6zM71.8 116.6h0.6v0.6h-0.6zM63.5 109.9h0.6v0.6h-0.6zM84.7 116.0h0.6v0.6h-0.6zM72.1 119.9h0.6v0.6h-0.6zM67.4 115.1h0.6v0.6h-0.6zM76.0 119.9h0.6v0.6h-0.6zM79.5 116.0h0.6v0.6h-0.6zM79.8 117.8h0.6v0.6h-0.6zM83.4 111.6h0.6v0.6h-0.6zM69.5 115.0h0.6v0.6h-0.6zM59.9 107.3h0.6v0.6h-0.6zM76.7 115.6h0.6v0.6h-0.6zM70.6 110.8h0.6v0.6h-0.6zM65.9 114.7h0.6v0.6h-0.6zM89.2 112.5h0.6v0.6h-0.6zM77.5 113.5h0.6v0.6h-0.6zM71.4 117.0h0.6v0.6h-0.6zM59.9 111.7h0.6v0.6h-0.6zM76.7 114.3h0.6v0.6h-0.6zM82.2 115.8h0.6v0.6h-0.6zM74.7 108.6h0.6v0.6h-0.6zM80.2 115.3h0.6v0.6h-0.6zM65.6 117.8h0.6v0.6h-0.6zM68.3 118.4h0.6v0.6h-0.6zM75.1 112.3h0.6v0.6h-0.6zM80.3 110.4h0.6v0.6h-0.6zM70.6 116.2h0.6v0.6h-0.6zM69.2 111.4h0.6v0.6h-0.6zM77.9 115.2h0.6v0.6h-0.6zM62.4 117.3h0.6v0.6h-0.6zM73.6 113.5h0.6v0.6h-0.6zM67.6 116.5h0.6v0.6h-0.6zM71.0 114.4h0.6v0.6h-0.6zM83.5 119.5h0.6v0.6h-0.6zM76.3 112.9h0.6v0.6h-0.6zM72.8 109.9h0.6v0.6h-0.6zM86.1 116.5h0.6v0.6h-0.6zM62.4 109.3h0.6v0.6h-0.6zM61.5 113.6h0.6v0.6h-0.6zM75.3 109.7h0.6v0.6h-0.6zM71.2 120.0h0.6v0.6h-0.6zM84.3 108.3h0.6v0.6h-0.6zM77.6 113.9h0.6v0.6h-0.6zM83.8 109.1h0.6v0.6h-0.6zM74.7 116.7h0.6v0.6h-0.6zM64.0 113.8h0.6v0.6h-0.6zM73.4 115.6h0.6v0.6h-0.6zM79.8 109.7h0.6v0.6h-0.6zM66.8 109.6h0.6v0.6h-0.6zM74.8 114.2h0.6v0.6h-0.6zM80.4 115.2h0.6v0.6h-0.6zM67.9 112.2h0.6v0.6h-0.6zM79.2 116.9h0.6v0.6h-0.6zM62.5 112.0h0.6v0.6h-0.6zM81.3 111.5h0.6v0.6h-0.6zM75.0 110.6h0.6v0.6h-0.6zM84.1 112.8h0.6v0.6h-0.6zM69.9 115.8h0.6v0.6h-0.6zM72.8 115.2h0.6v0.6h-0.6zM85.2 114.1h0.6v0.6h-0.6zM73.1 113.4h0.6v0.6h-0.6zM82.6 109.3h0.6v0.6h-0.6zM85.1 113.6h0.6v0.6h-0.6zM68.6 112.4h0.6v0.6h-0.6zM67.9 117.0h0.6v0.6h-0.6zM69.0 105.9h0.6v0.6h-0.6zM68.3 116.7h0.6v0.6h-0.6zM71.9 111.5h0.6v0.6h-0.6zM64.4 118.5h0.6v0.6h-0.6zM68.8 116.3h0.6v0.6h-0.6zM65.9 112.8h0.6v0.6h-0.6zM75.2 112.2h0.6v0.6h-0.6zM77.3 118.4h0.6v0.6h-0.6zM74.8 109.3h0.6v0.6h-0.6zM82.6 111.2h0.6v0.6h-0.6zM73.7 118.2h0.6v0.6h-0.6zM74.9 113.3h0.6v0.6h-0.6zM72.0 109.1h0.6v0.6h-0.6zM70.1 109.0h0.6v0.6h-0.6zM77.8 112.1h0.6v0.6h-0.6zM73.8 118.1h0.6v0.6h-0.6zM81.2 115.2h0.6v0.6h-0.6zM81.4 116.8h0.6v0.6h-0.6zM73.9 116.5h0.6v0.6h-0.6zM86.3 112.9h0.6v0.6h-0.6zM76.2 107.7h0.6v0.6h-0.6zM66.4 114.4h0.6v0.6h-0.6zM70.2 114.9h0.6v0.6h-0.6zM71.4 113.3h0.6v0.6h-0.6zM73.5 111.5h0.6v0.6h-0.6zM80.0 111.1h0.6v0.6h-0.6zM74.4 119.0h0.6v0.6h-0.6zM75.1 111.6h0.6v0.6h-0.6zM69.4 116.2h0.6v0.6h-0.6zM80.0 111.2h0.6v0.6h-0.6zM66.5 120.0h0.6v0.6h-0.6zM75.7 111.5h0.6v0.6h-0.6zM71.8 112.6h0.6v0.6h-0.6zM70.8 115.5h0.6v0.6h-0.6zM58.8 118.2h0.6v0.6h-0.6zM78.0 110.8h0.6v0.6h-0.6zM59.7 115.2h0.6v0.6h-0.6zM78.9 109.2h0.6v0.6h-0.6zM84.7 107.8h0.6v0.6h-0.6zM58.0 108.9h0.6v0.6h-0.6zM66.4 119.5h0.6v0.6h-0.6zM75.5 118.0h0.6v0.6h-0.6zM78.5 110.9h0.6v0.6h-0.6zM71.2 115.8h0.6v0.6h-0.6zM65.7 108.6h0.6v0.6h-0.6zM62.8 108.6h0.6v0.6h-0.6zM72.2 115.2h0.6v0.6h-0.6zM91.4 114.4h0.6v0.6h-0.6zM68.3 114.5h0.6v0.6h-0.6zM91.9 111.9h0.6v0.6h-0.6zM66.0 115.9h0.6v0.6h-0.6zM80.4 116.9h0.6v0.6h-0.6zM79.5 118.0h0.6v0.6h-0.6zM83.3 115.5h0.6v0.6h-0.6zM66.6 111.5h0.6v0.6h-0.6zM61.6 111.7h0.6v0.6h-0.6zM75.4 117.3h0.6v0.6h-0.6zM63.1 119.4h0.6v0.6h-0.6zM72.2 106.5h0.6v0.6h-0.6zM76.9 110.2h0.6v0.6h-0.6zM66.0 113.7h0.6v0.6h-0.6zM63.8 114.2h0.6v0.6h-0.6zM75.4 118.4h0.6v0.6h-0.6zM65.4 109.1h0.6v0.6h-0.6zM85.9 113.4h0.6v0.6h-0.6zM81.7 112.2h0.6v0.6h-0.6zM71.7 116.9h0.6v0.6h-0.6zM72.6 116.2h0.6v0.6h-0.6zM71.1 113.4h0.6v0.6h-0.6zM76.4 113.3h0.6v0.6h-0.6zM61.8 114.4h0.6v0.6h-0.6zM65.2 112.4h0.6v0.6h-0.6zM69.9 109.8h0.6v0.6h-0.6zM84.7 109.0h0.6v0.6h-0.6zM69.5 117.5h0.6v0.6h-0.6zM74.1 114.8h0.6v0.6h-0.6zM85.2 114.8h0.6v0.6h-0.6zM74.7 114.2h0.6v0.6h-0.6zM88.8 101.4h0.6v0.6h-0.6zM77.6 116.1h0.6v0.6h-0.6zM58.8 114.9h0.6v0.6h-0.6zM71.8 110.1h0.6v0.6h-0.6zM75.8 109.4h0.6v0.6h-0.6zM87.2 108.8h0.6v0.6h-0.6zM63.1 112.2h0.6v0.6h-0.6zM73.7 116.5h0.6v0.6h-0.6zM76.6 114.2h0.6v0.6h-0.6zM73.1 117.7h0.6v0.6h-0.6zM64.5 115.5h0.6v0.6h-0.6zM70.3 110.7h0.6v0.6h-0.6zM73.6 113.1h0.6v0.6h-0.6zM75.0 113.6h0.6v0.6h-0.6zM81.9 117.2h0.6v0.6h-0.6zM64.3 120.0h0.6v0.6h-0.6zM86.3 117.4h0.6v0.6h-0.6zM70.7 115.0h0.6v0.6h-0.6zM65.5 114.8h0.6v0.6h-0.6zM84.7 112.4h0.6v0.6h-0.6zM81.4 110.3h0.6v0.6h-0.6zM72.0 113.7h0.6v0.6h-0.6zM84.1 118.2h0.6v0.6h-0.6zM73.7 115.0h0.6v0.6h-0.6zM74.5 117.9h0.6v0.6h-0.6zM80.1 115.2h0.6v0.6h-0.6zM67.7 108.1h0.6v0.6h-0.6zM57.2 115.8h0.6v0.6h-0.6zM82.5 113.9h0.6v0.6h-0.6zM77.9 109.9h0.6v0.6h-0.6zM75.2 109.4h0.6v0.6h-0.6zM79.6 109.1h0.6v0.6h-0.6zM83.4 114.1h0.6v0.6h-0.6zM80.5 115.8h0.6v0.6h-0.6zM61.7 109.1h0.6v0.6h-0.6zM83.9 115.9h0.6v0.6h-0.6zM73.2 111.7h0.6v0.6h-0.6zM76.4 114.8h0.6v0.6h-0.6zM77.5 117.5h0.6v0.6h-0.6zM82.3 119.4h0.6v0.6h-0.6zM71.0 111.7h0.6v0.6h-0.6zM78.8 117.6h0.6v0.6h-0.6zM77.5 115.4h0.6v0.6h-0.6zM65.3 112.3h0.6v0.6h-0.6zM89.5 117.7h0.6v0.6h-0.6zM62.0 110.7h0.6v0.6h-0.6zM77.9 112.9h0.6v0.6h-0.6zM78.8 109.9h0.6v0.6h-0.6zM74.2 115.4h0.6v0.6h-0.6zM80.1 114.6h0.6v0.6h-0.6zM74.1 113.9h0.6v0.6h-0.6zM79.4 116.9h0.6v0.6h-0.6zM68.3 111.2h0.6v0.6h-0.6zM75.4 109.8h0.6v0.6h-0.6zM78.8 112.3h0.6v0.6h-0.6zM69.7 111.4h0.6v0.6h-0.6zM64.7 113.0h0.6v0.6h-0.6zM80.8 117.9h0.6v0.6h-0.6zM81.4 106.2h0.6v0.6h-0.6zM76.4 111.0h0.6v0.6h-0.6zM75.4 113.7h0.6v0.6h-0.6zM70.9 109.0h0.6v0.6h-0.6zM73.1 113.9h0.6v0.6h-0.6zM78.3 114.2h0.6v0.6h-0.6zM65.8 120.0h0.6v0.6h-0.6zM88.6 112.8h0.6v0.6h-0.6zM88.7 117.1h0.6v0.6h-0.6zM84.0 111.5h0.6v0.6h-0.6zM68.6 114.6h0.6v0.6h-0.6zM80.3 118.6h0.6v0.6h-0.6zM72.3 116.8h0.6v0.6h-0.6zM77.1 113.5h0.6v0.6h-0.6zM79.4 113.3h0.6v0.6h-0.6zM72.5 113.5h0.6v0.6h-0.6zM60.3 111.5h0.6v0.6h-0.6zM64.1 116.9h0.6v0.6h-0.6zM75.6 113.9h0.6v0.6h-0.6zM62.5 112.0h0.6v0.6h-0.6zM88.8 114.2h0.6v0.6h-0.6zM59.6 117.4h0.6v0.6h-0.6zM88.9 112.1h0.6v0.6h-0.6zM68.1 115.7h0.6v0.6h-0.6zM85.2 117.3h0.6v0.6h-0.6zM78.9 119.2h0.6v0.6h-0.6zM68.2 114.8h0.6v0.6h-0.6zM67.3 115.4h0.6v0.6h-0.6zM69.7 110.3h0.6v0.6h-0.6zM65.6 117.8h0.6v0.6h-0.6zM58.1 108.6h0.6v0.6h-0.6zM57.0 108.9h0.6v0.6h-0.6zM56.8 108.4h0.6v0.6h-0.6zM62.6 119.9h0.6v0.6h-0.6zM73.9 110.4h0.6v0.6h-0.6zM85.5 112.0h0.6v0.6h-0.6zM80.8 114.9h0.6v0.6h-0.6zM73.6 112.5h0.6v0.6h-0.6zM71.7 112.1h0.6v0.6h-0.6zM66.7 113.8h0.6v0.6h-0.6zM82.3 115.8h0.6v0.6h-0.6zM59.2 116.0h0.6v0.6h-0.6zM76.6 111.4h0.6v0.6h-0.6zM81.0 116.1h0.6v0.6h-0.6zM79.9 109.3h0.6v0.6h-0.6zM74.5 115.8h0.6v0.6h-0.6zM86.6 114.5h0.6v0.6h-0.6zM66.0 116.9h0.6v0.6h-0.6zM78.0 118.4h0.6v0.6h-0.6zM73.0 110.4h0.6v0.6h-0.6zM77.1 114.5h0.6v0.6h-0.6zM83.0 119.5h0.6v0.6h-0.6zM74.4 112.9h0.6v0.6h-0.6zM66.5 118.7h0.6v0.6h-0.6zM72.8 112.9h0.6v0.6h-0.6zM79.2 111.4h0.6v0.6h-0.6zM71.5 113.8h0.6v0.6h-0.6zM82.3 109.6h0.6v0.6h-0.6zM62.9 111.3h0.6v0.6h-0.6zM67.2 110.6h0.6v0.6h-0.6zM80.2 111.8h0.6v0.6h-0.6zM89.9 117.7h0.6v0.6h-0.6zM73.8 113.3h0.6v0.6h-0.6zM77.6 110.0h0.6v0.6h-0.6zM65.3 112.7h0.6v0.6h-0.6zM74.1 111.7h0.6v0.6h-0.6zM85.9 111.2h0.6v0.6h-0.6zM72.8 115.9h0.6v0.6h-0.6zM78.9 112.9h0.6v0.6h-0.6zM75.1 113.5h0.6v0.6h-0.6zM75.6 113.3h0.6v0.6h-0.6zM81.9 106.7h0.6v0.6h-0.6zM85.2 111.5h0.6v0.6h-0.6zM65.0 109.7h0.6v0.6h-0.6zM77.1 111.3h0.6v0.6h-0.6zM80.4 108.2h0.6v0.6h-0.6zM84.7 113.0h0.6v0.6h-0.6zM90.3 115.6h0.6v0.6h-0.6zM69.9 112.9h0.6v0.6h-0.6zM62.4 111.2h0.6v0.6h-0.6zM78.9 116.0h0.6v0.6h-0.6zM71.1 113.4h0.6v0.6h-0.6zM78.9 118.1h0.6v0.6h-0.6zM57.6 113.2h0.6v0.6h-0.6zM63.7 118.3h0.6v0.6h-0.6zM71.1 110.7h0.6v0.6h-0.6zM74.6 114.5h0.6v0.6h-0.6zM82.7 114.7h0.6v0.6h-0.6zM79.3 112.5h0.6v0.6h-0.6zM61.0 113.8h0.6v0.6h-0.6zM69.8 106.2h0.6v0.6h-0.6zM67.5 113.3h0.6v0.6h-0.6zM78.2 109.1h0.6v0.6h-0.6zM87.8 112.4h0.6v0.6h-0.6zM76.9 117.4h0.6v0.6h-0.6zM72.8 116.9h0.6v0.6h-0.6zM59.6 108.3h0.6v0.6h-0.6zM75.7 111.2h0.6v0.6h-0.6zM68.2 114.0h0.6v0.6h-0.6zM79.6 119.3h0.6v0.6h-0.6zM82.8 110.7h0.6v0.6h-0.6zM66.2 109.1h0.6v0.6h-0.6zM70.5 115.2h0.6v0.6h-0.6zM80.4 112.0h0.6v0.6h-0.6zM74.0 107.0h0.6v0.6h-0.6zM74.5 114.5h0.6v0.6h-0.6zM61.6 117.8h0.6v0.6h-0.6zM78.2 118.1h0.6v0.6h-0.6zM89.7 117.7h0.6v0.6h-0.6zM70.5 113.2h0.6v0.6h-0.6zM62.3 119.5h0.6v0.6h-0.6zM66.9 115.6h0.6v0.6h-0.6zM75.0 110.5h0.6v0.6h-0.6zM83.7 117.6h0.6v0.6h-0.6zM76.4 118.1h0.6v0.6h-0.6zM70.6 109.0h0.6v0.6h-0.6zM68.1 113.3h0.6v0.6h-0.6zM72.5 114.8h0.6v0.6h-0.6zM71.4 116.7h0.6v0.6h-0.6zM69.7 118.4h0.6v0.6h-0.6zM71.0 113.8h0.6v0.6h-0.6zM62.0 112.3h0.6v0.6h-0.6zM73.6 111.6h0.6v0.6h-0.6zM69.4 119.3h0.6v0.6h-0.6zM67.2 107.8h0.6v0.6h-0.6zM72.2 113.5h0.6v0.6h-0.6zM80.0 119.7h0.6v0.6h-0.6zM80.6 117.5h0.6v0.6h-0.6zM68.0 110.4h0.6v0.6h-0.6zM76.5 116.2h0.6v0.6h-0.6zM81.5 116.1h0.6v0.6h-0.6zM68.8 111.1h0.6v0.6h-0.6zM85.0 117.5h0.6v0.6h-0.6zM56.8 116.0h0.6v0.6h-0.6zM57.9 109.0h0.6v0.6h-0.6zM62.1 97.0h0.6v0.6h-0.6zM63.0 105.4h0.6v0.6h-0.6zM64.3 102.8h0.6v0.6h-0.6zM63.3 96.2h0.6v0.6h-0.6zM57.5 104.3h0.6v0.6h-0.6zM62.2 103.7h0.6v0.6h-0.6zM62.8 96.7h0.6v0.6h-0.6zM63.1 108.0h0.6v0.6h-0.6zM62.7 111.8h0.6v0.6h-0.6zM57.5 116.9h0.6v0.6h-0.6zM58.5 98.2h0.6v0.6h-0.6zM57.5 115.0h0.6v0.6h-0.6zM59.9 116.5h0.6v0.6h-0.6zM68.7 106.7h0.6v0.6h-0.6zM61.5 113.4h0.6v0.6h-0.6zM59.5 106.0h0.6v0.6h-0.6zM62.3 95.0h0.6v0.6h-0.6zM59.5 104.3h0.6v0.6h-0.6zM63.2 94.5h0.6v0.6h-0.6zM60.5 107.1h0.6v0.6h-0.6zM61.5 102.5h0.6v0.6h-0.6zM61.5 112.5h0.6v0.6h-0.6zM61.3 105.1h0.6v0.6h-0.6zM57.6 87.9h0.6v0.6h-0.6zM60.1 102.1h0.6v0.6h-0.6zM58.9 114.0h0.6v0.6h-0.6zM59.1 112.4h0.6v0.6h-0.6zM58.3 112.9h0.6v0.6h-0.6zM62.2 105.8h0.6v0.6h-0.6zM61.1 103.5h0.6v0.6h-0.6zM57.1 106.0h0.6v0.6h-0.6zM61.8 102.0h0.6v0.6h-0.6zM61.1 112.2h0.6v0.6h-0.6zM57.5 100.7h0.6v0.6h-0.6zM60.2 114.4h0.6v0.6h-0.6zM60.9 109.9h0.6v0.6h-0.6zM61.6 103.9h0.6v0.6h-0.6zM59.0 98.9h0.6v0.6h-0.6zM59.5 115.5h0.6v0.6h-0.6zM57.1 103.6h0.6v0.6h-0.6zM58.0 97.9h0.6v0.6h-0.6zM59.6 105.4h0.6v0.6h-0.6zM58.4 100.4h0.6v0.6h-0.6zM57.9 109.6h0.6v0.6h-0.6zM61.4 116.3h0.6v0.6h-0.6zM62.5 106.2h0.6v0.6h-0.6zM60.0 106.3h0.6v0.6h-0.6zM61.9 94.7h0.6v0.6h-0.6zM63.8 97.5h0.6v0.6h-0.6zM64.0 105.8h0.6v0.6h-0.6zM61.3 104.8h0.6v0.6h-0.6zM59.5 115.7h0.6v0.6h-0.6zM59.3 106.9h0.6v0.6h-0.6zM59.6 109.9h0.6v0.6h-0.6zM59.5 103.9h0.6v0.6h-0.6zM63.5 110.1h0.6v0.6h-0.6zM62.7 112.1h0.6v0.6h-0.6zM57.1 97.8h0.6v0.6h-0.6zM59.6 109.5h0.6v0.6h-0.6zM65.7 103.6h0.6v0.6h-0.6zM62.2 103.8h0.6v0.6h-0.6zM57.1 106.2h0.6v0.6h-0.6zM58.4 93.7h0.6v0.6h-0.6zM61.3 108.8h0.6v0.6h-0.6zM61.3 115.0h0.6v0.6h-0.6zM58.2 119.3h0.6v0.6h-0.6zM62.0 100.9h0.6v0.6h-0.6zM62.8 104.9h0.6v0.6h-0.6zM61.0 117.6h0.6v0.6h-0.6zM60.8 104.2h0.6v0.6h-0.6zM61.1 96.4h0.6v0.6h-0.6zM60.5 107.9h0.6v0.6h-0.6zM64.0 112.9h0.6v0.6h-0.6zM59.7 98.7h0.6v0.6h-0.6zM64.1 108.5h0.6v0.6h-0.6zM61.7 106.8h0.6v0.6h-0.6zM60.7 107.1h0.6v0.6h-0.6zM63.1 108.1h0.6v0.6h-0.6zM62.5 110.2h0.6v0.6h-0.6zM59.4 107.2h0.6v0.6h-0.6zM62.6 105.8h0.6v0.6h-0.6zM57.1 109.6h0.6v0.6h-0.6zM59.8 90.1h0.6v0.6h-0.6zM62.2 118.3h0.6v0.6h-0.6zM57.9 110.4h0.6v0.6h-0.6zM57.3 98.1h0.6v0.6h-0.6zM58.0 103.0h0.6v0.6h-0.6zM60.5 106.5h0.6v0.6h-0.6zM61.3 99.3h0.6v0.6h-0.6zM58.4 90.1h0.6v0.6h-0.6zM58.0 101.8h0.6v0.6h-0.6zM59.3 104.2h0.6v0.6h-0.6zM60.9 107.6h0.6v0.6h-0.6zM62.2 93.3h0.6v0.6h-0.6zM63.1 108.9h0.6v0.6h-0.6zM64.5 116.2h0.6v0.6h-0.6zM60.0 115.3h0.6v0.6h-0.6zM60.1 116.6h0.6v0.6h-0.6zM60.3 103.6h0.6v0.6h-0.6zM62.8 119.3h0.6v0.6h-0.6zM60.2 107.5h0.6v0.6h-0.6zM62.4 100.0h0.6v0.6h-0.6zM60.4 80.4h0.6v0.6h-0.6zM58.5 103.8h0.6v0.6h-0.6zM59.3 112.4h0.6v0.6h-0.6zM56.8 117.0h0.6v0.6h-0.6zM58.6 111.3h0.6v0.6h-0.6zM60.1 102.0h0.6v0.6h-0.6zM58.7 111.4h0.6v0.6h-0.6zM58.7 101.0h0.6v0.6h-0.6zM56.8 96.6h0.6v0.6h-0.6zM62.1 107.3h0.6v0.6h-0.6zM59.8 111.7h0.6v0.6h-0.6zM58.8 99.9h0.6v0.6h-0.6zM61.1 108.8h0.6v0.6h-0.6zM60.0 105.1h0.6v0.6h-0.6zM58.8 106.4h0.6v0.6h-0.6zM59.1 101.2h0.6v0.6h-0.6zM58.1 106.9h0.6v0.6h-0.6zM59.5 119.2h0.6v0.6h-0.6zM63.9 104.6h0.6v0.6h-0.6zM63.3 116.9h0.6v0.6h-0.6zM59.2 102.1h0.6v0.6h-0.6zM63.7 100.5h0.6v0.6h-0.6zM57.7 112.7h0.6v0.6h-0.6zM60.3 96.7h0.6v0.6h-0.6zM58.5 110.1h0.6v0.6h-0.6zM59.3 116.5h0.6v0.6h-0.6zM57.0 108.6h0.6v0.6h-0.6zM62.0 105.9h0.6v0.6h-0.6zM59.6 104.3h0.6v0.6h-0.6zM58.8 114.2h0.6v0.6h-0.6zM60.7 113.7h0.6v0.6h-0.6zM57.7 101.2h0.6v0.6h-0.6zM62.3 107.3h0.6v0.6h-0.6zM62.3 102.0h0.6v0.6h-0.6zM59.4 108.1h0.6v0.6h-0.6zM65.0 105.4h0.6v0.6h-0.6zM61.6 113.6h0.6v0.6h-0.6zM57.9 108.8h0.6v0.6h-0.6zM57.9 112.4h0.6v0.6h-0.6zM57.6 101.7h0.6v0.6h-0.6zM56.8 109.8h0.6v0.6h-0.6zM58.5 109.8h0.6v0.6h-0.6zM58.8 110.5h0.6v0.6h-0.6zM59.2 117.5h0.6v0.6h-0.6zM58.5 104.9h0.6v0.6h-0.6zM59.7 101.6h0.6v0.6h-0.6zM60.2 100.5h0.6v0.6h-0.6zM59.8 100.2h0.6v0.6h-0.6zM62.2 111.6h0.6v0.6h-0.6zM61.3 114.5h0.6v0.6h-0.6zM57.4 101.3h0.6v0.6h-0.6zM61.8 101.5h0.6v0.6h-0.6zM62.2 119.1h0.6v0.6h-0.6zM58.7 106.2h0.6v0.6h-0.6zM57.1 99.0h0.6v0.6h-0.6zM61.6 97.3h0.6v0.6h-0.6zM61.5 94.7h0.6v0.6h-0.6zM59.7 114.6h0.6v0.6h-0.6zM61.7 114.3h0.6v0.6h-0.6zM59.9 105.8h0.6v0.6h-0.6zM64.5 118.1h0.6v0.6h-0.6zM60.3 96.9h0.6v0.6h-0.6zM59.0 94.6h0.6v0.6h-0.6zM60.5 114.9h0.6v0.6h-0.6zM61.9 100.9h0.6v0.6h-0.6zM61.6 111.0h0.6v0.6h-0.6zM60.7 112.9h0.6v0.6h-0.6zM61.3 107.8h0.6v0.6h-0.6zM66.2 110.6h0.6v0.6h-0.6zM57.6 98.3h0.6v0.6h-0.6zM56.8 98.6h0.6v0.6h-0.6zM62.2 110.9h0.6v0.6h-0.6zM59.5 95.4h0.6v0.6h-0.6zM57.9 95.7h0.6v0.6h-0.6zM59.0 106.7h0.6v0.6h-0.6zM63.3 103.5h0.6v0.6h-0.6zM57.8 108.4h0.6v0.6h-0.6zM63.1 104.1h0.6v0.6h-0.6zM59.0 112.8h0.6v0.6h-0.6zM58.3 97.3h0.6v0.6h-0.6zM60.0 86.9h0.6v0.6h-0.6zM61.5 110.3h0.6v0.6h-0.6zM59.7 114.7h0.6v0.6h-0.6zM61.5 100.0h0.6v0.6h-0.6zM58.7 97.1h0.6v0.6h-0.6zM56.7 113.1h0.6v0.6h-0.6zM58.6 105.5h0.6v0.6h-0.6zM64.0 95.9h0.6v0.6h-0.6zM57.8 96.2h0.6v0.6h-0.6zM62.3 104.1h0.6v0.6h-0.6zM57.7 107.8h0.6v0.6h-0.6zM61.5 99.0h0.6v0.6h-0.6zM59.2 104.5h0.6v0.6h-0.6zM60.4 105.3h0.6v0.6h-0.6zM62.9 103.3h0.6v0.6h-0.6zM57.5 119.7h0.6v0.6h-0.6zM61.7 102.6h0.6v0.6h-0.6zM58.6 108.1h0.6v0.6h-0.6zM58.1 99.0h0.6v0.6h-0.6zM62.0 110.2h0.6v0.6h-0.6zM60.5 98.8h0.6v0.6h-0.6zM62.9 97.4h0.6v0.6h-0.6zM58.4 102.9h0.6v0.6h-0.6zM61.2 98.3h0.6v0.6h-0.6zM57.8 113.5h0.6v0.6h-0.6zM57.9 102.6h0.6v0.6h-0.6zM64.7 112.5h0.6v0.6h-0.6zM62.4 100.5h0.6v0.6h-0.6zM64.2 103.8h0.6v0.6h-0.6zM58.5 107.6h0.6v0.6h-0.6zM60.4 117.0h0.6v0.6h-0.6zM62.3 108.7h0.6v0.6h-0.6zM60.9 103.0h0.6v0.6h-0.6zM60.9 109.0h0.6v0.6h-0.6zM59.9 93.4h0.6v0.6h-0.6zM62.0 111.9h0.6v0.6h-0.6zM65.4 109.0h0.6v0.6h-0.6zM63.4 100.5h0.6v0.6h-0.6zM82.3 110.0h0.6v0.6h-0.6zM82.4 109.9h0.6v0.6h-0.6zM76.5 109.0h0.6v0.6h-0.6zM74.8 94.7h0.6v0.6h-0.6zM68.4 95.2h0.6v0.6h-0.6zM60.3 95.0h0.6v0.6h-0.6zM71.5 82.0h0.6v0.6h-0.6zM68.3 113.8h0.6v0.6h-0.6zM69.8 113.3h0.6v0.6h-0.6zM59.6 108.6h0.6v0.6h-0.6zM79.1 117.0h0.6v0.6h-0.6zM63.0 101.2h0.6v0.6h-0.6zM87.9 100.5h0.6v0.6h-0.6zM63.6 107.0h0.6v0.6h-0.6zM78.5 106.9h0.6v0.6h-0.6zM77.5 109.1h0.6v0.6h-0.6zM59.0 111.6h0.6v0.6h-0.6zM80.7 85.8h0.6v0.6h-0.6zM78.0 106.3h0.6v0.6h-0.6zM57.2 119.0h0.6v0.6h-0.6zM78.7 90.7h0.6v0.6h-0.6zM60.1 119.0h0.6v0.6h-0.6zM76.5 112.5h0.6v0.6h-0.6zM66.9 108.3h0.6v0.6h-0.6zM89.5 116.0h0.6v0.6h-0.6zM87.3 91.5h0.6v0.6h-0.6zM64.8 97.8h0.6v0.6h-0.6zM88.9 95.1h0.6v0.6h-0.6zM79.8 114.2h0.6v0.6h-0.6zM96.3 114.6h0.6v0.6h-0.6zM74.0 112.0h0.6v0.6h-0.6zM71.4 106.6h0.6v0.6h-0.6zM84.5 84.2h0.6v0.6h-0.6zM66.4 104.0h0.6v0.6h-0.6zM86.9 116.8h0.6v0.6h-0.6zM69.5 114.8h0.6v0.6h-0.6zM73.6 96.4h0.6v0.6h-0.6zM68.0 107.3h0.6v0.6h-0.6zM71.6 113.9h0.6v0.6h-0.6zM76.1 114.3h0.6v0.6h-0.6zM77.0 79.5h0.6v0.6h-0.6zM70.6 95.7h0.6v0.6h-0.6zM83.8 117.4h0.6v0.6h-0.6zM57.0 103.0h0.6v0.6h-0.6zM87.1 107.3h0.6v0.6h-0.6zM75.6 93.5h0.6v0.6h-0.6zM71.5 105.0h0.6v0.6h-0.6zM59.8 88.0h0.6v0.6h-0.6zM78.5 96.6h0.6v0.6h-0.6zM76.7 100.4h0.6v0.6h-0.6zM71.3 112.6h0.6v0.6h-0.6zM58.7 96.5h0.6v0.6h-0.6zM60.8 104.9h0.6v0.6h-0.6zM68.3 97.3h0.6v0.6h-0.6zM75.9 109.0h0.6v0.6h-0.6zM82.7 90.5h0.6v0.6h-0.6zM90.5 80.0h0.6v0.6h-0.6zM72.4 113.8h0.6v0.6h-0.6zM84.9 114.9h0.6v0.6h-0.6zM99.8 104.3h0.6v0.6h-0.6zM65.2 103.8h0.6v0.6h-0.6zM85.3 109.1h0.6v0.6h-0.6zM73.0 91.6h0.6v0.6h-0.6zM65.7 103.8h0.6v0.6h-0.6zM58.4 111.2h0.6v0.6h-0.6zM76.6 103.9h0.6v0.6h-0.6zM71.9 102.0h0.6v0.6h-0.6zM80.1 103.4h0.6v0.6h-0.6zM75.7 93.7h0.6v0.6h-0.6zM74.0 91.4h0.6v0.6h-0.6zM81.2 102.8h0.6v0.6h-0.6zM64.2 109.7h0.6v0.6h-0.6zM71.8 117.1h0.6v0.6h-0.6zM76.5 114.1h0.6v0.6h-0.6zM87.5 108.2h0.6v0.6h-0.6zM66.8 104.1h0.6v0.6h-0.6zM58.1 95.5h0.6v0.6h-0.6zM63.2 115.8h0.6v0.6h-0.6zM83.8 106.1h0.6v0.6h-0.6zM67.3 111.9h0.6v0.6h-0.6zM93.3 89.7h0.6v0.6h-0.6zM75.0 100.6h0.6v0.6h-0.6zM77.1 103.3h0.6v0.6h-0.6zM87.9 91.5h0.6v0.6h-0.6zM64.1 117.7h0.6v0.6h-0.6zM71.7 108.6h0.6v0.6h-0.6zM85.3 112.9h0.6v0.6h-0.6zM82.2 115.6h0.6v0.6h-0.6zM69.3 111.0h0.6v0.6h-0.6zM79.9 99.0h0.6v0.6h-0.6zM63.1 113.1h0.6v0.6h-0.6zM64.5 118.1h0.6v0.6h-0.6zM86.3 103.4h0.6v0.6h-0.6zM61.2 99.3h0.6v0.6h-0.6zM77.3 83.2h0.6v0.6h-0.6zM59.7 102.3h0.6v0.6h-0.6zM71.1 98.8h0.6v0.6h-0.6zM85.4 95.6h0.6v0.6h-0.6zM74.8 95.2h0.6v0.6h-0.6zM87.1 104.0h0.6v0.6h-0.6zM70.0 103.4h0.6v0.6h-0.6zM64.6 79.1h0.6v0.6h-0.6zM80.3 106.5h0.6v0.6h-0.6zM77.6 96.7h0.6v0.6h-0.6zM82.4 100.9h0.6v0.6h-0.6zM87.4 109.4h0.6v0.6h-0.6zM85.7 114.3h0.6v0.6h-0.6zM62.8 110.8h0.6v0.6h-0.6zM78.6 112.4h0.6v0.6h-0.6zM85.8 113.8h0.6v0.6h-0.6zM85.8 99.6h0.6v0.6h-0.6zM66.3 109.0h0.6v0.6h-0.6zM58.6 99.6h0.6v0.6h-0.6zM68.4 84.1h0.6v0.6h-0.6zM57.9 116.3h0.6v0.6h-0.6zM77.6 113.2h0.6v0.6h-0.6zM76.2 113.8h0.6v0.6h-0.6zM65.8 105.3h0.6v0.6h-0.6zM76.6 98.9h0.6v0.6h-0.6zM58.0 115.8h0.6v0.6h-0.6zM73.0 92.6h0.6v0.6h-0.6zM79.7 105.1h0.6v0.6h-0.6zM73.9 113.4h0.6v0.6h-0.6zM65.1 112.5h0.6v0.6h-0.6zM60.1 106.7h0.6v0.6h-0.6zM66.6 82.7h0.6v0.6h-0.6zM72.3 111.5h0.6v0.6h-0.6zM81.4 114.3h0.6v0.6h-0.6zM72.0 93.3h0.6v0.6h-0.6zM88.6 104.4h0.6v0.6h-0.6zM68.6 111.6h0.6v0.6h-0.6zM85.5 107.8h0.6v0.6h-0.6zM84.1 116.3h0.6v0.6h-0.6zM60.8 100.8h0.6v0.6h-0.6zM67.9 99.8h0.6v0.6h-0.6zM77.1 104.1h0.6v0.6h-0.6zM65.1 109.7h0.6v0.6h-0.6zM90.8 109.5h0.6v0.6h-0.6zM67.4 96.9h0.6v0.6h-0.6zM63.6 101.9h0.6v0.6h-0.6zM59.7 110.1h0.6v0.6h-0.6zM80.9 99.0h0.6v0.6h-0.6zM59.7 117.2h0.6v0.6h-0.6zM101.5 102.3h0.6v0.6h-0.6zM77.9 103.7h0.6v0.6h-0.6zM63.1 115.7h0.6v0.6h-0.6zM66.2 118.3h0.6v0.6h-0.6zM60.8 106.8h0.6v0.6h-0.6zM67.2 97.9h0.6v0.6h-0.6zM72.2 94.1h0.6v0.6h-0.6zM71.8 112.8h0.6v0.6h-0.6zM81.2 95.4h0.6v0.6h-0.6zM64.4 99.9h0.6v0.6h-0.6zM77.8 103.0h0.6v0.6h-0.6zM69.7 102.5h0.6v0.6h-0.6zM108.7 105.2h0.6v0.6h-0.6zM59.5 103.8h0.6v0.6h-0.6zM64.4 97.8h0.6v0.6h-0.6zM80.8 111.6h0.6v0.6h-0.6zM74.8 119.5h0.6v0.6h-0.6zM86.6 103.1h0.6v0.6h-0.6zM88.3 112.9h0.6v0.6h-0.6zM70.6 113.2h0.6v0.6h-0.6zM72.6 93.7h0.6v0.6h-0.6zM69.3 87.5h0.6v0.6h-0.6zM79.5 94.5h0.6v0.6h-0.6zM73.6 109.9h0.6v0.6h-0.6zM64.3 110.6h0.6v0.6h-0.6zM60.8 118.6h0.6v0.6h-0.6zM80.1 99.7h0.6v0.6h-0.6zM76.7 104.0h0.6v0.6h-0.6zM80.3 110.9h0.6v0.6h-0.6zM58.8 117.9h0.6v0.6h-0.6zM80.1 77.9h0.6v0.6h-0.6zM74.8 100.7h0.6v0.6h-0.6zM65.8 103.9h0.6v0.6h-0.6zM70.1 115.0h0.6v0.6h-0.6zM72.0 97.9h0.6v0.6h-0.6zM78.7 104.1h0.6v0.6h-0.6zM86.9 110.9h0.6v0.6h-0.6zM64.2 113.1h0.6v0.6h-0.6zM62.3 107.7h0.6v0.6h-0.6zM67.9 95.1h0.6v0.6h-0.6zM61.2 110.2h0.6v0.6h-0.6zM63.9 97.3h0.6v0.6h-0.6zM78.8 116.1h0.6v0.6h-0.6zM60.3 119.9h0.6v0.6h-0.6zM65.0 70.9h0.6v0.6h-0.6zM74.4 118.9h0.6v0.6h-0.6zM57.7 118.4h0.6v0.6h-0.6zM78.6 116.2h0.6v0.6h-0.6zM60.1 99.1h0.6v0.6h-0.6zM82.1 101.5h0.6v0.6h-0.6zM65.7 109.3h0.6v0.6h-0.6zM71.9 106.8h0.6v0.6h-0.6zM67.8 107.2h0.6v0.6h-0.6z" fill="#000"/>
<path d="M76.3 89.2L77.0 89.4L77.7 89.8L78.3 90.4L78.9 91.2L79.5 92.1L80.1 93.1L80.7 94.0L81.3 94.8L81.9 95.6L82.6 96.4L83.3 97.2L83.9 98.1L84.6 99.0L85.1 99.8L85.6 100.7L86.0 101.5L86.3 102.3L86.6 103.2L86.8 104.0L86.9 104.8L87.0 105.7L86.9 106.5L86.8 107.2L86.6 108.0L86.3 108.7L85.8 109.5L85.2 110.2L84.6 110.9L83.9 111.6L83.1 112.2L82.3 112.8L81.5 113.3L80.7 113.7L79.7 114.1L78.8 114.4L77.8 114.7L76.8 114.9L75.7 115.1L74.7 115.2L73.7 115.3L72.7 115.3L71.6 115.3L70.6 115.3L69.5 115.2L68.5 115.0L67.5 114.8L66.6 114.5L65.8 114.2L65.1 113.8L64.4 113.3L63.8 112.8L63.2 112.2L62.7 111.6L62.3 110.9L62.0 110.2L61.8 109.5L61.7 108.7L61.7 107.9L61.8 107.1L61.9 106.2L62.2 105.3L62.5 104.4L62.8 103.4L63.3 102.5L63.8 101.6L64.5 100.6L65.3 99.6L66.1 98.6L66.9 97.6L67.8 96.6L68.7 95.7L69.5 94.8L70.3 93.9L71.2 93.0L72.1 92.1L73.0 91.2L73.9 90.4L74.7 89.8L75.5 89.3Z" fill="#fff" stroke="#000" stroke-width="1.6"/>
<path d="M76.3 90.4L76.9 90.6L77.6 91.0L78.1 91.6L78.7 92.3L79.3 93.1L79.8 94.0L80.4 94.9L80.9 95.6L81.5 96.4L82.1 97.1L82.7 97.9L83.4 98.7L83.9 99.5L84.5 100.3L84.9 101.1L85.3 101.9L85.6 102.6L85.8 103.4L86.0 104.2L86.1 105.0L86.2 105.7L86.2 106.5L86.1 107.2L85.8 107.9L85.5 108.6L85.1 109.3L84.6 110.0L84.0 110.6L83.3 111.3L82.6 111.8L81.9 112.4L81.1 112.8L80.3 113.2L79.5 113.6L78.6 113.9L77.6 114.1L76.7 114.3L75.7 114.5L74.8 114.6L73.8 114.7L72.9 114.7L71.9 114.7L70.9 114.7L70.0 114.6L69.0 114.4L68.1 114.2L67.2 114.0L66.5 113.7L65.8 113.3L65.2 112.9L64.6 112.4L64.1 111.8L63.6 111.2L63.3 110.6L63.0 110.0L62.8 109.3L62.7 108.6L62.7 107.8L62.7 107.0L62.9 106.2L63.1 105.4L63.4 104.5L63.8 103.6L64.2 102.8L64.7 101.9L65.3 101.0L66.0 100.1L66.7 99.1L67.5 98.2L68.4 97.3L69.2 96.4L69.9 95.6L70.7 94.8L71.5 93.9L72.3 93.1L73.2 92.2L74.0 91.5L74.8 90.9L75.6 90.6Z" fill="#fff" stroke="#222" stroke-width="0.6"/>
<path d="M76.2 91.8L76.8 91.9L77.4 92.3L77.9 92.9L78.5 93.5L79.0 94.3L79.5 95.1L80.0 95.9L80.5 96.6L81.0 97.2L81.6 97.9L82.1 98.6L82.7 99.4L83.2 100.1L83.7 100.8L84.1 101.6L84.5 102.3L84.7 103.0L85.0 103.7L85.1 104.4L85.2 105.1L85.3 105.8L85.3 106.5L85.2 107.1L85.0 107.8L84.7 108.4L84.3 109.1L83.8 109.7L83.3 110.3L82.7 110.9L82.0 111.4L81.3 111.9L80.6 112.3L79.9 112.7L79.2 113.0L78.3 113.3L77.5 113.5L76.6 113.7L75.7 113.8L74.9 113.9L74.0 114.0L73.2 114.0L72.3 114.0L71.4 114.0L70.5 113.9L69.6 113.8L68.7 113.6L68.0 113.3L67.3 113.1L66.7 112.7L66.1 112.3L65.6 111.9L65.1 111.4L64.7 110.8L64.3 110.3L64.1 109.7L63.9 109.1L63.8 108.4L63.8 107.7L63.9 107.0L64.0 106.2L64.2 105.5L64.5 104.7L64.8 103.9L65.2 103.1L65.6 102.3L66.2 101.5L66.8 100.6L67.5 99.8L68.3 98.9L69.0 98.1L69.7 97.3L70.4 96.6L71.2 95.8L71.9 95.0L72.6 94.2L73.4 93.5L74.1 92.8L74.9 92.3L75.6 91.9Z" fill="#dcdcdc" stroke="#555" stroke-width="0.55"/>
<path d="M76.1 94.5L76.6 94.6L77.1 94.9L77.6 95.3L78.0 95.8L78.4 96.3L78.9 96.9L79.3 97.5L79.8 98.0L80.3 98.5L80.8 99.1L81.3 99.7L81.8 100.3L82.3 100.9L82.7 101.5L83.1 102.2L83.4 102.8L83.7 103.4L83.9 104.0L84.0 104.7L84.1 105.3L84.2 105.9L84.2 106.5L84.1 107.1L83.9 107.7L83.7 108.2L83.4 108.8L83.0 109.4L82.6 109.9L82.1 110.5L81.5 111.0L80.9 111.5L80.3 111.9L79.7 112.3L79.0 112.6L78.2 112.9L77.4 113.1L76.6 113.3L75.7 113.4L74.9 113.4L74.1 113.5L73.4 113.4L72.6 113.4L71.8 113.2L71.0 113.1L70.3 112.9L69.6 112.7L69.0 112.4L68.5 112.2L68.0 111.8L67.5 111.5L67.1 111.1L66.7 110.6L66.4 110.2L66.1 109.7L65.9 109.2L65.8 108.7L65.7 108.1L65.7 107.6L65.7 106.9L65.8 106.3L66.0 105.6L66.2 105.0L66.4 104.3L66.7 103.6L67.1 102.9L67.6 102.2L68.1 101.5L68.7 100.7L69.3 100.0L70.0 99.3L70.6 98.7L71.2 98.1L71.9 97.5L72.5 96.9L73.2 96.3L73.8 95.7L74.4 95.3L75.0 94.9L75.6 94.6Z" fill="#bdbdbd" stroke="#444" stroke-width="0.55"/>
<path d="M76.1 97.2L76.5 97.2L76.8 97.4L77.2 97.7L77.6 98.0L77.9 98.3L78.3 98.7L78.7 99.1L79.1 99.5L79.5 99.9L80.0 100.3L80.4 100.8L80.9 101.3L81.3 101.8L81.7 102.3L82.0 102.9L82.2 103.4L82.5 103.9L82.6 104.4L82.8 105.0L82.9 105.5L82.9 106.0L82.9 106.5L82.9 107.0L82.8 107.5L82.6 108.0L82.4 108.5L82.1 109.0L81.7 109.5L81.3 110.0L80.9 110.5L80.4 111.0L79.8 111.3L79.3 111.7L78.6 112.0L78.0 112.3L77.2 112.5L76.5 112.6L75.7 112.7L75.0 112.7L74.3 112.7L73.7 112.6L73.0 112.5L72.3 112.4L71.7 112.2L71.1 112.0L70.6 111.7L70.1 111.5L69.7 111.2L69.4 110.9L69.0 110.6L68.7 110.3L68.4 109.9L68.2 109.5L68.0 109.1L67.8 108.7L67.7 108.3L67.6 107.8L67.6 107.4L67.6 106.9L67.7 106.4L67.8 105.8L67.9 105.3L68.1 104.7L68.3 104.2L68.6 103.6L69.0 103.0L69.4 102.3L69.9 101.7L70.4 101.1L71.0 100.6L71.5 100.1L72.1 99.6L72.6 99.2L73.1 98.7L73.7 98.3L74.2 97.9L74.7 97.6L75.2 97.4L75.7 97.2Z" fill="#9d9d9d" stroke="#333" stroke-width="0.6"/>
<path d="M76.0 99.6L76.3 99.6L76.6 99.7L76.8 99.9L77.1 100.1L77.4 100.3L77.7 100.5L78.1 100.8L78.4 101.0L78.8 101.3L79.1 101.6L79.5 102.0L79.9 102.3L80.2 102.7L80.5 103.2L80.8 103.6L81.0 104.0L81.2 104.4L81.3 104.8L81.5 105.3L81.5 105.7L81.6 106.1L81.6 106.5L81.6 106.9L81.5 107.3L81.4 107.7L81.2 108.2L81.0 108.6L80.7 109.0L80.4 109.5L80.1 109.9L79.7 110.3L79.2 110.7L78.8 111.0L78.2 111.3L77.7 111.5L77.0 111.7L76.4 111.8L75.8 111.9L75.1 111.9L74.5 111.8L74.0 111.7L73.4 111.6L72.9 111.4L72.4 111.2L72.0 111.0L71.6 110.7L71.3 110.5L71.0 110.3L70.7 110.0L70.5 109.7L70.2 109.5L70.0 109.2L69.9 108.9L69.7 108.5L69.6 108.2L69.5 107.9L69.5 107.6L69.4 107.2L69.4 106.8L69.5 106.4L69.5 106.0L69.6 105.6L69.8 105.1L69.9 104.7L70.1 104.2L70.4 103.7L70.7 103.2L71.1 102.7L71.5 102.3L72.0 101.8L72.4 101.4L72.9 101.1L73.3 100.8L73.7 100.5L74.2 100.3L74.6 100.0L75.0 99.8L75.4 99.7L75.7 99.6Z" fill="#7c7c7c" stroke="#222" stroke-width="0.6"/>
<path d="M75.9 101.8L76.1 101.8L76.3 101.9L76.5 102.0L76.7 102.0L76.9 102.1L77.2 102.3L77.4 102.4L77.7 102.6L78.0 102.7L78.2 102.9L78.5 103.2L78.8 103.4L79.1 103.7L79.3 104.0L79.5 104.4L79.7 104.7L79.8 105.0L79.9 105.3L80.0 105.6L80.1 105.9L80.1 106.2L80.1 106.5L80.1 106.9L80.1 107.2L80.0 107.5L79.9 107.8L79.8 108.1L79.6 108.5L79.4 108.8L79.1 109.2L78.8 109.5L78.5 109.8L78.1 110.0L77.7 110.3L77.3 110.5L76.8 110.6L76.3 110.7L75.8 110.7L75.3 110.7L74.8 110.6L74.4 110.5L74.0 110.4L73.6 110.2L73.3 110.1L73.0 109.9L72.7 109.7L72.5 109.5L72.3 109.3L72.1 109.1L71.9 108.9L71.8 108.7L71.7 108.4L71.6 108.2L71.5 108.0L71.4 107.8L71.3 107.5L71.3 107.3L71.3 107.0L71.3 106.8L71.3 106.5L71.3 106.2L71.4 105.9L71.4 105.5L71.6 105.2L71.7 104.9L71.9 104.5L72.1 104.1L72.4 103.8L72.7 103.4L73.0 103.1L73.4 102.9L73.7 102.6L74.0 102.5L74.3 102.3L74.7 102.1L75.0 102.0L75.2 101.9L75.5 101.9L75.7 101.8Z" fill="#555" stroke="#111" stroke-width="0.7"/>
<path d="M75.9 103.8L76.0 103.8L76.1 103.8L76.2 103.8L76.4 103.9L76.5 103.9L76.6 103.9L76.8 104.0L77.0 104.1L77.2 104.2L77.4 104.3L77.5 104.4L77.7 104.6L77.9 104.8L78.1 105.0L78.2 105.2L78.3 105.3L78.4 105.5L78.5 105.7L78.5 106.0L78.6 106.2L78.6 106.4L78.6 106.6L78.6 106.8L78.6 107.0L78.5 107.2L78.5 107.4L78.4 107.6L78.3 107.8L78.2 108.1L78.0 108.3L77.8 108.5L77.6 108.7L77.4 108.9L77.1 109.1L76.8 109.2L76.5 109.3L76.1 109.4L75.8 109.4L75.4 109.4L75.1 109.3L74.9 109.2L74.6 109.1L74.4 109.0L74.1 108.9L74.0 108.7L73.8 108.6L73.7 108.4L73.6 108.3L73.5 108.2L73.4 108.0L73.3 107.9L73.2 107.7L73.2 107.6L73.1 107.5L73.1 107.3L73.1 107.2L73.0 107.0L73.0 106.9L73.0 106.7L73.0 106.5L73.0 106.3L73.0 106.1L73.1 105.9L73.1 105.7L73.2 105.5L73.3 105.3L73.5 105.0L73.6 104.8L73.8 104.6L74.1 104.4L74.3 104.3L74.5 104.1L74.7 104.0L74.9 103.9L75.1 103.9L75.3 103.8L75.5 103.8L75.6 103.8L75.8 103.8Z" fill="#2a2a2a" stroke="#000" stroke-width="0.8"/>
<circle cx="75.8" cy="106.6" r="0.8" fill="#fff"/>
<rect x="55.7" y="51.5" width="70.2" height="70.1" fill="none" stroke="#000" stroke-width="1.1"/>
<rect x="57.9" y="57.5" width="62.9" height="32.6" fill="none" stroke="#000" stroke-width="1"/>
<rect x="90.2" y="57.5" width="30.5" height="27.6" fill="none" stroke="#d2334f" stroke-width="1"/>
<text x="123.7" y="103.01" font-size="6.7" stroke="#d2334f" stroke-width="0.11" text-anchor="end" fill="#d2334f" textLength="25.7" lengthAdjust="spacingAndGlyphs">3.17e-4%</text>
<text x="122.7" y="111.11" font-size="6.7" stroke="#222" stroke-width="0.11" text-anchor="end" fill="#222" textLength="17" lengthAdjust="spacingAndGlyphs">5.59%</text>
<text x="124.5" y="119.71" font-size="6.7" stroke="#111" stroke-width="0.11" text-anchor="end" fill="#111" textLength="43" lengthAdjust="spacingAndGlyphs">recipient 25923</text>
<line x1="54.2" y1="60" x2="55.7" y2="60" stroke="#000" stroke-width="0.8"/>
<line x1="54.2" y1="66" x2="55.7" y2="66" stroke="#000" stroke-width="0.8"/>
<line x1="54.2" y1="86.6" x2="55.7" y2="86.6" stroke="#000" stroke-width="0.8"/>
<line x1="54.2" y1="105.4" x2="55.7" y2="105.4" stroke="#000" stroke-width="0.8"/>
<line x1="54.2" y1="112" x2="55.7" y2="112" stroke="#000" stroke-width="0.8"/>
<line x1="54.7" y1="54.5" x2="54.7" y2="119.6" stroke="#000" stroke-width="1.1" stroke-dasharray="0.8 0.7 0.6 1.1 0.9 0.5"/>
<line x1="58.7" y1="122.7" x2="122.9" y2="122.7" stroke="#000" stroke-width="1.1" stroke-dasharray="0.8 0.7 0.6 1.1 0.9 0.5"/>
<line x1="64.3" y1="121.6" x2="64.3" y2="123.4" stroke="#000" stroke-width="0.8"/>
<line x1="89.7" y1="121.6" x2="89.7" y2="123.4" stroke="#000" stroke-width="0.8"/>
<line x1="109.7" y1="121.6" x2="109.7" y2="123.4" stroke="#000" stroke-width="0.8"/>
<path d="M183.4 69.4h0.6v0.6h-0.6zM185.1 70.4h0.6v0.6h-0.6zM184.1 70.5h0.6v0.6h-0.6zM181.7 73.7h0.6v0.6h-0.6zM186.5 65.3h0.6v0.6h-0.6zM180.8 66.7h0.6v0.6h-0.6zM179.7 72.0h0.6v0.6h-0.6zM182.1 66.4h0.6v0.6h-0.6zM178.4 68.1h0.6v0.6h-0.6zM183.0 71.5h0.6v0.6h-0.6zM180.1 71.4h0.6v0.6h-0.6zM179.8 71.0h0.6v0.6h-0.6zM177.0 63.9h0.6v0.6h-0.6zM187.0 72.7h0.6v0.6h-0.6zM179.3 68.4h0.6v0.6h-0.6zM180.4 70.8h0.6v0.6h-0.6zM178.8 65.6h0.6v0.6h-0.6zM181.3 68.8h0.6v0.6h-0.6zM184.9 67.6h0.6v0.6h-0.6zM181.9 66.1h0.6v0.6h-0.6zM184.6 70.7h0.6v0.6h-0.6zM185.1 70.6h0.6v0.6h-0.6zM181.7 70.9h0.6v0.6h-0.6zM180.6 70.2h0.6v0.6h-0.6zM178.2 73.0h0.6v0.6h-0.6zM184.1 63.7h0.6v0.6h-0.6zM181.7 67.8h0.6v0.6h-0.6zM174.3 69.0h0.6v0.6h-0.6zM177.5 68.2h0.6v0.6h-0.6zM182.9 69.6h0.6v0.6h-0.6zM183.6 65.2h0.6v0.6h-0.6zM178.1 65.6h0.6v0.6h-0.6zM182.2 65.3h0.6v0.6h-0.6zM179.4 69.4h0.6v0.6h-0.6zM183.8 69.8h0.6v0.6h-0.6zM187.9 71.6h0.6v0.6h-0.6zM180.8 77.7h0.6v0.6h-0.6zM189.4 72.4h0.6v0.6h-0.6zM182.2 71.0h0.6v0.6h-0.6zM177.8 72.8h0.6v0.6h-0.6zM183.6 73.4h0.6v0.6h-0.6zM178.2 69.9h0.6v0.6h-0.6zM171.0 67.4h0.6v0.6h-0.6zM180.0 68.5h0.6v0.6h-0.6zM184.0 67.4h0.6v0.6h-0.6zM179.9 69.4h0.6v0.6h-0.6zM184.0 69.2h0.6v0.6h-0.6zM182.4 70.7h0.6v0.6h-0.6zM180.4 68.1h0.6v0.6h-0.6zM184.6 70.7h0.6v0.6h-0.6zM174.6 65.9h0.6v0.6h-0.6zM178.9 69.7h0.6v0.6h-0.6zM185.3 70.3h0.6v0.6h-0.6zM179.6 73.5h0.6v0.6h-0.6zM180.4 69.8h0.6v0.6h-0.6zM180.0 70.5h0.6v0.6h-0.6zM180.2 67.2h0.6v0.6h-0.6zM185.4 71.0h0.6v0.6h-0.6zM179.5 67.9h0.6v0.6h-0.6zM181.8 69.5h0.6v0.6h-0.6zM179.8 73.9h0.6v0.6h-0.6zM179.1 75.2h0.6v0.6h-0.6zM178.0 64.6h0.6v0.6h-0.6zM184.1 69.3h0.6v0.6h-0.6zM182.1 67.6h0.6v0.6h-0.6zM180.8 69.9h0.6v0.6h-0.6zM185.5 72.4h0.6v0.6h-0.6zM183.1 67.6h0.6v0.6h-0.6zM180.5 65.9h0.6v0.6h-0.6zM175.5 66.4h0.6v0.6h-0.6zM177.4 73.0h0.6v0.6h-0.6zM185.7 70.1h0.6v0.6h-0.6zM180.1 69.4h0.6v0.6h-0.6zM175.0 67.4h0.6v0.6h-0.6zM181.0 68.1h0.6v0.6h-0.6zM180.0 65.7h0.6v0.6h-0.6zM178.6 69.1h0.6v0.6h-0.6zM186.3 70.1h0.6v0.6h-0.6zM180.5 69.9h0.6v0.6h-0.6zM187.7 65.0h0.6v0.6h-0.6zM185.4 74.9h0.6v0.6h-0.6zM185.3 64.9h0.6v0.6h-0.6zM179.5 68.2h0.6v0.6h-0.6zM178.0 67.7h0.6v0.6h-0.6zM182.9 71.6h0.6v0.6h-0.6zM183.4 64.4h0.6v0.6h-0.6zM176.1 67.3h0.6v0.6h-0.6zM176.5 65.2h0.6v0.6h-0.6zM177.4 70.4h0.6v0.6h-0.6zM186.2 73.3h0.6v0.6h-0.6zM182.5 63.8h0.6v0.6h-0.6zM179.5 72.0h0.6v0.6h-0.6zM182.4 67.9h0.6v0.6h-0.6zM176.6 69.4h0.6v0.6h-0.6zM176.0 69.4h0.6v0.6h-0.6zM180.8 68.2h0.6v0.6h-0.6zM183.1 70.2h0.6v0.6h-0.6zM173.2 66.6h0.6v0.6h-0.6zM179.8 66.4h0.6v0.6h-0.6zM181.6 70.6h0.6v0.6h-0.6zM186.5 69.7h0.6v0.6h-0.6zM176.2 74.3h0.6v0.6h-0.6zM179.3 68.1h0.6v0.6h-0.6zM181.4 65.2h0.6v0.6h-0.6zM184.7 67.5h0.6v0.6h-0.6zM181.4 70.3h0.6v0.6h-0.6zM183.6 68.3h0.6v0.6h-0.6zM173.5 71.6h0.6v0.6h-0.6zM181.1 68.1h0.6v0.6h-0.6zM174.7 71.6h0.6v0.6h-0.6zM183.1 69.8h0.6v0.6h-0.6zM187.5 65.9h0.6v0.6h-0.6zM183.0 72.7h0.6v0.6h-0.6zM186.6 72.4h0.6v0.6h-0.6zM182.2 65.5h0.6v0.6h-0.6zM181.4 69.7h0.6v0.6h-0.6zM181.3 68.5h0.6v0.6h-0.6zM182.5 67.7h0.6v0.6h-0.6zM183.9 69.1h0.6v0.6h-0.6zM183.5 69.5h0.6v0.6h-0.6zM180.5 71.8h0.6v0.6h-0.6zM184.8 70.5h0.6v0.6h-0.6zM175.4 72.0h0.6v0.6h-0.6zM180.9 69.9h0.6v0.6h-0.6zM177.1 65.0h0.6v0.6h-0.6zM181.4 69.5h0.6v0.6h-0.6zM180.7 75.3h0.6v0.6h-0.6zM179.8 67.0h0.6v0.6h-0.6zM181.7 75.2h0.6v0.6h-0.6zM179.5 68.2h0.6v0.6h-0.6zM180.7 69.5h0.6v0.6h-0.6zM182.4 69.4h0.6v0.6h-0.6zM179.7 69.7h0.6v0.6h-0.6zM182.3 71.4h0.6v0.6h-0.6zM177.5 69.6h0.6v0.6h-0.6zM172.6 67.5h0.6v0.6h-0.6zM177.7 66.5h0.6v0.6h-0.6zM183.7 72.7h0.6v0.6h-0.6zM182.9 69.4h0.6v0.6h-0.6zM182.5 66.9h0.6v0.6h-0.6zM180.1 70.4h0.6v0.6h-0.6zM183.7 69.2h0.6v0.6h-0.6zM189.9 73.9h0.6v0.6h-0.6zM179.0 67.3h0.6v0.6h-0.6zM184.4 71.1h0.6v0.6h-0.6zM173.5 70.0h0.6v0.6h-0.6zM180.1 68.0h0.6v0.6h-0.6zM180.0 71.5h0.6v0.6h-0.6zM173.1 66.9h0.6v0.6h-0.6zM175.5 68.8h0.6v0.6h-0.6zM179.8 66.6h0.6v0.6h-0.6zM185.7 72.2h0.6v0.6h-0.6zM184.3 69.9h0.6v0.6h-0.6zM182.8 74.3h0.6v0.6h-0.6zM182.6 65.9h0.6v0.6h-0.6zM182.8 73.9h0.6v0.6h-0.6zM182.1 70.8h0.6v0.6h-0.6zM185.6 71.5h0.6v0.6h-0.6zM183.2 70.7h0.6v0.6h-0.6zM185.3 71.1h0.6v0.6h-0.6zM180.6 66.0h0.6v0.6h-0.6zM178.8 67.5h0.6v0.6h-0.6zM181.9 65.8h0.6v0.6h-0.6zM186.8 70.6h0.6v0.6h-0.6zM179.0 65.7h0.6v0.6h-0.6zM181.4 65.7h0.6v0.6h-0.6zM187.9 73.7h0.6v0.6h-0.6zM179.1 69.4h0.6v0.6h-0.6zM181.2 71.6h0.6v0.6h-0.6zM182.2 68.4h0.6v0.6h-0.6zM186.1 64.3h0.6v0.6h-0.6zM181.8 71.0h0.6v0.6h-0.6zM185.8 72.1h0.6v0.6h-0.6zM177.3 67.2h0.6v0.6h-0.6zM181.0 72.6h0.6v0.6h-0.6zM175.9 67.6h0.6v0.6h-0.6zM185.1 70.0h0.6v0.6h-0.6zM180.2 71.4h0.6v0.6h-0.6zM176.8 66.9h0.6v0.6h-0.6zM180.6 70.2h0.6v0.6h-0.6zM179.7 62.6h0.6v0.6h-0.6zM182.0 68.7h0.6v0.6h-0.6zM178.9 66.6h0.6v0.6h-0.6zM178.8 72.5h0.6v0.6h-0.6zM185.4 67.5h0.6v0.6h-0.6zM185.8 70.6h0.6v0.6h-0.6zM185.4 72.7h0.6v0.6h-0.6zM182.2 70.5h0.6v0.6h-0.6zM180.6 73.4h0.6v0.6h-0.6zM179.5 63.3h0.6v0.6h-0.6zM177.5 68.6h0.6v0.6h-0.6zM182.9 72.2h0.6v0.6h-0.6zM178.9 69.7h0.6v0.6h-0.6zM182.0 69.4h0.6v0.6h-0.6zM181.9 72.4h0.6v0.6h-0.6zM184.3 75.6h0.6v0.6h-0.6zM176.5 67.0h0.6v0.6h-0.6zM181.3 70.4h0.6v0.6h-0.6zM179.0 69.1h0.6v0.6h-0.6zM184.4 67.5h0.6v0.6h-0.6zM184.1 67.1h0.6v0.6h-0.6zM180.3 70.8h0.6v0.6h-0.6zM174.8 65.1h0.6v0.6h-0.6zM184.6 70.2h0.6v0.6h-0.6zM183.4 68.0h0.6v0.6h-0.6zM178.7 69.2h0.6v0.6h-0.6zM183.0 66.7h0.6v0.6h-0.6zM185.7 71.0h0.6v0.6h-0.6zM183.4 66.7h0.6v0.6h-0.6zM178.4 67.5h0.6v0.6h-0.6zM181.9 69.8h0.6v0.6h-0.6zM186.6 69.7h0.6v0.6h-0.6zM188.6 73.9h0.6v0.6h-0.6zM185.2 67.6h0.6v0.6h-0.6zM182.6 73.0h0.6v0.6h-0.6zM178.7 72.7h0.6v0.6h-0.6zM176.5 68.5h0.6v0.6h-0.6zM178.4 68.1h0.6v0.6h-0.6zM188.9 73.7h0.6v0.6h-0.6zM180.9 68.5h0.6v0.6h-0.6zM185.2 71.4h0.6v0.6h-0.6zM184.5 72.6h0.6v0.6h-0.6zM179.3 68.3h0.6v0.6h-0.6zM186.6 71.4h0.6v0.6h-0.6zM182.4 68.7h0.6v0.6h-0.6zM177.9 69.8h0.6v0.6h-0.6zM189.3 74.2h0.6v0.6h-0.6zM178.8 66.5h0.6v0.6h-0.6zM182.7 67.4h0.6v0.6h-0.6zM178.3 66.1h0.6v0.6h-0.6zM184.3 68.1h0.6v0.6h-0.6zM182.8 71.6h0.6v0.6h-0.6zM186.8 72.3h0.6v0.6h-0.6zM182.2 69.8h0.6v0.6h-0.6zM178.5 66.4h0.6v0.6h-0.6zM184.8 70.7h0.6v0.6h-0.6zM184.5 71.4h0.6v0.6h-0.6zM183.1 67.3h0.6v0.6h-0.6zM181.5 70.4h0.6v0.6h-0.6zM186.2 73.9h0.6v0.6h-0.6zM184.2 72.9h0.6v0.6h-0.6zM184.8 70.6h0.6v0.6h-0.6zM179.9 73.6h0.6v0.6h-0.6zM179.0 67.3h0.6v0.6h-0.6zM180.1 68.8h0.6v0.6h-0.6zM182.4 67.7h0.6v0.6h-0.6zM181.7 69.4h0.6v0.6h-0.6zM185.2 71.2h0.6v0.6h-0.6zM182.4 73.1h0.6v0.6h-0.6zM187.7 73.2h0.6v0.6h-0.6zM186.2 71.6h0.6v0.6h-0.6zM182.5 67.0h0.6v0.6h-0.6zM183.5 72.5h0.6v0.6h-0.6zM180.2 69.2h0.6v0.6h-0.6zM178.3 70.1h0.6v0.6h-0.6zM180.7 70.3h0.6v0.6h-0.6zM182.9 71.0h0.6v0.6h-0.6zM184.2 70.3h0.6v0.6h-0.6zM181.9 69.6h0.6v0.6h-0.6zM181.1 71.0h0.6v0.6h-0.6zM182.4 66.2h0.6v0.6h-0.6zM184.8 71.8h0.6v0.6h-0.6zM182.4 68.6h0.6v0.6h-0.6zM179.3 68.4h0.6v0.6h-0.6zM182.7 70.0h0.6v0.6h-0.6zM177.1 70.2h0.6v0.6h-0.6zM178.3 66.4h0.6v0.6h-0.6zM182.1 71.8h0.6v0.6h-0.6zM188.9 75.4h0.6v0.6h-0.6zM188.7 67.8h0.6v0.6h-0.6zM186.8 68.8h0.6v0.6h-0.6zM181.1 74.8h0.6v0.6h-0.6zM182.6 69.8h0.6v0.6h-0.6zM185.0 64.0h0.6v0.6h-0.6zM183.3 77.3h0.6v0.6h-0.6zM179.5 71.4h0.6v0.6h-0.6zM190.4 71.7h0.6v0.6h-0.6zM182.1 70.1h0.6v0.6h-0.6zM180.2 69.3h0.6v0.6h-0.6zM181.3 69.0h0.6v0.6h-0.6zM186.5 72.6h0.6v0.6h-0.6zM181.1 71.6h0.6v0.6h-0.6zM181.4 66.2h0.6v0.6h-0.6zM179.1 62.8h0.6v0.6h-0.6zM185.0 71.2h0.6v0.6h-0.6zM182.6 68.2h0.6v0.6h-0.6zM184.5 72.3h0.6v0.6h-0.6zM184.1 70.5h0.6v0.6h-0.6zM177.3 70.8h0.6v0.6h-0.6zM177.1 66.1h0.6v0.6h-0.6zM180.4 74.1h0.6v0.6h-0.6zM179.1 68.8h0.6v0.6h-0.6zM186.6 70.6h0.6v0.6h-0.6zM183.9 73.0h0.6v0.6h-0.6zM182.5 63.8h0.6v0.6h-0.6zM186.2 69.5h0.6v0.6h-0.6zM179.1 69.4h0.6v0.6h-0.6zM183.1 66.0h0.6v0.6h-0.6zM179.9 72.7h0.6v0.6h-0.6zM179.6 70.3h0.6v0.6h-0.6zM183.0 69.1h0.6v0.6h-0.6zM178.6 74.8h0.6v0.6h-0.6zM181.0 70.2h0.6v0.6h-0.6zM185.2 69.1h0.6v0.6h-0.6zM188.1 73.8h0.6v0.6h-0.6zM171.9 64.7h0.6v0.6h-0.6zM184.6 65.6h0.6v0.6h-0.6zM180.0 72.5h0.6v0.6h-0.6zM183.1 69.6h0.6v0.6h-0.6zM176.2 65.3h0.6v0.6h-0.6zM177.7 67.3h0.6v0.6h-0.6zM187.6 69.2h0.6v0.6h-0.6zM179.6 70.0h0.6v0.6h-0.6zM178.7 70.8h0.6v0.6h-0.6zM180.1 70.4h0.6v0.6h-0.6zM180.3 74.3h0.6v0.6h-0.6zM186.8 68.8h0.6v0.6h-0.6zM173.8 69.1h0.6v0.6h-0.6zM175.9 69.2h0.6v0.6h-0.6zM172.0 64.2h0.6v0.6h-0.6zM186.5 69.4h0.6v0.6h-0.6zM184.3 73.3h0.6v0.6h-0.6zM185.9 68.7h0.6v0.6h-0.6zM183.2 75.4h0.6v0.6h-0.6zM177.7 76.1h0.6v0.6h-0.6zM181.3 67.3h0.6v0.6h-0.6zM186.7 64.0h0.6v0.6h-0.6zM174.1 66.6h0.6v0.6h-0.6zM179.7 67.4h0.6v0.6h-0.6zM177.6 72.0h0.6v0.6h-0.6zM185.3 65.9h0.6v0.6h-0.6zM179.9 67.8h0.6v0.6h-0.6zM174.4 70.1h0.6v0.6h-0.6zM181.8 68.9h0.6v0.6h-0.6zM175.2 67.6h0.6v0.6h-0.6zM181.6 73.2h0.6v0.6h-0.6zM178.7 68.1h0.6v0.6h-0.6zM171.3 71.6h0.6v0.6h-0.6zM179.6 72.5h0.6v0.6h-0.6zM185.0 69.5h0.6v0.6h-0.6zM182.2 70.0h0.6v0.6h-0.6zM185.2 65.5h0.6v0.6h-0.6zM176.7 65.0h0.6v0.6h-0.6zM182.2 71.4h0.6v0.6h-0.6zM183.3 72.4h0.6v0.6h-0.6zM181.5 69.4h0.6v0.6h-0.6zM182.4 72.4h0.6v0.6h-0.6zM179.3 68.3h0.6v0.6h-0.6zM180.6 70.3h0.6v0.6h-0.6zM182.9 69.3h0.6v0.6h-0.6zM187.2 71.0h0.6v0.6h-0.6zM182.3 69.6h0.6v0.6h-0.6zM176.7 68.8h0.6v0.6h-0.6zM181.2 71.9h0.6v0.6h-0.6zM178.7 71.1h0.6v0.6h-0.6zM177.4 63.6h0.6v0.6h-0.6zM185.6 72.7h0.6v0.6h-0.6zM185.0 69.7h0.6v0.6h-0.6zM188.6 73.3h0.6v0.6h-0.6zM177.2 70.0h0.6v0.6h-0.6zM180.3 69.3h0.6v0.6h-0.6zM183.1 71.7h0.6v0.6h-0.6zM181.7 68.8h0.6v0.6h-0.6zM181.1 75.0h0.6v0.6h-0.6zM183.8 73.4h0.6v0.6h-0.6zM180.8 70.8h0.6v0.6h-0.6zM181.8 69.5h0.6v0.6h-0.6zM177.2 69.9h0.6v0.6h-0.6zM187.9 73.0h0.6v0.6h-0.6zM179.6 75.8h0.6v0.6h-0.6zM186.8 69.1h0.6v0.6h-0.6zM183.7 69.2h0.6v0.6h-0.6zM181.8 68.0h0.6v0.6h-0.6zM173.9 69.4h0.6v0.6h-0.6zM179.3 71.1h0.6v0.6h-0.6zM180.8 69.0h0.6v0.6h-0.6zM181.4 66.0h0.6v0.6h-0.6zM182.0 67.0h0.6v0.6h-0.6zM181.5 76.1h0.6v0.6h-0.6zM187.6 71.0h0.6v0.6h-0.6zM181.7 71.6h0.6v0.6h-0.6zM177.9 78.7h0.6v0.6h-0.6zM174.1 71.4h0.6v0.6h-0.6zM175.0 77.5h0.6v0.6h-0.6zM175.2 75.6h0.6v0.6h-0.6zM179.9 66.7h0.6v0.6h-0.6zM171.7 65.6h0.6v0.6h-0.6zM181.7 76.2h0.6v0.6h-0.6zM182.1 65.3h0.6v0.6h-0.6zM170.0 75.0h0.6v0.6h-0.6zM166.1 77.7h0.6v0.6h-0.6zM168.3 67.2h0.6v0.6h-0.6zM170.8 72.0h0.6v0.6h-0.6zM169.2 70.7h0.6v0.6h-0.6zM172.8 72.5h0.6v0.6h-0.6zM162.4 65.2h0.6v0.6h-0.6zM169.5 70.4h0.6v0.6h-0.6zM180.0 76.8h0.6v0.6h-0.6zM163.7 76.0h0.6v0.6h-0.6zM175.1 75.6h0.6v0.6h-0.6zM171.7 75.3h0.6v0.6h-0.6zM162.7 66.4h0.6v0.6h-0.6zM187.0 78.1h0.6v0.6h-0.6zM174.7 66.1h0.6v0.6h-0.6zM167.5 73.6h0.6v0.6h-0.6zM182.4 72.0h0.6v0.6h-0.6zM179.3 68.7h0.6v0.6h-0.6zM163.6 71.2h0.6v0.6h-0.6zM168.4 70.8h0.6v0.6h-0.6zM178.6 70.3h0.6v0.6h-0.6zM174.9 71.0h0.6v0.6h-0.6zM175.5 72.9h0.6v0.6h-0.6zM176.4 72.0h0.6v0.6h-0.6zM171.3 72.0h0.6v0.6h-0.6zM173.2 66.2h0.6v0.6h-0.6zM176.2 67.1h0.6v0.6h-0.6zM167.6 73.2h0.6v0.6h-0.6zM167.6 68.7h0.6v0.6h-0.6zM166.1 71.8h0.6v0.6h-0.6zM172.5 72.6h0.6v0.6h-0.6zM174.9 71.5h0.6v0.6h-0.6zM181.6 74.2h0.6v0.6h-0.6zM170.3 78.8h0.6v0.6h-0.6zM164.5 76.9h0.6v0.6h-0.6zM171.4 73.6h0.6v0.6h-0.6zM172.0 67.7h0.6v0.6h-0.6zM182.5 72.1h0.6v0.6h-0.6zM181.0 75.3h0.6v0.6h-0.6zM174.1 69.3h0.6v0.6h-0.6zM177.1 75.0h0.6v0.6h-0.6zM159.0 80.0h0.6v0.6h-0.6zM173.8 72.5h0.6v0.6h-0.6zM174.3 70.0h0.6v0.6h-0.6zM176.8 69.3h0.6v0.6h-0.6zM169.3 68.7h0.6v0.6h-0.6zM171.4 71.1h0.6v0.6h-0.6zM162.8 74.7h0.6v0.6h-0.6zM171.2 75.4h0.6v0.6h-0.6zM171.5 64.0h0.6v0.6h-0.6zM180.4 65.7h0.6v0.6h-0.6zM161.9 62.5h0.6v0.6h-0.6zM172.4 69.4h0.6v0.6h-0.6zM164.7 73.3h0.6v0.6h-0.6zM174.6 70.2h0.6v0.6h-0.6zM167.3 66.3h0.6v0.6h-0.6zM180.0 77.3h0.6v0.6h-0.6zM161.4 76.8h0.6v0.6h-0.6zM181.0 78.3h0.6v0.6h-0.6zM167.9 68.6h0.6v0.6h-0.6zM174.1 68.0h0.6v0.6h-0.6zM175.9 75.7h0.6v0.6h-0.6zM177.8 75.0h0.6v0.6h-0.6zM186.0 67.1h0.6v0.6h-0.6zM178.8 71.0h0.6v0.6h-0.6zM168.6 69.8h0.6v0.6h-0.6zM177.0 73.1h0.6v0.6h-0.6zM176.4 78.1h0.6v0.6h-0.6zM181.1 76.0h0.6v0.6h-0.6zM179.1 67.8h0.6v0.6h-0.6zM187.7 69.6h0.6v0.6h-0.6zM166.6 70.8h0.6v0.6h-0.6zM166.3 70.7h0.6v0.6h-0.6zM172.7 71.6h0.6v0.6h-0.6zM164.6 80.0h0.6v0.6h-0.6zM186.2 70.5h0.6v0.6h-0.6zM166.9 71.2h0.6v0.6h-0.6zM173.7 69.1h0.6v0.6h-0.6zM165.5 66.6h0.6v0.6h-0.6zM157.4 70.5h0.6v0.6h-0.6zM163.1 73.6h0.6v0.6h-0.6zM175.9 71.9h0.6v0.6h-0.6zM160.4 74.2h0.6v0.6h-0.6zM179.1 69.9h0.6v0.6h-0.6zM182.6 66.3h0.6v0.6h-0.6zM180.9 71.9h0.6v0.6h-0.6zM169.6 69.2h0.6v0.6h-0.6zM175.6 67.2h0.6v0.6h-0.6zM171.5 73.2h0.6v0.6h-0.6zM164.0 67.6h0.6v0.6h-0.6zM171.1 71.9h0.6v0.6h-0.6zM166.0 66.9h0.6v0.6h-0.6zM168.7 64.4h0.6v0.6h-0.6zM173.3 72.5h0.6v0.6h-0.6zM170.0 77.1h0.6v0.6h-0.6zM173.3 85.5h0.6v0.6h-0.6zM181.9 67.5h0.6v0.6h-0.6zM176.5 76.4h0.6v0.6h-0.6zM170.5 66.1h0.6v0.6h-0.6zM174.5 73.0h0.6v0.6h-0.6zM179.4 70.7h0.6v0.6h-0.6zM180.8 73.7h0.6v0.6h-0.6zM178.2 70.7h0.6v0.6h-0.6zM178.6 72.4h0.6v0.6h-0.6zM175.5 73.3h0.6v0.6h-0.6zM185.3 71.9h0.6v0.6h-0.6zM170.9 74.9h0.6v0.6h-0.6zM168.3 69.9h0.6v0.6h-0.6zM175.5 72.7h0.6v0.6h-0.6zM174.2 72.7h0.6v0.6h-0.6zM165.9 66.3h0.6v0.6h-0.6zM176.9 67.6h0.6v0.6h-0.6zM176.1 70.0h0.6v0.6h-0.6zM188.4 62.7h0.6v0.6h-0.6zM188.3 73.0h0.6v0.6h-0.6zM176.6 69.2h0.6v0.6h-0.6zM182.9 74.1h0.6v0.6h-0.6zM166.2 72.2h0.6v0.6h-0.6zM162.7 62.6h0.6v0.6h-0.6zM171.0 76.7h0.6v0.6h-0.6zM181.5 66.5h0.6v0.6h-0.6zM178.4 69.5h0.6v0.6h-0.6zM172.6 71.0h0.6v0.6h-0.6zM167.6 78.0h0.6v0.6h-0.6zM170.3 68.4h0.6v0.6h-0.6zM175.1 67.0h0.6v0.6h-0.6zM174.5 75.4h0.6v0.6h-0.6zM184.1 75.0h0.6v0.6h-0.6zM176.1 72.9h0.6v0.6h-0.6zM155.5 63.8h0.6v0.6h-0.6zM176.0 70.2h0.6v0.6h-0.6zM167.5 67.3h0.6v0.6h-0.6zM169.5 67.5h0.6v0.6h-0.6zM178.9 72.5h0.6v0.6h-0.6zM180.0 71.4h0.6v0.6h-0.6zM180.3 75.2h0.6v0.6h-0.6zM161.6 65.0h0.6v0.6h-0.6zM169.6 75.2h0.6v0.6h-0.6zM179.9 68.2h0.6v0.6h-0.6zM163.5 59.8h0.6v0.6h-0.6zM172.4 65.3h0.6v0.6h-0.6zM165.0 76.9h0.6v0.6h-0.6zM183.8 75.4h0.6v0.6h-0.6zM169.5 65.1h0.6v0.6h-0.6zM175.4 74.1h0.6v0.6h-0.6zM172.9 70.1h0.6v0.6h-0.6zM172.8 67.9h0.6v0.6h-0.6zM166.0 72.7h0.6v0.6h-0.6zM179.2 72.5h0.6v0.6h-0.6zM154.7 73.3h0.6v0.6h-0.6zM183.5 70.6h0.6v0.6h-0.6zM155.8 71.9h0.6v0.6h-0.6zM148.5 93.8h0.6v0.6h-0.6zM148.4 84.1h0.6v0.6h-0.6zM147.0 80.1h0.6v0.6h-0.6zM138.6 84.8h0.6v0.6h-0.6zM150.3 69.2h0.6v0.6h-0.6zM144.2 88.0h0.6v0.6h-0.6zM158.9 76.5h0.6v0.6h-0.6zM140.0 81.9h0.6v0.6h-0.6zM146.6 79.4h0.6v0.6h-0.6zM143.4 85.9h0.6v0.6h-0.6zM154.0 79.9h0.6v0.6h-0.6zM145.2 85.2h0.6v0.6h-0.6zM141.9 82.0h0.6v0.6h-0.6zM156.7 75.1h0.6v0.6h-0.6zM145.9 80.0h0.6v0.6h-0.6zM160.4 74.4h0.6v0.6h-0.6zM153.5 76.2h0.6v0.6h-0.6zM143.8 81.4h0.6v0.6h-0.6zM151.2 91.8h0.6v0.6h-0.6zM140.7 88.9h0.6v0.6h-0.6zM160.1 71.4h0.6v0.6h-0.6zM146.0 86.2h0.6v0.6h-0.6zM152.9 83.0h0.6v0.6h-0.6zM146.8 74.1h0.6v0.6h-0.6zM146.9 87.8h0.6v0.6h-0.6zM150.8 81.4h0.6v0.6h-0.6zM148.8 85.6h0.6v0.6h-0.6zM151.5 67.7h0.6v0.6h-0.6zM145.0 87.8h0.6v0.6h-0.6zM155.8 76.1h0.6v0.6h-0.6zM147.1 80.1h0.6v0.6h-0.6zM144.3 85.2h0.6v0.6h-0.6zM147.3 84.1h0.6v0.6h-0.6zM152.3 90.7h0.6v0.6h-0.6zM145.4 84.4h0.6v0.6h-0.6zM149.1 72.5h0.6v0.6h-0.6zM149.4 83.6h0.6v0.6h-0.6zM150.4 78.8h0.6v0.6h-0.6zM148.7 84.7h0.6v0.6h-0.6zM158.6 74.7h0.6v0.6h-0.6zM153.8 76.9h0.6v0.6h-0.6zM139.6 85.1h0.6v0.6h-0.6zM149.8 78.2h0.6v0.6h-0.6zM150.8 75.3h0.6v0.6h-0.6zM146.3 79.9h0.6v0.6h-0.6zM143.7 72.8h0.6v0.6h-0.6zM154.2 84.0h0.6v0.6h-0.6zM152.0 73.9h0.6v0.6h-0.6zM151.0 74.1h0.6v0.6h-0.6zM151.1 78.7h0.6v0.6h-0.6zM145.7 76.1h0.6v0.6h-0.6zM154.5 88.4h0.6v0.6h-0.6zM147.3 86.2h0.6v0.6h-0.6zM152.3 80.9h0.6v0.6h-0.6zM147.9 74.2h0.6v0.6h-0.6zM147.7 78.3h0.6v0.6h-0.6zM146.9 82.0h0.6v0.6h-0.6zM148.2 75.2h0.6v0.6h-0.6zM157.5 69.9h0.6v0.6h-0.6zM147.9 80.2h0.6v0.6h-0.6zM143.6 86.5h0.6v0.6h-0.6zM143.2 78.9h0.6v0.6h-0.6zM150.6 83.5h0.6v0.6h-0.6zM151.0 90.9h0.6v0.6h-0.6zM154.5 76.1h0.6v0.6h-0.6zM146.1 78.8h0.6v0.6h-0.6zM151.4 75.7h0.6v0.6h-0.6zM145.4 91.6h0.6v0.6h-0.6zM147.1 88.2h0.6v0.6h-0.6zM139.4 84.3h0.6v0.6h-0.6zM145.7 86.6h0.6v0.6h-0.6zM154.8 82.7h0.6v0.6h-0.6zM144.7 79.0h0.6v0.6h-0.6zM149.6 68.7h0.6v0.6h-0.6zM159.0 76.3h0.6v0.6h-0.6zM145.7 79.1h0.6v0.6h-0.6zM153.4 78.6h0.6v0.6h-0.6zM153.0 74.8h0.6v0.6h-0.6zM158.4 82.1h0.6v0.6h-0.6zM153.7 74.3h0.6v0.6h-0.6zM149.4 91.1h0.6v0.6h-0.6zM157.0 65.2h0.6v0.6h-0.6zM145.2 78.4h0.6v0.6h-0.6zM153.1 75.6h0.6v0.6h-0.6zM147.9 83.2h0.6v0.6h-0.6zM159.8 68.3h0.6v0.6h-0.6zM144.2 82.6h0.6v0.6h-0.6zM146.9 85.8h0.6v0.6h-0.6zM153.9 82.4h0.6v0.6h-0.6zM153.6 78.0h0.6v0.6h-0.6zM155.1 71.2h0.6v0.6h-0.6zM138.5 85.5h0.6v0.6h-0.6zM149.0 80.7h0.6v0.6h-0.6zM152.6 84.6h0.6v0.6h-0.6zM159.5 77.1h0.6v0.6h-0.6zM149.9 79.2h0.6v0.6h-0.6zM149.9 75.2h0.6v0.6h-0.6zM162.6 73.4h0.6v0.6h-0.6zM150.4 87.0h0.6v0.6h-0.6zM141.4 86.7h0.6v0.6h-0.6zM152.4 72.5h0.6v0.6h-0.6zM150.9 73.3h0.6v0.6h-0.6zM150.3 84.3h0.6v0.6h-0.6zM145.9 90.8h0.6v0.6h-0.6zM148.1 88.4h0.6v0.6h-0.6zM142.0 79.5h0.6v0.6h-0.6zM156.7 73.5h0.6v0.6h-0.6zM155.0 75.4h0.6v0.6h-0.6zM145.5 83.0h0.6v0.6h-0.6zM148.4 84.4h0.6v0.6h-0.6zM150.7 82.1h0.6v0.6h-0.6zM157.4 79.6h0.6v0.6h-0.6zM154.8 82.7h0.6v0.6h-0.6zM155.1 84.0h0.6v0.6h-0.6zM158.6 90.1h0.6v0.6h-0.6zM142.9 85.5h0.6v0.6h-0.6zM150.4 77.9h0.6v0.6h-0.6zM151.0 75.3h0.6v0.6h-0.6zM147.4 80.6h0.6v0.6h-0.6zM146.9 81.8h0.6v0.6h-0.6zM147.6 74.2h0.6v0.6h-0.6zM152.6 76.0h0.6v0.6h-0.6zM141.9 88.3h0.6v0.6h-0.6zM154.4 74.6h0.6v0.6h-0.6zM148.5 75.7h0.6v0.6h-0.6zM156.5 70.3h0.6v0.6h-0.6zM148.4 81.5h0.6v0.6h-0.6zM148.4 82.8h0.6v0.6h-0.6zM143.7 75.1h0.6v0.6h-0.6zM164.9 71.8h0.6v0.6h-0.6zM151.0 76.9h0.6v0.6h-0.6zM156.5 69.9h0.6v0.6h-0.6zM146.7 78.5h0.6v0.6h-0.6zM147.2 77.0h0.6v0.6h-0.6zM148.7 88.6h0.6v0.6h-0.6zM158.5 77.2h0.6v0.6h-0.6zM144.5 86.4h0.6v0.6h-0.6zM149.6 64.0h0.6v0.6h-0.6zM151.0 69.8h0.6v0.6h-0.6zM152.8 75.7h0.6v0.6h-0.6zM151.8 68.9h0.6v0.6h-0.6zM147.1 83.9h0.6v0.6h-0.6zM149.4 77.0h0.6v0.6h-0.6zM145.3 91.6h0.6v0.6h-0.6zM157.6 79.7h0.6v0.6h-0.6zM145.7 78.5h0.6v0.6h-0.6zM152.6 77.0h0.6v0.6h-0.6zM157.4 77.5h0.6v0.6h-0.6zM156.5 72.3h0.6v0.6h-0.6zM147.9 74.0h0.6v0.6h-0.6zM155.1 85.8h0.6v0.6h-0.6zM148.6 84.6h0.6v0.6h-0.6zM152.3 78.4h0.6v0.6h-0.6zM151.8 74.0h0.6v0.6h-0.6zM150.7 75.7h0.6v0.6h-0.6zM147.1 71.1h0.6v0.6h-0.6zM144.2 90.1h0.6v0.6h-0.6zM147.7 70.8h0.6v0.6h-0.6zM156.9 82.7h0.6v0.6h-0.6zM153.7 76.8h0.6v0.6h-0.6zM145.8 90.3h0.6v0.6h-0.6zM152.1 73.8h0.6v0.6h-0.6zM153.3 79.5h0.6v0.6h-0.6zM149.4 75.7h0.6v0.6h-0.6zM150.5 79.8h0.6v0.6h-0.6zM150.5 86.5h0.6v0.6h-0.6zM145.8 76.2h0.6v0.6h-0.6zM145.7 88.0h0.6v0.6h-0.6zM149.4 78.6h0.6v0.6h-0.6zM144.2 83.6h0.6v0.6h-0.6zM151.1 85.0h0.6v0.6h-0.6zM147.2 77.8h0.6v0.6h-0.6zM151.1 60.8h0.6v0.6h-0.6zM147.2 87.8h0.6v0.6h-0.6zM159.6 67.8h0.6v0.6h-0.6zM142.6 86.9h0.6v0.6h-0.6zM154.4 81.3h0.6v0.6h-0.6zM139.2 81.7h0.6v0.6h-0.6zM145.7 79.9h0.6v0.6h-0.6zM151.7 69.8h0.6v0.6h-0.6zM142.8 82.2h0.6v0.6h-0.6zM145.2 82.3h0.6v0.6h-0.6zM155.6 67.6h0.6v0.6h-0.6zM149.6 87.6h0.6v0.6h-0.6zM155.7 71.5h0.6v0.6h-0.6zM156.6 64.8h0.6v0.6h-0.6zM162.3 71.4h0.6v0.6h-0.6zM148.6 74.2h0.6v0.6h-0.6zM160.9 69.5h0.6v0.6h-0.6zM149.2 78.7h0.6v0.6h-0.6zM156.0 67.5h0.6v0.6h-0.6zM152.7 73.8h0.6v0.6h-0.6zM144.4 81.2h0.6v0.6h-0.6zM152.7 83.8h0.6v0.6h-0.6zM154.5 76.6h0.6v0.6h-0.6zM152.2 79.4h0.6v0.6h-0.6zM147.0 89.6h0.6v0.6h-0.6zM144.8 87.3h0.6v0.6h-0.6zM153.6 73.6h0.6v0.6h-0.6zM148.6 71.3h0.6v0.6h-0.6zM146.9 77.6h0.6v0.6h-0.6zM149.1 86.6h0.6v0.6h-0.6zM158.1 71.7h0.6v0.6h-0.6zM148.2 75.9h0.6v0.6h-0.6zM149.9 85.6h0.6v0.6h-0.6zM153.4 76.4h0.6v0.6h-0.6zM152.5 82.5h0.6v0.6h-0.6zM147.5 92.6h0.6v0.6h-0.6zM155.5 73.4h0.6v0.6h-0.6zM144.0 85.9h0.6v0.6h-0.6zM159.1 72.1h0.6v0.6h-0.6zM146.7 68.0h0.6v0.6h-0.6zM151.9 66.6h0.6v0.6h-0.6zM153.4 69.6h0.6v0.6h-0.6zM136.8 85.7h0.6v0.6h-0.6zM157.9 70.7h0.6v0.6h-0.6zM157.1 85.8h0.6v0.6h-0.6zM142.0 87.5h0.6v0.6h-0.6zM157.6 78.2h0.6v0.6h-0.6zM145.7 86.9h0.6v0.6h-0.6zM149.6 65.1h0.6v0.6h-0.6zM153.3 74.4h0.6v0.6h-0.6zM148.3 79.9h0.6v0.6h-0.6zM158.0 65.5h0.6v0.6h-0.6zM149.9 70.4h0.6v0.6h-0.6zM152.2 65.2h0.6v0.6h-0.6zM154.3 83.1h0.6v0.6h-0.6zM141.0 83.9h0.6v0.6h-0.6zM153.7 81.2h0.6v0.6h-0.6zM152.1 78.2h0.6v0.6h-0.6zM157.7 72.4h0.6v0.6h-0.6zM157.4 71.2h0.6v0.6h-0.6zM150.8 80.0h0.6v0.6h-0.6zM154.0 68.2h0.6v0.6h-0.6zM153.6 77.9h0.6v0.6h-0.6zM149.5 75.3h0.6v0.6h-0.6zM142.6 87.5h0.6v0.6h-0.6zM154.8 76.9h0.6v0.6h-0.6zM144.0 86.1h0.6v0.6h-0.6zM148.6 87.2h0.6v0.6h-0.6zM151.8 88.8h0.6v0.6h-0.6zM155.5 80.4h0.6v0.6h-0.6zM147.3 85.8h0.6v0.6h-0.6zM144.2 83.4h0.6v0.6h-0.6zM158.8 74.5h0.6v0.6h-0.6zM153.5 83.5h0.6v0.6h-0.6zM151.2 79.6h0.6v0.6h-0.6zM155.1 81.7h0.6v0.6h-0.6zM147.5 81.8h0.6v0.6h-0.6zM143.7 78.5h0.6v0.6h-0.6zM142.9 81.6h0.6v0.6h-0.6zM141.2 86.7h0.6v0.6h-0.6zM147.6 81.4h0.6v0.6h-0.6zM142.6 86.9h0.6v0.6h-0.6zM152.8 70.4h0.6v0.6h-0.6zM145.0 90.9h0.6v0.6h-0.6zM153.2 74.0h0.6v0.6h-0.6zM152.0 74.4h0.6v0.6h-0.6zM154.0 82.7h0.6v0.6h-0.6zM158.8 70.4h0.6v0.6h-0.6zM153.0 75.0h0.6v0.6h-0.6zM148.3 88.3h0.6v0.6h-0.6zM149.8 90.5h0.6v0.6h-0.6zM149.8 79.5h0.6v0.6h-0.6zM151.9 71.8h0.6v0.6h-0.6zM140.4 87.0h0.6v0.6h-0.6zM157.6 76.7h0.6v0.6h-0.6zM152.1 78.1h0.6v0.6h-0.6zM158.0 68.5h0.6v0.6h-0.6zM144.7 76.1h0.6v0.6h-0.6zM144.6 82.9h0.6v0.6h-0.6zM149.8 93.3h0.6v0.6h-0.6zM147.2 81.1h0.6v0.6h-0.6zM150.6 82.8h0.6v0.6h-0.6zM145.2 87.4h0.6v0.6h-0.6zM143.4 79.4h0.6v0.6h-0.6zM147.3 87.3h0.6v0.6h-0.6zM152.1 76.7h0.6v0.6h-0.6zM147.7 67.6h0.6v0.6h-0.6zM154.4 81.3h0.6v0.6h-0.6zM149.0 86.3h0.6v0.6h-0.6zM155.1 73.2h0.6v0.6h-0.6zM152.0 74.8h0.6v0.6h-0.6zM144.8 81.2h0.6v0.6h-0.6zM147.4 93.2h0.6v0.6h-0.6zM140.8 80.5h0.6v0.6h-0.6zM157.5 77.3h0.6v0.6h-0.6zM151.9 81.2h0.6v0.6h-0.6zM145.1 86.0h0.6v0.6h-0.6zM162.0 67.9h0.6v0.6h-0.6zM150.5 91.4h0.6v0.6h-0.6zM160.3 78.5h0.6v0.6h-0.6zM149.7 76.2h0.6v0.6h-0.6zM137.2 80.1h0.6v0.6h-0.6zM152.2 66.0h0.6v0.6h-0.6zM146.0 82.2h0.6v0.6h-0.6zM147.6 76.0h0.6v0.6h-0.6zM146.3 86.1h0.6v0.6h-0.6zM149.2 82.1h0.6v0.6h-0.6zM142.6 85.9h0.6v0.6h-0.6zM151.5 82.8h0.6v0.6h-0.6zM145.8 87.8h0.6v0.6h-0.6zM153.6 72.1h0.6v0.6h-0.6zM144.4 80.8h0.6v0.6h-0.6zM153.1 82.7h0.6v0.6h-0.6zM150.3 82.2h0.6v0.6h-0.6zM146.2 86.2h0.6v0.6h-0.6zM147.6 78.2h0.6v0.6h-0.6zM150.5 77.6h0.6v0.6h-0.6zM149.0 86.2h0.6v0.6h-0.6zM156.5 69.4h0.6v0.6h-0.6zM155.5 79.0h0.6v0.6h-0.6zM142.3 81.1h0.6v0.6h-0.6zM151.0 84.7h0.6v0.6h-0.6zM149.6 75.3h0.6v0.6h-0.6zM157.6 78.1h0.6v0.6h-0.6zM145.4 87.9h0.6v0.6h-0.6zM148.0 79.8h0.6v0.6h-0.6zM156.6 76.8h0.6v0.6h-0.6zM154.2 82.6h0.6v0.6h-0.6zM146.0 83.1h0.6v0.6h-0.6zM148.5 64.4h0.6v0.6h-0.6zM148.7 90.0h0.6v0.6h-0.6zM148.0 85.3h0.6v0.6h-0.6zM154.4 77.1h0.6v0.6h-0.6zM160.6 74.3h0.6v0.6h-0.6zM155.1 74.5h0.6v0.6h-0.6zM142.6 82.3h0.6v0.6h-0.6zM151.4 73.9h0.6v0.6h-0.6zM151.5 76.0h0.6v0.6h-0.6zM152.5 72.0h0.6v0.6h-0.6zM163.6 72.8h0.6v0.6h-0.6zM145.1 90.5h0.6v0.6h-0.6zM153.5 72.8h0.6v0.6h-0.6zM152.9 75.1h0.6v0.6h-0.6zM153.5 78.7h0.6v0.6h-0.6zM159.6 73.2h0.6v0.6h-0.6zM144.9 76.7h0.6v0.6h-0.6zM149.8 80.5h0.6v0.6h-0.6zM158.2 72.3h0.6v0.6h-0.6zM149.9 76.0h0.6v0.6h-0.6zM140.4 80.7h0.6v0.6h-0.6zM143.9 87.7h0.6v0.6h-0.6zM153.1 69.8h0.6v0.6h-0.6zM154.3 72.6h0.6v0.6h-0.6zM148.3 75.7h0.6v0.6h-0.6zM147.8 81.7h0.6v0.6h-0.6zM147.1 81.5h0.6v0.6h-0.6zM147.7 89.2h0.6v0.6h-0.6zM153.4 85.8h0.6v0.6h-0.6zM139.7 84.3h0.6v0.6h-0.6zM157.0 72.8h0.6v0.6h-0.6zM148.4 77.1h0.6v0.6h-0.6zM146.6 74.9h0.6v0.6h-0.6zM143.1 80.8h0.6v0.6h-0.6zM145.9 85.3h0.6v0.6h-0.6zM150.6 83.4h0.6v0.6h-0.6zM139.1 79.5h0.6v0.6h-0.6zM151.0 77.6h0.6v0.6h-0.6zM148.5 86.7h0.6v0.6h-0.6zM154.7 79.0h0.6v0.6h-0.6zM156.3 74.2h0.6v0.6h-0.6zM154.1 71.6h0.6v0.6h-0.6zM152.3 92.6h0.6v0.6h-0.6zM147.4 78.7h0.6v0.6h-0.6zM150.3 89.0h0.6v0.6h-0.6zM144.7 79.0h0.6v0.6h-0.6zM147.4 68.3h0.6v0.6h-0.6zM155.2 83.4h0.6v0.6h-0.6zM147.2 81.8h0.6v0.6h-0.6zM146.1 70.5h0.6v0.6h-0.6zM142.5 83.9h0.6v0.6h-0.6zM149.1 86.1h0.6v0.6h-0.6zM149.2 79.0h0.6v0.6h-0.6zM147.1 72.2h0.6v0.6h-0.6zM146.2 83.9h0.6v0.6h-0.6zM146.5 86.7h0.6v0.6h-0.6zM156.4 69.5h0.6v0.6h-0.6zM158.9 74.0h0.6v0.6h-0.6zM151.3 86.0h0.6v0.6h-0.6zM149.6 80.4h0.6v0.6h-0.6zM141.0 83.6h0.6v0.6h-0.6zM147.6 79.0h0.6v0.6h-0.6zM146.2 80.6h0.6v0.6h-0.6zM142.8 88.2h0.6v0.6h-0.6zM156.2 80.6h0.6v0.6h-0.6zM150.5 77.2h0.6v0.6h-0.6zM151.4 77.6h0.6v0.6h-0.6zM160.6 84.0h0.6v0.6h-0.6zM153.5 73.4h0.6v0.6h-0.6zM143.4 84.7h0.6v0.6h-0.6zM148.4 82.1h0.6v0.6h-0.6zM142.4 88.8h0.6v0.6h-0.6zM151.8 78.5h0.6v0.6h-0.6zM154.5 78.3h0.6v0.6h-0.6zM143.1 88.5h0.6v0.6h-0.6zM147.0 79.4h0.6v0.6h-0.6zM155.9 77.2h0.6v0.6h-0.6zM157.8 72.6h0.6v0.6h-0.6zM149.6 90.0h0.6v0.6h-0.6zM153.1 76.5h0.6v0.6h-0.6zM152.3 84.3h0.6v0.6h-0.6zM154.2 85.9h0.6v0.6h-0.6zM158.5 90.2h0.6v0.6h-0.6zM148.1 78.4h0.6v0.6h-0.6zM144.9 85.4h0.6v0.6h-0.6zM144.6 88.4h0.6v0.6h-0.6zM143.5 80.6h0.6v0.6h-0.6zM144.6 86.9h0.6v0.6h-0.6zM159.0 76.2h0.6v0.6h-0.6zM150.9 68.0h0.6v0.6h-0.6zM151.6 72.3h0.6v0.6h-0.6zM148.0 75.8h0.6v0.6h-0.6zM146.1 80.1h0.6v0.6h-0.6zM145.4 78.6h0.6v0.6h-0.6zM150.0 74.4h0.6v0.6h-0.6zM150.3 88.8h0.6v0.6h-0.6zM146.3 73.6h0.6v0.6h-0.6zM137.0 84.8h0.6v0.6h-0.6zM150.9 77.0h0.6v0.6h-0.6zM149.1 80.6h0.6v0.6h-0.6zM157.7 74.1h0.6v0.6h-0.6zM154.6 66.5h0.6v0.6h-0.6zM150.8 75.7h0.6v0.6h-0.6zM154.8 84.0h0.6v0.6h-0.6zM141.4 88.8h0.6v0.6h-0.6zM150.2 81.2h0.6v0.6h-0.6zM146.2 78.4h0.6v0.6h-0.6zM145.3 76.0h0.6v0.6h-0.6zM141.4 87.8h0.6v0.6h-0.6zM152.6 82.8h0.6v0.6h-0.6zM148.5 77.1h0.6v0.6h-0.6zM153.5 68.7h0.6v0.6h-0.6zM154.2 70.7h0.6v0.6h-0.6zM154.3 86.8h0.6v0.6h-0.6zM156.0 73.9h0.6v0.6h-0.6zM152.4 79.5h0.6v0.6h-0.6zM156.1 77.1h0.6v0.6h-0.6zM148.8 83.2h0.6v0.6h-0.6zM145.4 88.1h0.6v0.6h-0.6zM157.0 69.8h0.6v0.6h-0.6zM155.2 67.6h0.6v0.6h-0.6zM142.8 88.7h0.6v0.6h-0.6zM157.1 73.5h0.6v0.6h-0.6zM155.7 76.1h0.6v0.6h-0.6zM142.5 79.5h0.6v0.6h-0.6zM151.1 90.3h0.6v0.6h-0.6zM146.9 82.5h0.6v0.6h-0.6zM139.2 86.2h0.6v0.6h-0.6zM145.1 90.9h0.6v0.6h-0.6zM151.9 68.4h0.6v0.6h-0.6zM149.0 87.7h0.6v0.6h-0.6zM154.3 84.6h0.6v0.6h-0.6zM141.5 82.2h0.6v0.6h-0.6zM147.4 76.0h0.6v0.6h-0.6zM149.8 84.6h0.6v0.6h-0.6zM141.7 76.5h0.6v0.6h-0.6zM155.1 72.9h0.6v0.6h-0.6zM146.7 80.4h0.6v0.6h-0.6zM153.1 65.3h0.6v0.6h-0.6zM152.5 82.7h0.6v0.6h-0.6zM145.5 83.6h0.6v0.6h-0.6zM142.5 89.1h0.6v0.6h-0.6zM148.0 86.7h0.6v0.6h-0.6zM159.6 68.0h0.6v0.6h-0.6zM143.7 77.8h0.6v0.6h-0.6zM150.7 72.6h0.6v0.6h-0.6zM160.3 82.4h0.6v0.6h-0.6zM153.8 62.5h0.6v0.6h-0.6zM145.4 81.8h0.6v0.6h-0.6zM153.7 69.0h0.6v0.6h-0.6zM144.5 87.4h0.6v0.6h-0.6zM156.2 77.6h0.6v0.6h-0.6zM154.0 78.0h0.6v0.6h-0.6zM154.3 72.8h0.6v0.6h-0.6zM153.1 78.6h0.6v0.6h-0.6zM160.2 67.1h0.6v0.6h-0.6zM155.1 76.8h0.6v0.6h-0.6zM158.0 73.2h0.6v0.6h-0.6zM148.4 78.4h0.6v0.6h-0.6zM140.6 86.7h0.6v0.6h-0.6zM152.5 72.9h0.6v0.6h-0.6zM148.8 90.9h0.6v0.6h-0.6zM151.4 73.4h0.6v0.6h-0.6zM149.8 91.5h0.6v0.6h-0.6zM142.2 82.4h0.6v0.6h-0.6zM146.8 83.3h0.6v0.6h-0.6zM147.9 77.7h0.6v0.6h-0.6zM142.5 89.5h0.6v0.6h-0.6zM143.9 82.7h0.6v0.6h-0.6zM149.8 75.3h0.6v0.6h-0.6zM141.3 88.3h0.6v0.6h-0.6zM147.6 72.5h0.6v0.6h-0.6zM157.0 76.0h0.6v0.6h-0.6zM149.0 85.1h0.6v0.6h-0.6zM148.0 85.6h0.6v0.6h-0.6zM157.2 78.8h0.6v0.6h-0.6zM152.3 87.5h0.6v0.6h-0.6zM150.3 81.5h0.6v0.6h-0.6zM143.6 79.5h0.6v0.6h-0.6zM159.3 75.1h0.6v0.6h-0.6zM152.0 84.5h0.6v0.6h-0.6zM144.1 82.6h0.6v0.6h-0.6zM158.5 73.2h0.6v0.6h-0.6zM154.3 65.6h0.6v0.6h-0.6zM157.7 70.0h0.6v0.6h-0.6zM151.7 71.7h0.6v0.6h-0.6zM148.0 83.4h0.6v0.6h-0.6zM152.0 71.9h0.6v0.6h-0.6zM152.0 79.4h0.6v0.6h-0.6zM151.9 83.0h0.6v0.6h-0.6zM149.3 80.4h0.6v0.6h-0.6zM153.9 77.4h0.6v0.6h-0.6zM150.1 73.5h0.6v0.6h-0.6zM139.3 81.8h0.6v0.6h-0.6zM152.2 63.2h0.6v0.6h-0.6zM149.9 72.0h0.6v0.6h-0.6zM150.7 87.3h0.6v0.6h-0.6zM151.2 70.0h0.6v0.6h-0.6zM153.4 78.3h0.6v0.6h-0.6zM144.6 87.0h0.6v0.6h-0.6zM150.2 68.5h0.6v0.6h-0.6zM153.5 79.9h0.6v0.6h-0.6zM156.5 73.3h0.6v0.6h-0.6zM155.5 73.0h0.6v0.6h-0.6zM154.7 63.7h0.6v0.6h-0.6zM146.5 80.5h0.6v0.6h-0.6zM147.8 79.0h0.6v0.6h-0.6zM160.1 73.9h0.6v0.6h-0.6zM147.5 79.3h0.6v0.6h-0.6zM154.0 81.1h0.6v0.6h-0.6zM154.3 77.4h0.6v0.6h-0.6zM146.7 76.1h0.6v0.6h-0.6zM157.3 77.8h0.6v0.6h-0.6zM158.5 74.0h0.6v0.6h-0.6zM150.5 82.9h0.6v0.6h-0.6zM146.2 73.4h0.6v0.6h-0.6zM148.2 78.7h0.6v0.6h-0.6zM153.7 74.2h0.6v0.6h-0.6zM151.4 78.4h0.6v0.6h-0.6zM162.1 78.4h0.6v0.6h-0.6zM155.9 78.2h0.6v0.6h-0.6zM144.2 83.5h0.6v0.6h-0.6zM156.9 74.1h0.6v0.6h-0.6zM147.1 82.7h0.6v0.6h-0.6zM145.1 77.8h0.6v0.6h-0.6zM150.5 75.4h0.6v0.6h-0.6zM156.1 70.8h0.6v0.6h-0.6zM147.8 74.0h0.6v0.6h-0.6zM154.1 82.2h0.6v0.6h-0.6zM145.8 77.3h0.6v0.6h-0.6zM151.6 81.0h0.6v0.6h-0.6zM159.4 69.7h0.6v0.6h-0.6zM159.2 69.7h0.6v0.6h-0.6zM156.9 85.7h0.6v0.6h-0.6zM147.2 76.6h0.6v0.6h-0.6zM150.4 76.3h0.6v0.6h-0.6zM161.0 80.6h0.6v0.6h-0.6zM141.5 89.4h0.6v0.6h-0.6zM156.6 72.3h0.6v0.6h-0.6zM164.2 73.0h0.6v0.6h-0.6zM156.9 80.8h0.6v0.6h-0.6zM161.8 74.9h0.6v0.6h-0.6zM152.1 77.8h0.6v0.6h-0.6zM143.8 82.6h0.6v0.6h-0.6zM150.6 79.7h0.6v0.6h-0.6zM142.3 84.5h0.6v0.6h-0.6zM143.0 90.1h0.6v0.6h-0.6zM144.2 85.8h0.6v0.6h-0.6zM145.8 80.1h0.6v0.6h-0.6zM150.3 81.4h0.6v0.6h-0.6zM142.4 87.2h0.6v0.6h-0.6zM149.1 74.0h0.6v0.6h-0.6zM149.5 71.6h0.6v0.6h-0.6zM151.4 73.5h0.6v0.6h-0.6zM156.1 84.1h0.6v0.6h-0.6zM149.6 83.6h0.6v0.6h-0.6zM153.3 85.3h0.6v0.6h-0.6zM143.1 76.9h0.6v0.6h-0.6zM154.1 75.4h0.6v0.6h-0.6zM147.3 88.5h0.6v0.6h-0.6zM160.3 67.2h0.6v0.6h-0.6zM143.4 83.9h0.6v0.6h-0.6zM153.6 69.4h0.6v0.6h-0.6zM158.3 71.2h0.6v0.6h-0.6zM148.5 79.1h0.6v0.6h-0.6zM148.4 87.6h0.6v0.6h-0.6zM153.5 78.0h0.6v0.6h-0.6zM154.3 71.6h0.6v0.6h-0.6zM153.3 71.8h0.6v0.6h-0.6zM148.1 79.3h0.6v0.6h-0.6zM143.4 79.1h0.6v0.6h-0.6zM161.0 82.1h0.6v0.6h-0.6zM163.8 76.8h0.6v0.6h-0.6zM152.6 75.2h0.6v0.6h-0.6zM155.9 82.6h0.6v0.6h-0.6zM150.7 79.6h0.6v0.6h-0.6zM151.6 76.2h0.6v0.6h-0.6zM156.3 70.2h0.6v0.6h-0.6zM148.7 77.0h0.6v0.6h-0.6zM153.7 76.8h0.6v0.6h-0.6zM146.9 84.8h0.6v0.6h-0.6zM139.9 84.6h0.6v0.6h-0.6zM158.1 71.5h0.6v0.6h-0.6zM146.4 89.7h0.6v0.6h-0.6zM150.9 79.0h0.6v0.6h-0.6zM147.7 87.2h0.6v0.6h-0.6zM140.0 78.5h0.6v0.6h-0.6zM148.3 71.3h0.6v0.6h-0.6zM147.5 89.6h0.6v0.6h-0.6zM150.9 79.0h0.6v0.6h-0.6zM148.7 85.5h0.6v0.6h-0.6zM151.3 61.0h0.6v0.6h-0.6zM147.1 89.6h0.6v0.6h-0.6zM155.7 75.6h0.6v0.6h-0.6zM144.9 81.1h0.6v0.6h-0.6zM153.7 67.2h0.6v0.6h-0.6zM159.2 67.9h0.6v0.6h-0.6zM143.3 86.2h0.6v0.6h-0.6zM143.0 80.5h0.6v0.6h-0.6zM152.6 75.1h0.6v0.6h-0.6zM149.7 80.8h0.6v0.6h-0.6zM144.3 81.7h0.6v0.6h-0.6zM156.5 69.1h0.6v0.6h-0.6zM147.2 80.3h0.6v0.6h-0.6zM151.5 76.3h0.6v0.6h-0.6zM142.4 77.1h0.6v0.6h-0.6zM154.1 69.1h0.6v0.6h-0.6zM154.1 77.4h0.6v0.6h-0.6zM142.0 73.8h0.6v0.6h-0.6zM155.5 68.5h0.6v0.6h-0.6zM146.1 77.8h0.6v0.6h-0.6zM151.4 96.7h0.6v0.6h-0.6zM152.7 78.8h0.6v0.6h-0.6zM147.2 69.2h0.6v0.6h-0.6zM146.7 83.1h0.6v0.6h-0.6zM156.6 69.7h0.6v0.6h-0.6zM153.7 75.0h0.6v0.6h-0.6zM144.2 79.3h0.6v0.6h-0.6zM144.5 87.4h0.6v0.6h-0.6zM146.8 82.2h0.6v0.6h-0.6zM158.4 79.6h0.6v0.6h-0.6zM142.0 83.3h0.6v0.6h-0.6zM146.7 79.5h0.6v0.6h-0.6zM158.5 68.7h0.6v0.6h-0.6zM148.8 78.6h0.6v0.6h-0.6zM155.3 73.1h0.6v0.6h-0.6zM158.3 79.3h0.6v0.6h-0.6zM155.7 69.9h0.6v0.6h-0.6zM153.1 78.8h0.6v0.6h-0.6zM150.7 73.9h0.6v0.6h-0.6zM142.1 87.1h0.6v0.6h-0.6zM144.1 77.6h0.6v0.6h-0.6zM152.0 81.6h0.6v0.6h-0.6zM158.7 70.9h0.6v0.6h-0.6zM155.5 76.3h0.6v0.6h-0.6zM150.4 64.9h0.6v0.6h-0.6zM147.3 80.0h0.6v0.6h-0.6zM146.0 89.2h0.6v0.6h-0.6zM157.4 69.0h0.6v0.6h-0.6zM149.0 78.3h0.6v0.6h-0.6zM152.4 73.7h0.6v0.6h-0.6zM142.3 89.5h0.6v0.6h-0.6zM140.7 81.0h0.6v0.6h-0.6zM146.5 85.5h0.6v0.6h-0.6zM151.3 82.4h0.6v0.6h-0.6zM159.5 71.0h0.6v0.6h-0.6zM152.8 70.1h0.6v0.6h-0.6zM153.0 83.6h0.6v0.6h-0.6zM160.4 72.9h0.6v0.6h-0.6zM158.1 82.1h0.6v0.6h-0.6zM152.3 77.3h0.6v0.6h-0.6zM148.0 79.1h0.6v0.6h-0.6zM153.6 74.1h0.6v0.6h-0.6zM154.9 67.9h0.6v0.6h-0.6zM146.4 83.3h0.6v0.6h-0.6zM149.8 81.9h0.6v0.6h-0.6zM140.2 84.8h0.6v0.6h-0.6zM144.5 85.0h0.6v0.6h-0.6zM140.7 85.9h0.6v0.6h-0.6zM155.8 69.3h0.6v0.6h-0.6zM154.1 78.1h0.6v0.6h-0.6zM155.6 80.5h0.6v0.6h-0.6zM146.6 81.1h0.6v0.6h-0.6zM153.0 76.4h0.6v0.6h-0.6zM146.5 83.7h0.6v0.6h-0.6zM142.0 83.8h0.6v0.6h-0.6zM143.2 81.6h0.6v0.6h-0.6zM152.0 76.7h0.6v0.6h-0.6zM145.9 91.4h0.6v0.6h-0.6zM151.1 78.8h0.6v0.6h-0.6zM162.8 76.4h0.6v0.6h-0.6zM145.3 83.5h0.6v0.6h-0.6zM153.0 73.7h0.6v0.6h-0.6zM148.0 86.7h0.6v0.6h-0.6zM163.3 68.6h0.6v0.6h-0.6zM160.0 72.8h0.6v0.6h-0.6zM149.1 75.7h0.6v0.6h-0.6zM146.5 73.8h0.6v0.6h-0.6zM173.3 75.2h0.6v0.6h-0.6zM159.2 62.8h0.6v0.6h-0.6zM164.2 66.0h0.6v0.6h-0.6zM176.8 73.8h0.6v0.6h-0.6zM158.7 69.8h0.6v0.6h-0.6zM167.0 67.6h0.6v0.6h-0.6zM171.5 65.2h0.6v0.6h-0.6zM172.8 73.1h0.6v0.6h-0.6zM160.1 65.4h0.6v0.6h-0.6zM172.9 67.0h0.6v0.6h-0.6zM161.8 64.3h0.6v0.6h-0.6zM175.4 70.8h0.6v0.6h-0.6zM173.7 71.5h0.6v0.6h-0.6zM168.8 69.9h0.6v0.6h-0.6zM169.4 71.8h0.6v0.6h-0.6zM176.0 69.9h0.6v0.6h-0.6zM176.1 72.3h0.6v0.6h-0.6zM171.1 69.2h0.6v0.6h-0.6zM166.5 62.0h0.6v0.6h-0.6zM163.4 60.2h0.6v0.6h-0.6zM164.5 61.9h0.6v0.6h-0.6zM177.5 72.4h0.6v0.6h-0.6zM160.4 70.5h0.6v0.6h-0.6zM171.0 65.1h0.6v0.6h-0.6zM176.4 70.5h0.6v0.6h-0.6zM166.6 72.6h0.6v0.6h-0.6zM162.2 70.4h0.6v0.6h-0.6zM167.3 67.8h0.6v0.6h-0.6zM165.0 67.8h0.6v0.6h-0.6zM161.0 67.1h0.6v0.6h-0.6zM165.0 67.6h0.6v0.6h-0.6zM171.0 66.1h0.6v0.6h-0.6zM161.6 68.2h0.6v0.6h-0.6zM172.7 66.6h0.6v0.6h-0.6zM161.0 67.7h0.6v0.6h-0.6zM157.4 71.3h0.6v0.6h-0.6zM157.5 72.4h0.6v0.6h-0.6zM164.6 64.2h0.6v0.6h-0.6zM175.4 74.2h0.6v0.6h-0.6zM166.8 70.4h0.6v0.6h-0.6zM178.4 62.2h0.6v0.6h-0.6zM169.8 70.8h0.6v0.6h-0.6zM170.4 70.7h0.6v0.6h-0.6zM176.6 69.7h0.6v0.6h-0.6zM167.8 59.6h0.6v0.6h-0.6zM175.0 68.3h0.6v0.6h-0.6zM160.0 74.6h0.6v0.6h-0.6zM161.2 65.6h0.6v0.6h-0.6zM162.1 64.3h0.6v0.6h-0.6zM161.6 65.7h0.6v0.6h-0.6zM175.5 68.4h0.6v0.6h-0.6zM176.5 67.8h0.6v0.6h-0.6zM174.2 63.1h0.6v0.6h-0.6zM176.5 68.2h0.6v0.6h-0.6zM168.2 66.2h0.6v0.6h-0.6zM170.0 68.8h0.6v0.6h-0.6zM166.3 68.5h0.6v0.6h-0.6zM173.1 70.6h0.6v0.6h-0.6zM174.4 76.8h0.6v0.6h-0.6zM158.4 69.0h0.6v0.6h-0.6zM161.7 66.4h0.6v0.6h-0.6zM159.2 70.7h0.6v0.6h-0.6zM169.4 64.3h0.6v0.6h-0.6zM167.9 66.6h0.6v0.6h-0.6zM172.5 71.2h0.6v0.6h-0.6zM160.4 66.0h0.6v0.6h-0.6zM169.8 67.2h0.6v0.6h-0.6zM169.5 69.8h0.6v0.6h-0.6zM164.2 72.0h0.6v0.6h-0.6zM163.7 64.4h0.6v0.6h-0.6zM174.5 71.0h0.6v0.6h-0.6zM171.0 63.8h0.6v0.6h-0.6zM159.6 68.5h0.6v0.6h-0.6zM162.8 65.3h0.6v0.6h-0.6zM169.8 66.7h0.6v0.6h-0.6zM163.7 68.5h0.6v0.6h-0.6zM168.6 67.9h0.6v0.6h-0.6zM177.1 68.8h0.6v0.6h-0.6zM164.5 70.3h0.6v0.6h-0.6zM169.5 63.9h0.6v0.6h-0.6zM171.8 71.3h0.6v0.6h-0.6zM172.0 70.0h0.6v0.6h-0.6zM166.9 69.8h0.6v0.6h-0.6zM164.7 63.1h0.6v0.6h-0.6zM159.9 69.2h0.6v0.6h-0.6zM173.0 72.1h0.6v0.6h-0.6zM160.3 65.1h0.6v0.6h-0.6zM172.2 69.0h0.6v0.6h-0.6zM159.5 64.1h0.6v0.6h-0.6zM168.8 65.6h0.6v0.6h-0.6zM159.3 65.7h0.6v0.6h-0.6zM164.8 67.7h0.6v0.6h-0.6zM168.5 67.1h0.6v0.6h-0.6zM158.6 67.4h0.6v0.6h-0.6zM166.2 68.2h0.6v0.6h-0.6zM163.6 70.8h0.6v0.6h-0.6zM164.5 66.3h0.6v0.6h-0.6zM173.4 67.1h0.6v0.6h-0.6zM160.4 68.5h0.6v0.6h-0.6zM165.3 71.6h0.6v0.6h-0.6zM175.6 61.8h0.6v0.6h-0.6zM173.8 69.0h0.6v0.6h-0.6zM168.2 68.7h0.6v0.6h-0.6zM160.6 64.7h0.6v0.6h-0.6zM159.9 66.8h0.6v0.6h-0.6zM169.2 69.7h0.6v0.6h-0.6zM174.6 70.8h0.6v0.6h-0.6zM173.1 65.4h0.6v0.6h-0.6zM162.9 67.3h0.6v0.6h-0.6zM171.0 75.7h0.6v0.6h-0.6zM177.2 65.4h0.6v0.6h-0.6zM174.8 66.5h0.6v0.6h-0.6zM177.4 72.8h0.6v0.6h-0.6zM176.2 61.4h0.6v0.6h-0.6zM168.5 68.4h0.6v0.6h-0.6zM165.4 68.6h0.6v0.6h-0.6zM159.3 67.1h0.6v0.6h-0.6zM174.0 68.3h0.6v0.6h-0.6zM165.2 63.3h0.6v0.6h-0.6zM176.2 72.5h0.6v0.6h-0.6zM173.4 67.8h0.6v0.6h-0.6zM161.4 70.9h0.6v0.6h-0.6zM159.7 68.6h0.6v0.6h-0.6zM173.4 66.6h0.6v0.6h-0.6zM177.6 68.0h0.6v0.6h-0.6zM175.8 69.1h0.6v0.6h-0.6zM166.9 69.7h0.6v0.6h-0.6zM171.3 69.0h0.6v0.6h-0.6zM176.5 68.5h0.6v0.6h-0.6zM171.3 68.3h0.6v0.6h-0.6zM164.5 65.9h0.6v0.6h-0.6zM157.9 70.2h0.6v0.6h-0.6zM175.8 68.7h0.6v0.6h-0.6zM162.0 66.1h0.6v0.6h-0.6zM173.1 72.1h0.6v0.6h-0.6zM173.5 63.8h0.6v0.6h-0.6zM173.5 70.9h0.6v0.6h-0.6zM177.0 68.1h0.6v0.6h-0.6zM174.9 76.7h0.6v0.6h-0.6zM169.1 69.8h0.6v0.6h-0.6zM176.2 66.9h0.6v0.6h-0.6zM170.3 70.1h0.6v0.6h-0.6zM176.8 67.1h0.6v0.6h-0.6zM167.2 67.2h0.6v0.6h-0.6zM159.2 66.3h0.6v0.6h-0.6zM173.1 65.6h0.6v0.6h-0.6zM178.6 65.9h0.6v0.6h-0.6zM170.1 69.0h0.6v0.6h-0.6zM167.3 69.9h0.6v0.6h-0.6zM171.3 68.1h0.6v0.6h-0.6zM169.4 66.6h0.6v0.6h-0.6zM172.8 66.9h0.6v0.6h-0.6zM164.2 69.3h0.6v0.6h-0.6zM162.8 63.0h0.6v0.6h-0.6zM161.8 69.3h0.6v0.6h-0.6zM162.3 69.8h0.6v0.6h-0.6zM163.4 69.4h0.6v0.6h-0.6zM169.3 70.0h0.6v0.6h-0.6zM161.3 66.9h0.6v0.6h-0.6zM170.7 69.5h0.6v0.6h-0.6zM170.0 71.1h0.6v0.6h-0.6zM170.5 67.5h0.6v0.6h-0.6zM167.4 66.2h0.6v0.6h-0.6zM168.4 66.5h0.6v0.6h-0.6zM175.0 64.4h0.6v0.6h-0.6zM176.0 70.4h0.6v0.6h-0.6zM178.6 66.8h0.6v0.6h-0.6zM176.2 72.2h0.6v0.6h-0.6zM163.4 65.8h0.6v0.6h-0.6zM166.5 69.2h0.6v0.6h-0.6zM158.7 71.7h0.6v0.6h-0.6zM170.1 69.1h0.6v0.6h-0.6zM175.2 67.0h0.6v0.6h-0.6zM176.4 61.8h0.6v0.6h-0.6zM172.1 70.1h0.6v0.6h-0.6zM171.6 71.4h0.6v0.6h-0.6zM179.0 64.3h0.6v0.6h-0.6zM170.4 68.5h0.6v0.6h-0.6zM164.0 66.1h0.6v0.6h-0.6zM175.9 69.7h0.6v0.6h-0.6zM173.4 66.2h0.6v0.6h-0.6zM171.7 64.3h0.6v0.6h-0.6zM163.4 65.2h0.6v0.6h-0.6zM167.5 63.0h0.6v0.6h-0.6zM170.2 71.4h0.6v0.6h-0.6zM168.1 64.0h0.6v0.6h-0.6zM167.3 64.3h0.6v0.6h-0.6zM156.9 72.4h0.6v0.6h-0.6zM172.6 66.5h0.6v0.6h-0.6zM177.6 63.6h0.6v0.6h-0.6zM175.9 65.7h0.6v0.6h-0.6zM161.4 58.8h0.6v0.6h-0.6zM170.6 66.8h0.6v0.6h-0.6zM176.5 71.9h0.6v0.6h-0.6zM176.4 66.6h0.6v0.6h-0.6zM170.4 68.9h0.6v0.6h-0.6zM159.1 67.4h0.6v0.6h-0.6zM174.1 71.4h0.6v0.6h-0.6zM173.0 69.5h0.6v0.6h-0.6zM173.8 72.5h0.6v0.6h-0.6zM170.9 63.8h0.6v0.6h-0.6zM176.6 69.6h0.6v0.6h-0.6zM163.4 68.2h0.6v0.6h-0.6zM173.5 61.9h0.6v0.6h-0.6zM170.3 71.1h0.6v0.6h-0.6zM172.8 71.7h0.6v0.6h-0.6zM161.2 65.8h0.6v0.6h-0.6zM161.5 69.7h0.6v0.6h-0.6zM170.5 75.0h0.6v0.6h-0.6zM169.0 72.6h0.6v0.6h-0.6zM177.7 70.1h0.6v0.6h-0.6zM163.9 66.6h0.6v0.6h-0.6zM167.6 68.8h0.6v0.6h-0.6zM171.9 64.0h0.6v0.6h-0.6zM159.0 64.6h0.6v0.6h-0.6zM168.6 67.5h0.6v0.6h-0.6zM172.4 66.4h0.6v0.6h-0.6zM167.8 69.4h0.6v0.6h-0.6zM174.4 64.9h0.6v0.6h-0.6zM177.5 71.1h0.6v0.6h-0.6zM146.8 78.9h0.6v0.6h-0.6zM155.8 67.0h0.6v0.6h-0.6zM159.3 79.1h0.6v0.6h-0.6zM154.1 75.7h0.6v0.6h-0.6zM161.4 61.4h0.6v0.6h-0.6zM162.5 68.8h0.6v0.6h-0.6zM164.2 79.0h0.6v0.6h-0.6zM151.1 70.3h0.6v0.6h-0.6zM159.1 68.3h0.6v0.6h-0.6zM166.1 62.2h0.6v0.6h-0.6zM163.2 67.8h0.6v0.6h-0.6zM160.3 67.3h0.6v0.6h-0.6zM147.4 70.7h0.6v0.6h-0.6zM161.7 77.3h0.6v0.6h-0.6zM168.1 68.6h0.6v0.6h-0.6zM164.1 87.9h0.6v0.6h-0.6zM155.3 84.1h0.6v0.6h-0.6zM138.6 79.0h0.6v0.6h-0.6zM158.4 74.2h0.6v0.6h-0.6zM143.4 75.6h0.6v0.6h-0.6zM157.4 71.5h0.6v0.6h-0.6zM152.7 59.4h0.6v0.6h-0.6zM146.2 71.1h0.6v0.6h-0.6zM158.0 74.7h0.6v0.6h-0.6zM152.0 66.2h0.6v0.6h-0.6zM173.4 77.8h0.6v0.6h-0.6zM171.5 77.6h0.6v0.6h-0.6zM157.2 77.0h0.6v0.6h-0.6zM146.8 80.1h0.6v0.6h-0.6zM169.2 68.1h0.6v0.6h-0.6zM177.8 82.7h0.6v0.6h-0.6zM162.3 72.9h0.6v0.6h-0.6zM172.1 62.8h0.6v0.6h-0.6zM166.0 73.9h0.6v0.6h-0.6zM146.9 60.8h0.6v0.6h-0.6zM157.4 78.0h0.6v0.6h-0.6zM169.8 79.1h0.6v0.6h-0.6zM155.6 76.4h0.6v0.6h-0.6zM152.3 59.3h0.6v0.6h-0.6zM160.0 88.0h0.6v0.6h-0.6zM198.1 69.2h0.6v0.6h-0.6zM153.0 70.5h0.6v0.6h-0.6zM158.4 65.3h0.6v0.6h-0.6zM169.2 65.6h0.6v0.6h-0.6zM162.1 67.3h0.6v0.6h-0.6zM155.7 76.8h0.6v0.6h-0.6zM168.0 69.8h0.6v0.6h-0.6zM141.3 68.0h0.6v0.6h-0.6zM157.6 74.6h0.6v0.6h-0.6zM164.1 77.1h0.6v0.6h-0.6zM159.7 69.9h0.6v0.6h-0.6zM162.5 63.6h0.6v0.6h-0.6zM163.2 69.7h0.6v0.6h-0.6zM169.3 85.5h0.6v0.6h-0.6zM157.1 82.5h0.6v0.6h-0.6zM154.7 76.3h0.6v0.6h-0.6zM150.4 70.9h0.6v0.6h-0.6zM165.8 86.7h0.6v0.6h-0.6zM167.6 67.3h0.6v0.6h-0.6zM172.0 74.3h0.6v0.6h-0.6zM164.3 70.0h0.6v0.6h-0.6zM188.3 81.1h0.6v0.6h-0.6zM154.3 72.5h0.6v0.6h-0.6zM165.6 78.8h0.6v0.6h-0.6zM155.3 68.2h0.6v0.6h-0.6zM155.8 69.2h0.6v0.6h-0.6zM150.3 71.4h0.6v0.6h-0.6zM162.3 72.3h0.6v0.6h-0.6zM152.0 73.4h0.6v0.6h-0.6zM175.3 64.7h0.6v0.6h-0.6zM144.9 59.5h0.6v0.6h-0.6zM151.0 72.0h0.6v0.6h-0.6zM159.2 76.1h0.6v0.6h-0.6zM178.1 77.5h0.6v0.6h-0.6zM158.7 72.8h0.6v0.6h-0.6zM158.6 74.8h0.6v0.6h-0.6zM156.7 71.5h0.6v0.6h-0.6zM142.9 75.6h0.6v0.6h-0.6zM155.2 59.9h0.6v0.6h-0.6zM157.7 78.1h0.6v0.6h-0.6zM168.0 71.3h0.6v0.6h-0.6zM169.0 66.1h0.6v0.6h-0.6zM153.3 68.8h0.6v0.6h-0.6zM150.3 74.9h0.6v0.6h-0.6zM150.4 71.9h0.6v0.6h-0.6zM153.1 66.3h0.6v0.6h-0.6zM149.8 67.3h0.6v0.6h-0.6zM156.2 77.8h0.6v0.6h-0.6zM170.6 70.0h0.6v0.6h-0.6zM151.2 70.7h0.6v0.6h-0.6zM154.0 74.0h0.6v0.6h-0.6zM143.6 79.5h0.6v0.6h-0.6zM151.4 82.8h0.6v0.6h-0.6zM145.7 76.1h0.6v0.6h-0.6zM164.5 72.7h0.6v0.6h-0.6zM159.2 78.7h0.6v0.6h-0.6zM158.8 70.2h0.6v0.6h-0.6zM152.6 75.3h0.6v0.6h-0.6zM137.6 76.2h0.6v0.6h-0.6zM150.7 69.8h0.6v0.6h-0.6zM159.1 85.5h0.6v0.6h-0.6zM160.5 71.4h0.6v0.6h-0.6zM158.2 71.9h0.6v0.6h-0.6zM159.0 74.8h0.6v0.6h-0.6zM168.1 59.3h0.6v0.6h-0.6zM166.0 71.6h0.6v0.6h-0.6zM168.4 74.9h0.6v0.6h-0.6zM136.7 64.0h0.6v0.6h-0.6zM189.0 70.4h0.6v0.6h-0.6zM157.9 67.8h0.6v0.6h-0.6zM147.4 66.1h0.6v0.6h-0.6zM164.3 78.6h0.6v0.6h-0.6zM159.6 72.5h0.6v0.6h-0.6zM164.1 66.1h0.6v0.6h-0.6zM151.6 74.5h0.6v0.6h-0.6zM165.5 74.8h0.6v0.6h-0.6zM169.5 76.0h0.6v0.6h-0.6zM158.1 65.3h0.6v0.6h-0.6zM152.8 61.6h0.6v0.6h-0.6zM148.8 100.7h0.6v0.6h-0.6zM145.5 112.8h0.6v0.6h-0.6zM150.1 115.2h0.6v0.6h-0.6zM157.1 95.7h0.6v0.6h-0.6zM147.7 107.2h0.6v0.6h-0.6zM153.7 89.9h0.6v0.6h-0.6zM145.9 100.7h0.6v0.6h-0.6zM142.4 113.5h0.6v0.6h-0.6zM150.6 97.9h0.6v0.6h-0.6zM145.1 99.4h0.6v0.6h-0.6zM149.7 103.3h0.6v0.6h-0.6zM149.1 101.4h0.6v0.6h-0.6zM163.9 103.2h0.6v0.6h-0.6zM145.5 118.4h0.6v0.6h-0.6zM152.7 110.9h0.6v0.6h-0.6zM153.2 97.9h0.6v0.6h-0.6zM150.4 104.9h0.6v0.6h-0.6zM145.4 93.3h0.6v0.6h-0.6zM140.9 102.7h0.6v0.6h-0.6zM152.7 106.6h0.6v0.6h-0.6zM139.7 111.4h0.6v0.6h-0.6zM156.5 105.2h0.6v0.6h-0.6zM144.5 97.2h0.6v0.6h-0.6zM141.8 114.6h0.6v0.6h-0.6zM160.1 93.0h0.6v0.6h-0.6zM149.2 108.2h0.6v0.6h-0.6zM153.8 114.4h0.6v0.6h-0.6zM164.3 91.8h0.6v0.6h-0.6zM143.7 107.2h0.6v0.6h-0.6zM145.9 96.5h0.6v0.6h-0.6zM159.0 104.2h0.6v0.6h-0.6zM138.8 113.4h0.6v0.6h-0.6zM152.2 105.5h0.6v0.6h-0.6zM147.8 91.5h0.6v0.6h-0.6zM152.8 105.9h0.6v0.6h-0.6zM143.1 97.6h0.6v0.6h-0.6zM153.7 101.0h0.6v0.6h-0.6zM149.1 109.9h0.6v0.6h-0.6zM153.9 114.4h0.6v0.6h-0.6zM167.1 101.8h0.6v0.6h-0.6zM157.9 102.6h0.6v0.6h-0.6zM149.8 94.5h0.6v0.6h-0.6zM151.7 92.7h0.6v0.6h-0.6zM153.1 103.1h0.6v0.6h-0.6zM153.7 99.8h0.6v0.6h-0.6zM150.7 98.4h0.6v0.6h-0.6zM148.7 103.6h0.6v0.6h-0.6zM160.1 99.2h0.6v0.6h-0.6zM144.7 118.0h0.6v0.6h-0.6zM142.0 104.4h0.6v0.6h-0.6zM144.7 104.5h0.6v0.6h-0.6zM156.6 107.5h0.6v0.6h-0.6zM143.6 94.0h0.6v0.6h-0.6zM168.0 103.5h0.6v0.6h-0.6zM155.4 103.7h0.6v0.6h-0.6zM148.2 94.9h0.6v0.6h-0.6zM135.3 108.6h0.6v0.6h-0.6zM152.2 95.6h0.6v0.6h-0.6zM154.3 101.7h0.6v0.6h-0.6zM146.2 106.1h0.6v0.6h-0.6zM143.0 98.8h0.6v0.6h-0.6zM147.1 104.6h0.6v0.6h-0.6zM153.5 109.5h0.6v0.6h-0.6zM153.1 88.0h0.6v0.6h-0.6zM135.1 109.5h0.6v0.6h-0.6zM153.0 103.0h0.6v0.6h-0.6zM142.6 101.7h0.6v0.6h-0.6zM154.5 99.5h0.6v0.6h-0.6zM155.1 115.1h0.6v0.6h-0.6zM157.5 109.9h0.6v0.6h-0.6zM163.6 107.7h0.6v0.6h-0.6zM157.3 111.7h0.6v0.6h-0.6zM145.1 108.8h0.6v0.6h-0.6zM139.3 99.0h0.6v0.6h-0.6zM151.1 102.1h0.6v0.6h-0.6zM148.9 92.2h0.6v0.6h-0.6zM141.1 101.3h0.6v0.6h-0.6zM142.4 114.4h0.6v0.6h-0.6zM144.3 103.8h0.6v0.6h-0.6zM152.7 104.4h0.6v0.6h-0.6zM144.3 107.0h0.6v0.6h-0.6zM150.6 106.9h0.6v0.6h-0.6zM148.6 105.3h0.6v0.6h-0.6zM164.5 114.0h0.6v0.6h-0.6zM158.7 103.0h0.6v0.6h-0.6zM162.0 112.3h0.6v0.6h-0.6zM146.0 106.0h0.6v0.6h-0.6zM155.4 110.4h0.6v0.6h-0.6zM134.7 111.4h0.6v0.6h-0.6zM153.8 101.3h0.6v0.6h-0.6zM164.6 103.5h0.6v0.6h-0.6zM141.8 98.0h0.6v0.6h-0.6zM151.7 102.9h0.6v0.6h-0.6zM158.2 111.1h0.6v0.6h-0.6zM163.8 106.2h0.6v0.6h-0.6zM157.0 105.9h0.6v0.6h-0.6zM155.4 109.7h0.6v0.6h-0.6zM158.8 101.2h0.6v0.6h-0.6zM155.3 106.0h0.6v0.6h-0.6zM158.2 110.4h0.6v0.6h-0.6zM151.2 104.8h0.6v0.6h-0.6zM146.1 106.6h0.6v0.6h-0.6zM137.0 119.0h0.6v0.6h-0.6zM154.8 99.4h0.6v0.6h-0.6zM150.8 112.3h0.6v0.6h-0.6zM156.6 110.3h0.6v0.6h-0.6zM144.4 117.7h0.6v0.6h-0.6zM155.0 96.1h0.6v0.6h-0.6zM150.8 103.0h0.6v0.6h-0.6zM154.9 103.8h0.6v0.6h-0.6zM147.2 99.2h0.6v0.6h-0.6zM148.5 102.1h0.6v0.6h-0.6zM149.3 98.4h0.6v0.6h-0.6zM161.5 113.9h0.6v0.6h-0.6zM159.6 110.1h0.6v0.6h-0.6zM141.0 94.3h0.6v0.6h-0.6zM156.7 78.2h0.6v0.6h-0.6zM147.8 116.1h0.6v0.6h-0.6zM138.9 111.7h0.6v0.6h-0.6zM139.6 116.6h0.6v0.6h-0.6zM143.1 104.5h0.6v0.6h-0.6zM151.1 99.9h0.6v0.6h-0.6zM152.1 103.8h0.6v0.6h-0.6zM152.1 113.5h0.6v0.6h-0.6zM144.8 103.2h0.6v0.6h-0.6zM152.6 102.0h0.6v0.6h-0.6zM160.0 105.2h0.6v0.6h-0.6zM155.7 101.3h0.6v0.6h-0.6zM158.2 98.9h0.6v0.6h-0.6zM139.8 105.1h0.6v0.6h-0.6zM146.3 109.5h0.6v0.6h-0.6zM136.7 107.8h0.6v0.6h-0.6zM144.7 116.5h0.6v0.6h-0.6zM153.0 114.0h0.6v0.6h-0.6zM163.5 99.1h0.6v0.6h-0.6zM135.1 104.1h0.6v0.6h-0.6zM137.1 104.5h0.6v0.6h-0.6zM158.6 115.9h0.6v0.6h-0.6zM154.9 100.2h0.6v0.6h-0.6zM150.8 100.0h0.6v0.6h-0.6zM160.6 105.1h0.6v0.6h-0.6zM165.1 113.9h0.6v0.6h-0.6zM159.1 101.2h0.6v0.6h-0.6zM164.7 104.3h0.6v0.6h-0.6zM154.6 113.1h0.6v0.6h-0.6zM160.4 101.8h0.6v0.6h-0.6zM167.5 96.2h0.6v0.6h-0.6zM149.0 100.7h0.6v0.6h-0.6zM159.5 91.8h0.6v0.6h-0.6zM157.4 89.5h0.6v0.6h-0.6zM157.2 95.7h0.6v0.6h-0.6zM154.3 118.8h0.6v0.6h-0.6zM142.1 103.7h0.6v0.6h-0.6zM145.9 100.3h0.6v0.6h-0.6zM139.6 118.7h0.6v0.6h-0.6zM160.4 113.4h0.6v0.6h-0.6zM145.9 103.2h0.6v0.6h-0.6zM147.6 119.4h0.6v0.6h-0.6zM158.7 112.0h0.6v0.6h-0.6zM162.9 107.4h0.6v0.6h-0.6zM150.1 108.1h0.6v0.6h-0.6zM140.9 96.9h0.6v0.6h-0.6zM141.5 105.6h0.6v0.6h-0.6zM145.0 100.9h0.6v0.6h-0.6zM151.7 107.3h0.6v0.6h-0.6zM152.9 109.9h0.6v0.6h-0.6zM152.5 111.5h0.6v0.6h-0.6zM149.9 114.0h0.6v0.6h-0.6zM160.1 105.6h0.6v0.6h-0.6zM153.4 103.8h0.6v0.6h-0.6zM147.0 102.0h0.6v0.6h-0.6zM144.3 95.1h0.6v0.6h-0.6zM148.3 110.8h0.6v0.6h-0.6zM146.9 92.6h0.6v0.6h-0.6zM137.6 101.1h0.6v0.6h-0.6zM150.0 111.1h0.6v0.6h-0.6zM158.3 107.5h0.6v0.6h-0.6zM149.8 91.3h0.6v0.6h-0.6zM155.2 96.6h0.6v0.6h-0.6zM156.9 104.8h0.6v0.6h-0.6zM158.4 118.5h0.6v0.6h-0.6zM151.9 110.2h0.6v0.6h-0.6zM161.9 106.3h0.6v0.6h-0.6zM171.4 95.4h0.6v0.6h-0.6zM151.8 92.9h0.6v0.6h-0.6zM172.0 115.2h0.6v0.6h-0.6zM165.0 109.5h0.6v0.6h-0.6zM153.5 103.1h0.6v0.6h-0.6zM135.6 110.2h0.6v0.6h-0.6zM161.0 101.1h0.6v0.6h-0.6zM145.7 115.8h0.6v0.6h-0.6zM146.4 108.9h0.6v0.6h-0.6zM155.9 105.1h0.6v0.6h-0.6zM160.5 98.6h0.6v0.6h-0.6zM158.0 108.3h0.6v0.6h-0.6zM137.4 112.8h0.6v0.6h-0.6zM155.5 106.3h0.6v0.6h-0.6zM145.9 110.8h0.6v0.6h-0.6zM154.5 94.4h0.6v0.6h-0.6zM138.9 104.7h0.6v0.6h-0.6zM149.9 97.2h0.6v0.6h-0.6zM151.5 89.1h0.6v0.6h-0.6zM155.8 94.9h0.6v0.6h-0.6zM138.7 107.3h0.6v0.6h-0.6zM170.0 118.0h0.6v0.6h-0.6zM153.1 102.4h0.6v0.6h-0.6zM144.6 114.7h0.6v0.6h-0.6zM155.9 108.7h0.6v0.6h-0.6zM158.6 116.2h0.6v0.6h-0.6zM151.6 103.9h0.6v0.6h-0.6zM149.8 112.5h0.6v0.6h-0.6zM146.2 91.9h0.6v0.6h-0.6zM144.7 120.0h0.6v0.6h-0.6zM160.7 105.9h0.6v0.6h-0.6zM135.9 99.7h0.6v0.6h-0.6zM145.9 111.5h0.6v0.6h-0.6zM143.2 96.5h0.6v0.6h-0.6zM139.4 96.9h0.6v0.6h-0.6zM158.0 109.3h0.6v0.6h-0.6zM156.4 106.3h0.6v0.6h-0.6zM148.5 107.4h0.6v0.6h-0.6zM146.3 96.0h0.6v0.6h-0.6zM151.9 108.0h0.6v0.6h-0.6zM146.0 114.2h0.6v0.6h-0.6zM162.2 102.4h0.6v0.6h-0.6zM146.4 102.3h0.6v0.6h-0.6zM148.6 99.4h0.6v0.6h-0.6zM156.1 103.4h0.6v0.6h-0.6zM161.5 105.8h0.6v0.6h-0.6zM141.5 93.6h0.6v0.6h-0.6zM147.0 102.3h0.6v0.6h-0.6zM150.8 113.0h0.6v0.6h-0.6zM158.7 114.6h0.6v0.6h-0.6zM158.0 92.3h0.6v0.6h-0.6zM167.6 100.9h0.6v0.6h-0.6zM162.8 105.4h0.6v0.6h-0.6zM137.9 105.6h0.6v0.6h-0.6zM132.3 94.7h0.6v0.6h-0.6zM149.5 94.6h0.6v0.6h-0.6zM146.9 113.2h0.6v0.6h-0.6zM149.7 100.4h0.6v0.6h-0.6zM149.8 111.6h0.6v0.6h-0.6zM139.4 119.9h0.6v0.6h-0.6zM160.5 102.4h0.6v0.6h-0.6zM153.9 100.5h0.6v0.6h-0.6zM155.1 101.8h0.6v0.6h-0.6zM149.8 105.7h0.6v0.6h-0.6zM144.1 97.5h0.6v0.6h-0.6zM163.7 97.6h0.6v0.6h-0.6zM141.4 111.6h0.6v0.6h-0.6zM143.5 94.8h0.6v0.6h-0.6zM132.2 101.0h0.6v0.6h-0.6zM141.3 105.5h0.6v0.6h-0.6zM165.3 105.1h0.6v0.6h-0.6zM161.9 114.2h0.6v0.6h-0.6zM154.2 105.8h0.6v0.6h-0.6zM162.3 94.6h0.6v0.6h-0.6zM148.4 111.3h0.6v0.6h-0.6zM164.8 110.5h0.6v0.6h-0.6zM161.9 97.7h0.6v0.6h-0.6zM145.9 115.3h0.6v0.6h-0.6zM134.3 107.6h0.6v0.6h-0.6zM146.3 103.5h0.6v0.6h-0.6zM149.7 107.7h0.6v0.6h-0.6zM155.5 106.7h0.6v0.6h-0.6zM153.1 92.9h0.6v0.6h-0.6zM139.0 113.3h0.6v0.6h-0.6zM156.1 98.6h0.6v0.6h-0.6zM149.3 106.5h0.6v0.6h-0.6zM164.0 108.0h0.6v0.6h-0.6zM158.0 105.8h0.6v0.6h-0.6zM148.4 119.2h0.6v0.6h-0.6zM149.7 97.8h0.6v0.6h-0.6zM152.6 105.2h0.6v0.6h-0.6zM146.6 101.2h0.6v0.6h-0.6zM153.0 103.7h0.6v0.6h-0.6zM153.4 101.7h0.6v0.6h-0.6zM151.9 105.2h0.6v0.6h-0.6zM157.9 102.5h0.6v0.6h-0.6zM146.9 109.6h0.6v0.6h-0.6zM152.3 112.1h0.6v0.6h-0.6zM133.9 111.6h0.6v0.6h-0.6zM152.4 105.5h0.6v0.6h-0.6zM165.9 113.2h0.6v0.6h-0.6zM156.8 110.0h0.6v0.6h-0.6zM159.9 117.1h0.6v0.6h-0.6zM148.5 104.9h0.6v0.6h-0.6zM153.8 91.7h0.6v0.6h-0.6zM140.5 104.8h0.6v0.6h-0.6zM147.7 107.1h0.6v0.6h-0.6zM141.7 103.1h0.6v0.6h-0.6zM150.5 108.9h0.6v0.6h-0.6zM150.8 102.3h0.6v0.6h-0.6zM157.8 95.7h0.6v0.6h-0.6zM132.5 96.3h0.6v0.6h-0.6zM143.3 109.1h0.6v0.6h-0.6zM132.1 79.6h0.6v0.6h-0.6zM145.3 104.8h0.6v0.6h-0.6zM163.7 104.3h0.6v0.6h-0.6zM148.6 104.8h0.6v0.6h-0.6zM150.7 93.7h0.6v0.6h-0.6zM159.6 97.8h0.6v0.6h-0.6zM153.7 106.6h0.6v0.6h-0.6zM143.9 100.1h0.6v0.6h-0.6zM158.5 106.3h0.6v0.6h-0.6zM149.0 94.2h0.6v0.6h-0.6zM145.5 111.7h0.6v0.6h-0.6zM149.9 103.1h0.6v0.6h-0.6zM155.2 95.3h0.6v0.6h-0.6zM156.6 118.7h0.6v0.6h-0.6zM157.6 108.7h0.6v0.6h-0.6zM142.1 105.3h0.6v0.6h-0.6zM158.8 106.5h0.6v0.6h-0.6zM148.4 114.7h0.6v0.6h-0.6zM147.0 100.5h0.6v0.6h-0.6zM141.7 100.9h0.6v0.6h-0.6zM162.0 111.2h0.6v0.6h-0.6zM148.8 98.9h0.6v0.6h-0.6zM157.3 94.2h0.6v0.6h-0.6zM148.0 113.1h0.6v0.6h-0.6zM140.7 111.5h0.6v0.6h-0.6zM148.4 90.8h0.6v0.6h-0.6zM159.8 108.1h0.6v0.6h-0.6zM145.3 102.2h0.6v0.6h-0.6zM143.5 116.0h0.6v0.6h-0.6zM149.8 103.9h0.6v0.6h-0.6zM145.4 112.8h0.6v0.6h-0.6zM152.3 101.6h0.6v0.6h-0.6zM149.3 111.7h0.6v0.6h-0.6zM158.9 111.6h0.6v0.6h-0.6zM161.0 103.7h0.6v0.6h-0.6zM165.1 110.0h0.6v0.6h-0.6zM146.9 108.5h0.6v0.6h-0.6zM145.6 117.6h0.6v0.6h-0.6zM153.0 104.1h0.6v0.6h-0.6zM161.8 112.3h0.6v0.6h-0.6zM156.2 107.4h0.6v0.6h-0.6zM162.3 108.2h0.6v0.6h-0.6zM146.1 106.1h0.6v0.6h-0.6zM155.2 98.7h0.6v0.6h-0.6zM161.9 113.1h0.6v0.6h-0.6zM146.7 92.5h0.6v0.6h-0.6zM150.6 104.6h0.6v0.6h-0.6zM145.9 110.5h0.6v0.6h-0.6zM150.5 113.5h0.6v0.6h-0.6zM139.1 103.9h0.6v0.6h-0.6zM166.7 93.5h0.6v0.6h-0.6zM163.0 103.1h0.6v0.6h-0.6zM169.3 95.0h0.6v0.6h-0.6zM159.9 110.0h0.6v0.6h-0.6zM149.4 111.0h0.6v0.6h-0.6zM143.4 114.0h0.6v0.6h-0.6zM160.7 89.9h0.6v0.6h-0.6zM156.0 107.9h0.6v0.6h-0.6zM161.9 107.8h0.6v0.6h-0.6zM146.5 111.0h0.6v0.6h-0.6zM160.6 113.4h0.6v0.6h-0.6zM140.7 101.2h0.6v0.6h-0.6zM151.0 106.4h0.6v0.6h-0.6zM153.5 89.5h0.6v0.6h-0.6zM158.3 90.4h0.6v0.6h-0.6zM143.5 99.9h0.6v0.6h-0.6zM142.3 110.5h0.6v0.6h-0.6zM141.3 104.0h0.6v0.6h-0.6zM149.1 111.9h0.6v0.6h-0.6zM135.6 102.4h0.6v0.6h-0.6zM153.1 107.9h0.6v0.6h-0.6zM158.5 104.1h0.6v0.6h-0.6zM132.5 117.6h0.6v0.6h-0.6zM153.1 109.8h0.6v0.6h-0.6zM144.6 106.7h0.6v0.6h-0.6zM151.2 96.2h0.6v0.6h-0.6zM137.3 119.4h0.6v0.6h-0.6zM154.5 101.9h0.6v0.6h-0.6zM146.1 100.7h0.6v0.6h-0.6zM150.4 106.7h0.6v0.6h-0.6zM146.0 107.0h0.6v0.6h-0.6zM136.6 111.4h0.6v0.6h-0.6zM134.9 104.4h0.6v0.6h-0.6zM155.5 100.8h0.6v0.6h-0.6zM146.0 108.5h0.6v0.6h-0.6zM154.3 110.7h0.6v0.6h-0.6zM149.5 111.0h0.6v0.6h-0.6zM168.0 105.4h0.6v0.6h-0.6zM156.2 112.0h0.6v0.6h-0.6zM148.8 103.0h0.6v0.6h-0.6zM148.5 110.8h0.6v0.6h-0.6zM145.7 107.6h0.6v0.6h-0.6zM148.7 90.3h0.6v0.6h-0.6zM165.0 100.8h0.6v0.6h-0.6zM159.9 107.0h0.6v0.6h-0.6zM155.3 95.5h0.6v0.6h-0.6zM148.8 100.9h0.6v0.6h-0.6zM147.6 95.1h0.6v0.6h-0.6zM146.5 115.7h0.6v0.6h-0.6zM146.7 102.2h0.6v0.6h-0.6zM146.8 115.1h0.6v0.6h-0.6zM149.9 95.2h0.6v0.6h-0.6zM145.4 98.0h0.6v0.6h-0.6zM163.3 109.1h0.6v0.6h-0.6zM154.5 106.7h0.6v0.6h-0.6zM165.0 90.5h0.6v0.6h-0.6zM146.0 78.4h0.6v0.6h-0.6zM165.2 99.0h0.6v0.6h-0.6zM157.2 105.7h0.6v0.6h-0.6zM162.2 111.6h0.6v0.6h-0.6zM165.8 108.1h0.6v0.6h-0.6zM151.6 96.5h0.6v0.6h-0.6zM165.7 104.4h0.6v0.6h-0.6zM156.7 108.0h0.6v0.6h-0.6zM162.8 96.8h0.6v0.6h-0.6zM167.5 94.4h0.6v0.6h-0.6zM152.5 108.7h0.6v0.6h-0.6zM159.7 103.5h0.6v0.6h-0.6zM153.1 102.1h0.6v0.6h-0.6zM137.4 99.1h0.6v0.6h-0.6zM163.4 102.6h0.6v0.6h-0.6zM142.8 114.4h0.6v0.6h-0.6zM137.2 113.6h0.6v0.6h-0.6zM165.1 109.9h0.6v0.6h-0.6zM162.2 96.6h0.6v0.6h-0.6zM153.6 115.8h0.6v0.6h-0.6zM155.6 106.8h0.6v0.6h-0.6zM162.2 101.6h0.6v0.6h-0.6zM149.7 104.0h0.6v0.6h-0.6zM154.6 100.9h0.6v0.6h-0.6zM149.8 106.5h0.6v0.6h-0.6zM148.9 101.2h0.6v0.6h-0.6zM132.4 93.4h0.6v0.6h-0.6zM150.8 105.1h0.6v0.6h-0.6zM158.4 100.0h0.6v0.6h-0.6zM152.6 102.8h0.6v0.6h-0.6zM150.5 94.6h0.6v0.6h-0.6zM148.2 86.7h0.6v0.6h-0.6zM147.7 91.3h0.6v0.6h-0.6zM161.9 107.9h0.6v0.6h-0.6zM154.7 103.9h0.6v0.6h-0.6zM158.2 107.8h0.6v0.6h-0.6zM152.7 107.6h0.6v0.6h-0.6zM150.2 105.6h0.6v0.6h-0.6zM154.5 90.4h0.6v0.6h-0.6zM161.2 110.1h0.6v0.6h-0.6zM155.5 105.6h0.6v0.6h-0.6zM158.0 100.1h0.6v0.6h-0.6zM150.0 98.1h0.6v0.6h-0.6zM167.6 91.6h0.6v0.6h-0.6zM142.1 102.4h0.6v0.6h-0.6zM158.3 99.5h0.6v0.6h-0.6zM165.0 111.0h0.6v0.6h-0.6zM157.1 119.1h0.6v0.6h-0.6zM146.1 114.7h0.6v0.6h-0.6zM153.5 104.4h0.6v0.6h-0.6zM153.8 114.9h0.6v0.6h-0.6zM163.6 97.1h0.6v0.6h-0.6zM153.1 108.1h0.6v0.6h-0.6zM150.4 98.4h0.6v0.6h-0.6zM148.0 113.5h0.6v0.6h-0.6zM170.2 93.4h0.6v0.6h-0.6zM153.6 117.7h0.6v0.6h-0.6zM158.4 112.5h0.6v0.6h-0.6zM155.9 111.9h0.6v0.6h-0.6zM150.5 117.4h0.6v0.6h-0.6zM144.4 105.0h0.6v0.6h-0.6zM152.0 110.5h0.6v0.6h-0.6zM161.1 96.0h0.6v0.6h-0.6zM146.6 95.8h0.6v0.6h-0.6zM140.3 95.3h0.6v0.6h-0.6zM139.9 109.2h0.6v0.6h-0.6zM150.0 104.6h0.6v0.6h-0.6zM154.8 96.3h0.6v0.6h-0.6zM157.7 105.2h0.6v0.6h-0.6zM154.2 119.9h0.6v0.6h-0.6zM141.6 99.3h0.6v0.6h-0.6zM157.4 92.0h0.6v0.6h-0.6zM147.8 98.7h0.6v0.6h-0.6zM144.0 95.0h0.6v0.6h-0.6zM154.8 114.3h0.6v0.6h-0.6zM156.8 106.8h0.6v0.6h-0.6zM152.5 106.9h0.6v0.6h-0.6zM148.6 104.3h0.6v0.6h-0.6zM139.8 94.5h0.6v0.6h-0.6zM165.2 115.9h0.6v0.6h-0.6zM151.6 114.9h0.6v0.6h-0.6zM143.1 101.8h0.6v0.6h-0.6zM153.4 107.3h0.6v0.6h-0.6zM163.8 108.6h0.6v0.6h-0.6zM147.8 112.0h0.6v0.6h-0.6zM160.5 86.2h0.6v0.6h-0.6zM148.6 104.3h0.6v0.6h-0.6zM150.7 95.5h0.6v0.6h-0.6zM167.8 106.0h0.6v0.6h-0.6zM137.9 94.6h0.6v0.6h-0.6zM154.1 110.9h0.6v0.6h-0.6zM142.3 103.7h0.6v0.6h-0.6zM139.4 98.3h0.6v0.6h-0.6zM142.2 101.6h0.6v0.6h-0.6zM162.8 111.4h0.6v0.6h-0.6zM153.9 102.7h0.6v0.6h-0.6zM151.2 112.9h0.6v0.6h-0.6zM151.8 106.0h0.6v0.6h-0.6zM145.4 90.6h0.6v0.6h-0.6zM140.8 112.9h0.6v0.6h-0.6zM140.9 109.5h0.6v0.6h-0.6zM136.4 103.8h0.6v0.6h-0.6zM147.2 102.6h0.6v0.6h-0.6zM164.3 107.7h0.6v0.6h-0.6zM152.5 105.5h0.6v0.6h-0.6zM135.6 101.4h0.6v0.6h-0.6zM155.7 98.2h0.6v0.6h-0.6zM150.1 97.7h0.6v0.6h-0.6zM154.1 109.3h0.6v0.6h-0.6zM141.3 109.7h0.6v0.6h-0.6zM161.0 87.9h0.6v0.6h-0.6zM153.5 97.2h0.6v0.6h-0.6zM152.4 101.9h0.6v0.6h-0.6zM137.7 99.4h0.6v0.6h-0.6zM157.4 102.3h0.6v0.6h-0.6zM164.1 94.4h0.6v0.6h-0.6zM139.1 103.4h0.6v0.6h-0.6zM148.6 108.0h0.6v0.6h-0.6zM153.1 110.6h0.6v0.6h-0.6zM150.4 105.8h0.6v0.6h-0.6zM148.0 114.0h0.6v0.6h-0.6zM157.1 106.3h0.6v0.6h-0.6zM150.5 101.3h0.6v0.6h-0.6zM144.2 100.8h0.6v0.6h-0.6zM141.2 98.9h0.6v0.6h-0.6zM137.4 105.6h0.6v0.6h-0.6zM146.4 98.9h0.6v0.6h-0.6zM149.6 117.2h0.6v0.6h-0.6zM146.3 110.6h0.6v0.6h-0.6zM153.2 113.4h0.6v0.6h-0.6zM151.5 91.2h0.6v0.6h-0.6zM152.8 106.8h0.6v0.6h-0.6zM161.5 97.1h0.6v0.6h-0.6zM138.8 108.9h0.6v0.6h-0.6zM150.7 88.5h0.6v0.6h-0.6zM143.6 86.3h0.6v0.6h-0.6zM168.0 93.7h0.6v0.6h-0.6zM151.8 95.5h0.6v0.6h-0.6zM147.0 104.4h0.6v0.6h-0.6zM152.3 104.3h0.6v0.6h-0.6zM146.9 95.7h0.6v0.6h-0.6zM141.0 110.9h0.6v0.6h-0.6zM139.0 103.0h0.6v0.6h-0.6zM151.4 107.4h0.6v0.6h-0.6zM146.2 94.1h0.6v0.6h-0.6zM151.9 111.7h0.6v0.6h-0.6zM151.3 99.4h0.6v0.6h-0.6zM159.5 98.8h0.6v0.6h-0.6zM157.9 109.6h0.6v0.6h-0.6zM149.1 115.7h0.6v0.6h-0.6zM151.2 97.3h0.6v0.6h-0.6zM151.3 102.1h0.6v0.6h-0.6zM159.9 113.0h0.6v0.6h-0.6zM156.6 103.6h0.6v0.6h-0.6zM158.6 107.5h0.6v0.6h-0.6zM149.6 105.6h0.6v0.6h-0.6zM147.1 96.6h0.6v0.6h-0.6zM151.7 90.4h0.6v0.6h-0.6zM158.7 102.5h0.6v0.6h-0.6zM145.2 97.1h0.6v0.6h-0.6zM155.2 98.8h0.6v0.6h-0.6zM147.9 104.2h0.6v0.6h-0.6zM148.2 108.8h0.6v0.6h-0.6zM147.4 106.3h0.6v0.6h-0.6zM148.0 101.7h0.6v0.6h-0.6zM162.3 114.0h0.6v0.6h-0.6zM156.3 107.0h0.6v0.6h-0.6zM138.0 98.1h0.6v0.6h-0.6zM148.0 99.6h0.6v0.6h-0.6zM164.3 96.3h0.6v0.6h-0.6zM139.3 102.3h0.6v0.6h-0.6zM149.3 98.3h0.6v0.6h-0.6zM163.7 110.8h0.6v0.6h-0.6zM153.3 99.2h0.6v0.6h-0.6zM165.4 85.8h0.6v0.6h-0.6zM151.8 96.8h0.6v0.6h-0.6zM134.2 108.7h0.6v0.6h-0.6zM157.1 109.4h0.6v0.6h-0.6zM161.6 90.8h0.6v0.6h-0.6zM157.0 111.8h0.6v0.6h-0.6zM155.3 89.7h0.6v0.6h-0.6zM153.0 104.2h0.6v0.6h-0.6zM151.0 102.0h0.6v0.6h-0.6zM143.2 94.9h0.6v0.6h-0.6zM149.7 93.2h0.6v0.6h-0.6zM155.2 98.3h0.6v0.6h-0.6zM157.9 119.2h0.6v0.6h-0.6zM159.4 108.4h0.6v0.6h-0.6zM145.6 107.7h0.6v0.6h-0.6zM142.6 105.3h0.6v0.6h-0.6zM136.4 100.5h0.6v0.6h-0.6zM148.3 101.3h0.6v0.6h-0.6zM153.3 96.8h0.6v0.6h-0.6zM156.2 100.7h0.6v0.6h-0.6zM159.7 101.4h0.6v0.6h-0.6zM163.5 116.4h0.6v0.6h-0.6zM146.4 109.4h0.6v0.6h-0.6zM142.5 87.3h0.6v0.6h-0.6zM137.7 94.7h0.6v0.6h-0.6zM159.2 107.5h0.6v0.6h-0.6zM152.2 109.8h0.6v0.6h-0.6zM155.2 105.3h0.6v0.6h-0.6zM153.8 102.0h0.6v0.6h-0.6zM155.4 100.7h0.6v0.6h-0.6zM160.4 105.2h0.6v0.6h-0.6zM143.0 102.8h0.6v0.6h-0.6zM157.8 108.6h0.6v0.6h-0.6zM158.3 106.4h0.6v0.6h-0.6zM150.9 109.2h0.6v0.6h-0.6zM146.3 115.5h0.6v0.6h-0.6zM151.7 98.6h0.6v0.6h-0.6zM146.2 107.7h0.6v0.6h-0.6zM147.3 114.6h0.6v0.6h-0.6zM145.3 107.5h0.6v0.6h-0.6zM142.2 115.7h0.6v0.6h-0.6zM162.1 102.7h0.6v0.6h-0.6zM144.7 109.1h0.6v0.6h-0.6zM144.0 118.3h0.6v0.6h-0.6zM157.8 106.6h0.6v0.6h-0.6zM153.5 102.3h0.6v0.6h-0.6zM139.2 103.7h0.6v0.6h-0.6zM148.7 96.9h0.6v0.6h-0.6zM135.6 106.9h0.6v0.6h-0.6zM147.8 90.4h0.6v0.6h-0.6zM142.9 97.0h0.6v0.6h-0.6zM165.7 108.9h0.6v0.6h-0.6zM146.0 90.2h0.6v0.6h-0.6zM159.9 105.8h0.6v0.6h-0.6zM151.0 108.5h0.6v0.6h-0.6zM143.9 98.5h0.6v0.6h-0.6zM135.0 108.9h0.6v0.6h-0.6zM164.7 108.3h0.6v0.6h-0.6zM151.3 109.9h0.6v0.6h-0.6zM153.1 117.7h0.6v0.6h-0.6zM154.2 110.6h0.6v0.6h-0.6zM143.2 107.6h0.6v0.6h-0.6zM150.4 102.4h0.6v0.6h-0.6zM148.9 106.5h0.6v0.6h-0.6zM146.9 97.8h0.6v0.6h-0.6zM138.9 105.7h0.6v0.6h-0.6zM166.0 85.0h0.6v0.6h-0.6zM144.8 117.6h0.6v0.6h-0.6zM155.2 97.8h0.6v0.6h-0.6zM148.2 105.8h0.6v0.6h-0.6zM149.3 104.6h0.6v0.6h-0.6zM153.7 101.5h0.6v0.6h-0.6zM152.0 102.3h0.6v0.6h-0.6zM135.7 103.9h0.6v0.6h-0.6zM156.7 97.7h0.6v0.6h-0.6zM158.9 116.7h0.6v0.6h-0.6zM159.2 112.9h0.6v0.6h-0.6zM137.8 112.0h0.6v0.6h-0.6zM155.2 104.2h0.6v0.6h-0.6zM154.2 100.0h0.6v0.6h-0.6zM154.2 94.9h0.6v0.6h-0.6zM155.2 114.3h0.6v0.6h-0.6zM146.8 118.9h0.6v0.6h-0.6zM144.0 105.2h0.6v0.6h-0.6zM158.0 99.2h0.6v0.6h-0.6zM152.2 112.0h0.6v0.6h-0.6zM160.8 100.0h0.6v0.6h-0.6zM165.5 105.8h0.6v0.6h-0.6zM140.2 104.1h0.6v0.6h-0.6zM153.9 108.0h0.6v0.6h-0.6zM153.9 106.2h0.6v0.6h-0.6zM154.9 96.6h0.6v0.6h-0.6zM153.7 100.3h0.6v0.6h-0.6zM142.7 98.6h0.6v0.6h-0.6zM137.6 94.3h0.6v0.6h-0.6zM149.7 110.8h0.6v0.6h-0.6zM158.9 117.3h0.6v0.6h-0.6zM156.6 109.0h0.6v0.6h-0.6zM154.9 119.2h0.6v0.6h-0.6zM157.5 102.5h0.6v0.6h-0.6zM151.3 95.5h0.6v0.6h-0.6zM163.3 107.2h0.6v0.6h-0.6zM155.9 106.1h0.6v0.6h-0.6zM156.9 108.6h0.6v0.6h-0.6zM162.2 76.1h0.6v0.6h-0.6zM141.9 110.8h0.6v0.6h-0.6zM164.6 110.6h0.6v0.6h-0.6zM134.5 103.8h0.6v0.6h-0.6zM156.1 107.0h0.6v0.6h-0.6zM135.2 104.8h0.6v0.6h-0.6zM151.7 97.9h0.6v0.6h-0.6zM145.9 114.3h0.6v0.6h-0.6zM150.3 108.1h0.6v0.6h-0.6zM149.3 105.6h0.6v0.6h-0.6zM148.0 100.3h0.6v0.6h-0.6zM154.7 104.3h0.6v0.6h-0.6zM154.8 106.0h0.6v0.6h-0.6zM154.6 106.5h0.6v0.6h-0.6zM147.9 84.6h0.6v0.6h-0.6zM159.9 114.2h0.6v0.6h-0.6zM158.0 97.0h0.6v0.6h-0.6zM163.8 111.2h0.6v0.6h-0.6zM156.7 105.3h0.6v0.6h-0.6zM151.1 95.6h0.6v0.6h-0.6zM151.2 118.8h0.6v0.6h-0.6zM149.7 95.2h0.6v0.6h-0.6zM152.2 98.2h0.6v0.6h-0.6zM143.9 118.6h0.6v0.6h-0.6zM134.4 102.7h0.6v0.6h-0.6zM139.4 117.8h0.6v0.6h-0.6zM139.5 100.9h0.6v0.6h-0.6zM154.3 116.7h0.6v0.6h-0.6zM147.5 99.2h0.6v0.6h-0.6zM153.6 95.9h0.6v0.6h-0.6zM153.8 106.1h0.6v0.6h-0.6zM161.1 105.1h0.6v0.6h-0.6zM151.8 101.0h0.6v0.6h-0.6zM152.5 108.2h0.6v0.6h-0.6zM146.1 90.1h0.6v0.6h-0.6zM151.9 110.9h0.6v0.6h-0.6zM148.7 99.9h0.6v0.6h-0.6zM146.1 100.3h0.6v0.6h-0.6zM137.1 88.5h0.6v0.6h-0.6zM145.3 105.1h0.6v0.6h-0.6zM136.7 107.9h0.6v0.6h-0.6zM151.7 106.0h0.6v0.6h-0.6zM146.1 90.2h0.6v0.6h-0.6zM156.8 94.7h0.6v0.6h-0.6zM160.6 102.0h0.6v0.6h-0.6zM155.3 96.1h0.6v0.6h-0.6zM160.1 110.5h0.6v0.6h-0.6zM158.3 112.5h0.6v0.6h-0.6zM158.3 110.0h0.6v0.6h-0.6zM156.8 108.4h0.6v0.6h-0.6zM146.7 103.7h0.6v0.6h-0.6zM153.9 113.3h0.6v0.6h-0.6zM156.4 111.8h0.6v0.6h-0.6zM156.1 104.7h0.6v0.6h-0.6zM162.9 102.1h0.6v0.6h-0.6zM137.6 100.6h0.6v0.6h-0.6zM133.4 103.8h0.6v0.6h-0.6zM139.3 108.9h0.6v0.6h-0.6zM160.4 95.7h0.6v0.6h-0.6zM160.1 101.1h0.6v0.6h-0.6zM162.9 99.1h0.6v0.6h-0.6zM153.3 106.7h0.6v0.6h-0.6zM146.5 105.9h0.6v0.6h-0.6zM170.0 109.7h0.6v0.6h-0.6zM151.7 97.4h0.6v0.6h-0.6zM142.6 105.2h0.6v0.6h-0.6zM139.2 105.3h0.6v0.6h-0.6zM140.7 111.6h0.6v0.6h-0.6zM162.7 104.4h0.6v0.6h-0.6zM151.1 102.8h0.6v0.6h-0.6zM153.1 108.3h0.6v0.6h-0.6zM165.3 107.0h0.6v0.6h-0.6zM149.4 97.5h0.6v0.6h-0.6zM144.0 97.1h0.6v0.6h-0.6zM146.0 107.8h0.6v0.6h-0.6zM137.8 93.6h0.6v0.6h-0.6zM139.1 107.5h0.6v0.6h-0.6zM147.8 104.1h0.6v0.6h-0.6zM163.5 90.1h0.6v0.6h-0.6zM149.0 103.0h0.6v0.6h-0.6zM159.6 107.5h0.6v0.6h-0.6zM146.3 99.2h0.6v0.6h-0.6zM142.2 109.3h0.6v0.6h-0.6zM139.2 99.3h0.6v0.6h-0.6zM151.1 108.4h0.6v0.6h-0.6zM149.5 98.8h0.6v0.6h-0.6zM148.5 102.2h0.6v0.6h-0.6zM150.3 103.3h0.6v0.6h-0.6zM162.8 106.0h0.6v0.6h-0.6zM154.9 103.2h0.6v0.6h-0.6zM139.8 115.7h0.6v0.6h-0.6zM137.1 90.3h0.6v0.6h-0.6zM157.6 92.6h0.6v0.6h-0.6zM149.5 103.6h0.6v0.6h-0.6zM157.4 99.5h0.6v0.6h-0.6zM162.1 104.5h0.6v0.6h-0.6zM149.7 105.9h0.6v0.6h-0.6zM160.4 104.1h0.6v0.6h-0.6zM146.8 117.1h0.6v0.6h-0.6zM137.4 112.3h0.6v0.6h-0.6zM158.1 106.3h0.6v0.6h-0.6zM139.4 97.1h0.6v0.6h-0.6zM133.6 111.4h0.6v0.6h-0.6zM149.2 111.2h0.6v0.6h-0.6zM157.1 97.0h0.6v0.6h-0.6zM154.5 114.9h0.6v0.6h-0.6zM149.1 102.1h0.6v0.6h-0.6zM157.3 96.0h0.6v0.6h-0.6zM145.1 105.0h0.6v0.6h-0.6zM151.5 98.3h0.6v0.6h-0.6zM147.1 95.2h0.6v0.6h-0.6zM161.4 117.8h0.6v0.6h-0.6zM155.6 88.4h0.6v0.6h-0.6zM156.4 105.8h0.6v0.6h-0.6zM147.1 84.8h0.6v0.6h-0.6zM155.6 109.4h0.6v0.6h-0.6zM151.8 116.8h0.6v0.6h-0.6zM157.0 88.6h0.6v0.6h-0.6zM157.0 103.7h0.6v0.6h-0.6zM149.1 106.1h0.6v0.6h-0.6zM157.1 110.1h0.6v0.6h-0.6zM157.3 98.3h0.6v0.6h-0.6zM148.7 109.2h0.6v0.6h-0.6zM164.2 112.8h0.6v0.6h-0.6zM152.8 94.8h0.6v0.6h-0.6zM141.7 104.3h0.6v0.6h-0.6zM141.0 91.4h0.6v0.6h-0.6zM161.8 100.0h0.6v0.6h-0.6zM161.2 112.2h0.6v0.6h-0.6zM164.3 95.1h0.6v0.6h-0.6zM131.7 98.1h0.6v0.6h-0.6zM152.6 96.5h0.6v0.6h-0.6zM159.3 97.8h0.6v0.6h-0.6zM146.9 103.6h0.6v0.6h-0.6zM149.7 106.4h0.6v0.6h-0.6zM154.4 111.9h0.6v0.6h-0.6zM165.3 100.3h0.6v0.6h-0.6zM161.0 107.2h0.6v0.6h-0.6zM163.2 97.2h0.6v0.6h-0.6zM157.4 107.5h0.6v0.6h-0.6zM161.0 104.4h0.6v0.6h-0.6zM154.6 110.3h0.6v0.6h-0.6zM144.1 115.3h0.6v0.6h-0.6zM156.7 113.4h0.6v0.6h-0.6zM148.2 92.4h0.6v0.6h-0.6zM156.3 114.3h0.6v0.6h-0.6zM138.7 106.2h0.6v0.6h-0.6zM157.1 104.3h0.6v0.6h-0.6zM147.9 114.8h0.6v0.6h-0.6zM137.4 104.3h0.6v0.6h-0.6zM140.4 110.1h0.6v0.6h-0.6zM151.8 106.6h0.6v0.6h-0.6zM140.1 103.3h0.6v0.6h-0.6zM145.6 101.5h0.6v0.6h-0.6zM142.6 113.8h0.6v0.6h-0.6zM164.2 116.4h0.6v0.6h-0.6zM134.4 99.2h0.6v0.6h-0.6zM143.5 96.4h0.6v0.6h-0.6zM161.2 98.7h0.6v0.6h-0.6zM155.8 101.1h0.6v0.6h-0.6zM162.5 112.6h0.6v0.6h-0.6zM144.1 108.6h0.6v0.6h-0.6zM145.5 100.7h0.6v0.6h-0.6zM144.9 112.9h0.6v0.6h-0.6zM147.6 96.4h0.6v0.6h-0.6zM147.9 108.8h0.6v0.6h-0.6zM150.0 116.3h0.6v0.6h-0.6zM141.0 112.3h0.6v0.6h-0.6zM149.7 114.7h0.6v0.6h-0.6zM149.9 101.7h0.6v0.6h-0.6zM163.3 100.3h0.6v0.6h-0.6zM145.7 111.2h0.6v0.6h-0.6zM145.7 107.3h0.6v0.6h-0.6zM152.2 109.4h0.6v0.6h-0.6zM139.4 110.7h0.6v0.6h-0.6zM146.5 112.8h0.6v0.6h-0.6zM143.1 100.8h0.6v0.6h-0.6zM147.8 95.3h0.6v0.6h-0.6zM160.1 103.2h0.6v0.6h-0.6zM159.2 101.7h0.6v0.6h-0.6zM141.5 102.6h0.6v0.6h-0.6zM149.4 105.2h0.6v0.6h-0.6zM149.8 102.9h0.6v0.6h-0.6zM140.2 96.4h0.6v0.6h-0.6zM153.6 97.7h0.6v0.6h-0.6zM148.1 108.8h0.6v0.6h-0.6zM142.1 108.9h0.6v0.6h-0.6zM159.4 113.3h0.6v0.6h-0.6zM150.0 106.9h0.6v0.6h-0.6zM155.4 103.2h0.6v0.6h-0.6zM151.0 104.5h0.6v0.6h-0.6zM153.1 102.4h0.6v0.6h-0.6zM155.6 101.4h0.6v0.6h-0.6zM151.2 95.5h0.6v0.6h-0.6zM145.2 109.4h0.6v0.6h-0.6zM163.9 110.4h0.6v0.6h-0.6zM144.2 106.1h0.6v0.6h-0.6zM137.7 101.6h0.6v0.6h-0.6zM138.7 101.1h0.6v0.6h-0.6zM151.2 101.0h0.6v0.6h-0.6zM148.6 104.3h0.6v0.6h-0.6zM151.2 112.3h0.6v0.6h-0.6zM155.4 111.1h0.6v0.6h-0.6zM134.3 105.3h0.6v0.6h-0.6zM155.0 104.1h0.6v0.6h-0.6zM151.3 95.4h0.6v0.6h-0.6zM151.1 100.3h0.6v0.6h-0.6zM164.8 101.1h0.6v0.6h-0.6zM167.0 91.0h0.6v0.6h-0.6zM149.7 108.7h0.6v0.6h-0.6zM153.7 108.3h0.6v0.6h-0.6zM150.9 112.2h0.6v0.6h-0.6zM155.6 107.2h0.6v0.6h-0.6zM143.8 109.0h0.6v0.6h-0.6zM162.6 110.6h0.6v0.6h-0.6zM149.0 100.8h0.6v0.6h-0.6zM150.0 107.9h0.6v0.6h-0.6zM151.6 99.2h0.6v0.6h-0.6zM150.1 108.3h0.6v0.6h-0.6zM158.0 89.6h0.6v0.6h-0.6zM157.4 108.2h0.6v0.6h-0.6zM146.1 101.0h0.6v0.6h-0.6zM162.4 100.5h0.6v0.6h-0.6zM162.1 109.8h0.6v0.6h-0.6zM154.1 101.2h0.6v0.6h-0.6zM139.7 112.9h0.6v0.6h-0.6zM148.7 95.2h0.6v0.6h-0.6zM155.9 105.0h0.6v0.6h-0.6zM146.6 111.8h0.6v0.6h-0.6zM139.3 102.8h0.6v0.6h-0.6zM145.4 119.9h0.6v0.6h-0.6zM161.6 119.0h0.6v0.6h-0.6zM149.6 108.5h0.6v0.6h-0.6zM151.2 117.6h0.6v0.6h-0.6zM155.0 107.0h0.6v0.6h-0.6zM153.7 98.3h0.6v0.6h-0.6zM139.9 106.9h0.6v0.6h-0.6zM150.0 98.5h0.6v0.6h-0.6zM148.1 113.1h0.6v0.6h-0.6zM147.0 99.9h0.6v0.6h-0.6zM143.3 94.9h0.6v0.6h-0.6zM163.9 105.6h0.6v0.6h-0.6zM140.6 99.2h0.6v0.6h-0.6zM147.4 93.7h0.6v0.6h-0.6zM149.8 100.5h0.6v0.6h-0.6zM146.6 98.6h0.6v0.6h-0.6zM142.7 113.7h0.6v0.6h-0.6zM165.1 95.0h0.6v0.6h-0.6zM147.7 108.8h0.6v0.6h-0.6zM157.4 100.6h0.6v0.6h-0.6zM155.4 88.8h0.6v0.6h-0.6zM144.6 110.7h0.6v0.6h-0.6zM147.4 97.3h0.6v0.6h-0.6zM149.2 94.2h0.6v0.6h-0.6zM144.2 113.1h0.6v0.6h-0.6zM161.1 110.7h0.6v0.6h-0.6zM155.8 105.1h0.6v0.6h-0.6zM136.8 114.6h0.6v0.6h-0.6zM147.0 103.0h0.6v0.6h-0.6zM138.0 110.9h0.6v0.6h-0.6zM148.0 92.9h0.6v0.6h-0.6zM141.6 107.6h0.6v0.6h-0.6zM145.5 109.1h0.6v0.6h-0.6zM133.1 107.6h0.6v0.6h-0.6zM159.0 102.0h0.6v0.6h-0.6zM158.8 104.2h0.6v0.6h-0.6zM155.9 106.3h0.6v0.6h-0.6zM140.4 103.8h0.6v0.6h-0.6zM146.2 90.7h0.6v0.6h-0.6zM152.7 111.5h0.6v0.6h-0.6zM154.3 102.0h0.6v0.6h-0.6zM155.9 98.8h0.6v0.6h-0.6zM149.2 119.1h0.6v0.6h-0.6zM150.1 101.3h0.6v0.6h-0.6zM163.8 107.0h0.6v0.6h-0.6zM145.4 109.2h0.6v0.6h-0.6zM147.6 95.3h0.6v0.6h-0.6zM162.7 108.7h0.6v0.6h-0.6zM159.6 98.5h0.6v0.6h-0.6zM155.0 100.2h0.6v0.6h-0.6zM140.8 108.1h0.6v0.6h-0.6zM153.7 91.8h0.6v0.6h-0.6zM158.8 92.8h0.6v0.6h-0.6zM138.7 98.9h0.6v0.6h-0.6zM147.0 108.9h0.6v0.6h-0.6zM152.2 106.3h0.6v0.6h-0.6zM155.9 85.6h0.6v0.6h-0.6zM152.4 95.1h0.6v0.6h-0.6zM158.2 95.7h0.6v0.6h-0.6zM142.6 104.8h0.6v0.6h-0.6zM162.9 109.0h0.6v0.6h-0.6zM149.6 97.9h0.6v0.6h-0.6zM138.5 118.7h0.6v0.6h-0.6zM158.5 98.5h0.6v0.6h-0.6zM151.8 104.4h0.6v0.6h-0.6zM161.1 104.3h0.6v0.6h-0.6zM150.6 109.6h0.6v0.6h-0.6zM150.3 90.6h0.6v0.6h-0.6zM163.0 111.0h0.6v0.6h-0.6zM146.2 94.5h0.6v0.6h-0.6zM149.5 104.9h0.6v0.6h-0.6zM152.0 116.9h0.6v0.6h-0.6zM144.6 103.4h0.6v0.6h-0.6zM151.9 108.0h0.6v0.6h-0.6zM142.5 100.7h0.6v0.6h-0.6zM147.6 104.4h0.6v0.6h-0.6zM156.9 96.6h0.6v0.6h-0.6zM164.2 109.0h0.6v0.6h-0.6zM151.5 107.5h0.6v0.6h-0.6zM143.4 118.6h0.6v0.6h-0.6zM163.5 100.4h0.6v0.6h-0.6zM163.6 108.5h0.6v0.6h-0.6zM136.4 94.8h0.6v0.6h-0.6zM147.6 114.7h0.6v0.6h-0.6zM144.4 109.2h0.6v0.6h-0.6zM145.8 99.4h0.6v0.6h-0.6zM143.6 108.1h0.6v0.6h-0.6zM153.8 111.6h0.6v0.6h-0.6zM146.7 119.9h0.6v0.6h-0.6zM149.2 89.5h0.6v0.6h-0.6zM162.7 110.8h0.6v0.6h-0.6zM153.6 111.6h0.6v0.6h-0.6zM156.4 106.8h0.6v0.6h-0.6zM156.1 102.2h0.6v0.6h-0.6zM146.5 109.9h0.6v0.6h-0.6zM138.7 115.1h0.6v0.6h-0.6zM135.6 96.3h0.6v0.6h-0.6zM148.4 108.0h0.6v0.6h-0.6zM160.6 97.5h0.6v0.6h-0.6zM160.5 98.6h0.6v0.6h-0.6zM166.9 105.8h0.6v0.6h-0.6zM154.1 114.1h0.6v0.6h-0.6zM151.7 101.8h0.6v0.6h-0.6zM156.1 116.3h0.6v0.6h-0.6zM148.8 99.2h0.6v0.6h-0.6zM144.0 107.6h0.6v0.6h-0.6zM153.2 109.8h0.6v0.6h-0.6zM146.9 106.4h0.6v0.6h-0.6zM151.7 104.5h0.6v0.6h-0.6zM152.8 113.6h0.6v0.6h-0.6zM154.1 103.9h0.6v0.6h-0.6zM153.9 116.8h0.6v0.6h-0.6zM132.4 97.2h0.6v0.6h-0.6zM155.5 105.3h0.6v0.6h-0.6zM135.0 112.7h0.6v0.6h-0.6zM142.7 101.4h0.6v0.6h-0.6zM147.8 99.8h0.6v0.6h-0.6zM147.5 116.0h0.6v0.6h-0.6zM142.5 107.4h0.6v0.6h-0.6zM153.1 101.2h0.6v0.6h-0.6zM155.1 111.9h0.6v0.6h-0.6zM139.5 108.6h0.6v0.6h-0.6zM154.0 99.9h0.6v0.6h-0.6zM147.2 119.0h0.6v0.6h-0.6zM140.5 116.1h0.6v0.6h-0.6zM151.2 104.8h0.6v0.6h-0.6zM135.5 102.2h0.6v0.6h-0.6zM150.7 96.8h0.6v0.6h-0.6zM143.0 110.8h0.6v0.6h-0.6zM149.9 99.6h0.6v0.6h-0.6zM137.4 102.6h0.6v0.6h-0.6zM149.9 95.1h0.6v0.6h-0.6zM157.6 95.6h0.6v0.6h-0.6zM147.5 101.6h0.6v0.6h-0.6zM138.5 104.4h0.6v0.6h-0.6zM156.0 107.5h0.6v0.6h-0.6zM150.7 101.1h0.6v0.6h-0.6zM150.9 107.2h0.6v0.6h-0.6zM157.0 111.4h0.6v0.6h-0.6zM143.8 101.1h0.6v0.6h-0.6zM146.0 101.0h0.6v0.6h-0.6zM153.7 110.6h0.6v0.6h-0.6zM144.9 109.1h0.6v0.6h-0.6zM161.4 93.0h0.6v0.6h-0.6zM141.2 110.3h0.6v0.6h-0.6zM149.3 114.5h0.6v0.6h-0.6zM139.8 108.7h0.6v0.6h-0.6zM148.7 109.5h0.6v0.6h-0.6zM151.9 112.7h0.6v0.6h-0.6zM149.5 105.4h0.6v0.6h-0.6zM161.0 110.0h0.6v0.6h-0.6zM147.0 97.4h0.6v0.6h-0.6zM141.9 111.8h0.6v0.6h-0.6zM155.9 96.5h0.6v0.6h-0.6zM134.6 109.0h0.6v0.6h-0.6zM152.8 103.9h0.6v0.6h-0.6zM154.1 100.4h0.6v0.6h-0.6zM146.8 100.5h0.6v0.6h-0.6zM156.3 111.8h0.6v0.6h-0.6zM160.4 108.5h0.6v0.6h-0.6zM145.6 97.6h0.6v0.6h-0.6zM161.1 100.0h0.6v0.6h-0.6zM157.1 103.4h0.6v0.6h-0.6zM165.3 113.9h0.6v0.6h-0.6zM149.5 103.3h0.6v0.6h-0.6zM143.3 114.2h0.6v0.6h-0.6zM148.3 118.9h0.6v0.6h-0.6zM148.8 106.6h0.6v0.6h-0.6zM162.0 111.0h0.6v0.6h-0.6zM149.4 86.8h0.6v0.6h-0.6zM146.3 111.2h0.6v0.6h-0.6zM136.8 98.0h0.6v0.6h-0.6zM151.4 108.6h0.6v0.6h-0.6zM158.7 116.6h0.6v0.6h-0.6zM145.2 98.3h0.6v0.6h-0.6zM152.3 105.5h0.6v0.6h-0.6zM145.1 104.5h0.6v0.6h-0.6zM148.1 95.8h0.6v0.6h-0.6zM141.0 104.5h0.6v0.6h-0.6zM150.3 108.2h0.6v0.6h-0.6zM145.5 96.0h0.6v0.6h-0.6zM163.9 105.9h0.6v0.6h-0.6zM147.3 96.1h0.6v0.6h-0.6zM147.8 116.8h0.6v0.6h-0.6zM148.1 88.8h0.6v0.6h-0.6zM155.7 104.1h0.6v0.6h-0.6zM154.0 110.5h0.6v0.6h-0.6zM164.3 109.0h0.6v0.6h-0.6zM141.1 108.3h0.6v0.6h-0.6zM143.4 100.3h0.6v0.6h-0.6zM153.7 115.7h0.6v0.6h-0.6zM149.8 100.9h0.6v0.6h-0.6zM136.1 115.7h0.6v0.6h-0.6zM160.9 112.0h0.6v0.6h-0.6zM156.9 105.0h0.6v0.6h-0.6zM161.4 106.5h0.6v0.6h-0.6zM144.3 109.3h0.6v0.6h-0.6zM153.5 99.9h0.6v0.6h-0.6zM152.9 106.3h0.6v0.6h-0.6zM158.3 102.2h0.6v0.6h-0.6zM153.4 119.3h0.6v0.6h-0.6zM145.2 106.7h0.6v0.6h-0.6zM151.3 117.6h0.6v0.6h-0.6zM138.1 100.0h0.6v0.6h-0.6zM154.8 110.8h0.6v0.6h-0.6zM162.0 100.1h0.6v0.6h-0.6zM144.9 98.7h0.6v0.6h-0.6zM146.8 103.7h0.6v0.6h-0.6zM149.4 113.5h0.6v0.6h-0.6zM137.8 119.5h0.6v0.6h-0.6zM150.4 111.4h0.6v0.6h-0.6zM145.8 107.1h0.6v0.6h-0.6zM157.0 109.4h0.6v0.6h-0.6zM146.7 112.8h0.6v0.6h-0.6zM142.2 106.5h0.6v0.6h-0.6zM154.3 118.1h0.6v0.6h-0.6zM159.5 101.7h0.6v0.6h-0.6zM160.4 94.3h0.6v0.6h-0.6zM150.4 99.9h0.6v0.6h-0.6zM162.5 108.0h0.6v0.6h-0.6zM144.4 104.9h0.6v0.6h-0.6zM158.1 106.2h0.6v0.6h-0.6zM160.9 105.2h0.6v0.6h-0.6zM148.2 119.1h0.6v0.6h-0.6zM148.1 100.5h0.6v0.6h-0.6zM160.8 105.8h0.6v0.6h-0.6zM151.8 109.7h0.6v0.6h-0.6zM155.6 100.7h0.6v0.6h-0.6zM149.5 94.4h0.6v0.6h-0.6zM149.6 108.9h0.6v0.6h-0.6zM160.8 104.0h0.6v0.6h-0.6zM151.4 96.4h0.6v0.6h-0.6zM132.8 103.7h0.6v0.6h-0.6zM153.5 104.6h0.6v0.6h-0.6zM157.3 104.1h0.6v0.6h-0.6zM148.4 116.8h0.6v0.6h-0.6zM147.4 105.5h0.6v0.6h-0.6zM147.3 94.5h0.6v0.6h-0.6zM156.5 108.9h0.6v0.6h-0.6zM156.6 105.3h0.6v0.6h-0.6zM144.2 108.1h0.6v0.6h-0.6zM154.0 111.3h0.6v0.6h-0.6zM158.1 97.8h0.6v0.6h-0.6zM151.2 114.0h0.6v0.6h-0.6zM150.8 113.0h0.6v0.6h-0.6zM138.2 106.9h0.6v0.6h-0.6zM151.0 109.0h0.6v0.6h-0.6zM157.2 97.8h0.6v0.6h-0.6zM143.4 101.6h0.6v0.6h-0.6zM138.1 105.9h0.6v0.6h-0.6zM143.2 110.7h0.6v0.6h-0.6zM149.2 93.1h0.6v0.6h-0.6zM138.4 107.4h0.6v0.6h-0.6zM145.7 113.4h0.6v0.6h-0.6zM150.0 93.8h0.6v0.6h-0.6zM145.5 111.7h0.6v0.6h-0.6zM138.6 105.2h0.6v0.6h-0.6zM141.3 105.1h0.6v0.6h-0.6zM146.9 91.8h0.6v0.6h-0.6zM149.0 115.2h0.6v0.6h-0.6zM144.5 92.0h0.6v0.6h-0.6zM148.2 108.4h0.6v0.6h-0.6zM165.9 105.8h0.6v0.6h-0.6zM153.5 89.1h0.6v0.6h-0.6zM150.1 113.4h0.6v0.6h-0.6zM157.4 107.0h0.6v0.6h-0.6zM159.3 115.2h0.6v0.6h-0.6zM159.2 96.2h0.6v0.6h-0.6zM138.7 107.8h0.6v0.6h-0.6zM146.8 113.9h0.6v0.6h-0.6zM152.1 109.8h0.6v0.6h-0.6zM142.1 101.7h0.6v0.6h-0.6zM159.1 97.5h0.6v0.6h-0.6zM145.9 112.9h0.6v0.6h-0.6zM138.8 112.0h0.6v0.6h-0.6zM138.6 101.3h0.6v0.6h-0.6zM147.6 116.3h0.6v0.6h-0.6zM155.1 104.5h0.6v0.6h-0.6zM153.8 87.5h0.6v0.6h-0.6zM137.9 105.7h0.6v0.6h-0.6zM139.2 111.6h0.6v0.6h-0.6zM158.3 96.6h0.6v0.6h-0.6zM137.6 101.3h0.6v0.6h-0.6zM157.9 98.9h0.6v0.6h-0.6zM149.3 106.2h0.6v0.6h-0.6zM159.7 109.5h0.6v0.6h-0.6zM149.1 105.7h0.6v0.6h-0.6zM136.9 108.3h0.6v0.6h-0.6zM164.3 96.3h0.6v0.6h-0.6zM147.0 110.4h0.6v0.6h-0.6zM162.2 109.9h0.6v0.6h-0.6zM152.7 108.9h0.6v0.6h-0.6zM147.1 116.8h0.6v0.6h-0.6zM143.7 98.0h0.6v0.6h-0.6zM146.6 102.7h0.6v0.6h-0.6zM158.6 100.4h0.6v0.6h-0.6zM153.2 110.1h0.6v0.6h-0.6zM160.9 105.9h0.6v0.6h-0.6zM140.4 107.7h0.6v0.6h-0.6zM153.7 106.2h0.6v0.6h-0.6zM154.5 92.7h0.6v0.6h-0.6zM156.7 108.3h0.6v0.6h-0.6zM154.9 106.0h0.6v0.6h-0.6zM163.7 93.4h0.6v0.6h-0.6zM145.5 96.0h0.6v0.6h-0.6zM149.1 101.6h0.6v0.6h-0.6zM154.5 102.2h0.6v0.6h-0.6zM179.1 97.2h0.6v0.6h-0.6zM145.8 104.0h0.6v0.6h-0.6zM153.6 109.1h0.6v0.6h-0.6zM158.7 106.8h0.6v0.6h-0.6zM143.9 108.2h0.6v0.6h-0.6zM153.2 101.7h0.6v0.6h-0.6zM145.9 98.9h0.6v0.6h-0.6zM154.9 102.8h0.6v0.6h-0.6zM144.7 116.5h0.6v0.6h-0.6zM142.8 114.5h0.6v0.6h-0.6zM150.4 114.3h0.6v0.6h-0.6zM160.7 102.8h0.6v0.6h-0.6zM165.5 100.3h0.6v0.6h-0.6zM160.5 94.0h0.6v0.6h-0.6zM158.3 110.9h0.6v0.6h-0.6zM142.6 96.0h0.6v0.6h-0.6zM144.5 107.6h0.6v0.6h-0.6zM155.5 96.3h0.6v0.6h-0.6zM147.9 100.3h0.6v0.6h-0.6zM166.6 105.9h0.6v0.6h-0.6zM149.2 111.4h0.6v0.6h-0.6zM162.8 92.4h0.6v0.6h-0.6zM146.0 109.0h0.6v0.6h-0.6zM148.6 105.4h0.6v0.6h-0.6zM142.2 110.9h0.6v0.6h-0.6zM152.4 113.8h0.6v0.6h-0.6zM136.1 95.9h0.6v0.6h-0.6zM159.4 101.8h0.6v0.6h-0.6zM156.4 105.6h0.6v0.6h-0.6zM145.2 107.5h0.6v0.6h-0.6zM138.4 111.8h0.6v0.6h-0.6zM149.0 107.6h0.6v0.6h-0.6zM150.9 106.7h0.6v0.6h-0.6zM160.4 108.0h0.6v0.6h-0.6zM157.5 102.7h0.6v0.6h-0.6zM137.9 109.6h0.6v0.6h-0.6zM147.8 104.8h0.6v0.6h-0.6zM151.0 111.6h0.6v0.6h-0.6zM147.2 113.5h0.6v0.6h-0.6zM152.9 120.1h0.6v0.6h-0.6zM156.6 107.5h0.6v0.6h-0.6zM139.8 117.8h0.6v0.6h-0.6zM145.4 102.8h0.6v0.6h-0.6zM154.6 104.0h0.6v0.6h-0.6zM155.0 99.9h0.6v0.6h-0.6zM139.5 116.2h0.6v0.6h-0.6zM163.9 114.4h0.6v0.6h-0.6zM149.8 109.6h0.6v0.6h-0.6zM148.4 104.8h0.6v0.6h-0.6zM148.7 102.2h0.6v0.6h-0.6zM158.6 98.6h0.6v0.6h-0.6zM150.2 114.1h0.6v0.6h-0.6zM161.0 106.3h0.6v0.6h-0.6zM163.6 98.4h0.6v0.6h-0.6zM149.5 108.5h0.6v0.6h-0.6zM151.4 109.1h0.6v0.6h-0.6zM162.5 104.0h0.6v0.6h-0.6zM143.0 108.6h0.6v0.6h-0.6zM158.9 101.4h0.6v0.6h-0.6zM143.2 111.5h0.6v0.6h-0.6zM165.7 103.0h0.6v0.6h-0.6zM134.3 111.7h0.6v0.6h-0.6zM163.9 116.7h0.6v0.6h-0.6zM165.6 107.0h0.6v0.6h-0.6zM162.4 106.3h0.6v0.6h-0.6zM146.6 95.8h0.6v0.6h-0.6zM150.8 106.1h0.6v0.6h-0.6zM160.4 103.0h0.6v0.6h-0.6zM154.1 97.1h0.6v0.6h-0.6zM144.7 98.7h0.6v0.6h-0.6zM142.8 106.3h0.6v0.6h-0.6zM140.3 110.6h0.6v0.6h-0.6zM141.0 96.3h0.6v0.6h-0.6zM142.5 91.6h0.6v0.6h-0.6zM165.8 96.5h0.6v0.6h-0.6zM145.0 91.3h0.6v0.6h-0.6zM158.5 107.0h0.6v0.6h-0.6zM165.4 95.3h0.6v0.6h-0.6zM145.0 102.8h0.6v0.6h-0.6zM153.3 103.8h0.6v0.6h-0.6zM163.3 112.7h0.6v0.6h-0.6zM156.4 92.3h0.6v0.6h-0.6zM160.1 102.2h0.6v0.6h-0.6zM154.3 102.1h0.6v0.6h-0.6zM160.5 104.0h0.6v0.6h-0.6zM162.5 108.9h0.6v0.6h-0.6zM149.6 92.9h0.6v0.6h-0.6zM137.6 98.5h0.6v0.6h-0.6zM147.7 111.8h0.6v0.6h-0.6zM159.7 110.0h0.6v0.6h-0.6zM139.4 104.2h0.6v0.6h-0.6zM154.8 100.4h0.6v0.6h-0.6zM164.7 112.4h0.6v0.6h-0.6zM158.8 113.8h0.6v0.6h-0.6zM148.3 92.4h0.6v0.6h-0.6zM147.3 101.5h0.6v0.6h-0.6zM154.6 81.9h0.6v0.6h-0.6zM144.4 94.3h0.6v0.6h-0.6zM158.9 92.9h0.6v0.6h-0.6zM141.4 106.1h0.6v0.6h-0.6zM143.3 96.1h0.6v0.6h-0.6zM154.0 106.4h0.6v0.6h-0.6zM150.1 104.4h0.6v0.6h-0.6zM157.1 100.5h0.6v0.6h-0.6zM147.8 108.0h0.6v0.6h-0.6zM136.1 101.0h0.6v0.6h-0.6zM150.5 102.8h0.6v0.6h-0.6zM160.7 98.6h0.6v0.6h-0.6zM158.9 98.6h0.6v0.6h-0.6zM147.1 109.3h0.6v0.6h-0.6zM157.9 94.7h0.6v0.6h-0.6zM149.9 107.3h0.6v0.6h-0.6zM152.0 116.8h0.6v0.6h-0.6zM149.2 104.8h0.6v0.6h-0.6zM156.9 99.6h0.6v0.6h-0.6zM176.5 110.6h0.6v0.6h-0.6zM162.4 110.0h0.6v0.6h-0.6zM167.8 102.7h0.6v0.6h-0.6zM142.6 104.2h0.6v0.6h-0.6zM151.8 96.4h0.6v0.6h-0.6zM167.4 91.4h0.6v0.6h-0.6zM152.5 107.2h0.6v0.6h-0.6zM149.7 113.2h0.6v0.6h-0.6zM149.2 113.2h0.6v0.6h-0.6zM150.3 107.2h0.6v0.6h-0.6zM156.2 115.0h0.6v0.6h-0.6zM149.3 100.7h0.6v0.6h-0.6zM150.2 104.1h0.6v0.6h-0.6zM153.6 100.1h0.6v0.6h-0.6zM148.5 112.6h0.6v0.6h-0.6zM143.8 110.8h0.6v0.6h-0.6zM145.9 105.2h0.6v0.6h-0.6zM152.2 91.0h0.6v0.6h-0.6zM151.7 113.8h0.6v0.6h-0.6zM155.6 111.0h0.6v0.6h-0.6zM146.8 117.3h0.6v0.6h-0.6zM152.1 114.6h0.6v0.6h-0.6zM142.5 100.4h0.6v0.6h-0.6zM146.5 110.9h0.6v0.6h-0.6zM151.7 109.0h0.6v0.6h-0.6zM160.8 94.6h0.6v0.6h-0.6zM163.1 100.5h0.6v0.6h-0.6zM136.3 114.0h0.6v0.6h-0.6zM147.0 115.3h0.6v0.6h-0.6zM147.4 90.1h0.6v0.6h-0.6zM150.4 101.5h0.6v0.6h-0.6zM148.6 107.4h0.6v0.6h-0.6zM145.3 97.9h0.6v0.6h-0.6zM146.5 113.3h0.6v0.6h-0.6zM153.2 91.7h0.6v0.6h-0.6zM157.9 112.9h0.6v0.6h-0.6zM151.5 94.8h0.6v0.6h-0.6zM158.5 96.2h0.6v0.6h-0.6zM160.5 101.8h0.6v0.6h-0.6zM143.6 103.5h0.6v0.6h-0.6zM155.4 105.2h0.6v0.6h-0.6zM151.5 104.7h0.6v0.6h-0.6zM160.2 110.5h0.6v0.6h-0.6zM146.3 112.2h0.6v0.6h-0.6zM149.8 109.0h0.6v0.6h-0.6zM134.8 97.4h0.6v0.6h-0.6zM155.9 114.3h0.6v0.6h-0.6zM147.1 104.9h0.6v0.6h-0.6zM155.2 108.1h0.6v0.6h-0.6zM161.4 106.3h0.6v0.6h-0.6zM152.2 107.3h0.6v0.6h-0.6zM159.4 115.1h0.6v0.6h-0.6zM154.2 108.6h0.6v0.6h-0.6zM150.0 99.9h0.6v0.6h-0.6zM163.9 100.9h0.6v0.6h-0.6zM140.2 104.4h0.6v0.6h-0.6zM161.0 110.2h0.6v0.6h-0.6zM153.0 107.9h0.6v0.6h-0.6zM154.6 104.1h0.6v0.6h-0.6zM154.1 103.7h0.6v0.6h-0.6zM156.1 104.3h0.6v0.6h-0.6zM137.7 99.1h0.6v0.6h-0.6zM153.1 107.0h0.6v0.6h-0.6zM158.4 97.7h0.6v0.6h-0.6zM152.2 99.2h0.6v0.6h-0.6zM137.0 101.6h0.6v0.6h-0.6zM153.1 103.2h0.6v0.6h-0.6zM156.9 109.9h0.6v0.6h-0.6zM136.2 118.6h0.6v0.6h-0.6zM156.5 100.2h0.6v0.6h-0.6zM140.5 107.3h0.6v0.6h-0.6zM151.8 98.4h0.6v0.6h-0.6zM150.9 95.3h0.6v0.6h-0.6zM141.5 102.2h0.6v0.6h-0.6zM150.2 102.6h0.6v0.6h-0.6zM157.1 112.9h0.6v0.6h-0.6zM148.9 98.6h0.6v0.6h-0.6zM150.7 99.0h0.6v0.6h-0.6zM151.9 116.7h0.6v0.6h-0.6zM162.1 113.0h0.6v0.6h-0.6zM147.8 103.0h0.6v0.6h-0.6zM159.2 108.9h0.6v0.6h-0.6zM145.8 92.7h0.6v0.6h-0.6zM153.0 109.9h0.6v0.6h-0.6zM144.8 105.6h0.6v0.6h-0.6zM149.5 97.5h0.6v0.6h-0.6zM155.7 99.0h0.6v0.6h-0.6zM141.8 92.1h0.6v0.6h-0.6zM144.4 93.0h0.6v0.6h-0.6zM153.6 95.8h0.6v0.6h-0.6zM144.0 105.8h0.6v0.6h-0.6zM148.4 101.3h0.6v0.6h-0.6zM156.3 114.2h0.6v0.6h-0.6zM158.8 104.1h0.6v0.6h-0.6zM155.2 100.1h0.6v0.6h-0.6zM158.6 100.6h0.6v0.6h-0.6zM160.2 110.1h0.6v0.6h-0.6zM147.8 98.8h0.6v0.6h-0.6zM133.3 103.9h0.6v0.6h-0.6zM147.2 99.3h0.6v0.6h-0.6zM152.3 106.9h0.6v0.6h-0.6zM157.8 104.9h0.6v0.6h-0.6zM147.5 94.0h0.6v0.6h-0.6zM134.0 107.3h0.6v0.6h-0.6zM147.7 106.7h0.6v0.6h-0.6zM153.2 104.7h0.6v0.6h-0.6zM153.5 109.5h0.6v0.6h-0.6zM162.8 106.2h0.6v0.6h-0.6zM160.4 109.5h0.6v0.6h-0.6zM155.5 105.7h0.6v0.6h-0.6zM154.6 101.5h0.6v0.6h-0.6zM143.8 107.0h0.6v0.6h-0.6zM163.3 96.0h0.6v0.6h-0.6zM158.7 103.9h0.6v0.6h-0.6zM147.7 92.6h0.6v0.6h-0.6zM151.4 100.6h0.6v0.6h-0.6zM143.8 103.5h0.6v0.6h-0.6zM158.1 88.5h0.6v0.6h-0.6zM159.8 88.8h0.6v0.6h-0.6zM142.9 113.5h0.6v0.6h-0.6zM151.6 104.9h0.6v0.6h-0.6zM142.4 101.4h0.6v0.6h-0.6zM151.5 97.6h0.6v0.6h-0.6zM135.4 103.9h0.6v0.6h-0.6zM149.2 108.2h0.6v0.6h-0.6zM150.0 106.5h0.6v0.6h-0.6zM138.3 97.9h0.6v0.6h-0.6zM134.0 107.5h0.6v0.6h-0.6zM148.5 109.9h0.6v0.6h-0.6zM155.6 101.2h0.6v0.6h-0.6zM141.1 97.9h0.6v0.6h-0.6zM149.4 103.2h0.6v0.6h-0.6zM152.9 96.4h0.6v0.6h-0.6zM159.7 99.8h0.6v0.6h-0.6zM135.2 113.8h0.6v0.6h-0.6zM155.8 104.4h0.6v0.6h-0.6zM161.2 102.9h0.6v0.6h-0.6zM141.2 107.1h0.6v0.6h-0.6zM144.7 95.4h0.6v0.6h-0.6zM144.4 91.7h0.6v0.6h-0.6zM149.9 111.3h0.6v0.6h-0.6zM144.9 97.1h0.6v0.6h-0.6zM156.4 102.2h0.6v0.6h-0.6zM161.1 113.5h0.6v0.6h-0.6zM149.2 106.7h0.6v0.6h-0.6zM140.6 109.6h0.6v0.6h-0.6zM161.0 111.1h0.6v0.6h-0.6zM137.4 95.0h0.6v0.6h-0.6zM142.0 105.1h0.6v0.6h-0.6zM151.2 95.5h0.6v0.6h-0.6zM157.7 114.7h0.6v0.6h-0.6zM170.5 94.6h0.6v0.6h-0.6zM147.1 94.9h0.6v0.6h-0.6zM152.9 112.9h0.6v0.6h-0.6zM146.9 103.9h0.6v0.6h-0.6zM155.1 112.0h0.6v0.6h-0.6zM160.2 118.9h0.6v0.6h-0.6zM149.5 100.6h0.6v0.6h-0.6zM136.9 99.0h0.6v0.6h-0.6zM155.0 105.5h0.6v0.6h-0.6zM161.5 91.6h0.6v0.6h-0.6zM163.1 100.9h0.6v0.6h-0.6zM157.0 112.9h0.6v0.6h-0.6zM149.3 102.7h0.6v0.6h-0.6zM135.9 105.0h0.6v0.6h-0.6zM134.0 93.9h0.6v0.6h-0.6zM136.4 110.3h0.6v0.6h-0.6zM154.2 100.2h0.6v0.6h-0.6zM153.4 101.3h0.6v0.6h-0.6zM136.8 100.3h0.6v0.6h-0.6zM140.4 104.9h0.6v0.6h-0.6zM151.5 92.0h0.6v0.6h-0.6zM160.8 112.5h0.6v0.6h-0.6zM142.6 105.1h0.6v0.6h-0.6zM161.6 94.9h0.6v0.6h-0.6zM146.3 92.0h0.6v0.6h-0.6zM148.7 113.9h0.6v0.6h-0.6zM152.3 106.8h0.6v0.6h-0.6zM144.6 99.6h0.6v0.6h-0.6zM161.8 103.3h0.6v0.6h-0.6zM166.6 99.8h0.6v0.6h-0.6zM144.0 104.9h0.6v0.6h-0.6zM155.8 109.1h0.6v0.6h-0.6zM143.3 110.0h0.6v0.6h-0.6zM149.5 103.8h0.6v0.6h-0.6zM149.3 94.4h0.6v0.6h-0.6zM152.9 91.5h0.6v0.6h-0.6zM146.6 112.6h0.6v0.6h-0.6zM155.9 88.7h0.6v0.6h-0.6zM142.1 112.8h0.6v0.6h-0.6zM154.3 109.8h0.6v0.6h-0.6zM147.9 98.3h0.6v0.6h-0.6zM151.2 117.9h0.6v0.6h-0.6zM173.9 107.1h0.6v0.6h-0.6zM151.4 110.5h0.6v0.6h-0.6zM152.6 95.0h0.6v0.6h-0.6zM145.9 101.1h0.6v0.6h-0.6zM153.7 113.6h0.6v0.6h-0.6zM143.7 107.5h0.6v0.6h-0.6zM138.2 111.4h0.6v0.6h-0.6zM151.1 102.7h0.6v0.6h-0.6zM135.3 115.2h0.6v0.6h-0.6zM161.3 91.1h0.6v0.6h-0.6zM155.3 103.0h0.6v0.6h-0.6zM165.0 101.3h0.6v0.6h-0.6zM150.4 100.6h0.6v0.6h-0.6zM161.5 119.4h0.6v0.6h-0.6zM154.3 112.2h0.6v0.6h-0.6zM146.4 109.0h0.6v0.6h-0.6zM164.8 97.3h0.6v0.6h-0.6zM151.7 112.1h0.6v0.6h-0.6zM140.2 116.1h0.6v0.6h-0.6zM149.8 114.5h0.6v0.6h-0.6zM156.7 112.3h0.6v0.6h-0.6zM157.9 92.8h0.6v0.6h-0.6zM148.1 106.5h0.6v0.6h-0.6zM161.6 112.8h0.6v0.6h-0.6zM165.8 111.8h0.6v0.6h-0.6zM149.6 105.2h0.6v0.6h-0.6zM156.3 107.7h0.6v0.6h-0.6zM146.3 94.3h0.6v0.6h-0.6zM162.4 88.5h0.6v0.6h-0.6zM145.2 94.3h0.6v0.6h-0.6zM161.5 102.4h0.6v0.6h-0.6zM148.7 109.1h0.6v0.6h-0.6zM133.9 108.5h0.6v0.6h-0.6zM156.2 95.8h0.6v0.6h-0.6zM150.2 109.1h0.6v0.6h-0.6zM158.4 100.4h0.6v0.6h-0.6zM148.0 110.3h0.6v0.6h-0.6zM145.0 111.0h0.6v0.6h-0.6zM144.9 99.4h0.6v0.6h-0.6zM152.5 99.6h0.6v0.6h-0.6zM156.6 106.7h0.6v0.6h-0.6zM171.1 91.2h0.6v0.6h-0.6zM150.7 109.5h0.6v0.6h-0.6zM155.3 91.8h0.6v0.6h-0.6zM141.2 102.9h0.6v0.6h-0.6zM154.4 108.7h0.6v0.6h-0.6zM149.2 95.0h0.6v0.6h-0.6zM144.9 101.8h0.6v0.6h-0.6zM157.8 111.4h0.6v0.6h-0.6zM159.6 103.3h0.6v0.6h-0.6zM148.7 111.1h0.6v0.6h-0.6zM149.9 103.1h0.6v0.6h-0.6zM161.5 98.3h0.6v0.6h-0.6zM161.2 100.8h0.6v0.6h-0.6zM150.9 113.0h0.6v0.6h-0.6zM137.6 110.1h0.6v0.6h-0.6zM157.9 108.5h0.6v0.6h-0.6zM156.2 97.2h0.6v0.6h-0.6zM153.3 110.0h0.6v0.6h-0.6zM147.6 91.8h0.6v0.6h-0.6zM146.0 110.4h0.6v0.6h-0.6zM142.5 93.4h0.6v0.6h-0.6zM148.8 101.2h0.6v0.6h-0.6zM147.9 105.0h0.6v0.6h-0.6zM149.5 100.6h0.6v0.6h-0.6zM162.1 115.2h0.6v0.6h-0.6zM142.0 113.2h0.6v0.6h-0.6zM152.9 93.7h0.6v0.6h-0.6zM149.1 105.9h0.6v0.6h-0.6zM144.7 104.6h0.6v0.6h-0.6zM160.0 102.2h0.6v0.6h-0.6zM154.8 107.7h0.6v0.6h-0.6zM140.3 108.1h0.6v0.6h-0.6zM145.5 103.3h0.6v0.6h-0.6zM152.5 107.8h0.6v0.6h-0.6zM157.3 101.2h0.6v0.6h-0.6zM141.5 100.3h0.6v0.6h-0.6zM141.6 104.0h0.6v0.6h-0.6zM146.4 116.9h0.6v0.6h-0.6zM159.3 109.5h0.6v0.6h-0.6zM150.4 102.5h0.6v0.6h-0.6zM158.1 93.4h0.6v0.6h-0.6zM161.5 98.8h0.6v0.6h-0.6zM149.9 105.5h0.6v0.6h-0.6zM139.8 109.9h0.6v0.6h-0.6zM145.5 112.5h0.6v0.6h-0.6zM158.9 112.8h0.6v0.6h-0.6zM154.2 107.2h0.6v0.6h-0.6zM151.5 103.9h0.6v0.6h-0.6zM144.1 112.9h0.6v0.6h-0.6zM148.7 111.5h0.6v0.6h-0.6zM151.3 102.6h0.6v0.6h-0.6zM157.2 94.5h0.6v0.6h-0.6zM159.8 106.0h0.6v0.6h-0.6zM143.0 103.1h0.6v0.6h-0.6zM161.8 94.0h0.6v0.6h-0.6zM151.3 114.1h0.6v0.6h-0.6zM154.1 113.7h0.6v0.6h-0.6zM150.8 102.3h0.6v0.6h-0.6zM145.0 106.6h0.6v0.6h-0.6zM157.7 110.9h0.6v0.6h-0.6zM151.9 97.7h0.6v0.6h-0.6zM154.9 92.8h0.6v0.6h-0.6zM152.3 99.4h0.6v0.6h-0.6zM155.3 104.2h0.6v0.6h-0.6zM144.8 102.7h0.6v0.6h-0.6zM173.4 108.6h0.6v0.6h-0.6zM150.0 99.4h0.6v0.6h-0.6zM162.3 108.3h0.6v0.6h-0.6zM158.0 104.3h0.6v0.6h-0.6zM150.9 113.2h0.6v0.6h-0.6zM143.8 88.6h0.6v0.6h-0.6zM171.1 108.1h0.6v0.6h-0.6zM162.6 106.3h0.6v0.6h-0.6zM150.5 100.7h0.6v0.6h-0.6zM145.0 92.9h0.6v0.6h-0.6zM158.7 95.4h0.6v0.6h-0.6zM160.9 104.8h0.6v0.6h-0.6zM139.3 101.8h0.6v0.6h-0.6zM149.1 101.7h0.6v0.6h-0.6zM158.2 100.5h0.6v0.6h-0.6zM143.3 101.5h0.6v0.6h-0.6zM156.1 111.3h0.6v0.6h-0.6zM154.8 101.2h0.6v0.6h-0.6zM163.1 103.9h0.6v0.6h-0.6zM140.7 107.2h0.6v0.6h-0.6zM160.9 117.2h0.6v0.6h-0.6zM155.1 101.9h0.6v0.6h-0.6zM144.2 97.6h0.6v0.6h-0.6zM141.7 104.0h0.6v0.6h-0.6zM165.5 103.3h0.6v0.6h-0.6zM140.3 109.2h0.6v0.6h-0.6zM146.5 107.7h0.6v0.6h-0.6zM152.4 105.8h0.6v0.6h-0.6zM148.2 109.2h0.6v0.6h-0.6zM146.7 97.1h0.6v0.6h-0.6zM162.0 92.8h0.6v0.6h-0.6zM139.2 103.5h0.6v0.6h-0.6zM151.1 110.4h0.6v0.6h-0.6zM137.4 99.1h0.6v0.6h-0.6zM153.2 96.9h0.6v0.6h-0.6zM158.1 92.4h0.6v0.6h-0.6zM150.5 110.1h0.6v0.6h-0.6zM157.6 95.5h0.6v0.6h-0.6zM138.4 98.9h0.6v0.6h-0.6zM146.9 104.2h0.6v0.6h-0.6zM150.7 112.9h0.6v0.6h-0.6zM155.8 104.7h0.6v0.6h-0.6zM153.9 88.4h0.6v0.6h-0.6zM134.5 114.1h0.6v0.6h-0.6zM161.3 106.1h0.6v0.6h-0.6zM148.5 100.7h0.6v0.6h-0.6zM151.6 118.3h0.6v0.6h-0.6zM147.4 108.5h0.6v0.6h-0.6zM153.6 110.6h0.6v0.6h-0.6zM136.3 117.3h0.6v0.6h-0.6zM165.3 102.9h0.6v0.6h-0.6zM154.7 97.1h0.6v0.6h-0.6zM156.7 99.5h0.6v0.6h-0.6zM158.4 95.9h0.6v0.6h-0.6zM137.8 109.0h0.6v0.6h-0.6zM158.4 112.3h0.6v0.6h-0.6zM154.0 107.4h0.6v0.6h-0.6zM151.8 105.9h0.6v0.6h-0.6zM151.6 103.9h0.6v0.6h-0.6zM155.1 104.2h0.6v0.6h-0.6zM162.1 103.6h0.6v0.6h-0.6zM139.4 97.9h0.6v0.6h-0.6zM134.3 112.7h0.6v0.6h-0.6zM142.1 88.1h0.6v0.6h-0.6zM140.7 112.5h0.6v0.6h-0.6zM137.5 107.2h0.6v0.6h-0.6zM147.8 103.8h0.6v0.6h-0.6zM148.7 117.1h0.6v0.6h-0.6zM142.4 99.0h0.6v0.6h-0.6zM161.6 107.1h0.6v0.6h-0.6zM146.2 101.7h0.6v0.6h-0.6zM147.0 95.5h0.6v0.6h-0.6zM145.3 102.6h0.6v0.6h-0.6zM151.9 99.5h0.6v0.6h-0.6zM163.6 108.9h0.6v0.6h-0.6zM152.9 94.2h0.6v0.6h-0.6zM156.4 101.4h0.6v0.6h-0.6zM148.9 102.1h0.6v0.6h-0.6zM145.9 117.1h0.6v0.6h-0.6zM147.1 118.0h0.6v0.6h-0.6zM151.4 100.6h0.6v0.6h-0.6zM154.7 96.8h0.6v0.6h-0.6zM157.4 96.5h0.6v0.6h-0.6zM151.2 107.9h0.6v0.6h-0.6zM158.6 113.7h0.6v0.6h-0.6zM153.0 108.0h0.6v0.6h-0.6zM149.1 109.0h0.6v0.6h-0.6zM157.2 95.6h0.6v0.6h-0.6zM147.7 106.4h0.6v0.6h-0.6zM143.8 109.3h0.6v0.6h-0.6zM135.5 108.5h0.6v0.6h-0.6zM142.0 101.7h0.6v0.6h-0.6zM155.2 108.6h0.6v0.6h-0.6zM161.9 107.9h0.6v0.6h-0.6zM147.2 87.2h0.6v0.6h-0.6zM147.1 106.3h0.6v0.6h-0.6zM140.5 105.6h0.6v0.6h-0.6zM148.1 117.8h0.6v0.6h-0.6zM143.9 95.4h0.6v0.6h-0.6zM157.8 109.1h0.6v0.6h-0.6zM145.2 100.3h0.6v0.6h-0.6zM157.2 109.4h0.6v0.6h-0.6zM150.0 114.4h0.6v0.6h-0.6zM150.3 102.9h0.6v0.6h-0.6zM150.9 97.0h0.6v0.6h-0.6zM154.9 110.0h0.6v0.6h-0.6zM156.5 88.7h0.6v0.6h-0.6zM158.8 118.6h0.6v0.6h-0.6zM173.1 105.7h0.6v0.6h-0.6zM151.0 88.8h0.6v0.6h-0.6zM153.7 92.3h0.6v0.6h-0.6zM148.0 109.9h0.6v0.6h-0.6zM156.5 113.0h0.6v0.6h-0.6zM155.3 83.1h0.6v0.6h-0.6zM145.0 108.8h0.6v0.6h-0.6zM157.9 105.6h0.6v0.6h-0.6zM145.6 108.3h0.6v0.6h-0.6zM148.1 119.5h0.6v0.6h-0.6zM136.4 95.2h0.6v0.6h-0.6zM151.6 101.2h0.6v0.6h-0.6zM163.7 109.3h0.6v0.6h-0.6zM157.5 103.3h0.6v0.6h-0.6zM153.9 118.6h0.6v0.6h-0.6zM155.3 109.6h0.6v0.6h-0.6zM160.0 95.9h0.6v0.6h-0.6zM146.2 96.7h0.6v0.6h-0.6zM147.8 96.5h0.6v0.6h-0.6zM143.0 106.0h0.6v0.6h-0.6zM141.8 109.3h0.6v0.6h-0.6zM147.1 89.2h0.6v0.6h-0.6zM156.8 109.2h0.6v0.6h-0.6zM150.0 103.1h0.6v0.6h-0.6zM142.3 93.5h0.6v0.6h-0.6zM145.6 116.9h0.6v0.6h-0.6zM140.9 91.5h0.6v0.6h-0.6zM142.9 89.7h0.6v0.6h-0.6zM160.5 107.8h0.6v0.6h-0.6zM158.6 114.3h0.6v0.6h-0.6zM170.7 104.0h0.6v0.6h-0.6zM139.8 107.7h0.6v0.6h-0.6zM154.3 95.9h0.6v0.6h-0.6zM145.7 106.9h0.6v0.6h-0.6zM148.9 101.0h0.6v0.6h-0.6zM159.5 116.4h0.6v0.6h-0.6zM153.4 95.5h0.6v0.6h-0.6zM152.7 101.2h0.6v0.6h-0.6zM148.7 113.7h0.6v0.6h-0.6zM149.8 104.4h0.6v0.6h-0.6zM161.5 99.8h0.6v0.6h-0.6zM147.5 104.3h0.6v0.6h-0.6zM158.1 96.5h0.6v0.6h-0.6zM150.6 101.4h0.6v0.6h-0.6zM138.3 95.9h0.6v0.6h-0.6zM150.8 104.7h0.6v0.6h-0.6zM155.5 90.1h0.6v0.6h-0.6zM155.0 102.9h0.6v0.6h-0.6zM153.5 110.0h0.6v0.6h-0.6zM155.1 116.1h0.6v0.6h-0.6zM149.9 107.1h0.6v0.6h-0.6zM139.4 99.7h0.6v0.6h-0.6zM149.8 101.8h0.6v0.6h-0.6zM148.8 111.1h0.6v0.6h-0.6zM137.6 117.3h0.6v0.6h-0.6zM161.8 100.6h0.6v0.6h-0.6zM135.5 99.6h0.6v0.6h-0.6zM146.5 98.7h0.6v0.6h-0.6zM157.8 97.6h0.6v0.6h-0.6zM165.3 101.0h0.6v0.6h-0.6zM148.7 105.4h0.6v0.6h-0.6zM144.0 108.8h0.6v0.6h-0.6zM158.1 105.6h0.6v0.6h-0.6zM157.8 94.2h0.6v0.6h-0.6zM153.9 102.2h0.6v0.6h-0.6zM136.9 99.5h0.6v0.6h-0.6zM150.7 101.3h0.6v0.6h-0.6zM150.4 102.5h0.6v0.6h-0.6zM162.2 95.5h0.6v0.6h-0.6zM157.4 119.2h0.6v0.6h-0.6zM132.3 99.1h0.6v0.6h-0.6zM156.1 103.8h0.6v0.6h-0.6zM146.0 99.8h0.6v0.6h-0.6zM144.9 94.6h0.6v0.6h-0.6zM145.3 106.9h0.6v0.6h-0.6zM150.5 100.9h0.6v0.6h-0.6zM150.7 105.5h0.6v0.6h-0.6zM159.9 105.3h0.6v0.6h-0.6zM151.7 116.9h0.6v0.6h-0.6zM156.1 108.8h0.6v0.6h-0.6zM145.1 112.8h0.6v0.6h-0.6zM152.7 110.1h0.6v0.6h-0.6zM145.8 115.6h0.6v0.6h-0.6zM151.5 107.3h0.6v0.6h-0.6zM138.2 101.4h0.6v0.6h-0.6zM160.8 107.8h0.6v0.6h-0.6zM157.8 108.3h0.6v0.6h-0.6zM154.1 115.9h0.6v0.6h-0.6zM153.7 91.8h0.6v0.6h-0.6zM152.8 105.7h0.6v0.6h-0.6zM146.7 108.6h0.6v0.6h-0.6zM146.7 94.0h0.6v0.6h-0.6zM141.6 98.6h0.6v0.6h-0.6zM146.7 100.9h0.6v0.6h-0.6zM148.9 109.0h0.6v0.6h-0.6zM137.1 110.4h0.6v0.6h-0.6zM147.3 104.0h0.6v0.6h-0.6zM134.1 119.9h0.6v0.6h-0.6zM144.8 111.6h0.6v0.6h-0.6zM149.7 107.9h0.6v0.6h-0.6zM150.1 112.4h0.6v0.6h-0.6zM165.3 105.5h0.6v0.6h-0.6zM158.8 88.4h0.6v0.6h-0.6zM155.1 97.0h0.6v0.6h-0.6zM134.8 99.5h0.6v0.6h-0.6zM145.5 104.1h0.6v0.6h-0.6zM132.9 113.2h0.6v0.6h-0.6zM153.1 104.6h0.6v0.6h-0.6zM145.8 116.3h0.6v0.6h-0.6zM133.0 90.5h0.6v0.6h-0.6zM151.1 104.7h0.6v0.6h-0.6zM155.2 104.1h0.6v0.6h-0.6zM155.3 105.8h0.6v0.6h-0.6zM163.1 92.9h0.6v0.6h-0.6zM154.2 93.4h0.6v0.6h-0.6zM152.4 110.0h0.6v0.6h-0.6zM161.3 115.8h0.6v0.6h-0.6zM164.3 98.7h0.6v0.6h-0.6zM148.3 98.3h0.6v0.6h-0.6zM146.8 93.1h0.6v0.6h-0.6zM146.1 113.3h0.6v0.6h-0.6zM142.1 118.3h0.6v0.6h-0.6zM154.0 106.2h0.6v0.6h-0.6zM141.6 112.2h0.6v0.6h-0.6zM141.5 97.0h0.6v0.6h-0.6zM164.0 113.9h0.6v0.6h-0.6zM156.5 116.7h0.6v0.6h-0.6zM153.1 102.6h0.6v0.6h-0.6zM149.9 95.3h0.6v0.6h-0.6zM165.6 110.4h0.6v0.6h-0.6zM135.1 96.8h0.6v0.6h-0.6zM159.4 110.5h0.6v0.6h-0.6zM159.7 112.5h0.6v0.6h-0.6zM141.9 98.6h0.6v0.6h-0.6zM165.8 103.4h0.6v0.6h-0.6zM134.7 108.4h0.6v0.6h-0.6zM147.6 104.5h0.6v0.6h-0.6zM145.2 100.7h0.6v0.6h-0.6zM144.3 106.6h0.6v0.6h-0.6zM148.8 115.8h0.6v0.6h-0.6zM154.0 115.0h0.6v0.6h-0.6zM165.3 110.1h0.6v0.6h-0.6zM150.7 105.1h0.6v0.6h-0.6zM164.0 107.2h0.6v0.6h-0.6zM150.7 103.1h0.6v0.6h-0.6zM138.6 105.9h0.6v0.6h-0.6zM155.0 97.3h0.6v0.6h-0.6zM161.9 115.1h0.6v0.6h-0.6zM148.3 93.3h0.6v0.6h-0.6zM165.7 92.8h0.6v0.6h-0.6zM142.0 112.9h0.6v0.6h-0.6zM134.5 103.1h0.6v0.6h-0.6zM157.7 98.2h0.6v0.6h-0.6zM159.6 106.2h0.6v0.6h-0.6zM151.6 86.6h0.6v0.6h-0.6zM165.0 108.1h0.6v0.6h-0.6zM158.5 113.6h0.6v0.6h-0.6zM154.1 111.6h0.6v0.6h-0.6zM148.6 108.1h0.6v0.6h-0.6zM143.1 95.5h0.6v0.6h-0.6zM140.5 93.3h0.6v0.6h-0.6zM153.1 99.4h0.6v0.6h-0.6zM146.1 96.3h0.6v0.6h-0.6zM145.1 105.1h0.6v0.6h-0.6zM140.1 119.8h0.6v0.6h-0.6zM158.6 112.7h0.6v0.6h-0.6zM137.8 102.8h0.6v0.6h-0.6zM141.0 117.9h0.6v0.6h-0.6zM145.0 100.9h0.6v0.6h-0.6zM156.1 113.1h0.6v0.6h-0.6zM145.3 99.7h0.6v0.6h-0.6zM143.6 109.5h0.6v0.6h-0.6zM152.9 93.6h0.6v0.6h-0.6zM160.0 113.5h0.6v0.6h-0.6zM162.0 111.1h0.6v0.6h-0.6zM147.5 108.4h0.6v0.6h-0.6zM135.5 112.3h0.6v0.6h-0.6zM142.7 104.2h0.6v0.6h-0.6zM158.9 118.0h0.6v0.6h-0.6zM147.4 91.2h0.6v0.6h-0.6zM161.3 105.7h0.6v0.6h-0.6zM150.2 91.8h0.6v0.6h-0.6zM132.3 101.0h0.6v0.6h-0.6zM154.2 96.0h0.6v0.6h-0.6zM140.6 111.6h0.6v0.6h-0.6zM158.9 105.2h0.6v0.6h-0.6zM147.3 106.4h0.6v0.6h-0.6zM155.1 105.0h0.6v0.6h-0.6zM154.0 104.0h0.6v0.6h-0.6zM153.5 107.2h0.6v0.6h-0.6zM150.4 109.6h0.6v0.6h-0.6zM148.9 112.5h0.6v0.6h-0.6zM149.2 101.0h0.6v0.6h-0.6zM145.0 96.1h0.6v0.6h-0.6zM151.4 106.9h0.6v0.6h-0.6zM149.7 108.9h0.6v0.6h-0.6zM159.3 107.5h0.6v0.6h-0.6zM163.9 100.3h0.6v0.6h-0.6zM148.3 100.0h0.6v0.6h-0.6zM159.7 93.2h0.6v0.6h-0.6zM160.4 108.3h0.6v0.6h-0.6zM144.4 100.3h0.6v0.6h-0.6zM140.9 105.7h0.6v0.6h-0.6zM145.9 102.9h0.6v0.6h-0.6zM171.4 92.4h0.6v0.6h-0.6zM150.6 101.0h0.6v0.6h-0.6zM141.5 100.1h0.6v0.6h-0.6zM156.6 96.3h0.6v0.6h-0.6zM170.5 91.0h0.6v0.6h-0.6zM159.0 102.6h0.6v0.6h-0.6zM159.8 106.7h0.6v0.6h-0.6zM153.0 108.6h0.6v0.6h-0.6zM144.9 113.0h0.6v0.6h-0.6zM156.9 117.9h0.6v0.6h-0.6zM163.8 109.5h0.6v0.6h-0.6zM154.8 101.7h0.6v0.6h-0.6zM164.3 116.6h0.6v0.6h-0.6zM153.6 100.4h0.6v0.6h-0.6zM145.7 99.6h0.6v0.6h-0.6zM164.3 98.1h0.6v0.6h-0.6zM145.0 106.9h0.6v0.6h-0.6zM165.3 106.9h0.6v0.6h-0.6zM149.6 116.7h0.6v0.6h-0.6zM153.8 109.5h0.6v0.6h-0.6zM145.6 117.5h0.6v0.6h-0.6zM153.1 103.5h0.6v0.6h-0.6zM162.3 98.4h0.6v0.6h-0.6zM153.3 94.3h0.6v0.6h-0.6zM163.0 102.1h0.6v0.6h-0.6zM153.0 88.9h0.6v0.6h-0.6zM162.2 113.8h0.6v0.6h-0.6zM148.2 102.2h0.6v0.6h-0.6zM165.7 100.3h0.6v0.6h-0.6zM150.4 106.1h0.6v0.6h-0.6zM146.2 103.2h0.6v0.6h-0.6zM157.4 116.6h0.6v0.6h-0.6zM145.6 93.3h0.6v0.6h-0.6zM150.8 107.0h0.6v0.6h-0.6zM157.4 106.8h0.6v0.6h-0.6zM156.8 97.7h0.6v0.6h-0.6zM141.0 117.7h0.6v0.6h-0.6zM145.0 83.9h0.6v0.6h-0.6zM138.8 119.2h0.6v0.6h-0.6zM148.1 102.7h0.6v0.6h-0.6zM145.4 107.7h0.6v0.6h-0.6zM154.8 104.8h0.6v0.6h-0.6zM142.6 103.6h0.6v0.6h-0.6zM153.7 109.2h0.6v0.6h-0.6zM149.0 113.2h0.6v0.6h-0.6zM142.1 106.3h0.6v0.6h-0.6zM145.2 94.4h0.6v0.6h-0.6zM153.6 100.7h0.6v0.6h-0.6zM161.1 101.0h0.6v0.6h-0.6zM148.5 94.4h0.6v0.6h-0.6zM140.8 94.0h0.6v0.6h-0.6zM174.1 103.4h0.6v0.6h-0.6zM156.7 98.8h0.6v0.6h-0.6zM152.9 101.4h0.6v0.6h-0.6zM157.8 108.0h0.6v0.6h-0.6zM145.8 94.5h0.6v0.6h-0.6zM139.7 97.0h0.6v0.6h-0.6zM133.6 107.9h0.6v0.6h-0.6zM161.0 112.7h0.6v0.6h-0.6zM160.0 106.9h0.6v0.6h-0.6zM150.1 103.2h0.6v0.6h-0.6zM151.6 111.3h0.6v0.6h-0.6zM156.8 110.9h0.6v0.6h-0.6zM145.0 115.4h0.6v0.6h-0.6zM152.8 102.9h0.6v0.6h-0.6zM156.9 111.4h0.6v0.6h-0.6zM148.5 103.7h0.6v0.6h-0.6zM143.4 100.9h0.6v0.6h-0.6zM165.6 98.6h0.6v0.6h-0.6zM158.3 102.9h0.6v0.6h-0.6zM145.8 104.7h0.6v0.6h-0.6zM146.3 107.5h0.6v0.6h-0.6zM146.5 107.5h0.6v0.6h-0.6zM151.4 116.8h0.6v0.6h-0.6zM150.5 99.8h0.6v0.6h-0.6zM143.8 115.1h0.6v0.6h-0.6zM151.3 113.6h0.6v0.6h-0.6zM162.1 102.6h0.6v0.6h-0.6zM150.2 116.0h0.6v0.6h-0.6zM143.8 96.8h0.6v0.6h-0.6zM150.0 106.9h0.6v0.6h-0.6zM146.8 105.8h0.6v0.6h-0.6zM159.7 112.8h0.6v0.6h-0.6zM147.0 107.2h0.6v0.6h-0.6zM154.7 107.8h0.6v0.6h-0.6zM164.1 98.9h0.6v0.6h-0.6zM134.3 95.4h0.6v0.6h-0.6zM161.7 95.0h0.6v0.6h-0.6zM154.6 111.8h0.6v0.6h-0.6zM154.8 102.7h0.6v0.6h-0.6zM147.0 98.4h0.6v0.6h-0.6zM147.6 112.6h0.6v0.6h-0.6zM151.3 95.6h0.6v0.6h-0.6zM144.3 106.2h0.6v0.6h-0.6zM140.9 83.8h0.6v0.6h-0.6zM154.3 99.6h0.6v0.6h-0.6zM160.8 97.4h0.6v0.6h-0.6zM138.2 115.7h0.6v0.6h-0.6zM150.9 109.3h0.6v0.6h-0.6zM144.4 111.8h0.6v0.6h-0.6zM153.2 102.7h0.6v0.6h-0.6zM143.2 92.5h0.6v0.6h-0.6zM135.2 106.9h0.6v0.6h-0.6zM165.0 100.8h0.6v0.6h-0.6zM144.5 105.7h0.6v0.6h-0.6zM158.4 109.4h0.6v0.6h-0.6zM163.1 115.5h0.6v0.6h-0.6zM150.6 107.1h0.6v0.6h-0.6zM154.2 116.0h0.6v0.6h-0.6zM160.3 110.8h0.6v0.6h-0.6zM144.2 111.9h0.6v0.6h-0.6zM148.1 112.6h0.6v0.6h-0.6zM145.7 114.1h0.6v0.6h-0.6zM161.0 109.2h0.6v0.6h-0.6zM133.4 115.2h0.6v0.6h-0.6zM133.0 114.6h0.6v0.6h-0.6zM152.8 113.7h0.6v0.6h-0.6zM155.4 112.7h0.6v0.6h-0.6zM142.5 114.1h0.6v0.6h-0.6zM154.6 114.8h0.6v0.6h-0.6zM152.2 107.8h0.6v0.6h-0.6zM153.2 111.2h0.6v0.6h-0.6zM150.1 116.1h0.6v0.6h-0.6zM139.3 118.6h0.6v0.6h-0.6zM152.5 109.5h0.6v0.6h-0.6zM152.2 118.7h0.6v0.6h-0.6zM146.9 115.2h0.6v0.6h-0.6zM139.6 117.2h0.6v0.6h-0.6zM153.9 105.0h0.6v0.6h-0.6zM146.3 118.3h0.6v0.6h-0.6zM158.7 106.0h0.6v0.6h-0.6zM138.5 112.7h0.6v0.6h-0.6zM160.0 112.0h0.6v0.6h-0.6zM147.7 106.2h0.6v0.6h-0.6zM139.8 116.5h0.6v0.6h-0.6zM160.7 113.8h0.6v0.6h-0.6zM139.4 116.4h0.6v0.6h-0.6zM159.7 116.5h0.6v0.6h-0.6zM137.9 115.2h0.6v0.6h-0.6zM163.9 113.9h0.6v0.6h-0.6zM162.0 114.3h0.6v0.6h-0.6zM147.2 106.7h0.6v0.6h-0.6zM157.4 103.5h0.6v0.6h-0.6zM149.2 114.0h0.6v0.6h-0.6zM141.1 114.0h0.6v0.6h-0.6zM147.6 113.6h0.6v0.6h-0.6zM136.2 114.5h0.6v0.6h-0.6zM153.3 114.3h0.6v0.6h-0.6zM155.3 106.0h0.6v0.6h-0.6zM156.9 111.5h0.6v0.6h-0.6zM150.1 109.7h0.6v0.6h-0.6zM143.1 110.4h0.6v0.6h-0.6zM149.6 116.4h0.6v0.6h-0.6zM157.2 117.7h0.6v0.6h-0.6zM157.5 112.5h0.6v0.6h-0.6zM150.8 107.7h0.6v0.6h-0.6zM146.9 112.9h0.6v0.6h-0.6zM144.6 110.9h0.6v0.6h-0.6zM141.3 112.0h0.6v0.6h-0.6zM144.0 116.9h0.6v0.6h-0.6zM152.0 112.7h0.6v0.6h-0.6zM147.5 114.8h0.6v0.6h-0.6zM144.9 110.8h0.6v0.6h-0.6zM142.1 114.4h0.6v0.6h-0.6zM143.4 119.7h0.6v0.6h-0.6zM164.4 110.7h0.6v0.6h-0.6zM144.6 116.3h0.6v0.6h-0.6zM164.3 112.3h0.6v0.6h-0.6zM146.6 114.5h0.6v0.6h-0.6zM158.7 113.8h0.6v0.6h-0.6zM144.6 116.2h0.6v0.6h-0.6zM153.0 109.1h0.6v0.6h-0.6zM157.2 110.7h0.6v0.6h-0.6zM149.7 114.6h0.6v0.6h-0.6zM149.8 110.1h0.6v0.6h-0.6zM151.2 110.8h0.6v0.6h-0.6zM148.8 108.6h0.6v0.6h-0.6zM157.5 107.5h0.6v0.6h-0.6zM151.5 114.1h0.6v0.6h-0.6zM137.7 116.1h0.6v0.6h-0.6zM146.8 112.4h0.6v0.6h-0.6zM156.9 112.7h0.6v0.6h-0.6zM158.7 113.3h0.6v0.6h-0.6zM138.8 115.0h0.6v0.6h-0.6zM155.4 114.1h0.6v0.6h-0.6zM154.3 113.2h0.6v0.6h-0.6zM157.0 108.5h0.6v0.6h-0.6zM145.8 107.6h0.6v0.6h-0.6zM151.7 115.6h0.6v0.6h-0.6zM141.7 114.8h0.6v0.6h-0.6zM148.0 113.5h0.6v0.6h-0.6zM151.1 115.4h0.6v0.6h-0.6zM140.6 114.5h0.6v0.6h-0.6zM144.2 113.4h0.6v0.6h-0.6zM147.2 115.5h0.6v0.6h-0.6zM140.7 115.2h0.6v0.6h-0.6zM139.5 110.1h0.6v0.6h-0.6zM143.9 108.7h0.6v0.6h-0.6zM161.0 114.8h0.6v0.6h-0.6zM158.2 111.9h0.6v0.6h-0.6zM154.7 113.7h0.6v0.6h-0.6zM145.1 114.7h0.6v0.6h-0.6zM155.1 116.9h0.6v0.6h-0.6zM157.3 114.0h0.6v0.6h-0.6zM140.2 114.9h0.6v0.6h-0.6zM153.1 112.1h0.6v0.6h-0.6zM140.7 117.3h0.6v0.6h-0.6zM144.9 114.7h0.6v0.6h-0.6zM147.1 107.9h0.6v0.6h-0.6zM163.2 115.4h0.6v0.6h-0.6zM137.4 115.0h0.6v0.6h-0.6zM149.7 111.3h0.6v0.6h-0.6zM143.4 114.5h0.6v0.6h-0.6zM137.1 113.2h0.6v0.6h-0.6zM140.3 112.9h0.6v0.6h-0.6zM166.1 106.8h0.6v0.6h-0.6zM155.5 112.9h0.6v0.6h-0.6zM151.8 114.5h0.6v0.6h-0.6zM141.5 109.1h0.6v0.6h-0.6zM143.9 111.8h0.6v0.6h-0.6zM160.7 118.1h0.6v0.6h-0.6zM158.5 112.9h0.6v0.6h-0.6zM143.7 115.6h0.6v0.6h-0.6zM148.4 112.6h0.6v0.6h-0.6zM136.5 116.8h0.6v0.6h-0.6zM156.4 117.3h0.6v0.6h-0.6zM142.1 109.3h0.6v0.6h-0.6zM149.7 110.5h0.6v0.6h-0.6zM135.6 109.9h0.6v0.6h-0.6zM151.3 116.4h0.6v0.6h-0.6zM154.7 116.8h0.6v0.6h-0.6zM153.8 109.0h0.6v0.6h-0.6zM153.9 115.5h0.6v0.6h-0.6zM151.2 113.0h0.6v0.6h-0.6zM153.9 117.5h0.6v0.6h-0.6zM152.4 117.1h0.6v0.6h-0.6zM145.6 113.3h0.6v0.6h-0.6zM160.8 110.4h0.6v0.6h-0.6zM153.0 109.5h0.6v0.6h-0.6zM158.1 115.1h0.6v0.6h-0.6zM159.1 114.8h0.6v0.6h-0.6zM170.1 112.4h0.6v0.6h-0.6zM159.6 119.2h0.6v0.6h-0.6zM152.9 111.6h0.6v0.6h-0.6zM132.0 115.9h0.6v0.6h-0.6zM140.9 107.3h0.6v0.6h-0.6zM149.5 117.4h0.6v0.6h-0.6zM148.2 119.9h0.6v0.6h-0.6zM148.6 114.2h0.6v0.6h-0.6zM144.7 115.8h0.6v0.6h-0.6zM140.5 109.9h0.6v0.6h-0.6zM146.8 116.9h0.6v0.6h-0.6zM147.6 113.4h0.6v0.6h-0.6zM153.0 110.5h0.6v0.6h-0.6zM138.8 115.1h0.6v0.6h-0.6zM162.6 115.2h0.6v0.6h-0.6zM154.2 111.8h0.6v0.6h-0.6zM156.8 116.7h0.6v0.6h-0.6zM152.6 110.5h0.6v0.6h-0.6zM155.5 115.0h0.6v0.6h-0.6zM139.0 113.4h0.6v0.6h-0.6zM168.4 108.4h0.6v0.6h-0.6zM151.3 109.3h0.6v0.6h-0.6zM139.3 109.1h0.6v0.6h-0.6zM141.9 118.8h0.6v0.6h-0.6zM147.5 107.4h0.6v0.6h-0.6zM139.3 115.0h0.6v0.6h-0.6zM148.1 118.4h0.6v0.6h-0.6zM154.1 116.2h0.6v0.6h-0.6zM140.4 113.4h0.6v0.6h-0.6zM164.3 113.6h0.6v0.6h-0.6zM150.7 117.9h0.6v0.6h-0.6zM137.1 108.0h0.6v0.6h-0.6zM151.2 119.7h0.6v0.6h-0.6zM150.2 116.8h0.6v0.6h-0.6zM135.4 107.1h0.6v0.6h-0.6zM154.1 109.6h0.6v0.6h-0.6zM146.5 108.8h0.6v0.6h-0.6zM154.4 110.5h0.6v0.6h-0.6zM160.2 108.0h0.6v0.6h-0.6zM159.1 111.2h0.6v0.6h-0.6zM158.6 111.9h0.6v0.6h-0.6zM146.4 117.4h0.6v0.6h-0.6zM138.9 117.5h0.6v0.6h-0.6zM147.8 109.0h0.6v0.6h-0.6zM141.9 107.9h0.6v0.6h-0.6zM140.9 111.3h0.6v0.6h-0.6zM148.7 110.3h0.6v0.6h-0.6zM159.7 109.7h0.6v0.6h-0.6zM152.2 114.8h0.6v0.6h-0.6zM145.6 116.5h0.6v0.6h-0.6zM146.8 115.0h0.6v0.6h-0.6zM160.5 108.0h0.6v0.6h-0.6zM159.9 118.2h0.6v0.6h-0.6zM148.5 115.2h0.6v0.6h-0.6zM151.7 104.3h0.6v0.6h-0.6zM146.6 117.0h0.6v0.6h-0.6zM144.2 110.0h0.6v0.6h-0.6zM133.2 109.7h0.6v0.6h-0.6zM148.5 112.9h0.6v0.6h-0.6zM142.9 108.1h0.6v0.6h-0.6zM137.5 106.2h0.6v0.6h-0.6zM152.1 111.7h0.6v0.6h-0.6zM150.3 114.8h0.6v0.6h-0.6zM135.6 112.9h0.6v0.6h-0.6zM159.5 114.4h0.6v0.6h-0.6zM158.8 114.8h0.6v0.6h-0.6zM143.7 114.6h0.6v0.6h-0.6zM145.3 115.1h0.6v0.6h-0.6zM158.3 109.3h0.6v0.6h-0.6zM156.4 105.3h0.6v0.6h-0.6zM162.3 110.4h0.6v0.6h-0.6zM141.4 116.6h0.6v0.6h-0.6zM154.4 115.6h0.6v0.6h-0.6zM152.5 106.9h0.6v0.6h-0.6zM143.4 117.2h0.6v0.6h-0.6zM141.3 117.1h0.6v0.6h-0.6zM143.5 111.4h0.6v0.6h-0.6zM146.0 114.8h0.6v0.6h-0.6zM156.1 113.3h0.6v0.6h-0.6zM147.7 117.3h0.6v0.6h-0.6zM155.9 114.6h0.6v0.6h-0.6zM153.4 110.5h0.6v0.6h-0.6zM158.7 116.9h0.6v0.6h-0.6zM156.5 115.7h0.6v0.6h-0.6zM147.9 113.5h0.6v0.6h-0.6zM163.3 112.0h0.6v0.6h-0.6zM149.6 109.3h0.6v0.6h-0.6zM143.6 112.2h0.6v0.6h-0.6zM149.6 112.7h0.6v0.6h-0.6zM133.0 112.7h0.6v0.6h-0.6zM146.4 119.2h0.6v0.6h-0.6zM161.6 114.6h0.6v0.6h-0.6zM157.6 113.8h0.6v0.6h-0.6zM156.7 118.2h0.6v0.6h-0.6zM148.6 109.0h0.6v0.6h-0.6zM152.9 109.1h0.6v0.6h-0.6zM147.4 117.9h0.6v0.6h-0.6zM145.2 111.4h0.6v0.6h-0.6zM151.5 111.1h0.6v0.6h-0.6zM151.7 112.1h0.6v0.6h-0.6zM143.1 109.4h0.6v0.6h-0.6zM149.1 114.6h0.6v0.6h-0.6zM140.5 112.4h0.6v0.6h-0.6zM146.1 110.1h0.6v0.6h-0.6zM164.7 119.9h0.6v0.6h-0.6zM146.6 116.3h0.6v0.6h-0.6zM145.3 111.6h0.6v0.6h-0.6zM159.2 116.0h0.6v0.6h-0.6zM157.4 118.3h0.6v0.6h-0.6zM148.9 111.8h0.6v0.6h-0.6zM165.1 111.1h0.6v0.6h-0.6zM158.5 118.0h0.6v0.6h-0.6zM143.4 117.8h0.6v0.6h-0.6zM157.8 112.6h0.6v0.6h-0.6zM159.6 113.5h0.6v0.6h-0.6zM160.3 110.4h0.6v0.6h-0.6zM144.0 116.6h0.6v0.6h-0.6zM157.8 117.5h0.6v0.6h-0.6zM145.2 115.3h0.6v0.6h-0.6zM143.5 117.3h0.6v0.6h-0.6zM151.4 111.2h0.6v0.6h-0.6zM147.1 115.5h0.6v0.6h-0.6zM133.0 111.2h0.6v0.6h-0.6zM161.2 105.6h0.6v0.6h-0.6zM152.9 116.8h0.6v0.6h-0.6zM134.0 109.1h0.6v0.6h-0.6zM136.7 108.2h0.6v0.6h-0.6zM146.9 105.5h0.6v0.6h-0.6zM154.6 114.2h0.6v0.6h-0.6zM153.2 110.9h0.6v0.6h-0.6zM138.3 114.5h0.6v0.6h-0.6zM146.9 113.7h0.6v0.6h-0.6zM137.8 111.0h0.6v0.6h-0.6zM142.2 110.4h0.6v0.6h-0.6zM148.4 112.4h0.6v0.6h-0.6zM149.5 113.2h0.6v0.6h-0.6zM147.4 117.2h0.6v0.6h-0.6zM149.9 117.9h0.6v0.6h-0.6zM151.1 112.5h0.6v0.6h-0.6zM150.8 115.0h0.6v0.6h-0.6zM149.4 112.4h0.6v0.6h-0.6zM143.8 114.6h0.6v0.6h-0.6zM147.4 115.8h0.6v0.6h-0.6zM154.0 119.5h0.6v0.6h-0.6zM145.3 114.3h0.6v0.6h-0.6zM161.4 113.8h0.6v0.6h-0.6zM143.9 114.5h0.6v0.6h-0.6zM150.4 115.4h0.6v0.6h-0.6zM150.3 117.0h0.6v0.6h-0.6zM148.0 110.5h0.6v0.6h-0.6zM148.6 109.1h0.6v0.6h-0.6zM131.8 112.6h0.6v0.6h-0.6zM155.2 115.2h0.6v0.6h-0.6zM153.0 120.0h0.6v0.6h-0.6zM156.2 113.6h0.6v0.6h-0.6zM146.4 111.5h0.6v0.6h-0.6zM142.7 114.0h0.6v0.6h-0.6zM132.0 114.2h0.6v0.6h-0.6zM141.9 110.5h0.6v0.6h-0.6zM135.9 112.6h0.6v0.6h-0.6zM145.4 114.6h0.6v0.6h-0.6zM156.4 108.9h0.6v0.6h-0.6zM143.0 109.0h0.6v0.6h-0.6zM164.0 103.1h0.6v0.6h-0.6zM156.3 114.7h0.6v0.6h-0.6zM152.0 114.3h0.6v0.6h-0.6zM148.1 109.6h0.6v0.6h-0.6zM162.3 108.7h0.6v0.6h-0.6zM137.0 115.5h0.6v0.6h-0.6zM155.4 102.6h0.6v0.6h-0.6zM145.6 116.2h0.6v0.6h-0.6zM136.0 115.7h0.6v0.6h-0.6zM137.5 115.4h0.6v0.6h-0.6zM147.4 119.3h0.6v0.6h-0.6zM156.9 117.3h0.6v0.6h-0.6zM143.6 118.9h0.6v0.6h-0.6zM151.8 105.2h0.6v0.6h-0.6zM143.2 117.0h0.6v0.6h-0.6zM156.6 114.7h0.6v0.6h-0.6zM144.5 113.0h0.6v0.6h-0.6zM152.6 116.9h0.6v0.6h-0.6zM147.0 110.2h0.6v0.6h-0.6zM143.9 117.5h0.6v0.6h-0.6zM149.4 108.5h0.6v0.6h-0.6zM136.7 115.8h0.6v0.6h-0.6zM141.9 109.8h0.6v0.6h-0.6zM150.1 108.7h0.6v0.6h-0.6zM154.6 116.1h0.6v0.6h-0.6zM143.3 112.6h0.6v0.6h-0.6zM147.1 113.2h0.6v0.6h-0.6zM150.5 114.6h0.6v0.6h-0.6zM148.3 114.1h0.6v0.6h-0.6zM148.6 117.8h0.6v0.6h-0.6zM153.3 112.4h0.6v0.6h-0.6zM154.7 113.0h0.6v0.6h-0.6zM156.7 112.3h0.6v0.6h-0.6zM150.3 111.4h0.6v0.6h-0.6zM140.3 116.9h0.6v0.6h-0.6zM144.4 117.4h0.6v0.6h-0.6zM154.0 116.3h0.6v0.6h-0.6zM158.5 111.8h0.6v0.6h-0.6zM141.7 119.6h0.6v0.6h-0.6zM140.1 108.7h0.6v0.6h-0.6zM164.0 117.4h0.6v0.6h-0.6zM164.8 110.1h0.6v0.6h-0.6zM158.7 119.4h0.6v0.6h-0.6zM159.4 119.2h0.6v0.6h-0.6zM151.9 117.6h0.6v0.6h-0.6zM146.4 117.0h0.6v0.6h-0.6zM141.0 112.8h0.6v0.6h-0.6zM159.7 110.6h0.6v0.6h-0.6zM154.1 117.1h0.6v0.6h-0.6zM158.3 109.8h0.6v0.6h-0.6zM143.3 113.5h0.6v0.6h-0.6zM137.3 114.2h0.6v0.6h-0.6zM144.7 110.4h0.6v0.6h-0.6zM159.8 120.0h0.6v0.6h-0.6zM159.4 114.0h0.6v0.6h-0.6zM147.4 114.6h0.6v0.6h-0.6zM144.8 113.9h0.6v0.6h-0.6zM151.9 107.8h0.6v0.6h-0.6zM159.0 107.0h0.6v0.6h-0.6zM145.5 112.1h0.6v0.6h-0.6zM152.2 110.9h0.6v0.6h-0.6zM147.0 105.2h0.6v0.6h-0.6zM139.5 119.0h0.6v0.6h-0.6zM147.2 116.6h0.6v0.6h-0.6zM151.5 112.8h0.6v0.6h-0.6zM150.4 116.4h0.6v0.6h-0.6zM143.5 111.7h0.6v0.6h-0.6zM144.5 111.5h0.6v0.6h-0.6zM147.4 116.5h0.6v0.6h-0.6zM157.4 111.7h0.6v0.6h-0.6zM153.2 108.4h0.6v0.6h-0.6zM136.7 110.9h0.6v0.6h-0.6zM136.1 119.5h0.6v0.6h-0.6zM158.8 115.6h0.6v0.6h-0.6zM160.3 117.1h0.6v0.6h-0.6zM155.3 109.8h0.6v0.6h-0.6zM153.8 114.0h0.6v0.6h-0.6zM151.6 115.2h0.6v0.6h-0.6zM143.8 116.5h0.6v0.6h-0.6zM154.8 114.7h0.6v0.6h-0.6zM147.0 110.9h0.6v0.6h-0.6zM139.1 112.9h0.6v0.6h-0.6zM136.3 111.0h0.6v0.6h-0.6zM143.2 118.2h0.6v0.6h-0.6zM147.7 113.7h0.6v0.6h-0.6zM149.3 115.3h0.6v0.6h-0.6zM149.5 115.1h0.6v0.6h-0.6zM142.4 116.1h0.6v0.6h-0.6zM158.9 109.1h0.6v0.6h-0.6zM135.9 112.4h0.6v0.6h-0.6zM149.7 112.6h0.6v0.6h-0.6zM145.3 104.8h0.6v0.6h-0.6zM152.6 114.9h0.6v0.6h-0.6zM158.0 112.4h0.6v0.6h-0.6zM146.9 112.4h0.6v0.6h-0.6zM154.6 118.3h0.6v0.6h-0.6zM140.4 111.9h0.6v0.6h-0.6zM151.6 110.2h0.6v0.6h-0.6zM147.6 116.1h0.6v0.6h-0.6zM158.1 116.2h0.6v0.6h-0.6zM147.7 113.4h0.6v0.6h-0.6zM152.1 116.9h0.6v0.6h-0.6zM150.3 114.4h0.6v0.6h-0.6zM131.8 118.3h0.6v0.6h-0.6zM144.2 115.5h0.6v0.6h-0.6zM148.7 107.2h0.6v0.6h-0.6zM140.2 116.6h0.6v0.6h-0.6zM140.0 112.5h0.6v0.6h-0.6zM149.8 114.0h0.6v0.6h-0.6zM155.5 111.7h0.6v0.6h-0.6zM138.7 113.5h0.6v0.6h-0.6zM144.2 110.2h0.6v0.6h-0.6zM144.0 113.7h0.6v0.6h-0.6zM136.3 118.5h0.6v0.6h-0.6zM153.0 117.4h0.6v0.6h-0.6zM150.0 110.8h0.6v0.6h-0.6zM151.5 116.8h0.6v0.6h-0.6zM147.6 111.0h0.6v0.6h-0.6zM164.3 118.0h0.6v0.6h-0.6zM142.6 115.9h0.6v0.6h-0.6zM154.3 116.9h0.6v0.6h-0.6zM137.7 109.6h0.6v0.6h-0.6zM146.2 115.5h0.6v0.6h-0.6zM145.1 117.1h0.6v0.6h-0.6zM153.2 113.9h0.6v0.6h-0.6zM159.4 111.5h0.6v0.6h-0.6zM142.2 117.1h0.6v0.6h-0.6zM152.4 118.0h0.6v0.6h-0.6zM157.2 104.4h0.6v0.6h-0.6zM144.1 120.0h0.6v0.6h-0.6zM157.7 108.6h0.6v0.6h-0.6zM150.1 112.5h0.6v0.6h-0.6zM153.4 119.6h0.6v0.6h-0.6zM143.5 116.4h0.6v0.6h-0.6zM160.0 108.4h0.6v0.6h-0.6zM148.2 113.7h0.6v0.6h-0.6zM157.4 114.1h0.6v0.6h-0.6zM152.6 115.5h0.6v0.6h-0.6zM163.7 116.9h0.6v0.6h-0.6zM156.1 114.5h0.6v0.6h-0.6zM148.6 110.1h0.6v0.6h-0.6zM137.2 108.5h0.6v0.6h-0.6zM159.2 111.6h0.6v0.6h-0.6zM144.3 111.2h0.6v0.6h-0.6zM139.4 116.6h0.6v0.6h-0.6zM158.1 113.6h0.6v0.6h-0.6zM153.4 118.9h0.6v0.6h-0.6zM151.5 116.9h0.6v0.6h-0.6zM146.1 115.0h0.6v0.6h-0.6zM156.1 115.8h0.6v0.6h-0.6zM140.4 109.5h0.6v0.6h-0.6zM153.6 114.8h0.6v0.6h-0.6zM154.1 109.9h0.6v0.6h-0.6zM139.4 108.5h0.6v0.6h-0.6zM151.9 118.1h0.6v0.6h-0.6zM161.5 117.8h0.6v0.6h-0.6zM156.6 112.6h0.6v0.6h-0.6zM155.8 113.8h0.6v0.6h-0.6zM143.5 111.3h0.6v0.6h-0.6zM142.5 116.2h0.6v0.6h-0.6zM150.1 113.7h0.6v0.6h-0.6zM171.3 119.0h0.6v0.6h-0.6zM138.7 113.4h0.6v0.6h-0.6zM139.6 119.0h0.6v0.6h-0.6zM146.1 110.8h0.6v0.6h-0.6zM164.4 110.1h0.6v0.6h-0.6zM141.0 108.9h0.6v0.6h-0.6zM161.3 117.6h0.6v0.6h-0.6zM152.3 111.5h0.6v0.6h-0.6zM165.0 111.3h0.6v0.6h-0.6zM160.0 110.5h0.6v0.6h-0.6zM161.2 115.5h0.6v0.6h-0.6zM153.7 113.9h0.6v0.6h-0.6zM139.7 118.3h0.6v0.6h-0.6zM154.4 113.7h0.6v0.6h-0.6zM145.2 119.5h0.6v0.6h-0.6zM143.8 111.1h0.6v0.6h-0.6zM145.7 115.6h0.6v0.6h-0.6zM161.2 116.9h0.6v0.6h-0.6zM162.0 107.3h0.6v0.6h-0.6zM148.5 107.9h0.6v0.6h-0.6zM161.6 112.8h0.6v0.6h-0.6zM155.4 115.8h0.6v0.6h-0.6zM150.3 115.2h0.6v0.6h-0.6zM140.2 113.3h0.6v0.6h-0.6zM148.0 108.4h0.6v0.6h-0.6zM145.9 119.6h0.6v0.6h-0.6zM153.7 115.3h0.6v0.6h-0.6zM146.8 112.7h0.6v0.6h-0.6zM153.0 109.5h0.6v0.6h-0.6zM151.7 116.3h0.6v0.6h-0.6zM151.1 116.2h0.6v0.6h-0.6zM159.9 109.8h0.6v0.6h-0.6zM139.7 114.0h0.6v0.6h-0.6zM151.6 112.7h0.6v0.6h-0.6zM162.2 110.3h0.6v0.6h-0.6zM141.9 114.1h0.6v0.6h-0.6zM165.7 114.7h0.6v0.6h-0.6zM158.8 108.8h0.6v0.6h-0.6zM160.2 115.4h0.6v0.6h-0.6zM158.1 118.9h0.6v0.6h-0.6zM159.1 116.6h0.6v0.6h-0.6zM145.8 112.3h0.6v0.6h-0.6zM157.6 112.7h0.6v0.6h-0.6zM142.6 116.1h0.6v0.6h-0.6zM147.6 112.3h0.6v0.6h-0.6zM139.4 110.1h0.6v0.6h-0.6zM147.4 116.4h0.6v0.6h-0.6zM159.4 110.6h0.6v0.6h-0.6zM156.1 114.8h0.6v0.6h-0.6zM160.9 113.4h0.6v0.6h-0.6zM158.9 117.6h0.6v0.6h-0.6zM155.0 114.3h0.6v0.6h-0.6zM148.6 109.1h0.6v0.6h-0.6zM152.6 114.2h0.6v0.6h-0.6zM152.0 109.9h0.6v0.6h-0.6zM155.1 109.8h0.6v0.6h-0.6zM150.9 113.0h0.6v0.6h-0.6zM150.4 115.1h0.6v0.6h-0.6zM149.0 111.2h0.6v0.6h-0.6zM147.4 114.8h0.6v0.6h-0.6zM153.8 115.3h0.6v0.6h-0.6zM164.2 112.2h0.6v0.6h-0.6zM146.6 108.9h0.6v0.6h-0.6zM157.5 116.1h0.6v0.6h-0.6zM151.6 118.6h0.6v0.6h-0.6zM150.5 115.3h0.6v0.6h-0.6zM154.0 114.3h0.6v0.6h-0.6zM139.3 110.5h0.6v0.6h-0.6zM150.0 112.6h0.6v0.6h-0.6zM135.5 105.7h0.6v0.6h-0.6zM149.1 107.3h0.6v0.6h-0.6zM154.8 115.3h0.6v0.6h-0.6zM143.4 113.7h0.6v0.6h-0.6zM153.1 111.5h0.6v0.6h-0.6zM148.7 112.0h0.6v0.6h-0.6zM155.0 115.0h0.6v0.6h-0.6zM147.4 118.0h0.6v0.6h-0.6zM147.0 116.7h0.6v0.6h-0.6zM151.8 112.6h0.6v0.6h-0.6zM163.7 119.9h0.6v0.6h-0.6zM136.8 117.4h0.6v0.6h-0.6zM147.3 113.9h0.6v0.6h-0.6zM144.3 111.7h0.6v0.6h-0.6zM140.4 113.7h0.6v0.6h-0.6zM153.8 116.0h0.6v0.6h-0.6zM152.1 114.3h0.6v0.6h-0.6zM153.0 112.1h0.6v0.6h-0.6zM153.3 119.0h0.6v0.6h-0.6zM146.6 109.8h0.6v0.6h-0.6zM150.4 111.7h0.6v0.6h-0.6zM155.1 111.1h0.6v0.6h-0.6zM141.2 113.3h0.6v0.6h-0.6zM135.0 117.2h0.6v0.6h-0.6zM147.6 113.6h0.6v0.6h-0.6zM151.7 113.0h0.6v0.6h-0.6zM159.2 115.3h0.6v0.6h-0.6zM154.0 116.7h0.6v0.6h-0.6zM161.9 117.4h0.6v0.6h-0.6zM143.8 117.8h0.6v0.6h-0.6zM147.3 115.2h0.6v0.6h-0.6zM154.9 107.6h0.6v0.6h-0.6zM146.3 113.3h0.6v0.6h-0.6zM152.6 114.4h0.6v0.6h-0.6zM157.1 113.3h0.6v0.6h-0.6zM142.0 111.2h0.6v0.6h-0.6zM138.9 114.6h0.6v0.6h-0.6zM144.1 109.8h0.6v0.6h-0.6zM158.2 114.5h0.6v0.6h-0.6zM153.2 111.0h0.6v0.6h-0.6zM155.9 118.7h0.6v0.6h-0.6zM152.9 116.8h0.6v0.6h-0.6zM150.6 112.0h0.6v0.6h-0.6zM145.3 112.0h0.6v0.6h-0.6zM157.5 109.7h0.6v0.6h-0.6zM152.8 115.1h0.6v0.6h-0.6zM131.4 118.6h0.6v0.6h-0.6zM163.5 118.3h0.6v0.6h-0.6zM151.4 114.6h0.6v0.6h-0.6zM165.4 115.1h0.6v0.6h-0.6zM153.1 117.4h0.6v0.6h-0.6zM138.1 109.6h0.6v0.6h-0.6zM149.7 114.5h0.6v0.6h-0.6zM151.0 113.6h0.6v0.6h-0.6zM161.1 109.5h0.6v0.6h-0.6zM137.7 111.6h0.6v0.6h-0.6zM159.4 109.7h0.6v0.6h-0.6zM145.6 115.1h0.6v0.6h-0.6zM148.0 111.5h0.6v0.6h-0.6zM154.3 110.0h0.6v0.6h-0.6zM161.9 110.1h0.6v0.6h-0.6zM156.6 117.5h0.6v0.6h-0.6zM141.8 115.5h0.6v0.6h-0.6zM146.7 113.0h0.6v0.6h-0.6zM148.8 115.6h0.6v0.6h-0.6zM155.1 115.6h0.6v0.6h-0.6zM154.1 116.2h0.6v0.6h-0.6zM135.3 118.9h0.6v0.6h-0.6zM135.7 117.3h0.6v0.6h-0.6zM153.5 113.8h0.6v0.6h-0.6zM151.9 115.1h0.6v0.6h-0.6zM154.7 117.3h0.6v0.6h-0.6zM148.2 113.8h0.6v0.6h-0.6zM147.2 110.3h0.6v0.6h-0.6zM142.6 112.3h0.6v0.6h-0.6zM135.5 117.8h0.6v0.6h-0.6zM134.6 112.6h0.6v0.6h-0.6zM160.4 116.6h0.6v0.6h-0.6zM142.5 118.5h0.6v0.6h-0.6zM148.8 107.8h0.6v0.6h-0.6zM136.3 116.6h0.6v0.6h-0.6zM152.2 112.8h0.6v0.6h-0.6zM156.1 114.4h0.6v0.6h-0.6zM166.5 112.5h0.6v0.6h-0.6zM138.1 111.9h0.6v0.6h-0.6zM143.7 116.1h0.6v0.6h-0.6zM160.0 114.2h0.6v0.6h-0.6zM158.0 118.0h0.6v0.6h-0.6zM162.3 110.4h0.6v0.6h-0.6zM143.7 115.7h0.6v0.6h-0.6zM160.1 116.0h0.6v0.6h-0.6zM161.9 113.1h0.6v0.6h-0.6zM143.7 110.6h0.6v0.6h-0.6zM160.1 112.9h0.6v0.6h-0.6zM144.8 118.8h0.6v0.6h-0.6zM144.5 117.4h0.6v0.6h-0.6zM153.5 115.5h0.6v0.6h-0.6zM136.3 109.8h0.6v0.6h-0.6zM137.5 95.8h0.6v0.6h-0.6zM133.2 109.9h0.6v0.6h-0.6zM133.4 103.0h0.6v0.6h-0.6zM135.8 111.9h0.6v0.6h-0.6zM138.6 101.9h0.6v0.6h-0.6zM137.1 106.8h0.6v0.6h-0.6zM134.8 111.5h0.6v0.6h-0.6zM133.1 98.9h0.6v0.6h-0.6zM132.7 109.2h0.6v0.6h-0.6zM132.9 108.1h0.6v0.6h-0.6zM138.6 99.7h0.6v0.6h-0.6zM134.6 101.8h0.6v0.6h-0.6zM135.3 97.4h0.6v0.6h-0.6zM132.3 107.2h0.6v0.6h-0.6zM132.7 100.3h0.6v0.6h-0.6zM133.4 99.3h0.6v0.6h-0.6zM133.9 108.9h0.6v0.6h-0.6zM137.4 107.1h0.6v0.6h-0.6zM134.9 103.5h0.6v0.6h-0.6zM133.4 106.6h0.6v0.6h-0.6zM131.8 108.2h0.6v0.6h-0.6zM136.3 96.4h0.6v0.6h-0.6zM137.8 95.5h0.6v0.6h-0.6zM133.0 99.7h0.6v0.6h-0.6zM132.4 111.8h0.6v0.6h-0.6zM133.1 103.7h0.6v0.6h-0.6zM131.6 119.7h0.6v0.6h-0.6zM134.4 100.2h0.6v0.6h-0.6zM137.5 104.8h0.6v0.6h-0.6zM131.6 110.8h0.6v0.6h-0.6zM134.6 109.1h0.6v0.6h-0.6zM133.7 95.7h0.6v0.6h-0.6zM131.9 98.6h0.6v0.6h-0.6zM136.8 117.0h0.6v0.6h-0.6zM134.3 101.1h0.6v0.6h-0.6zM135.3 98.4h0.6v0.6h-0.6zM138.7 91.5h0.6v0.6h-0.6zM137.0 116.5h0.6v0.6h-0.6zM135.7 101.0h0.6v0.6h-0.6zM133.9 112.9h0.6v0.6h-0.6zM136.0 102.9h0.6v0.6h-0.6zM133.1 105.5h0.6v0.6h-0.6zM140.5 108.9h0.6v0.6h-0.6zM132.2 103.4h0.6v0.6h-0.6zM134.0 103.0h0.6v0.6h-0.6zM134.5 108.8h0.6v0.6h-0.6zM134.0 111.0h0.6v0.6h-0.6zM132.4 95.8h0.6v0.6h-0.6zM134.6 109.9h0.6v0.6h-0.6zM139.0 108.1h0.6v0.6h-0.6zM136.2 110.3h0.6v0.6h-0.6zM135.3 108.0h0.6v0.6h-0.6zM139.2 98.2h0.6v0.6h-0.6zM136.2 99.6h0.6v0.6h-0.6zM133.3 95.9h0.6v0.6h-0.6zM133.6 108.3h0.6v0.6h-0.6zM134.2 111.2h0.6v0.6h-0.6zM133.6 101.7h0.6v0.6h-0.6zM135.9 105.5h0.6v0.6h-0.6zM135.6 102.6h0.6v0.6h-0.6zM133.1 119.0h0.6v0.6h-0.6zM138.2 97.0h0.6v0.6h-0.6zM135.5 116.1h0.6v0.6h-0.6zM135.3 105.7h0.6v0.6h-0.6zM137.9 99.0h0.6v0.6h-0.6zM134.1 104.2h0.6v0.6h-0.6zM141.2 102.3h0.6v0.6h-0.6zM133.8 113.7h0.6v0.6h-0.6zM132.4 115.0h0.6v0.6h-0.6zM133.5 111.7h0.6v0.6h-0.6zM136.6 112.3h0.6v0.6h-0.6zM133.4 101.4h0.6v0.6h-0.6zM132.7 101.7h0.6v0.6h-0.6zM134.2 105.7h0.6v0.6h-0.6zM136.7 104.2h0.6v0.6h-0.6zM135.9 100.9h0.6v0.6h-0.6zM135.0 107.1h0.6v0.6h-0.6zM132.2 108.1h0.6v0.6h-0.6zM133.9 106.4h0.6v0.6h-0.6zM135.2 104.3h0.6v0.6h-0.6zM136.5 99.4h0.6v0.6h-0.6zM132.9 99.3h0.6v0.6h-0.6zM132.8 101.7h0.6v0.6h-0.6zM133.2 104.8h0.6v0.6h-0.6zM134.3 105.6h0.6v0.6h-0.6zM133.3 98.3h0.6v0.6h-0.6zM135.1 111.2h0.6v0.6h-0.6zM136.3 108.8h0.6v0.6h-0.6zM138.2 112.2h0.6v0.6h-0.6zM136.8 101.3h0.6v0.6h-0.6zM133.1 110.7h0.6v0.6h-0.6zM137.2 105.4h0.6v0.6h-0.6zM136.3 88.4h0.6v0.6h-0.6zM132.8 106.2h0.6v0.6h-0.6zM133.2 108.7h0.6v0.6h-0.6zM137.7 109.6h0.6v0.6h-0.6zM131.7 103.6h0.6v0.6h-0.6zM132.2 108.8h0.6v0.6h-0.6zM134.6 111.9h0.6v0.6h-0.6zM136.4 107.5h0.6v0.6h-0.6zM133.4 95.5h0.6v0.6h-0.6zM137.0 97.7h0.6v0.6h-0.6zM135.0 103.3h0.6v0.6h-0.6zM136.0 109.9h0.6v0.6h-0.6zM135.9 104.7h0.6v0.6h-0.6zM135.5 108.5h0.6v0.6h-0.6zM134.6 111.0h0.6v0.6h-0.6zM135.7 100.6h0.6v0.6h-0.6zM135.2 108.4h0.6v0.6h-0.6zM133.8 104.7h0.6v0.6h-0.6zM132.6 108.1h0.6v0.6h-0.6zM132.8 108.8h0.6v0.6h-0.6zM134.4 103.7h0.6v0.6h-0.6zM132.8 113.1h0.6v0.6h-0.6zM135.8 114.2h0.6v0.6h-0.6zM136.5 105.5h0.6v0.6h-0.6zM132.3 91.0h0.6v0.6h-0.6zM137.9 100.8h0.6v0.6h-0.6zM136.9 116.4h0.6v0.6h-0.6zM135.1 106.9h0.6v0.6h-0.6zM133.2 111.0h0.6v0.6h-0.6zM137.4 103.0h0.6v0.6h-0.6zM133.4 111.3h0.6v0.6h-0.6zM132.5 116.9h0.6v0.6h-0.6zM132.4 103.2h0.6v0.6h-0.6zM133.8 104.5h0.6v0.6h-0.6zM136.2 98.8h0.6v0.6h-0.6zM133.1 97.5h0.6v0.6h-0.6zM138.6 98.9h0.6v0.6h-0.6zM131.8 104.6h0.6v0.6h-0.6zM133.7 93.5h0.6v0.6h-0.6zM132.5 109.4h0.6v0.6h-0.6zM137.6 99.4h0.6v0.6h-0.6zM133.9 105.3h0.6v0.6h-0.6zM132.9 102.2h0.6v0.6h-0.6zM135.1 103.2h0.6v0.6h-0.6zM136.6 112.8h0.6v0.6h-0.6zM132.6 113.9h0.6v0.6h-0.6zM132.6 110.4h0.6v0.6h-0.6zM132.6 116.8h0.6v0.6h-0.6zM134.2 96.6h0.6v0.6h-0.6zM131.5 101.9h0.6v0.6h-0.6zM132.1 103.1h0.6v0.6h-0.6zM136.1 98.7h0.6v0.6h-0.6zM136.7 109.6h0.6v0.6h-0.6zM134.2 102.4h0.6v0.6h-0.6zM134.7 112.6h0.6v0.6h-0.6zM136.3 102.4h0.6v0.6h-0.6zM134.3 101.7h0.6v0.6h-0.6zM132.1 107.9h0.6v0.6h-0.6zM133.2 104.0h0.6v0.6h-0.6zM135.4 110.1h0.6v0.6h-0.6zM131.5 102.1h0.6v0.6h-0.6zM132.8 107.4h0.6v0.6h-0.6zM135.2 107.6h0.6v0.6h-0.6zM131.7 98.9h0.6v0.6h-0.6zM133.4 104.5h0.6v0.6h-0.6zM135.8 106.9h0.6v0.6h-0.6zM135.6 109.8h0.6v0.6h-0.6zM135.9 112.5h0.6v0.6h-0.6zM137.3 108.8h0.6v0.6h-0.6zM131.8 91.3h0.6v0.6h-0.6zM138.1 109.2h0.6v0.6h-0.6zM135.9 95.7h0.6v0.6h-0.6zM136.6 99.7h0.6v0.6h-0.6zM140.5 97.7h0.6v0.6h-0.6zM135.0 93.5h0.6v0.6h-0.6zM134.2 110.8h0.6v0.6h-0.6zM133.0 102.6h0.6v0.6h-0.6zM136.7 99.9h0.6v0.6h-0.6zM132.2 113.5h0.6v0.6h-0.6zM133.2 100.7h0.6v0.6h-0.6zM134.9 101.5h0.6v0.6h-0.6zM132.5 105.2h0.6v0.6h-0.6zM131.7 106.9h0.6v0.6h-0.6zM136.3 107.6h0.6v0.6h-0.6zM134.7 97.0h0.6v0.6h-0.6zM138.3 100.9h0.6v0.6h-0.6zM136.4 98.3h0.6v0.6h-0.6zM136.2 105.8h0.6v0.6h-0.6zM135.9 102.0h0.6v0.6h-0.6zM134.1 111.5h0.6v0.6h-0.6zM138.6 99.8h0.6v0.6h-0.6zM136.8 99.2h0.6v0.6h-0.6zM133.6 107.2h0.6v0.6h-0.6zM132.9 99.9h0.6v0.6h-0.6zM134.6 109.1h0.6v0.6h-0.6zM133.0 105.7h0.6v0.6h-0.6zM137.7 116.2h0.6v0.6h-0.6zM132.6 106.0h0.6v0.6h-0.6zM132.8 110.1h0.6v0.6h-0.6zM136.0 93.1h0.6v0.6h-0.6zM136.2 115.7h0.6v0.6h-0.6zM134.7 101.0h0.6v0.6h-0.6zM133.3 109.3h0.6v0.6h-0.6zM136.0 108.5h0.6v0.6h-0.6zM133.0 110.1h0.6v0.6h-0.6zM133.8 102.0h0.6v0.6h-0.6zM135.8 116.5h0.6v0.6h-0.6zM133.0 107.8h0.6v0.6h-0.6zM135.4 105.9h0.6v0.6h-0.6zM135.4 102.9h0.6v0.6h-0.6zM134.4 95.6h0.6v0.6h-0.6zM138.3 111.7h0.6v0.6h-0.6zM134.5 117.8h0.6v0.6h-0.6zM133.9 96.2h0.6v0.6h-0.6zM137.2 113.1h0.6v0.6h-0.6zM134.4 112.5h0.6v0.6h-0.6zM132.5 98.5h0.6v0.6h-0.6zM137.1 106.8h0.6v0.6h-0.6zM135.2 111.1h0.6v0.6h-0.6zM147.7 119.8h0.6v0.6h-0.6zM136.8 115.9h0.6v0.6h-0.6zM150.6 112.3h0.6v0.6h-0.6zM168.3 96.6h0.6v0.6h-0.6zM165.9 101.6h0.6v0.6h-0.6zM145.1 94.4h0.6v0.6h-0.6zM154.3 116.6h0.6v0.6h-0.6zM151.6 103.4h0.6v0.6h-0.6zM144.1 105.7h0.6v0.6h-0.6zM141.3 113.6h0.6v0.6h-0.6zM133.5 104.0h0.6v0.6h-0.6zM155.0 110.4h0.6v0.6h-0.6zM155.0 102.8h0.6v0.6h-0.6zM145.7 115.7h0.6v0.6h-0.6zM144.8 106.9h0.6v0.6h-0.6zM140.6 116.7h0.6v0.6h-0.6zM157.1 114.1h0.6v0.6h-0.6zM156.5 76.6h0.6v0.6h-0.6zM148.1 88.8h0.6v0.6h-0.6zM159.0 99.8h0.6v0.6h-0.6zM152.8 97.2h0.6v0.6h-0.6zM138.5 94.9h0.6v0.6h-0.6zM136.5 96.2h0.6v0.6h-0.6zM159.1 83.1h0.6v0.6h-0.6zM162.5 110.9h0.6v0.6h-0.6zM159.2 101.5h0.6v0.6h-0.6zM138.3 105.9h0.6v0.6h-0.6zM165.1 83.4h0.6v0.6h-0.6zM144.0 110.8h0.6v0.6h-0.6zM150.7 106.2h0.6v0.6h-0.6zM163.0 119.1h0.6v0.6h-0.6zM153.5 111.8h0.6v0.6h-0.6zM157.8 117.1h0.6v0.6h-0.6zM134.8 96.4h0.6v0.6h-0.6zM159.7 115.1h0.6v0.6h-0.6zM142.3 91.7h0.6v0.6h-0.6zM151.8 99.0h0.6v0.6h-0.6zM151.3 103.9h0.6v0.6h-0.6zM145.0 119.5h0.6v0.6h-0.6zM135.8 114.9h0.6v0.6h-0.6zM144.8 103.5h0.6v0.6h-0.6zM145.8 87.6h0.6v0.6h-0.6zM154.0 91.5h0.6v0.6h-0.6zM151.0 119.6h0.6v0.6h-0.6zM145.2 79.6h0.6v0.6h-0.6zM144.0 112.1h0.6v0.6h-0.6zM169.0 109.3h0.6v0.6h-0.6zM168.7 108.8h0.6v0.6h-0.6zM163.0 97.6h0.6v0.6h-0.6zM158.3 111.4h0.6v0.6h-0.6zM163.6 87.4h0.6v0.6h-0.6zM154.5 96.4h0.6v0.6h-0.6zM156.6 105.3h0.6v0.6h-0.6zM132.0 106.3h0.6v0.6h-0.6zM145.1 117.7h0.6v0.6h-0.6zM132.9 107.3h0.6v0.6h-0.6zM158.1 98.3h0.6v0.6h-0.6zM151.3 103.3h0.6v0.6h-0.6zM153.9 104.7h0.6v0.6h-0.6zM147.3 107.0h0.6v0.6h-0.6zM132.6 100.7h0.6v0.6h-0.6zM154.5 94.8h0.6v0.6h-0.6zM141.3 114.3h0.6v0.6h-0.6zM151.8 80.4h0.6v0.6h-0.6zM153.7 107.6h0.6v0.6h-0.6zM156.9 119.4h0.6v0.6h-0.6zM141.2 100.5h0.6v0.6h-0.6zM145.3 104.6h0.6v0.6h-0.6zM145.5 111.2h0.6v0.6h-0.6zM145.1 112.9h0.6v0.6h-0.6zM162.1 111.5h0.6v0.6h-0.6zM149.3 115.3h0.6v0.6h-0.6zM141.7 92.7h0.6v0.6h-0.6zM144.2 80.9h0.6v0.6h-0.6zM149.9 92.3h0.6v0.6h-0.6zM143.5 114.3h0.6v0.6h-0.6zM138.4 87.1h0.6v0.6h-0.6zM150.4 116.0h0.6v0.6h-0.6zM153.0 102.9h0.6v0.6h-0.6zM191.9 98.2h0.6v0.6h-0.6zM152.9 106.0h0.6v0.6h-0.6zM144.1 119.1h0.6v0.6h-0.6zM144.0 114.0h0.6v0.6h-0.6zM143.5 113.1h0.6v0.6h-0.6zM140.2 110.1h0.6v0.6h-0.6zM148.6 96.0h0.6v0.6h-0.6zM149.0 102.8h0.6v0.6h-0.6zM151.7 118.0h0.6v0.6h-0.6zM141.5 114.4h0.6v0.6h-0.6zM133.6 111.0h0.6v0.6h-0.6zM133.2 93.0h0.6v0.6h-0.6zM150.5 98.1h0.6v0.6h-0.6zM152.2 104.5h0.6v0.6h-0.6zM153.4 92.7h0.6v0.6h-0.6zM150.4 105.3h0.6v0.6h-0.6zM146.1 112.9h0.6v0.6h-0.6zM153.1 96.9h0.6v0.6h-0.6zM142.6 113.8h0.6v0.6h-0.6zM143.4 105.6h0.6v0.6h-0.6zM152.2 104.0h0.6v0.6h-0.6zM144.7 113.6h0.6v0.6h-0.6zM165.7 106.9h0.6v0.6h-0.6zM162.4 97.7h0.6v0.6h-0.6zM162.2 114.1h0.6v0.6h-0.6zM154.6 93.8h0.6v0.6h-0.6zM131.8 104.7h0.6v0.6h-0.6zM145.5 106.5h0.6v0.6h-0.6zM157.7 109.3h0.6v0.6h-0.6zM149.0 98.4h0.6v0.6h-0.6zM136.2 100.7h0.6v0.6h-0.6zM161.4 103.4h0.6v0.6h-0.6zM158.2 108.5h0.6v0.6h-0.6zM158.1 96.4h0.6v0.6h-0.6zM160.5 119.5h0.6v0.6h-0.6zM144.0 93.4h0.6v0.6h-0.6zM152.4 107.3h0.6v0.6h-0.6zM164.3 106.1h0.6v0.6h-0.6zM131.8 100.0h0.6v0.6h-0.6zM150.7 108.8h0.6v0.6h-0.6zM154.7 118.3h0.6v0.6h-0.6zM168.2 97.2h0.6v0.6h-0.6zM142.0 114.1h0.6v0.6h-0.6zM156.3 117.1h0.6v0.6h-0.6zM141.3 117.1h0.6v0.6h-0.6zM142.0 94.9h0.6v0.6h-0.6zM146.5 95.7h0.6v0.6h-0.6zM169.2 103.9h0.6v0.6h-0.6zM136.6 101.8h0.6v0.6h-0.6zM147.4 102.6h0.6v0.6h-0.6zM157.6 100.4h0.6v0.6h-0.6zM132.9 117.1h0.6v0.6h-0.6zM158.7 108.0h0.6v0.6h-0.6zM152.3 98.7h0.6v0.6h-0.6zM158.9 108.9h0.6v0.6h-0.6zM143.4 106.5h0.6v0.6h-0.6zM153.4 112.5h0.6v0.6h-0.6zM166.2 113.1h0.6v0.6h-0.6zM165.3 101.7h0.6v0.6h-0.6zM158.8 102.6h0.6v0.6h-0.6zM136.2 106.6h0.6v0.6h-0.6zM135.4 105.0h0.6v0.6h-0.6zM148.8 111.2h0.6v0.6h-0.6zM143.8 84.7h0.6v0.6h-0.6zM145.7 103.3h0.6v0.6h-0.6zM164.5 100.2h0.6v0.6h-0.6zM146.1 108.1h0.6v0.6h-0.6zM139.3 111.3h0.6v0.6h-0.6zM145.7 107.2h0.6v0.6h-0.6zM135.1 92.8h0.6v0.6h-0.6zM141.9 113.2h0.6v0.6h-0.6zM159.0 120.1h0.6v0.6h-0.6zM148.7 106.7h0.6v0.6h-0.6zM151.1 106.2h0.6v0.6h-0.6zM132.5 106.9h0.6v0.6h-0.6zM160.9 118.1h0.6v0.6h-0.6zM162.5 104.6h0.6v0.6h-0.6zM139.2 101.4h0.6v0.6h-0.6zM135.3 116.7h0.6v0.6h-0.6zM148.7 112.6h0.6v0.6h-0.6zM151.1 111.5h0.6v0.6h-0.6zM141.5 113.2h0.6v0.6h-0.6zM142.1 104.4h0.6v0.6h-0.6zM141.9 109.8h0.6v0.6h-0.6zM135.1 118.2h0.6v0.6h-0.6zM140.1 103.4h0.6v0.6h-0.6zM139.3 84.1h0.6v0.6h-0.6zM149.3 108.0h0.6v0.6h-0.6zM149.8 90.5h0.6v0.6h-0.6zM153.9 107.6h0.6v0.6h-0.6zM160.1 109.5h0.6v0.6h-0.6zM154.3 95.5h0.6v0.6h-0.6zM165.5 108.3h0.6v0.6h-0.6zM135.4 116.2h0.6v0.6h-0.6zM135.9 119.5h0.6v0.6h-0.6zM145.8 88.4h0.6v0.6h-0.6zM157.2 109.2h0.6v0.6h-0.6zM138.1 100.2h0.6v0.6h-0.6zM136.3 112.4h0.6v0.6h-0.6zM164.1 116.6h0.6v0.6h-0.6zM143.3 101.0h0.6v0.6h-0.6zM140.4 106.2h0.6v0.6h-0.6zM152.5 97.9h0.6v0.6h-0.6zM146.0 113.2h0.6v0.6h-0.6zM168.7 92.1h0.6v0.6h-0.6zM160.4 97.6h0.6v0.6h-0.6zM143.8 107.4h0.6v0.6h-0.6zM141.4 115.7h0.6v0.6h-0.6zM168.8 93.2h0.6v0.6h-0.6zM165.5 106.1h0.6v0.6h-0.6zM158.6 118.6h0.6v0.6h-0.6zM155.8 104.9h0.6v0.6h-0.6zM156.6 119.7h0.6v0.6h-0.6zM150.9 102.7h0.6v0.6h-0.6zM144.9 83.1h0.6v0.6h-0.6zM146.9 87.7h0.6v0.6h-0.6zM150.2 105.4h0.6v0.6h-0.6zM150.8 105.2h0.6v0.6h-0.6zM162.6 98.5h0.6v0.6h-0.6zM151.9 98.9h0.6v0.6h-0.6zM163.5 110.2h0.6v0.6h-0.6zM132.4 117.6h0.6v0.6h-0.6zM143.2 90.6h0.6v0.6h-0.6zM140.7 86.2h0.6v0.6h-0.6z" fill="#000"/>
<path d="M152.4 91.4L153.1 91.6L153.7 92.0L154.3 92.6L154.9 93.3L155.4 94.1L155.9 95.0L156.4 95.8L157.0 96.5L157.6 97.2L158.3 97.8L158.9 98.5L159.6 99.2L160.2 99.8L160.8 100.5L161.3 101.3L161.7 102.0L162.0 102.8L162.3 103.6L162.5 104.4L162.7 105.2L162.7 106.1L162.7 106.9L162.6 107.7L162.4 108.5L162.1 109.3L161.6 110.0L161.1 110.8L160.5 111.5L159.8 112.2L159.1 112.9L158.3 113.5L157.5 114.0L156.7 114.5L155.8 114.9L154.8 115.3L153.8 115.6L152.8 115.9L151.7 116.1L150.7 116.3L149.6 116.4L148.5 116.4L147.3 116.4L146.1 116.3L144.8 116.2L143.6 116.0L142.5 115.7L141.4 115.4L140.5 115.0L139.7 114.6L138.9 114.1L138.2 113.5L137.6 112.8L137.0 112.2L136.6 111.5L136.2 110.7L136.0 110.0L135.9 109.2L135.9 108.4L136.1 107.5L136.3 106.6L136.6 105.7L137.0 104.8L137.5 103.9L138.0 103.0L138.6 102.1L139.4 101.2L140.2 100.3L141.2 99.4L142.1 98.4L143.1 97.6L144.1 96.8L145.0 96.0L145.9 95.2L146.9 94.5L147.9 93.7L148.9 92.9L149.8 92.3L150.7 91.8L151.6 91.5Z" fill="#fff" stroke="#000" stroke-width="1.6"/>
<path d="M152.3 92.4L153.0 92.6L153.6 93.0L154.1 93.5L154.6 94.2L155.1 95.0L155.6 95.8L156.1 96.5L156.6 97.2L157.2 97.8L157.8 98.4L158.4 99.0L159.0 99.7L159.6 100.3L160.1 100.9L160.6 101.6L161.0 102.3L161.3 103.0L161.5 103.8L161.7 104.5L161.8 105.3L161.9 106.1L161.9 106.9L161.8 107.6L161.6 108.3L161.3 109.0L160.9 109.8L160.4 110.5L159.8 111.1L159.2 111.8L158.5 112.4L157.8 113.0L157.1 113.5L156.3 113.9L155.4 114.3L154.6 114.7L153.6 115.0L152.7 115.2L151.7 115.5L150.7 115.6L149.7 115.7L148.7 115.7L147.6 115.7L146.4 115.6L145.3 115.5L144.2 115.3L143.1 115.0L142.1 114.7L141.2 114.4L140.5 114.0L139.8 113.5L139.1 113.0L138.5 112.4L138.0 111.8L137.6 111.1L137.3 110.4L137.1 109.7L137.0 109.0L137.0 108.2L137.1 107.4L137.3 106.6L137.6 105.8L138.0 104.9L138.4 104.1L138.9 103.2L139.5 102.4L140.2 101.6L141.0 100.7L141.9 99.8L142.8 99.0L143.7 98.2L144.6 97.4L145.4 96.7L146.3 96.0L147.2 95.3L148.1 94.6L149.0 93.9L149.9 93.3L150.8 92.8L151.6 92.5Z" fill="#fff" stroke="#222" stroke-width="0.6"/>
<path d="M152.2 93.6L152.8 93.8L153.4 94.1L153.9 94.6L154.3 95.3L154.8 96.0L155.2 96.7L155.7 97.4L156.1 98.0L156.6 98.5L157.2 99.1L157.8 99.7L158.3 100.2L158.9 100.8L159.4 101.4L159.8 102.0L160.1 102.6L160.4 103.3L160.6 104.0L160.8 104.7L160.9 105.4L161.0 106.1L161.0 106.8L160.9 107.5L160.7 108.2L160.4 108.8L160.1 109.5L159.6 110.1L159.1 110.7L158.5 111.3L157.9 111.9L157.2 112.4L156.6 112.8L155.8 113.2L155.1 113.6L154.3 113.9L153.4 114.2L152.5 114.5L151.7 114.7L150.7 114.8L149.8 114.9L148.9 114.9L147.9 114.9L146.8 114.8L145.8 114.7L144.8 114.5L143.8 114.3L142.9 114.0L142.1 113.7L141.4 113.3L140.7 112.9L140.1 112.4L139.6 111.9L139.1 111.3L138.8 110.7L138.5 110.1L138.3 109.4L138.2 108.8L138.2 108.1L138.3 107.3L138.5 106.6L138.8 105.8L139.1 105.0L139.5 104.3L140.0 103.5L140.5 102.7L141.2 102.0L141.9 101.2L142.7 100.4L143.5 99.6L144.3 98.9L145.1 98.2L145.9 97.5L146.7 96.9L147.5 96.2L148.4 95.6L149.2 94.9L150.0 94.4L150.8 94.0L151.5 93.7Z" fill="#dcdcdc" stroke="#555" stroke-width="0.55"/>
<path d="M152.1 95.7L152.6 95.8L153.0 96.1L153.4 96.5L153.9 96.9L154.3 97.4L154.7 98.0L155.1 98.5L155.5 99.0L156.0 99.4L156.5 99.9L157.0 100.4L157.5 100.9L158.0 101.5L158.4 102.0L158.8 102.5L159.0 103.1L159.3 103.7L159.5 104.3L159.6 104.9L159.7 105.5L159.8 106.1L159.8 106.8L159.7 107.4L159.6 107.9L159.3 108.5L159.0 109.1L158.7 109.7L158.2 110.2L157.7 110.8L157.2 111.3L156.6 111.8L156.0 112.2L155.4 112.6L154.7 113.0L154.0 113.3L153.2 113.5L152.4 113.7L151.6 113.9L150.8 114.0L150.0 114.0L149.1 114.0L148.3 113.9L147.4 113.8L146.5 113.6L145.6 113.4L144.8 113.1L144.1 112.9L143.5 112.6L142.9 112.2L142.4 111.8L142.0 111.4L141.5 110.9L141.2 110.5L140.9 110.0L140.6 109.4L140.5 108.9L140.4 108.4L140.4 107.8L140.5 107.2L140.6 106.5L140.8 105.9L141.0 105.2L141.3 104.6L141.7 103.9L142.1 103.3L142.6 102.6L143.2 101.9L143.8 101.2L144.5 100.5L145.2 99.8L145.9 99.2L146.6 98.7L147.3 98.2L148.0 97.6L148.8 97.1L149.5 96.7L150.2 96.3L150.9 96.0L151.5 95.8Z" fill="#bdbdbd" stroke="#444" stroke-width="0.55"/>
<path d="M151.9 97.8L152.3 97.9L152.7 98.1L153.0 98.3L153.4 98.6L153.7 99.0L154.1 99.4L154.5 99.7L154.9 100.1L155.3 100.5L155.7 100.9L156.2 101.3L156.6 101.7L157.0 102.2L157.3 102.6L157.6 103.1L157.8 103.6L158.0 104.1L158.2 104.6L158.3 105.1L158.4 105.6L158.4 106.2L158.4 106.7L158.4 107.2L158.3 107.7L158.1 108.2L157.9 108.7L157.6 109.2L157.2 109.7L156.8 110.2L156.4 110.6L155.9 111.1L155.4 111.5L154.9 111.8L154.3 112.1L153.6 112.4L153.0 112.6L152.3 112.8L151.6 112.9L150.8 113.0L150.1 113.0L149.4 112.9L148.7 112.8L147.9 112.7L147.2 112.5L146.6 112.2L145.9 112.0L145.4 111.7L144.9 111.4L144.5 111.1L144.1 110.8L143.8 110.4L143.5 110.0L143.2 109.6L143.0 109.2L142.8 108.8L142.7 108.4L142.6 107.9L142.6 107.5L142.6 107.0L142.7 106.5L142.8 106.0L143.0 105.4L143.2 104.9L143.4 104.4L143.7 103.8L144.1 103.2L144.5 102.6L145.0 102.0L145.6 101.4L146.2 100.9L146.8 100.4L147.4 99.9L148.0 99.5L148.6 99.1L149.2 98.7L149.8 98.4L150.4 98.1L150.9 98.0L151.4 97.8Z" fill="#9d9d9d" stroke="#333" stroke-width="0.6"/>
<path d="M151.7 99.8L152.0 99.8L152.3 99.9L152.6 100.1L152.9 100.3L153.2 100.5L153.5 100.8L153.8 101.0L154.2 101.3L154.5 101.6L154.9 101.9L155.2 102.2L155.6 102.6L155.9 102.9L156.2 103.3L156.4 103.7L156.6 104.1L156.7 104.5L156.9 104.9L157.0 105.3L157.0 105.8L157.1 106.2L157.1 106.6L157.0 107.0L156.9 107.4L156.8 107.8L156.6 108.2L156.4 108.7L156.2 109.1L155.9 109.5L155.5 109.9L155.1 110.3L154.7 110.6L154.3 110.9L153.8 111.2L153.2 111.4L152.7 111.6L152.1 111.7L151.5 111.8L150.9 111.9L150.3 111.8L149.7 111.8L149.1 111.6L148.6 111.5L148.0 111.3L147.5 111.0L147.0 110.8L146.6 110.5L146.3 110.3L146.0 110.0L145.7 109.7L145.5 109.4L145.3 109.1L145.1 108.8L144.9 108.5L144.8 108.2L144.7 107.9L144.7 107.5L144.6 107.2L144.6 106.8L144.7 106.4L144.7 106.0L144.8 105.6L145.0 105.2L145.1 104.8L145.3 104.3L145.6 103.9L145.9 103.4L146.3 102.9L146.7 102.4L147.2 102.0L147.6 101.5L148.1 101.2L148.6 100.9L149.1 100.6L149.6 100.3L150.1 100.1L150.6 100.0L151.0 99.9L151.4 99.8Z" fill="#7c7c7c" stroke="#222" stroke-width="0.6"/>
<path d="M151.6 101.7L151.8 101.7L152.0 101.8L152.2 101.9L152.4 102.0L152.6 102.1L152.9 102.2L153.1 102.4L153.4 102.6L153.7 102.8L154.0 103.0L154.2 103.2L154.5 103.5L154.7 103.8L154.9 104.1L155.1 104.4L155.2 104.7L155.3 105.0L155.4 105.3L155.5 105.6L155.5 105.9L155.5 106.2L155.5 106.5L155.5 106.8L155.5 107.1L155.4 107.4L155.3 107.7L155.1 108.1L154.9 108.4L154.7 108.7L154.5 109.0L154.2 109.3L153.9 109.6L153.5 109.8L153.2 110.0L152.8 110.2L152.3 110.4L151.9 110.5L151.4 110.5L151.0 110.5L150.5 110.5L150.1 110.4L149.7 110.3L149.2 110.2L148.8 110.0L148.5 109.8L148.2 109.6L147.9 109.3L147.7 109.1L147.5 108.9L147.3 108.7L147.2 108.5L147.0 108.3L146.9 108.1L146.8 107.8L146.7 107.6L146.7 107.4L146.6 107.2L146.6 106.9L146.6 106.7L146.6 106.4L146.6 106.1L146.7 105.8L146.7 105.5L146.8 105.2L147.0 104.9L147.1 104.5L147.3 104.2L147.6 103.8L147.9 103.4L148.2 103.1L148.6 102.8L148.9 102.5L149.3 102.3L149.7 102.1L150.1 102.0L150.4 101.9L150.8 101.8L151.1 101.7L151.3 101.7Z" fill="#555" stroke="#111" stroke-width="0.7"/>
<path d="M151.4 103.5L151.6 103.5L151.7 103.5L151.8 103.6L152.0 103.6L152.1 103.7L152.3 103.7L152.4 103.8L152.6 103.9L152.8 104.0L153.0 104.1L153.2 104.3L153.3 104.5L153.5 104.7L153.6 104.9L153.7 105.1L153.8 105.2L153.9 105.4L153.9 105.6L154.0 105.8L154.0 106.0L154.0 106.2L154.0 106.5L154.0 106.6L153.9 106.8L153.9 107.0L153.8 107.2L153.8 107.5L153.6 107.7L153.5 107.9L153.3 108.1L153.2 108.3L153.0 108.5L152.8 108.6L152.5 108.8L152.2 108.9L152.0 109.0L151.7 109.1L151.4 109.1L151.1 109.1L150.8 109.1L150.5 109.0L150.2 108.9L149.9 108.8L149.7 108.7L149.5 108.5L149.3 108.4L149.1 108.2L149.0 108.1L148.9 107.9L148.8 107.8L148.7 107.7L148.7 107.5L148.6 107.4L148.6 107.2L148.5 107.1L148.5 107.0L148.4 106.8L148.4 106.7L148.4 106.5L148.4 106.4L148.4 106.2L148.4 106.0L148.4 105.8L148.5 105.6L148.5 105.4L148.6 105.2L148.7 105.0L148.9 104.7L149.1 104.5L149.3 104.2L149.5 104.1L149.8 103.9L150.0 103.8L150.2 103.7L150.5 103.6L150.7 103.5L150.9 103.5L151.1 103.5L151.3 103.5Z" fill="#2a2a2a" stroke="#000" stroke-width="0.8"/>
<circle cx="151.2" cy="106.3" r="0.8" fill="#fff"/>
<rect x="130.4" y="51.6" width="71" height="70" fill="none" stroke="#000" stroke-width="1.1"/>
<rect x="133.3" y="57.5" width="62.7" height="32.6" fill="none" stroke="#000" stroke-width="1"/>
<rect x="165.1" y="57.5" width="30.8" height="27.6" fill="none" stroke="#d2334f" stroke-width="1"/>
<text x="200.3" y="103.31" font-size="6.7" stroke="#d2334f" stroke-width="0.11" text-anchor="end" fill="#d2334f" textLength="17.3" lengthAdjust="spacingAndGlyphs">2.31%</text>
<text x="200.3" y="112.01" font-size="6.7" stroke="#222" stroke-width="0.11" text-anchor="end" fill="#222" textLength="17.3" lengthAdjust="spacingAndGlyphs">6.26%</text>
<text x="199.8" y="119.71" font-size="6.7" stroke="#111" stroke-width="0.11" text-anchor="end" fill="#111" textLength="43" lengthAdjust="spacingAndGlyphs">recipient 25914</text>
<line x1="128.9" y1="60" x2="130.4" y2="60" stroke="#000" stroke-width="0.8"/>
<line x1="128.9" y1="66" x2="130.4" y2="66" stroke="#000" stroke-width="0.8"/>
<line x1="128.9" y1="86.6" x2="130.4" y2="86.6" stroke="#000" stroke-width="0.8"/>
<line x1="128.9" y1="105.4" x2="130.4" y2="105.4" stroke="#000" stroke-width="0.8"/>
<line x1="128.9" y1="112" x2="130.4" y2="112" stroke="#000" stroke-width="0.8"/>
<line x1="129.4" y1="54.6" x2="129.4" y2="119.6" stroke="#000" stroke-width="1.1" stroke-dasharray="0.8 0.7 0.6 1.1 0.9 0.5"/>
<line x1="133.4" y1="122.7" x2="198.4" y2="122.7" stroke="#000" stroke-width="1.1" stroke-dasharray="0.8 0.7 0.6 1.1 0.9 0.5"/>
<line x1="139" y1="121.6" x2="139" y2="123.4" stroke="#000" stroke-width="0.8"/>
<line x1="164.4" y1="121.6" x2="164.4" y2="123.4" stroke="#000" stroke-width="0.8"/>
<line x1="184.4" y1="121.6" x2="184.4" y2="123.4" stroke="#000" stroke-width="0.8"/>
<text x="53.3" y="67.73" font-size="5.6" stroke="#333" stroke-width="0.09" text-anchor="end">10<tspan font-size="3.4" dy="-2.3">4</tspan></text>
<text x="53.3" y="88.53" font-size="5.6" stroke="#333" stroke-width="0.09" text-anchor="end">10<tspan font-size="3.4" dy="-2.3">3</tspan></text>
<text x="53.3" y="107.33" font-size="5.6" stroke="#333" stroke-width="0.09" text-anchor="end">0</text>
<text transform="translate(38.8 86.1) rotate(-90)" font-size="7" stroke="#333" stroke-width="0.12" text-anchor="middle" textLength="24.7" lengthAdjust="spacingAndGlyphs" dy="2.42">CD34 APC</text>
<text x="64.5" y="129.33" font-size="5.6" stroke="#333" stroke-width="0.09" text-anchor="middle">0</text>
<text x="90.3" y="129.33" font-size="5.6" stroke="#333" stroke-width="0.09" text-anchor="middle">10<tspan font-size="3.4" dy="-2.3">3</tspan></text>
<text x="110.6" y="129.33" font-size="5.6" stroke="#333" stroke-width="0.09" text-anchor="middle">10<tspan font-size="3.4" dy="-2.3">4</tspan></text>
<text x="92.3" y="139.08" font-size="6.6" stroke="#333" stroke-width="0.11" text-anchor="middle" textLength="20.4" lengthAdjust="spacingAndGlyphs">HLF-ZsG</text>
<text x="139.1" y="129.33" font-size="5.6" stroke="#333" stroke-width="0.09" text-anchor="middle">0</text>
<text x="164.9" y="129.33" font-size="5.6" stroke="#333" stroke-width="0.09" text-anchor="middle">10<tspan font-size="3.4" dy="-2.3">3</tspan></text>
<text x="185.2" y="129.33" font-size="5.6" stroke="#333" stroke-width="0.09" text-anchor="middle">10<tspan font-size="3.4" dy="-2.3">4</tspan></text>
<text x="163.4" y="139.08" font-size="6.6" stroke="#333" stroke-width="0.11" text-anchor="middle" textLength="20.4" lengthAdjust="spacingAndGlyphs">HLF-ZsG</text>
<text transform="translate(207.8 86.7) rotate(-90)" font-size="6.4" stroke="#333" stroke-width="0.11" text-anchor="middle" textLength="16" lengthAdjust="spacingAndGlyphs" dy="2.21">Week 3</text>
<text x="244.06" y="22.8" font-size="12.8" fill="#000" font-weight="bold" textLength="8.04" lengthAdjust="spacingAndGlyphs">B</text>
<rect x="263.4" y="70.3" width="4.7" height="14.6" fill="#144f82"/>
<rect x="268.85" y="80.5" width="4.7" height="4.4" fill="#144f82"/>
<rect x="274.3" y="52.8" width="4.7" height="32.1" fill="#144f82"/>
<rect x="279.75" y="65" width="4.7" height="19.9" fill="#144f82"/>
<rect x="263" y="41.6" width="22" height="44.6" rx="1" fill="none" stroke="#3a3a3a" stroke-width="1"/>
<rect x="287.8" y="65" width="4.75" height="19.9" fill="#144f82"/>
<rect x="293.3" y="77.7" width="4.75" height="7.2" fill="#144f82"/>
<rect x="298.8" y="81" width="4.75" height="3.9" fill="#144f82"/>
<rect x="287.4" y="41.6" width="17" height="44.6" rx="1" fill="none" stroke="#3a3a3a" stroke-width="1"/>
<rect x="307.6" y="82.8" width="4.7" height="2.1" fill="#144f82"/>
<rect x="313.05" y="79.5" width="4.7" height="5.4" fill="#144f82"/>
<rect x="318.5" y="57.7" width="4.7" height="27.2" fill="#144f82"/>
<rect x="318.5" y="50.8" width="4.7" height="6.9" fill="#3cb54b"/>
<rect x="323.95" y="82.6" width="4.7" height="2.3" fill="#144f82"/>
<rect x="329.4" y="75" width="4.7" height="9.9" fill="#144f82"/>
<rect x="334.85" y="72.8" width="4.7" height="12.1" fill="#144f82"/>
<rect x="340.3" y="69.7" width="4.7" height="15.2" fill="#144f82"/>
<rect x="340.3" y="68.2" width="4.7" height="1.5" fill="#3cb54b"/>
<rect x="307" y="41.6" width="38.7" height="44.6" rx="1" fill="none" stroke="#3a3a3a" stroke-width="1"/>
<rect x="348.7" y="64.8" width="4.62" height="20.1" fill="#144f82"/>
<rect x="354.07" y="77" width="4.62" height="7.9" fill="#144f82"/>
<rect x="359.44" y="81" width="4.62" height="3.9" fill="#144f82"/>
<rect x="364.81" y="73.8" width="4.62" height="11.1" fill="#144f82"/>
<rect x="370.18" y="82" width="4.62" height="2.9" fill="#144f82"/>
<rect x="375.55" y="83.9" width="4.62" height="1" fill="#5b8fc7"/>
<rect x="380.92" y="83" width="4.62" height="1.9" fill="#144f82"/>
<rect x="386.29" y="74.8" width="4.62" height="10.1" fill="#144f82"/>
<rect x="348.3" y="41.6" width="42.7" height="44.6" rx="1" fill="none" stroke="#3a3a3a" stroke-width="1"/>
<rect x="394.9" y="80" width="4.64" height="4.9" fill="#144f82"/>
<rect x="400.29" y="60" width="4.64" height="24.9" fill="#144f82"/>
<rect x="400.29" y="57" width="4.64" height="3" fill="#3cb54b"/>
<rect x="411.07" y="82.8" width="4.64" height="2.1" fill="#144f82"/>
<rect x="416.46" y="43.5" width="4.64" height="41.4" fill="#144f82"/>
<rect x="421.85" y="70.7" width="4.64" height="14.2" fill="#144f82"/>
<rect x="421.85" y="62.7" width="4.64" height="8" fill="#3cb54b"/>
<rect x="427.24" y="84" width="4.64" height="0.9" fill="#555"/>
<rect x="432.63" y="84" width="4.64" height="0.9" fill="#5b8fc7"/>
<rect x="394.3" y="41.6" width="43.4" height="44.6" rx="1" fill="none" stroke="#3a3a3a" stroke-width="1"/>
<rect x="263.4" y="117.8" width="4.7" height="14.8" fill="#144f82"/>
<rect x="268.85" y="123.3" width="4.7" height="9.3" fill="#144f82"/>
<rect x="274.3" y="125.6" width="4.7" height="7" fill="#144f82"/>
<rect x="279.75" y="121" width="4.7" height="11.6" fill="#144f82"/>
<rect x="263" y="89.6" width="22" height="44.4" rx="1" fill="none" stroke="#3a3a3a" stroke-width="1"/>
<rect x="287.8" y="126" width="4.75" height="6.6" fill="#144f82"/>
<rect x="293.3" y="125.4" width="4.75" height="7.2" fill="#144f82"/>
<rect x="298.8" y="128.5" width="4.75" height="4.1" fill="#144f82"/>
<rect x="287.4" y="89.6" width="17" height="44.4" rx="1" fill="none" stroke="#3a3a3a" stroke-width="1"/>
<rect x="307.6" y="117.2" width="4.7" height="15.4" fill="#144f82"/>
<rect x="313.05" y="118.8" width="4.7" height="13.8" fill="#144f82"/>
<rect x="313.05" y="118.2" width="4.7" height="0.6" fill="#3cb54b"/>
<rect x="318.5" y="108" width="4.7" height="24.6" fill="#144f82"/>
<rect x="318.5" y="107.3" width="4.7" height="0.7" fill="#3cb54b"/>
<rect x="323.95" y="91.4" width="4.7" height="41.2" fill="#144f82"/>
<rect x="329.4" y="127.2" width="4.7" height="5.4" fill="#144f82"/>
<rect x="334.85" y="124.3" width="4.7" height="8.3" fill="#144f82"/>
<rect x="340.3" y="124.3" width="4.7" height="8.3" fill="#144f82"/>
<rect x="307" y="89.6" width="38.7" height="44.4" rx="1" fill="none" stroke="#3a3a3a" stroke-width="1"/>
<rect x="348.7" y="96.3" width="4.62" height="36.3" fill="#144f82"/>
<rect x="354.07" y="103" width="4.62" height="29.6" fill="#144f82"/>
<rect x="359.44" y="118.2" width="4.62" height="14.4" fill="#144f82"/>
<rect x="364.81" y="127.4" width="4.62" height="5.2" fill="#144f82"/>
<rect x="370.18" y="127.4" width="4.62" height="5.2" fill="#144f82"/>
<rect x="375.55" y="123.6" width="4.62" height="9" fill="#144f82"/>
<rect x="380.92" y="114.3" width="4.62" height="18.3" fill="#144f82"/>
<rect x="386.29" y="125.6" width="4.62" height="7" fill="#144f82"/>
<rect x="348.3" y="89.6" width="42.7" height="44.4" rx="1" fill="none" stroke="#3a3a3a" stroke-width="1"/>
<rect x="394.9" y="114.7" width="4.64" height="17.9" fill="#144f82"/>
<rect x="400.29" y="130.1" width="4.64" height="2.5" fill="#144f82"/>
<rect x="405.68" y="127" width="4.64" height="5.6" fill="#144f82"/>
<rect x="411.07" y="116.3" width="4.64" height="16.3" fill="#144f82"/>
<rect x="411.07" y="114.7" width="4.64" height="1.6" fill="#3cb54b"/>
<rect x="416.46" y="121.6" width="4.64" height="11" fill="#144f82"/>
<rect x="416.46" y="120.6" width="4.64" height="1" fill="#3cb54b"/>
<rect x="421.85" y="110.7" width="4.64" height="21.9" fill="#144f82"/>
<rect x="421.85" y="109.8" width="4.64" height="0.9" fill="#3cb54b"/>
<rect x="427.24" y="122.6" width="4.64" height="10" fill="#144f82"/>
<rect x="427.24" y="121.2" width="4.64" height="1.4" fill="#3cb54b"/>
<rect x="432.63" y="125.2" width="4.64" height="7.4" fill="#144f82"/>
<rect x="394.3" y="89.6" width="43.4" height="44.4" rx="1" fill="none" stroke="#3a3a3a" stroke-width="1"/>
<text x="261.2" y="43.15" font-size="4.2" stroke="#333" stroke-width="0.07" text-anchor="end">12%</text>
<line x1="261.4" y1="41.7" x2="263" y2="41.7" stroke="#000" stroke-width="0.6"/>
<text x="261.2" y="54.45" font-size="4.2" stroke="#333" stroke-width="0.07" text-anchor="end">9%</text>
<line x1="261.4" y1="53" x2="263" y2="53" stroke="#000" stroke-width="0.6"/>
<text x="261.2" y="65.25" font-size="4.2" stroke="#333" stroke-width="0.07" text-anchor="end">6%</text>
<line x1="261.4" y1="63.8" x2="263" y2="63.8" stroke="#000" stroke-width="0.6"/>
<text x="261.2" y="75.85" font-size="4.2" stroke="#333" stroke-width="0.07" text-anchor="end">3%</text>
<line x1="261.4" y1="74.4" x2="263" y2="74.4" stroke="#000" stroke-width="0.6"/>
<text x="261.2" y="86.25" font-size="4.2" stroke="#333" stroke-width="0.07" text-anchor="end">0%</text>
<line x1="261.4" y1="84.8" x2="263" y2="84.8" stroke="#000" stroke-width="0.6"/>
<text x="261.2" y="95.35" font-size="4.2" stroke="#333" stroke-width="0.07" text-anchor="end">4%</text>
<line x1="261.4" y1="93.9" x2="263" y2="93.9" stroke="#000" stroke-width="0.6"/>
<text x="261.2" y="105.15" font-size="4.2" stroke="#333" stroke-width="0.07" text-anchor="end">3%</text>
<line x1="261.4" y1="103.7" x2="263" y2="103.7" stroke="#000" stroke-width="0.6"/>
<text x="261.2" y="114.75" font-size="4.2" stroke="#333" stroke-width="0.07" text-anchor="end">2%</text>
<line x1="261.4" y1="113.3" x2="263" y2="113.3" stroke="#000" stroke-width="0.6"/>
<text x="261.2" y="124.45" font-size="4.2" stroke="#333" stroke-width="0.07" text-anchor="end">1%</text>
<line x1="261.4" y1="123" x2="263" y2="123" stroke="#000" stroke-width="0.6"/>
<text x="261.2" y="133.75" font-size="4.2" stroke="#333" stroke-width="0.07" text-anchor="end">0%</text>
<line x1="261.4" y1="132.3" x2="263" y2="132.3" stroke="#000" stroke-width="0.6"/>
<line x1="265.75" y1="134" x2="265.75" y2="135.3" stroke="#444" stroke-width="0.5"/>
<text transform="translate(265.75 141.9) rotate(90)" font-size="4.4" stroke="#333" stroke-width="0.07" text-anchor="middle" textLength="12" lengthAdjust="spacingAndGlyphs" dy="1.52">25925</text>
<line x1="271.2" y1="134" x2="271.2" y2="135.3" stroke="#444" stroke-width="0.5"/>
<text transform="translate(271.2 141.9) rotate(90)" font-size="4.4" stroke="#333" stroke-width="0.07" text-anchor="middle" textLength="12" lengthAdjust="spacingAndGlyphs" dy="1.52">25926</text>
<line x1="276.65" y1="134" x2="276.65" y2="135.3" stroke="#444" stroke-width="0.5"/>
<text transform="translate(276.65 141.9) rotate(90)" font-size="4.4" stroke="#333" stroke-width="0.07" text-anchor="middle" textLength="12" lengthAdjust="spacingAndGlyphs" dy="1.52">25927</text>
<line x1="282.1" y1="134" x2="282.1" y2="135.3" stroke="#444" stroke-width="0.5"/>
<text transform="translate(282.1 141.9) rotate(90)" font-size="4.4" stroke="#333" stroke-width="0.07" text-anchor="middle" textLength="12" lengthAdjust="spacingAndGlyphs" dy="1.52">25928</text>
<line x1="290.18" y1="134" x2="290.18" y2="135.3" stroke="#444" stroke-width="0.5"/>
<text transform="translate(290.18 141.9) rotate(90)" font-size="4.4" stroke="#333" stroke-width="0.07" text-anchor="middle" textLength="12" lengthAdjust="spacingAndGlyphs" dy="1.52">25930</text>
<line x1="295.68" y1="134" x2="295.68" y2="135.3" stroke="#444" stroke-width="0.5"/>
<text transform="translate(295.68 141.9) rotate(90)" font-size="4.4" stroke="#333" stroke-width="0.07" text-anchor="middle" textLength="12" lengthAdjust="spacingAndGlyphs" dy="1.52">25932</text>
<line x1="301.18" y1="134" x2="301.18" y2="135.3" stroke="#444" stroke-width="0.5"/>
<text transform="translate(301.18 141.9) rotate(90)" font-size="4.4" stroke="#333" stroke-width="0.07" text-anchor="middle" textLength="12" lengthAdjust="spacingAndGlyphs" dy="1.52">25934</text>
<line x1="309.95" y1="134" x2="309.95" y2="135.3" stroke="#444" stroke-width="0.5"/>
<text transform="translate(309.95 141.9) rotate(90)" font-size="4.4" stroke="#333" stroke-width="0.07" text-anchor="middle" textLength="12" lengthAdjust="spacingAndGlyphs" dy="1.52">25911</text>
<line x1="315.4" y1="134" x2="315.4" y2="135.3" stroke="#444" stroke-width="0.5"/>
<text transform="translate(315.4 141.9) rotate(90)" font-size="4.4" stroke="#333" stroke-width="0.07" text-anchor="middle" textLength="12" lengthAdjust="spacingAndGlyphs" dy="1.52">25913</text>
<line x1="320.85" y1="134" x2="320.85" y2="135.3" stroke="#444" stroke-width="0.5"/>
<text transform="translate(320.85 141.9) rotate(90)" font-size="4.4" stroke="#333" stroke-width="0.07" text-anchor="middle" textLength="12" lengthAdjust="spacingAndGlyphs" dy="1.52">25915</text>
<line x1="326.3" y1="134" x2="326.3" y2="135.3" stroke="#444" stroke-width="0.5"/>
<text transform="translate(326.3 141.9) rotate(90)" font-size="4.4" stroke="#333" stroke-width="0.07" text-anchor="middle" textLength="12" lengthAdjust="spacingAndGlyphs" dy="1.52">25917</text>
<line x1="331.75" y1="134" x2="331.75" y2="135.3" stroke="#444" stroke-width="0.5"/>
<text transform="translate(331.75 141.9) rotate(90)" font-size="4.4" stroke="#333" stroke-width="0.07" text-anchor="middle" textLength="12" lengthAdjust="spacingAndGlyphs" dy="1.52">25919</text>
<line x1="337.2" y1="134" x2="337.2" y2="135.3" stroke="#444" stroke-width="0.5"/>
<text transform="translate(337.2 141.9) rotate(90)" font-size="4.4" stroke="#333" stroke-width="0.07" text-anchor="middle" textLength="12" lengthAdjust="spacingAndGlyphs" dy="1.52">25921</text>
<line x1="342.65" y1="134" x2="342.65" y2="135.3" stroke="#444" stroke-width="0.5"/>
<text transform="translate(342.65 141.9) rotate(90)" font-size="4.4" stroke="#333" stroke-width="0.07" text-anchor="middle" textLength="12" lengthAdjust="spacingAndGlyphs" dy="1.52">25923</text>
<line x1="351.01" y1="134" x2="351.01" y2="135.3" stroke="#444" stroke-width="0.5"/>
<text transform="translate(351.01 141.9) rotate(90)" font-size="4.4" stroke="#333" stroke-width="0.07" text-anchor="middle" textLength="12" lengthAdjust="spacingAndGlyphs" dy="1.52">25912</text>
<line x1="356.38" y1="134" x2="356.38" y2="135.3" stroke="#444" stroke-width="0.5"/>
<text transform="translate(356.38 141.9) rotate(90)" font-size="4.4" stroke="#333" stroke-width="0.07" text-anchor="middle" textLength="12" lengthAdjust="spacingAndGlyphs" dy="1.52">25914</text>
<line x1="361.75" y1="134" x2="361.75" y2="135.3" stroke="#444" stroke-width="0.5"/>
<text transform="translate(361.75 141.9) rotate(90)" font-size="4.4" stroke="#333" stroke-width="0.07" text-anchor="middle" textLength="12" lengthAdjust="spacingAndGlyphs" dy="1.52">25916</text>
<line x1="367.12" y1="134" x2="367.12" y2="135.3" stroke="#444" stroke-width="0.5"/>
<text transform="translate(367.12 141.9) rotate(90)" font-size="4.4" stroke="#333" stroke-width="0.07" text-anchor="middle" textLength="12" lengthAdjust="spacingAndGlyphs" dy="1.52">25918</text>
<line x1="372.49" y1="134" x2="372.49" y2="135.3" stroke="#444" stroke-width="0.5"/>
<text transform="translate(372.49 141.9) rotate(90)" font-size="4.4" stroke="#333" stroke-width="0.07" text-anchor="middle" textLength="12" lengthAdjust="spacingAndGlyphs" dy="1.52">25920</text>
<line x1="377.86" y1="134" x2="377.86" y2="135.3" stroke="#444" stroke-width="0.5"/>
<text transform="translate(377.86 141.9) rotate(90)" font-size="4.4" stroke="#333" stroke-width="0.07" text-anchor="middle" textLength="12" lengthAdjust="spacingAndGlyphs" dy="1.52">25922</text>
<line x1="383.23" y1="134" x2="383.23" y2="135.3" stroke="#444" stroke-width="0.5"/>
<text transform="translate(383.23 141.9) rotate(90)" font-size="4.4" stroke="#333" stroke-width="0.07" text-anchor="middle" textLength="12" lengthAdjust="spacingAndGlyphs" dy="1.52">25924</text>
<line x1="388.6" y1="134" x2="388.6" y2="135.3" stroke="#444" stroke-width="0.5"/>
<text transform="translate(388.6 141.9) rotate(90)" font-size="4.4" stroke="#333" stroke-width="0.07" text-anchor="middle" textLength="12" lengthAdjust="spacingAndGlyphs" dy="1.52">25929</text>
<line x1="397.22" y1="134" x2="397.22" y2="135.3" stroke="#444" stroke-width="0.5"/>
<text transform="translate(397.22 141.9) rotate(90)" font-size="4.4" stroke="#333" stroke-width="0.07" text-anchor="middle" textLength="12" lengthAdjust="spacingAndGlyphs" dy="1.52">25931</text>
<line x1="402.61" y1="134" x2="402.61" y2="135.3" stroke="#444" stroke-width="0.5"/>
<text transform="translate(402.61 141.9) rotate(90)" font-size="4.4" stroke="#333" stroke-width="0.07" text-anchor="middle" textLength="12" lengthAdjust="spacingAndGlyphs" dy="1.52">25933</text>
<line x1="408" y1="134" x2="408" y2="135.3" stroke="#444" stroke-width="0.5"/>
<text transform="translate(408 141.9) rotate(90)" font-size="4.4" stroke="#333" stroke-width="0.07" text-anchor="middle" textLength="12" lengthAdjust="spacingAndGlyphs" dy="1.52">25935</text>
<line x1="413.39" y1="134" x2="413.39" y2="135.3" stroke="#444" stroke-width="0.5"/>
<text transform="translate(413.39 141.9) rotate(90)" font-size="4.4" stroke="#333" stroke-width="0.07" text-anchor="middle" textLength="12" lengthAdjust="spacingAndGlyphs" dy="1.52">25936</text>
<line x1="418.78" y1="134" x2="418.78" y2="135.3" stroke="#444" stroke-width="0.5"/>
<text transform="translate(418.78 141.9) rotate(90)" font-size="4.4" stroke="#333" stroke-width="0.07" text-anchor="middle" textLength="12" lengthAdjust="spacingAndGlyphs" dy="1.52">25937</text>
<line x1="424.17" y1="134" x2="424.17" y2="135.3" stroke="#444" stroke-width="0.5"/>
<text transform="translate(424.17 141.9) rotate(90)" font-size="4.4" stroke="#333" stroke-width="0.07" text-anchor="middle" textLength="12" lengthAdjust="spacingAndGlyphs" dy="1.52">25938</text>
<line x1="429.56" y1="134" x2="429.56" y2="135.3" stroke="#444" stroke-width="0.5"/>
<text transform="translate(429.56 141.9) rotate(90)" font-size="4.4" stroke="#333" stroke-width="0.07" text-anchor="middle" textLength="12" lengthAdjust="spacingAndGlyphs" dy="1.52">25939</text>
<line x1="434.95" y1="134" x2="434.95" y2="135.3" stroke="#444" stroke-width="0.5"/>
<text transform="translate(434.95 141.9) rotate(90)" font-size="4.4" stroke="#333" stroke-width="0.07" text-anchor="middle" textLength="12" lengthAdjust="spacingAndGlyphs" dy="1.52">25940</text>
<text transform="translate(245.3 92.55) rotate(-90)" font-size="7.2" stroke="#333" stroke-width="0.12" text-anchor="middle" textLength="79.3" lengthAdjust="spacingAndGlyphs" dy="2.48">CD34<tspan font-size="3.6" dy="-2.4">+</tspan><tspan dy="2.4"> /ZsG</tspan><tspan font-size="3.6" dy="-2.4">+</tspan><tspan dy="2.4"> fraction (marrow)</tspan></text>
<text transform="translate(266 37.6) rotate(-45)" font-size="6.2" stroke="#333" stroke-width="0.1" textLength="29.5" lengthAdjust="spacingAndGlyphs">Untreated</text>
<text transform="translate(289 34.3) rotate(-49)" font-size="6.2" stroke="#333" stroke-width="0.1" textLength="28.5" lengthAdjust="spacingAndGlyphs">sgAAVS1 /</text>
<text transform="translate(294.6 38.2) rotate(-45)" font-size="6.2" stroke="#333" stroke-width="0.1" textLength="36.5" lengthAdjust="spacingAndGlyphs">AAV6 HLF-ZE</text>
<text x="342" y="29.2" font-size="6.4" stroke="#333" stroke-width="0.16" textLength="61.2" lengthAdjust="spacingAndGlyphs">sgHLF /<tspan font-style="italic">rAAV6 HLF-ZE</tspan></text>
<line x1="310" y1="31.9" x2="435.6" y2="31.9" stroke="#444" stroke-width="0.9"/>
<text x="325.4" y="39.78" font-size="6.6" stroke="#333" stroke-width="0.11" text-anchor="middle">Total</text>
<text x="367.3" y="39.88" font-size="6.6" stroke="#333" stroke-width="0.11" text-anchor="middle">ZsG<tspan font-size="3.4" dy="-2.3">&#8722;</tspan></text>
<text x="413.5" y="39.88" font-size="6.6" stroke="#333" stroke-width="0.11" text-anchor="middle">ZsG<tspan font-size="3.4" dy="-2.3">+</tspan></text>
<text transform="translate(444 64.5) rotate(90)" font-size="6.8" stroke="#333" stroke-width="0.11" text-anchor="middle" textLength="19.8" lengthAdjust="spacingAndGlyphs" dy="2.35">Week 3</text>
<text transform="translate(442.8 111.2) rotate(90)" font-size="6.8" stroke="#333" stroke-width="0.11" text-anchor="middle" textLength="20.8" lengthAdjust="spacingAndGlyphs" dy="2.35">Week 9</text>
<rect x="455.6" y="83" width="8.1" height="8.5" fill="#3cb54b"/>
<rect x="455.6" y="91.5" width="8.1" height="8.3" fill="#144f82"/>
<text x="466.3" y="87.26" font-size="4.8" stroke="#333" stroke-width="0.08">ZsG<tspan font-size="2.8" dy="-1.9">+</tspan></text>
<text x="466.3" y="94.66" font-size="4.8" stroke="#333" stroke-width="0.08">CD34+</text>
<text x="466.3" y="100.86" font-size="4.8" stroke="#333" stroke-width="0.08">ZsG<tspan font-size="2.8" dy="-1.9">&#8722;</tspan></text>
<line x1="413.6" y1="148.2" x2="413.6" y2="154.5" stroke="#000" stroke-width="0.8"/>
<path d="M413.6 157.2L412.1 153.6L415.1 153.6Z" fill="#000"/>
<line x1="423.9" y1="148.2" x2="423.9" y2="154.5" stroke="#000" stroke-width="0.8"/>
<path d="M423.9 157.2L422.4 153.6L425.4 153.6Z" fill="#000"/>
<line x1="430" y1="148.2" x2="430" y2="154.5" stroke="#000" stroke-width="0.8"/>
<path d="M430 157.2L428.5 153.6L431.5 153.6Z" fill="#000"/>
<text x="421.8" y="162.07" font-size="6" stroke="#333" stroke-width="0.1" text-anchor="middle">2<tspan font-size="3" dy="-2.2">o</tspan><tspan dy="2.2"> donors</tspan></text>
<text x="11.23" y="175" font-size="12.8" fill="#000" font-weight="bold" textLength="8.41" lengthAdjust="spacingAndGlyphs">C</text>
<g transform="translate(50 195.3)"><path d="M0.8 8.3C-3 8.7 -8 8.2 -10.3 9.6C-11.6 10.6 -9.5 12.6 -5.5 14.4" fill="none" stroke="#c2a08e" stroke-width="1"/><path d="M1 10C0 5 4 0.4 9 0.5C12 0.5 14 1.4 15.6 2.4C17.6 3.8 19.6 5.8 21 7.6C19.3 8.9 17.2 9.7 14.6 10L4 10.5C2.5 10.7 1.3 10.6 1 10Z" fill="#e9e9e9" stroke="#555" stroke-width="0.6"/><path d="M4 3C6 5 6 8 5 10M10 2C11 4 10 7 8.5 9M15 3.5C16 5 18 6 19 7M2 6C3 4 5 2 8 1.2M16.5 6.5C17.5 8 18.5 8.5 20 8.3" fill="none" stroke="#888" stroke-width="0.55"/><circle cx="13.3" cy="2.6" r="1.4" fill="#cd9c82"/><circle cx="16.8" cy="5.2" r="0.55" fill="#333"/><ellipse cx="6.5" cy="10.4" rx="1.3" ry="0.6" fill="#333"/><ellipse cx="14.8" cy="10.3" rx="1.3" ry="0.6" fill="#333"/><path d="M18.6 6.2l2.2-1.2M18.8 7.2l2.4 0.2M18.6 8.2l2 1.2" stroke="#666" stroke-width="0.4" fill="none"/></g>
<g transform="translate(50 207.8)"><path d="M0.8 8.3C-3 8.7 -8 8.2 -10.3 9.6C-11.6 10.6 -9.5 12.6 -5.5 14.4" fill="none" stroke="#c2a08e" stroke-width="1"/><path d="M1 10C0 5 4 0.4 9 0.5C12 0.5 14 1.4 15.6 2.4C17.6 3.8 19.6 5.8 21 7.6C19.3 8.9 17.2 9.7 14.6 10L4 10.5C2.5 10.7 1.3 10.6 1 10Z" fill="#e9e9e9" stroke="#555" stroke-width="0.6"/><path d="M4 3C6 5 6 8 5 10M10 2C11 4 10 7 8.5 9M15 3.5C16 5 18 6 19 7M2 6C3 4 5 2 8 1.2M16.5 6.5C17.5 8 18.5 8.5 20 8.3" fill="none" stroke="#888" stroke-width="0.55"/><circle cx="13.3" cy="2.6" r="1.4" fill="#cd9c82"/><circle cx="16.8" cy="5.2" r="0.55" fill="#333"/><ellipse cx="6.5" cy="10.4" rx="1.3" ry="0.6" fill="#333"/><ellipse cx="14.8" cy="10.3" rx="1.3" ry="0.6" fill="#333"/><path d="M18.6 6.2l2.2-1.2M18.8 7.2l2.4 0.2M18.6 8.2l2 1.2" stroke="#666" stroke-width="0.4" fill="none"/></g>
<g transform="translate(50 220.2)"><path d="M0.8 8.3C-3 8.7 -8 8.2 -10.3 9.6C-11.6 10.6 -9.5 12.6 -5.5 14.4" fill="none" stroke="#c2a08e" stroke-width="1"/><path d="M1 10C0 5 4 0.4 9 0.5C12 0.5 14 1.4 15.6 2.4C17.6 3.8 19.6 5.8 21 7.6C19.3 8.9 17.2 9.7 14.6 10L4 10.5C2.5 10.7 1.3 10.6 1 10Z" fill="#e9e9e9" stroke="#555" stroke-width="0.6"/><path d="M4 3C6 5 6 8 5 10M10 2C11 4 10 7 8.5 9M15 3.5C16 5 18 6 19 7M2 6C3 4 5 2 8 1.2M16.5 6.5C17.5 8 18.5 8.5 20 8.3" fill="none" stroke="#888" stroke-width="0.55"/><circle cx="13.3" cy="2.6" r="1.4" fill="#cd9c82"/><circle cx="16.8" cy="5.2" r="0.55" fill="#333"/><ellipse cx="6.5" cy="10.4" rx="1.3" ry="0.6" fill="#333"/><ellipse cx="14.8" cy="10.3" rx="1.3" ry="0.6" fill="#333"/><path d="M18.6 6.2l2.2-1.2M18.8 7.2l2.4 0.2M18.6 8.2l2 1.2" stroke="#666" stroke-width="0.4" fill="none"/></g>
<line x1="70.8" y1="202" x2="80.8" y2="202" stroke="#000" stroke-width="0.9"/>
<line x1="70.8" y1="227.3" x2="80.8" y2="227.3" stroke="#000" stroke-width="0.9"/>
<line x1="80.8" y1="202" x2="80.8" y2="227.3" stroke="#000" stroke-width="0.9"/>
<line x1="70.8" y1="214.9" x2="96.9" y2="214.9" stroke="#000" stroke-width="0.9"/>
<path d="M100.2 214.9L96.6 216.7L96.6 213.1Z" fill="#000"/>
<text x="62.7" y="240.98" font-size="6.6" stroke="#333" stroke-width="0.11" text-anchor="middle">10.5</text>
<text x="62.7" y="249.08" font-size="6.6" stroke="#333" stroke-width="0.11" text-anchor="middle" textLength="30.5" lengthAdjust="spacingAndGlyphs">wks post-tx</text>
<text transform="translate(105 218) rotate(-90)" font-size="6.4" stroke="#333" stroke-width="0.11" text-anchor="middle" textLength="22" lengthAdjust="spacingAndGlyphs" dy="2.21">CD34 APC</text>
<text x="157.4" y="176.13" font-size="5.6" stroke="#333" stroke-width="0.09" text-anchor="middle" textLength="38" lengthAdjust="spacingAndGlyphs">gated on hCD45<tspan font-size="3" dy="-2">+</tspan></text>
<path d="M136.7 190.2h0.5v0.5h-0.5zM131.1 207.3h0.5v0.5h-0.5zM132.9 190.5h0.5v0.5h-0.5zM131.3 202.4h0.5v0.5h-0.5zM130.5 191.0h0.5v0.5h-0.5zM135.2 204.1h0.5v0.5h-0.5zM137.1 194.2h0.5v0.5h-0.5zM134.5 188.7h0.5v0.5h-0.5zM138.7 200.3h0.5v0.5h-0.5zM136.6 209.9h0.5v0.5h-0.5zM132.9 195.6h0.5v0.5h-0.5zM138.3 194.9h0.5v0.5h-0.5zM135.7 203.7h0.5v0.5h-0.5zM132.7 202.6h0.5v0.5h-0.5zM133.3 195.4h0.5v0.5h-0.5zM136.7 199.6h0.5v0.5h-0.5zM135.7 193.6h0.5v0.5h-0.5zM146.7 205.4h0.5v0.5h-0.5zM134.3 198.9h0.5v0.5h-0.5zM135.1 206.0h0.5v0.5h-0.5zM133.3 200.0h0.5v0.5h-0.5zM138.8 205.7h0.5v0.5h-0.5zM139.3 202.3h0.5v0.5h-0.5zM138.2 205.1h0.5v0.5h-0.5zM142.0 190.9h0.5v0.5h-0.5zM137.7 200.7h0.5v0.5h-0.5zM139.7 208.5h0.5v0.5h-0.5zM140.4 203.3h0.5v0.5h-0.5zM139.4 184.2h0.5v0.5h-0.5zM136.9 190.5h0.5v0.5h-0.5zM135.9 202.9h0.5v0.5h-0.5zM135.6 208.2h0.5v0.5h-0.5zM133.5 204.2h0.5v0.5h-0.5zM139.9 200.3h0.5v0.5h-0.5zM135.9 194.4h0.5v0.5h-0.5zM133.1 206.9h0.5v0.5h-0.5zM139.9 197.5h0.5v0.5h-0.5zM140.2 198.2h0.5v0.5h-0.5zM141.1 196.1h0.5v0.5h-0.5zM139.2 202.9h0.5v0.5h-0.5zM133.5 215.4h0.5v0.5h-0.5zM137.5 198.5h0.5v0.5h-0.5zM136.5 201.9h0.5v0.5h-0.5zM131.0 201.0h0.5v0.5h-0.5zM137.9 195.3h0.5v0.5h-0.5zM143.5 200.9h0.5v0.5h-0.5zM139.1 198.6h0.5v0.5h-0.5zM141.3 195.2h0.5v0.5h-0.5zM134.2 193.4h0.5v0.5h-0.5zM133.3 200.0h0.5v0.5h-0.5zM134.9 196.4h0.5v0.5h-0.5zM129.6 205.5h0.5v0.5h-0.5zM132.4 202.6h0.5v0.5h-0.5zM136.3 199.1h0.5v0.5h-0.5zM141.1 200.6h0.5v0.5h-0.5zM140.6 199.2h0.5v0.5h-0.5zM137.3 204.6h0.5v0.5h-0.5zM142.9 192.2h0.5v0.5h-0.5zM133.0 206.5h0.5v0.5h-0.5zM139.2 204.4h0.5v0.5h-0.5zM141.4 185.7h0.5v0.5h-0.5zM138.7 193.2h0.5v0.5h-0.5zM134.8 192.3h0.5v0.5h-0.5zM137.1 198.7h0.5v0.5h-0.5zM136.2 208.5h0.5v0.5h-0.5zM135.1 206.7h0.5v0.5h-0.5zM138.8 199.7h0.5v0.5h-0.5zM136.5 199.5h0.5v0.5h-0.5zM133.3 194.2h0.5v0.5h-0.5zM129.1 207.3h0.5v0.5h-0.5zM136.0 207.3h0.5v0.5h-0.5zM133.2 204.0h0.5v0.5h-0.5zM140.2 195.9h0.5v0.5h-0.5zM133.3 200.0h0.5v0.5h-0.5zM137.8 210.1h0.5v0.5h-0.5zM144.1 204.3h0.5v0.5h-0.5zM134.3 195.3h0.5v0.5h-0.5zM137.1 204.6h0.5v0.5h-0.5zM136.1 202.8h0.5v0.5h-0.5zM134.0 184.4h0.5v0.5h-0.5zM170.3 245.9h0.5v0.5h-0.5zM150.0 231.9h0.5v0.5h-0.5zM173.1 210.1h0.5v0.5h-0.5zM166.8 230.3h0.5v0.5h-0.5zM142.9 248.6h0.5v0.5h-0.5zM149.9 216.9h0.5v0.5h-0.5zM131.5 240.1h0.5v0.5h-0.5zM150.9 207.2h0.5v0.5h-0.5zM138.9 221.7h0.5v0.5h-0.5zM152.3 235.7h0.5v0.5h-0.5zM146.6 249.4h0.5v0.5h-0.5zM142.6 241.8h0.5v0.5h-0.5zM160.1 233.7h0.5v0.5h-0.5zM145.2 231.5h0.5v0.5h-0.5zM161.1 221.7h0.5v0.5h-0.5zM156.0 239.8h0.5v0.5h-0.5zM141.9 243.7h0.5v0.5h-0.5zM154.6 235.3h0.5v0.5h-0.5zM160.1 244.4h0.5v0.5h-0.5zM154.8 248.0h0.5v0.5h-0.5zM154.1 230.4h0.5v0.5h-0.5zM149.8 232.6h0.5v0.5h-0.5zM141.9 210.4h0.5v0.5h-0.5zM165.0 223.9h0.5v0.5h-0.5zM134.4 246.0h0.5v0.5h-0.5zM137.7 227.3h0.5v0.5h-0.5zM138.9 218.8h0.5v0.5h-0.5zM146.5 234.1h0.5v0.5h-0.5zM147.5 207.3h0.5v0.5h-0.5zM152.0 235.1h0.5v0.5h-0.5zM131.0 241.9h0.5v0.5h-0.5zM160.5 242.6h0.5v0.5h-0.5zM134.3 232.4h0.5v0.5h-0.5zM177.8 239.7h0.5v0.5h-0.5zM158.9 237.4h0.5v0.5h-0.5zM148.5 228.9h0.5v0.5h-0.5zM153.8 207.9h0.5v0.5h-0.5zM123.4 241.6h0.5v0.5h-0.5zM159.7 223.1h0.5v0.5h-0.5zM173.7 233.2h0.5v0.5h-0.5zM140.2 214.4h0.5v0.5h-0.5zM150.3 224.0h0.5v0.5h-0.5zM144.6 221.6h0.5v0.5h-0.5zM131.0 237.4h0.5v0.5h-0.5zM155.0 227.3h0.5v0.5h-0.5zM157.6 208.5h0.5v0.5h-0.5zM157.8 234.0h0.5v0.5h-0.5zM157.4 245.4h0.5v0.5h-0.5zM165.9 230.7h0.5v0.5h-0.5zM143.8 224.5h0.5v0.5h-0.5zM148.1 225.3h0.5v0.5h-0.5zM169.3 212.0h0.5v0.5h-0.5zM150.9 236.5h0.5v0.5h-0.5zM142.2 246.9h0.5v0.5h-0.5zM170.7 215.9h0.5v0.5h-0.5zM161.0 235.6h0.5v0.5h-0.5z" fill="#777"/>
<g transform="translate(140.6 231.6) rotate(-78)"><rect x="-18" y="-9.3" width="42.3" height="18.6" rx="9.3" fill="#eee" stroke="#444" stroke-width="0.55"/><rect x="-18.3" y="-8.9" width="40.2" height="17.8" rx="8.9" fill="#ccc" stroke="#666" stroke-width="0.45"/><rect x="-18.6" y="-8.6" width="37.8" height="17.2" rx="8.6" fill="#888"/><rect x="-18.8" y="-7.9" width="36.2" height="15.8" rx="7.9" fill="#444"/><rect x="-18.4" y="-7.0" width="34.4" height="14.0" rx="7.0" fill="#000"/><line x1="-10" y1="0.6" x2="10" y2="0.6" stroke="#ddd" stroke-width="0.45"/></g>
<rect x="121" y="179.4" width="73.3" height="73.5" fill="none" stroke="#000" stroke-width="1.1"/>
<rect x="129" y="183.5" width="63.9" height="16.9" fill="none" stroke="#000" stroke-width="1"/>
<line x1="155" y1="183.5" x2="155" y2="200.4" stroke="#000" stroke-width="1"/>
<text x="130.8" y="189.33" font-size="5.6" stroke="#333" stroke-width="0.09" textLength="16.3" lengthAdjust="spacingAndGlyphs">0.83%</text>
<text x="192.3" y="189.33" font-size="5.6" stroke="#333" stroke-width="0.09" text-anchor="end" textLength="21" lengthAdjust="spacingAndGlyphs">0.067%</text>
<text x="119.3" y="188.63" font-size="5.6" stroke="#333" stroke-width="0.09" text-anchor="end">10<tspan font-size="3" dy="-2">5</tspan></text>
<line x1="119.5" y1="186.7" x2="121" y2="186.7" stroke="#000" stroke-width="0.7"/>
<text x="119.3" y="205.73" font-size="5.6" stroke="#333" stroke-width="0.09" text-anchor="end">10<tspan font-size="3" dy="-2">4</tspan></text>
<line x1="119.5" y1="203.8" x2="121" y2="203.8" stroke="#000" stroke-width="0.7"/>
<text x="119.3" y="223.23" font-size="5.6" stroke="#333" stroke-width="0.09" text-anchor="end">10<tspan font-size="3" dy="-2">3</tspan></text>
<line x1="119.5" y1="221.3" x2="121" y2="221.3" stroke="#000" stroke-width="0.7"/>
<text x="119.3" y="241.93" font-size="5.6" stroke="#333" stroke-width="0.09" text-anchor="end">0</text>
<line x1="119.5" y1="240" x2="121" y2="240" stroke="#000" stroke-width="0.7"/>
<text x="135.2" y="261.23" font-size="5.6" stroke="#333" stroke-width="0.09" text-anchor="middle">0</text>
<line x1="135.2" y1="252.9" x2="135.2" y2="254.4" stroke="#000" stroke-width="0.7"/>
<text x="162" y="261.23" font-size="5.6" stroke="#333" stroke-width="0.09" text-anchor="middle">10<tspan font-size="3" dy="-2">3</tspan></text>
<line x1="162" y1="252.9" x2="162" y2="254.4" stroke="#000" stroke-width="0.7"/>
<text x="184.6" y="261.23" font-size="5.6" stroke="#333" stroke-width="0.09" text-anchor="middle">10<tspan font-size="3" dy="-2">4</tspan></text>
<line x1="184.6" y1="252.9" x2="184.6" y2="254.4" stroke="#000" stroke-width="0.7"/>
<text x="157.7" y="270.67" font-size="6" stroke="#333" stroke-width="0.1" text-anchor="middle" textLength="19" lengthAdjust="spacingAndGlyphs">HLF-ZsG</text>
<line x1="125.8" y1="262.7" x2="102.93" y2="289.78" stroke="#000" stroke-width="0.9"/>
<path d="M100.8 292.3L101.75 288.39L104.5 290.71Z" fill="#000"/>
<text x="66.2" y="268.98" font-size="6.6" stroke="#333" stroke-width="0.11" textLength="24.5" lengthAdjust="spacingAndGlyphs">Magnetic</text>
<text x="66.2" y="276.58" font-size="6.6" stroke="#333" stroke-width="0.11" textLength="28.2" lengthAdjust="spacingAndGlyphs">anti-CD34</text>
<text x="66.2" y="284.28" font-size="6.6" stroke="#333" stroke-width="0.11" textLength="31.5" lengthAdjust="spacingAndGlyphs">enrichment</text>
<path d="M52.1 339.1h0.5v0.5h-0.5zM60.9 360.0h0.5v0.5h-0.5zM51.1 344.4h0.5v0.5h-0.5zM53.2 345.1h0.5v0.5h-0.5zM60.1 355.6h0.5v0.5h-0.5zM53.6 360.0h0.5v0.5h-0.5zM54.9 369.2h0.5v0.5h-0.5zM48.6 345.4h0.5v0.5h-0.5zM57.1 337.7h0.5v0.5h-0.5zM58.6 346.1h0.5v0.5h-0.5zM54.7 345.1h0.5v0.5h-0.5zM50.5 348.4h0.5v0.5h-0.5zM54.5 357.3h0.5v0.5h-0.5zM51.4 347.6h0.5v0.5h-0.5zM55.2 353.7h0.5v0.5h-0.5zM49.9 358.1h0.5v0.5h-0.5zM59.3 357.2h0.5v0.5h-0.5zM50.8 359.8h0.5v0.5h-0.5zM55.1 362.3h0.5v0.5h-0.5zM57.0 362.1h0.5v0.5h-0.5zM54.2 342.4h0.5v0.5h-0.5zM45.5 352.1h0.5v0.5h-0.5zM58.9 357.7h0.5v0.5h-0.5zM55.6 348.8h0.5v0.5h-0.5zM52.0 365.6h0.5v0.5h-0.5zM46.5 355.8h0.5v0.5h-0.5zM53.5 342.7h0.5v0.5h-0.5zM56.4 351.2h0.5v0.5h-0.5zM53.2 349.0h0.5v0.5h-0.5zM51.6 363.8h0.5v0.5h-0.5zM52.2 347.6h0.5v0.5h-0.5zM46.3 349.4h0.5v0.5h-0.5zM51.3 361.3h0.5v0.5h-0.5zM57.9 360.0h0.5v0.5h-0.5zM58.3 342.9h0.5v0.5h-0.5zM53.5 359.5h0.5v0.5h-0.5zM52.0 355.0h0.5v0.5h-0.5zM53.5 346.9h0.5v0.5h-0.5zM52.7 352.4h0.5v0.5h-0.5zM52.8 344.5h0.5v0.5h-0.5zM48.7 351.3h0.5v0.5h-0.5zM50.1 352.3h0.5v0.5h-0.5zM49.8 338.8h0.5v0.5h-0.5zM60.9 360.2h0.5v0.5h-0.5zM50.5 344.5h0.5v0.5h-0.5zM58.8 338.5h0.5v0.5h-0.5zM49.4 352.9h0.5v0.5h-0.5zM55.9 356.7h0.5v0.5h-0.5zM56.1 356.4h0.5v0.5h-0.5zM57.0 345.7h0.5v0.5h-0.5zM58.9 343.5h0.5v0.5h-0.5zM55.2 359.2h0.5v0.5h-0.5zM48.0 355.9h0.5v0.5h-0.5zM51.9 357.2h0.5v0.5h-0.5zM51.6 351.9h0.5v0.5h-0.5zM51.8 355.6h0.5v0.5h-0.5zM50.4 350.0h0.5v0.5h-0.5zM53.3 346.6h0.5v0.5h-0.5zM56.2 348.3h0.5v0.5h-0.5zM54.2 361.5h0.5v0.5h-0.5zM49.3 363.8h0.5v0.5h-0.5zM50.5 358.8h0.5v0.5h-0.5zM57.1 338.4h0.5v0.5h-0.5zM50.4 343.4h0.5v0.5h-0.5zM54.8 350.9h0.5v0.5h-0.5zM55.2 364.7h0.5v0.5h-0.5zM53.8 337.8h0.5v0.5h-0.5zM67.6 346.1h0.5v0.5h-0.5zM47.3 360.5h0.5v0.5h-0.5zM50.4 342.8h0.5v0.5h-0.5zM57.2 348.1h0.5v0.5h-0.5zM50.0 346.4h0.5v0.5h-0.5zM52.9 355.2h0.5v0.5h-0.5zM55.5 350.8h0.5v0.5h-0.5zM52.3 362.8h0.5v0.5h-0.5zM57.2 355.5h0.5v0.5h-0.5zM50.8 342.2h0.5v0.5h-0.5zM50.9 344.7h0.5v0.5h-0.5zM52.2 364.3h0.5v0.5h-0.5zM51.7 352.8h0.5v0.5h-0.5zM56.1 361.0h0.5v0.5h-0.5zM51.3 349.6h0.5v0.5h-0.5zM62.1 344.8h0.5v0.5h-0.5zM49.3 344.7h0.5v0.5h-0.5zM65.0 351.0h0.5v0.5h-0.5zM52.4 339.4h0.5v0.5h-0.5zM52.8 349.6h0.5v0.5h-0.5zM89.8 343.8h0.5v0.5h-0.5zM80.9 325.7h0.5v0.5h-0.5zM59.7 321.2h0.5v0.5h-0.5zM86.1 317.2h0.5v0.5h-0.5zM41.5 326.0h0.5v0.5h-0.5zM57.2 325.3h0.5v0.5h-0.5zM77.2 325.0h0.5v0.5h-0.5zM82.1 317.1h0.5v0.5h-0.5zM81.9 345.6h0.5v0.5h-0.5zM70.1 318.4h0.5v0.5h-0.5zM68.5 326.5h0.5v0.5h-0.5zM75.6 315.6h0.5v0.5h-0.5zM75.8 345.4h0.5v0.5h-0.5zM86.7 318.6h0.5v0.5h-0.5zM80.9 329.6h0.5v0.5h-0.5zM76.1 333.0h0.5v0.5h-0.5zM69.0 349.2h0.5v0.5h-0.5zM68.5 344.4h0.5v0.5h-0.5zM75.8 325.7h0.5v0.5h-0.5zM74.0 316.2h0.5v0.5h-0.5zM62.2 326.5h0.5v0.5h-0.5zM67.6 331.1h0.5v0.5h-0.5zM85.6 319.7h0.5v0.5h-0.5zM64.6 307.2h0.5v0.5h-0.5zM91.3 350.6h0.5v0.5h-0.5z" fill="#888"/>
<path d="M44 304.6C52 304 61 304.2 66.5 306C69 310 69 318 68 324C64 330 57 336 53 342.5C50 344 46 344 44.5 341C43.8 330 43.8 315 44 304.6Z" fill="#8c8c8c" stroke="#222" stroke-width="0.6"/>
<path d="M53.5 329C57 325 62 322 66.5 321C66 326 60 331 55 336.5C53.5 337.5 53 334 53.5 329Z" fill="#eee" stroke="#444" stroke-width="0.5"/>
<path d="M55 331C58 327.5 61 325.5 64 324.5" fill="none" stroke="#666" stroke-width="0.4"/>
<path d="M44.2 305.5C52 305 59 305.5 63.5 308.5C65 313 64.5 318 61 322C57 326 54 330 51 335C48.5 338 45.5 338 44.4 335Z" fill="#5a5a5a" stroke="#222" stroke-width="0.5"/>
<path d="M56 307C60 307.5 62 309.5 62.5 312.5M55 319C58 317 60 315 61 312M52 326C55 323 57 321 59 318" fill="none" stroke="#bbb" stroke-width="0.4"/>
<path d="M44.3 309.3C48 308.8 52 309 54.5 310.5C55.8 314 55 320 52.5 326C50.5 330.5 48 333.5 46 334C45 333.5 44.5 331 44.4 328Z" fill="#000"/>
<path d="M44.2 304.6C48 304.3 53 304.4 56 305C55 306.5 55 308 54.5 309.5C51 309 47 309 44.3 309.4Z" fill="#b5b5b5"/>
<path d="M66 309.2C71 308.6 78 309 84 311.5C79 314 72 315 66 315.8" fill="none" stroke="#333" stroke-width="0.6"/>
<path d="M66 310.8C70 310.4 75 310.8 78.5 312C75 313.2 70 313.6 66 314" fill="none" stroke="#555" stroke-width="0.5"/>
<rect x="35" y="299.7" width="73.1" height="73.1" fill="none" stroke="#000" stroke-width="1.1"/>
<rect x="42.4" y="303.6" width="26.2" height="17.2" fill="none" stroke="#2a64a0" stroke-width="1"/>
<rect x="68.6" y="303.6" width="37.1" height="17.2" fill="none" stroke="#cc1f3f" stroke-width="1"/>
<text x="43.2" y="308.83" font-size="5.6" stroke="#333" stroke-width="0.09" textLength="10.5" lengthAdjust="spacingAndGlyphs">42%</text>
<text x="104.4" y="308.83" font-size="5.6" stroke="#333" stroke-width="0.09" text-anchor="end" textLength="12.8" lengthAdjust="spacingAndGlyphs">2.5%</text>
<text x="32" y="309.03" font-size="5.6" stroke="#333" stroke-width="0.09" text-anchor="end">10<tspan font-size="3" dy="-2">5</tspan></text>
<line x1="33.5" y1="307.1" x2="35" y2="307.1" stroke="#000" stroke-width="0.7"/>
<text x="32" y="326.03" font-size="5.6" stroke="#333" stroke-width="0.09" text-anchor="end">10<tspan font-size="3" dy="-2">4</tspan></text>
<line x1="33.5" y1="324.1" x2="35" y2="324.1" stroke="#000" stroke-width="0.7"/>
<text x="32" y="344.93" font-size="5.6" stroke="#333" stroke-width="0.09" text-anchor="end">10<tspan font-size="3" dy="-2">3</tspan></text>
<line x1="33.5" y1="343" x2="35" y2="343" stroke="#000" stroke-width="0.7"/>
<text x="32" y="362.73" font-size="5.6" stroke="#333" stroke-width="0.09" text-anchor="end">0</text>
<line x1="33.5" y1="360.8" x2="35" y2="360.8" stroke="#000" stroke-width="0.7"/>
<text transform="translate(16.3 336.8) rotate(-90)" font-size="6.4" stroke="#333" stroke-width="0.11" text-anchor="middle" textLength="22.3" lengthAdjust="spacingAndGlyphs" dy="2.21">CD34 APC</text>
<text x="50.9" y="381.43" font-size="5.6" stroke="#333" stroke-width="0.09" text-anchor="middle">0</text>
<line x1="50.9" y1="372.8" x2="50.9" y2="374.3" stroke="#000" stroke-width="0.7"/>
<text x="78" y="381.43" font-size="5.6" stroke="#333" stroke-width="0.09" text-anchor="middle">10<tspan font-size="3" dy="-2">3</tspan></text>
<line x1="78" y1="372.8" x2="78" y2="374.3" stroke="#000" stroke-width="0.7"/>
<text x="98.6" y="381.43" font-size="5.6" stroke="#333" stroke-width="0.09" text-anchor="middle">10<tspan font-size="3" dy="-2">4</tspan></text>
<line x1="98.6" y1="372.8" x2="98.6" y2="374.3" stroke="#000" stroke-width="0.7"/>
<text x="71.3" y="390.77" font-size="6" stroke="#333" stroke-width="0.1" text-anchor="middle" textLength="19" lengthAdjust="spacingAndGlyphs">HLF-ZsG</text>
<line x1="105.7" y1="312.3" x2="118.1" y2="312.3" stroke="#cc1f3f" stroke-width="0.9"/>
<path d="M121.2 312.3L117.8 314L117.8 310.6Z" fill="#cc1f3f"/>
<text x="139.4" y="313.61" font-size="6.4" stroke="#333" stroke-width="0.11" text-anchor="middle">ZsG<tspan font-size="3.4" dy="-2.3">+</tspan></text>
<text x="139.4" y="321.01" font-size="6.4" stroke="#333" stroke-width="0.11" text-anchor="middle" textLength="14.5" lengthAdjust="spacingAndGlyphs">900 c</text>
<rect x="156" y="307.5" width="2.1" height="14.8" fill="#c8102e"/>
<line x1="161.5" y1="312.9" x2="169.1" y2="312.9" stroke="#000" stroke-width="0.9"/>
<path d="M172.2 312.9L168.8 314.7L168.8 311.1Z" fill="#000"/>
<g transform="translate(175 308.5)"><path d="M0.8 5.5C1 2 4 0.3 8 0.5C12 0.6 16 3 16.8 7C17.2 10 15.5 13 12 13.5C10.3 13.6 9.4 12.5 10.4 11.4C11.4 10.4 12 9.4 11 8.5C9.2 7.6 7.8 8.4 6.8 8.8L6.6 10.6C6.3 11.3 5.2 11.2 5.1 10.4L5.1 9.2C3.8 9.4 2.2 8.8 1 7Z" fill="#f4c2b4"/><ellipse cx="11.2" cy="6.4" rx="2.6" ry="2.1" fill="#e48a92" opacity="0.75"/><circle cx="2.6" cy="5.0" r="0.55" fill="#444"/></g>
<text x="175.4" y="321.53" font-size="5.6" stroke="#333" stroke-width="0.09" text-anchor="middle">2<tspan font-size="2.8" dy="-2">o</tspan></text>
<text x="184.4" y="328.4" font-size="5.8" stroke="#333" stroke-width="0.1" text-anchor="middle" textLength="14.8" lengthAdjust="spacingAndGlyphs">n = 10</text>
<path d="M51.8 320.8V344.5H119" fill="none" stroke="#2a64a0" stroke-width="0.9"/>
<path d="M122 344.5L118.6 342.7L118.6 346.3Z" fill="#2a64a0"/>
<rect x="122.1" y="338.1" width="35.9" height="14.5" fill="#2a6096"/>
<text x="139.6" y="343.84" font-size="6.2" stroke="#fff" stroke-width="0.1" text-anchor="middle" fill="#fff">ZsG<tspan font-size="3.4" dy="-2.3">&#8722;</tspan></text>
<text x="139.6" y="350.94" font-size="6.2" stroke="#fff" stroke-width="0.1" text-anchor="middle" fill="#fff" textLength="22" lengthAdjust="spacingAndGlyphs">1.5*10<tspan font-size="3.4" dy="-2.2">4</tspan><tspan dy="2.2">c</tspan></text>
<line x1="161.5" y1="343" x2="169.1" y2="343" stroke="#000" stroke-width="0.9"/>
<path d="M172.2 343L168.8 344.8L168.8 341.2Z" fill="#000"/>
<g transform="translate(175 338.8)"><path d="M0.8 5.5C1 2 4 0.3 8 0.5C12 0.6 16 3 16.8 7C17.2 10 15.5 13 12 13.5C10.3 13.6 9.4 12.5 10.4 11.4C11.4 10.4 12 9.4 11 8.5C9.2 7.6 7.8 8.4 6.8 8.8L6.6 10.6C6.3 11.3 5.2 11.2 5.1 10.4L5.1 9.2C3.8 9.4 2.2 8.8 1 7Z" fill="#f4c2b4"/><ellipse cx="11.2" cy="6.4" rx="2.6" ry="2.1" fill="#e48a92" opacity="0.75"/><circle cx="2.6" cy="5.0" r="0.55" fill="#444"/></g>
<text x="175.4" y="351.83" font-size="5.6" stroke="#333" stroke-width="0.09" text-anchor="middle">2<tspan font-size="2.8" dy="-2">o</tspan></text>
<text x="184.4" y="358.6" font-size="5.8" stroke="#333" stroke-width="0.1" text-anchor="middle" textLength="12.6" lengthAdjust="spacingAndGlyphs">n = 7</text>
<text x="210.02" y="175" font-size="12.8" fill="#000" font-weight="bold" textLength="9.52" lengthAdjust="spacingAndGlyphs">D</text>
<text x="256.6" y="185.51" font-size="6.4" stroke="#333" stroke-width="0.11" text-anchor="middle">ZsG<tspan font-size="3.4" dy="-2.3">+</tspan></text>
<text x="304.6" y="185.51" font-size="6.4" stroke="#333" stroke-width="0.11" text-anchor="middle">ZsG<tspan font-size="3.4" dy="-2.3">&#8722;</tspan></text>
<rect x="232.7" y="214.3" width="4.54" height="12.7" fill="#3cb54b"/>
<rect x="237.94" y="196.2" width="4.54" height="30.8" fill="#3cb54b"/>
<rect x="243.18" y="189.8" width="4.54" height="37.2" fill="#3cb54b"/>
<rect x="248.42" y="191" width="4.54" height="36" fill="#3cb54b"/>
<rect x="253.66" y="212.9" width="4.54" height="14.1" fill="#3cb54b"/>
<rect x="258.9" y="215.7" width="4.54" height="11.3" fill="#3cb54b"/>
<rect x="264.14" y="223.7" width="4.54" height="3.3" fill="#3cb54b"/>
<rect x="269.38" y="224.9" width="4.54" height="2.1" fill="#3cb54b"/>
<rect x="274.62" y="225.6" width="4.54" height="1.4" fill="#3cb54b"/>
<rect x="279.86" y="226" width="4.54" height="1" fill="#3cb54b"/>
<rect x="287.9" y="226" width="4.54" height="1" fill="#8fb4dc"/>
<rect x="293.14" y="226" width="4.54" height="1" fill="#8fb4dc"/>
<rect x="298.38" y="226" width="4.54" height="1" fill="#8fb4dc"/>
<rect x="303.62" y="226" width="4.54" height="1" fill="#8fb4dc"/>
<rect x="308.86" y="226" width="4.54" height="1" fill="#8fb4dc"/>
<rect x="314.1" y="226" width="4.54" height="1" fill="#8fb4dc"/>
<rect x="319.34" y="226" width="4.54" height="1" fill="#8fb4dc"/>
<line x1="232.8" y1="227.1" x2="284.8" y2="227.1" stroke="#bbb" stroke-width="0.4"/>
<line x1="287.9" y1="227.1" x2="323.7" y2="227.1" stroke="#bbb" stroke-width="0.4"/>
<rect x="232.2" y="187.8" width="53.2" height="40.4" rx="1" fill="none" stroke="#606060" stroke-width="1.05"/>
<rect x="287.4" y="187.8" width="36.9" height="40.4" rx="1" fill="none" stroke="#606060" stroke-width="1.05"/>
<text x="229.9" y="192.98" font-size="4.3" stroke="#333" stroke-width="0.07" text-anchor="end">80%</text>
<line x1="230.2" y1="191.5" x2="231.7" y2="191.5" stroke="#000" stroke-width="0.6"/>
<text x="229.9" y="201.68" font-size="4.3" stroke="#333" stroke-width="0.07" text-anchor="end">60%</text>
<line x1="230.2" y1="200.2" x2="231.7" y2="200.2" stroke="#000" stroke-width="0.6"/>
<text x="229.9" y="210.48" font-size="4.3" stroke="#333" stroke-width="0.07" text-anchor="end">40%</text>
<line x1="230.2" y1="209" x2="231.7" y2="209" stroke="#000" stroke-width="0.6"/>
<text x="229.9" y="219.48" font-size="4.3" stroke="#333" stroke-width="0.07" text-anchor="end">20%</text>
<line x1="230.2" y1="218" x2="231.7" y2="218" stroke="#000" stroke-width="0.6"/>
<text x="229.9" y="228.28" font-size="4.3" stroke="#333" stroke-width="0.07" text-anchor="end">0%</text>
<line x1="230.2" y1="226.8" x2="231.7" y2="226.8" stroke="#000" stroke-width="0.6"/>
<rect x="270.6" y="203.9" width="30" height="7.4" fill="#fff"/>
<text x="271.2" y="209.64" font-size="5.9" stroke="#555" stroke-width="0.1" fill="#555" textLength="28.8" lengthAdjust="spacingAndGlyphs">p = 3.8*10<tspan font-size="3.4" dy="-2.2">&#8722;4</tspan></text>
<text transform="translate(330 207.3) rotate(-90)" font-size="6.6" stroke="#333" stroke-width="0.11" text-anchor="middle" textLength="16.4" lengthAdjust="spacingAndGlyphs" dy="2.28">Week 5</text>
<text transform="translate(337.7 207.3) rotate(-90)" font-size="6" stroke="#555" stroke-width="0.1" text-anchor="middle" fill="#555" textLength="12.8" lengthAdjust="spacingAndGlyphs" dy="2.07">blood</text>
<rect x="232.7" y="233.4" width="4.54" height="37" fill="#3cb54b"/>
<rect x="237.94" y="268.8" width="4.54" height="1.6" fill="#3cb54b"/>
<rect x="243.18" y="233.4" width="4.54" height="37" fill="#3cb54b"/>
<rect x="248.42" y="264" width="4.54" height="6.4" fill="#3cb54b"/>
<line x1="232.8" y1="270" x2="284.8" y2="270" stroke="#555" stroke-width="0.6" stroke-dasharray="2.2 1.4"/>
<line x1="287.9" y1="270" x2="323.7" y2="270" stroke="#555" stroke-width="0.6" stroke-dasharray="2.2 1.4"/>
<line x1="232.8" y1="270.5" x2="284.8" y2="270.5" stroke="#bbb" stroke-width="0.4"/>
<line x1="287.9" y1="270.5" x2="323.7" y2="270.5" stroke="#bbb" stroke-width="0.4"/>
<rect x="232.2" y="231.1" width="53.2" height="40.7" rx="1" fill="none" stroke="#606060" stroke-width="1.05"/>
<rect x="287.4" y="231.1" width="36.9" height="40.7" rx="1" fill="none" stroke="#606060" stroke-width="1.05"/>
<text x="229.9" y="242.38" font-size="4.3" stroke="#333" stroke-width="0.07" text-anchor="end">30%</text>
<line x1="230.2" y1="240.9" x2="231.7" y2="240.9" stroke="#000" stroke-width="0.6"/>
<text x="229.9" y="252.48" font-size="4.3" stroke="#333" stroke-width="0.07" text-anchor="end">20%</text>
<line x1="230.2" y1="251" x2="231.7" y2="251" stroke="#000" stroke-width="0.6"/>
<text x="229.9" y="262.18" font-size="4.3" stroke="#333" stroke-width="0.07" text-anchor="end">10%</text>
<line x1="230.2" y1="260.7" x2="231.7" y2="260.7" stroke="#000" stroke-width="0.6"/>
<text x="229.9" y="271.68" font-size="4.3" stroke="#333" stroke-width="0.07" text-anchor="end">0%</text>
<line x1="230.2" y1="270.2" x2="231.7" y2="270.2" stroke="#000" stroke-width="0.6"/>
<rect x="271.3" y="244.9" width="32.3" height="7.4" fill="#fff"/>
<text x="271.9" y="250.64" font-size="5.9" stroke="#555" stroke-width="0.1" fill="#555" textLength="31.1" lengthAdjust="spacingAndGlyphs">p = 7.32*10<tspan font-size="3.4" dy="-2.2">&#8722;3</tspan></text>
<text transform="translate(330 252.3) rotate(-90)" font-size="6.6" stroke="#333" stroke-width="0.11" text-anchor="middle" textLength="16.4" lengthAdjust="spacingAndGlyphs" dy="2.28">Week 9</text>
<text transform="translate(337.7 252.3) rotate(-90)" font-size="6" stroke="#555" stroke-width="0.1" text-anchor="middle" fill="#555" textLength="16" lengthAdjust="spacingAndGlyphs" dy="2.07">marrow</text>
<rect x="232.7" y="277.1" width="4.54" height="36.8" fill="#3cb54b"/>
<rect x="237.94" y="301.7" width="4.54" height="12.2" fill="#3cb54b"/>
<rect x="243.18" y="312.3" width="4.54" height="1.6" fill="#3cb54b"/>
<rect x="248.42" y="305.9" width="4.54" height="8" fill="#3cb54b"/>
<rect x="253.66" y="312" width="4.54" height="1.9" fill="#3cb54b"/>
<rect x="288.3" y="312.6" width="4.6" height="1.3" fill="#3d70b0"/>
<line x1="232.8" y1="310.3" x2="284.8" y2="310.3" stroke="#555" stroke-width="0.6" stroke-dasharray="2.2 1.4"/>
<line x1="287.9" y1="310.3" x2="323.7" y2="310.3" stroke="#555" stroke-width="0.6" stroke-dasharray="2.2 1.4"/>
<line x1="232.8" y1="314" x2="284.8" y2="314" stroke="#bbb" stroke-width="0.4"/>
<line x1="287.9" y1="314" x2="323.7" y2="314" stroke="#bbb" stroke-width="0.4"/>
<rect x="232.2" y="275.2" width="53.2" height="39.6" rx="1" fill="none" stroke="#606060" stroke-width="1.05"/>
<rect x="287.4" y="275.2" width="36.9" height="39.6" rx="1" fill="none" stroke="#606060" stroke-width="1.05"/>
<text x="229.9" y="282.28" font-size="4.3" stroke="#333" stroke-width="0.07" text-anchor="end">0.75%</text>
<line x1="230.2" y1="280.8" x2="231.7" y2="280.8" stroke="#000" stroke-width="0.6"/>
<text x="229.9" y="293.98" font-size="4.3" stroke="#333" stroke-width="0.07" text-anchor="end">0.5%</text>
<line x1="230.2" y1="292.5" x2="231.7" y2="292.5" stroke="#000" stroke-width="0.6"/>
<text x="229.9" y="304.48" font-size="4.3" stroke="#333" stroke-width="0.07" text-anchor="end">0.25%</text>
<line x1="230.2" y1="303" x2="231.7" y2="303" stroke="#000" stroke-width="0.6"/>
<text x="229.9" y="315.18" font-size="4.3" stroke="#333" stroke-width="0.07" text-anchor="end">0%</text>
<line x1="230.2" y1="313.7" x2="231.7" y2="313.7" stroke="#000" stroke-width="0.6"/>
<rect x="269.2" y="287.2" width="32.3" height="7.4" fill="#fff"/>
<text x="269.8" y="292.94" font-size="5.9" stroke="#555" stroke-width="0.1" fill="#555" textLength="31.1" lengthAdjust="spacingAndGlyphs">p = 1.79*10<tspan font-size="3.4" dy="-2.2">&#8722;2</tspan></text>
<text transform="translate(330 295.2) rotate(-90)" font-size="6.6" stroke="#333" stroke-width="0.11" text-anchor="middle" textLength="19" lengthAdjust="spacingAndGlyphs" dy="2.28">Week 16</text>
<text transform="translate(337.7 295.2) rotate(-90)" font-size="6" stroke="#555" stroke-width="0.1" text-anchor="middle" fill="#555" textLength="16" lengthAdjust="spacingAndGlyphs" dy="2.07">marrow</text>
<rect x="232.7" y="321.2" width="4.54" height="36.4" fill="#3cb54b"/>
<rect x="237.94" y="347.4" width="4.54" height="10.2" fill="#3cb54b"/>
<rect x="243.18" y="356.3" width="4.54" height="1.3" fill="#3cb54b"/>
<rect x="248.42" y="336.5" width="4.54" height="21.1" fill="#3cb54b"/>
<line x1="232.8" y1="357" x2="284.8" y2="357" stroke="#555" stroke-width="0.6" stroke-dasharray="2.2 1.4"/>
<line x1="287.9" y1="357" x2="323.7" y2="357" stroke="#555" stroke-width="0.6" stroke-dasharray="2.2 1.4"/>
<line x1="232.8" y1="357.7" x2="284.8" y2="357.7" stroke="#bbb" stroke-width="0.4"/>
<line x1="287.9" y1="357.7" x2="323.7" y2="357.7" stroke="#bbb" stroke-width="0.4"/>
<rect x="232.2" y="318.4" width="53.2" height="41" rx="1" fill="none" stroke="#606060" stroke-width="1.05"/>
<rect x="287.4" y="318.4" width="36.9" height="41" rx="1" fill="none" stroke="#606060" stroke-width="1.05"/>
<text x="229.9" y="323.78" font-size="4.3" stroke="#333" stroke-width="0.07" text-anchor="end">8%</text>
<line x1="230.2" y1="322.3" x2="231.7" y2="322.3" stroke="#000" stroke-width="0.6"/>
<text x="229.9" y="332.98" font-size="4.3" stroke="#333" stroke-width="0.07" text-anchor="end">6%</text>
<line x1="230.2" y1="331.5" x2="231.7" y2="331.5" stroke="#000" stroke-width="0.6"/>
<text x="229.9" y="341.88" font-size="4.3" stroke="#333" stroke-width="0.07" text-anchor="end">4%</text>
<line x1="230.2" y1="340.4" x2="231.7" y2="340.4" stroke="#000" stroke-width="0.6"/>
<text x="229.9" y="350.48" font-size="4.3" stroke="#333" stroke-width="0.07" text-anchor="end">2%</text>
<line x1="230.2" y1="349" x2="231.7" y2="349" stroke="#000" stroke-width="0.6"/>
<text x="229.9" y="358.88" font-size="4.3" stroke="#333" stroke-width="0.07" text-anchor="end">0%</text>
<line x1="230.2" y1="357.4" x2="231.7" y2="357.4" stroke="#000" stroke-width="0.6"/>
<rect x="269.2" y="328.6" width="32.7" height="7.4" fill="#fff"/>
<text x="269.8" y="334.34" font-size="5.9" stroke="#555" stroke-width="0.1" fill="#555" textLength="31.5" lengthAdjust="spacingAndGlyphs">p = 2.69*10<tspan font-size="3.4" dy="-2.2">&#8722;3</tspan></text>
<text transform="translate(330 339.6) rotate(-90)" font-size="6.6" stroke="#333" stroke-width="0.11" text-anchor="middle" textLength="19" lengthAdjust="spacingAndGlyphs" dy="2.28">Week 16</text>
<text transform="translate(337.7 339.6) rotate(-90)" font-size="6" stroke="#555" stroke-width="0.1" text-anchor="middle" fill="#555" textLength="14.7" lengthAdjust="spacingAndGlyphs" dy="2.07">spleen</text>
<text transform="translate(212.2 274) rotate(-90)" font-size="6.6" stroke="#444" stroke-width="0.11" text-anchor="middle" fill="#444" textLength="46.5" lengthAdjust="spacingAndGlyphs" dy="2.28">Human chimerism</text>
<line x1="234.97" y1="359.4" x2="234.97" y2="360.6" stroke="#444" stroke-width="0.5"/>
<text transform="translate(234.97 368) rotate(-90)" font-size="4.4" stroke="#333" stroke-width="0.07" text-anchor="middle" textLength="11.8" lengthAdjust="spacingAndGlyphs" dy="1.52">26152</text>
<line x1="240.21" y1="359.4" x2="240.21" y2="360.6" stroke="#444" stroke-width="0.5"/>
<text transform="translate(240.21 368) rotate(-90)" font-size="4.4" stroke="#333" stroke-width="0.07" text-anchor="middle" textLength="11.8" lengthAdjust="spacingAndGlyphs" dy="1.52">26154</text>
<line x1="245.45" y1="359.4" x2="245.45" y2="360.6" stroke="#444" stroke-width="0.5"/>
<text transform="translate(245.45 368) rotate(-90)" font-size="4.4" stroke="#333" stroke-width="0.07" text-anchor="middle" textLength="11.8" lengthAdjust="spacingAndGlyphs" dy="1.52">26156</text>
<line x1="250.69" y1="359.4" x2="250.69" y2="360.6" stroke="#444" stroke-width="0.5"/>
<text transform="translate(250.69 368) rotate(-90)" font-size="4.4" stroke="#333" stroke-width="0.07" text-anchor="middle" textLength="11.8" lengthAdjust="spacingAndGlyphs" dy="1.52">26159</text>
<line x1="255.93" y1="359.4" x2="255.93" y2="360.6" stroke="#444" stroke-width="0.5"/>
<text transform="translate(255.93 368) rotate(-90)" font-size="4.4" stroke="#333" stroke-width="0.07" text-anchor="middle" textLength="11.8" lengthAdjust="spacingAndGlyphs" dy="1.52">26150</text>
<line x1="261.17" y1="359.4" x2="261.17" y2="360.6" stroke="#444" stroke-width="0.5"/>
<text transform="translate(261.17 368) rotate(-90)" font-size="4.4" stroke="#333" stroke-width="0.07" text-anchor="middle" textLength="11.8" lengthAdjust="spacingAndGlyphs" dy="1.52">26155</text>
<line x1="266.41" y1="359.4" x2="266.41" y2="360.6" stroke="#444" stroke-width="0.5"/>
<text transform="translate(266.41 368) rotate(-90)" font-size="4.4" stroke="#333" stroke-width="0.07" text-anchor="middle" textLength="11.8" lengthAdjust="spacingAndGlyphs" dy="1.52">26153</text>
<line x1="271.65" y1="359.4" x2="271.65" y2="360.6" stroke="#444" stroke-width="0.5"/>
<text transform="translate(271.65 368) rotate(-90)" font-size="4.4" stroke="#333" stroke-width="0.07" text-anchor="middle" textLength="11.8" lengthAdjust="spacingAndGlyphs" dy="1.52">26157</text>
<line x1="276.89" y1="359.4" x2="276.89" y2="360.6" stroke="#444" stroke-width="0.5"/>
<text transform="translate(276.89 368) rotate(-90)" font-size="4.4" stroke="#333" stroke-width="0.07" text-anchor="middle" textLength="11.8" lengthAdjust="spacingAndGlyphs" dy="1.52">26158</text>
<line x1="282.13" y1="359.4" x2="282.13" y2="360.6" stroke="#444" stroke-width="0.5"/>
<text transform="translate(282.13 368) rotate(-90)" font-size="4.4" stroke="#333" stroke-width="0.07" text-anchor="middle" textLength="11.8" lengthAdjust="spacingAndGlyphs" dy="1.52">26151</text>
<line x1="290.17" y1="359.4" x2="290.17" y2="360.6" stroke="#444" stroke-width="0.5"/>
<text transform="translate(290.17 368) rotate(-90)" font-size="4.4" stroke="#333" stroke-width="0.07" text-anchor="middle" textLength="11.8" lengthAdjust="spacingAndGlyphs" dy="1.52">26146</text>
<line x1="295.41" y1="359.4" x2="295.41" y2="360.6" stroke="#444" stroke-width="0.5"/>
<text transform="translate(295.41 368) rotate(-90)" font-size="4.4" stroke="#333" stroke-width="0.07" text-anchor="middle" textLength="11.8" lengthAdjust="spacingAndGlyphs" dy="1.52">26147</text>
<line x1="300.65" y1="359.4" x2="300.65" y2="360.6" stroke="#444" stroke-width="0.5"/>
<text transform="translate(300.65 368) rotate(-90)" font-size="4.4" stroke="#333" stroke-width="0.07" text-anchor="middle" textLength="11.8" lengthAdjust="spacingAndGlyphs" dy="1.52">26143</text>
<line x1="305.89" y1="359.4" x2="305.89" y2="360.6" stroke="#444" stroke-width="0.5"/>
<text transform="translate(305.89 368) rotate(-90)" font-size="4.4" stroke="#333" stroke-width="0.07" text-anchor="middle" textLength="11.8" lengthAdjust="spacingAndGlyphs" dy="1.52">26148</text>
<line x1="311.13" y1="359.4" x2="311.13" y2="360.6" stroke="#444" stroke-width="0.5"/>
<text transform="translate(311.13 368) rotate(-90)" font-size="4.4" stroke="#333" stroke-width="0.07" text-anchor="middle" textLength="11.8" lengthAdjust="spacingAndGlyphs" dy="1.52">26145</text>
<line x1="316.37" y1="359.4" x2="316.37" y2="360.6" stroke="#444" stroke-width="0.5"/>
<text transform="translate(316.37 368) rotate(-90)" font-size="4.4" stroke="#333" stroke-width="0.07" text-anchor="middle" textLength="11.8" lengthAdjust="spacingAndGlyphs" dy="1.52">26144</text>
<line x1="321.61" y1="359.4" x2="321.61" y2="360.6" stroke="#444" stroke-width="0.5"/>
<text transform="translate(321.61 368) rotate(-90)" font-size="4.4" stroke="#333" stroke-width="0.07" text-anchor="middle" textLength="11.8" lengthAdjust="spacingAndGlyphs" dy="1.52">26149</text>
<text x="346.52" y="175" font-size="12.8" fill="#000" font-weight="bold" textLength="7.77" lengthAdjust="spacingAndGlyphs">E</text>
<text x="390.6" y="185.51" font-size="6.4" stroke="#333" stroke-width="0.11" text-anchor="middle">ZsG<tspan font-size="3.4" dy="-2.3">&#8722;</tspan></text>
<text x="440.7" y="185.51" font-size="6.4" stroke="#333" stroke-width="0.11" text-anchor="middle">ZsG<tspan font-size="3.4" dy="-2.3">+</tspan></text>
<rect x="370.75" y="189.8" width="4.4" height="37" fill="#144f82"/>
<rect x="370.75" y="189.8" width="4.4" height="0.37" fill="#3cb54b"/>
<rect x="370.75" y="190.17" width="4.4" height="3.7" fill="#c8102e"/>
<rect x="376.05" y="189.8" width="4.4" height="37" fill="#144f82"/>
<rect x="376.05" y="189.8" width="4.4" height="0.74" fill="#c8102e"/>
<rect x="381.35" y="189.8" width="4.4" height="37" fill="#144f82"/>
<rect x="381.35" y="189.8" width="4.4" height="1.85" fill="#c8102e"/>
<rect x="386.65" y="189.8" width="4.4" height="37" fill="#144f82"/>
<rect x="391.95" y="189.8" width="4.4" height="37" fill="#144f82"/>
<rect x="391.95" y="189.8" width="4.4" height="1.11" fill="#c8102e"/>
<rect x="397.25" y="189.8" width="4.4" height="37" fill="#144f82"/>
<rect x="397.25" y="189.8" width="4.4" height="8.88" fill="#c8102e"/>
<rect x="402.55" y="189.8" width="4.4" height="37" fill="#144f82"/>
<rect x="402.55" y="189.8" width="4.4" height="17.39" fill="#c8102e"/>
<rect x="407.85" y="189.8" width="4.4" height="37" fill="#144f82"/>
<rect x="407.85" y="189.8" width="4.4" height="1.11" fill="#c8102e"/>
<rect x="413.15" y="189.8" width="4.4" height="37" fill="#144f82"/>
<rect x="418.45" y="189.8" width="4.4" height="37" fill="#144f82"/>
<rect x="418.45" y="189.8" width="4.4" height="6.66" fill="#c8102e"/>
<rect x="427.5" y="189.8" width="4.4" height="37" fill="#144f82"/>
<rect x="432.77" y="189.8" width="4.4" height="37" fill="#144f82"/>
<rect x="438.04" y="189.8" width="4.4" height="37" fill="#144f82"/>
<rect x="443.31" y="189.8" width="4.4" height="37" fill="#144f82"/>
<rect x="448.58" y="189.8" width="4.4" height="37" fill="#144f82"/>
<rect x="453.85" y="189.8" width="4.4" height="37" fill="#144f82"/>
<rect x="459.12" y="189.8" width="4.4" height="37" fill="#144f82"/>
<rect x="370.2" y="188" width="53.6" height="40.4" rx="1" fill="none" stroke="#606060" stroke-width="1.05"/>
<rect x="426.1" y="188" width="38.7" height="40.4" rx="1" fill="none" stroke="#606060" stroke-width="1.05"/>
<text x="367.8" y="191.28" font-size="4.3" stroke="#333" stroke-width="0.07" text-anchor="end">100%</text>
<line x1="368.2" y1="189.8" x2="369.7" y2="189.8" stroke="#000" stroke-width="0.6"/>
<text x="367.8" y="200.53" font-size="4.3" stroke="#333" stroke-width="0.07" text-anchor="end">75%</text>
<line x1="368.2" y1="199.05" x2="369.7" y2="199.05" stroke="#000" stroke-width="0.6"/>
<text x="367.8" y="209.78" font-size="4.3" stroke="#333" stroke-width="0.07" text-anchor="end">50%</text>
<line x1="368.2" y1="208.3" x2="369.7" y2="208.3" stroke="#000" stroke-width="0.6"/>
<text x="367.8" y="219.03" font-size="4.3" stroke="#333" stroke-width="0.07" text-anchor="end">25%</text>
<line x1="368.2" y1="217.55" x2="369.7" y2="217.55" stroke="#000" stroke-width="0.6"/>
<text x="367.8" y="228.28" font-size="4.3" stroke="#333" stroke-width="0.07" text-anchor="end">0%</text>
<line x1="368.2" y1="226.8" x2="369.7" y2="226.8" stroke="#000" stroke-width="0.6"/>
<rect x="370.75" y="233.3" width="4.4" height="37.3" fill="#144f82"/>
<rect x="370.75" y="233.3" width="4.4" height="1.12" fill="#3cb54b"/>
<rect x="376.05" y="233.3" width="4.4" height="37.3" fill="#144f82"/>
<rect x="376.05" y="233.3" width="4.4" height="1.49" fill="#3cb54b"/>
<rect x="376.05" y="234.79" width="4.4" height="0.75" fill="#c8102e"/>
<rect x="381.35" y="233.3" width="4.4" height="37.3" fill="#144f82"/>
<rect x="381.35" y="233.3" width="4.4" height="0.56" fill="#3cb54b"/>
<rect x="386.65" y="233.3" width="4.4" height="37.3" fill="#144f82"/>
<rect x="386.65" y="233.3" width="4.4" height="1.31" fill="#3cb54b"/>
<rect x="386.65" y="234.61" width="4.4" height="0.37" fill="#c8102e"/>
<rect x="391.95" y="233.3" width="4.4" height="37.3" fill="#144f82"/>
<rect x="391.95" y="233.3" width="4.4" height="1.31" fill="#3cb54b"/>
<text transform="translate(398.95 266.2) rotate(-90)" font-size="3.6" stroke="#333" stroke-width="0.06" text-anchor="middle" textLength="7.2" lengthAdjust="spacingAndGlyphs" dy="1.24">neg</text>
<rect x="402.55" y="233.3" width="4.4" height="37.3" fill="#144f82"/>
<rect x="402.55" y="233.3" width="4.4" height="1.31" fill="#3cb54b"/>
<text transform="translate(409.55 266.2) rotate(-90)" font-size="3.6" stroke="#333" stroke-width="0.06" text-anchor="middle" textLength="7.2" lengthAdjust="spacingAndGlyphs" dy="1.24">neg</text>
<text transform="translate(414.85 266.2) rotate(-90)" font-size="3.6" stroke="#333" stroke-width="0.06" text-anchor="middle" textLength="7.2" lengthAdjust="spacingAndGlyphs" dy="1.24">neg</text>
<text transform="translate(420.15 266.2) rotate(-90)" font-size="3.6" stroke="#333" stroke-width="0.06" text-anchor="middle" textLength="7.2" lengthAdjust="spacingAndGlyphs" dy="1.24">neg</text>
<text transform="translate(429.2 266.2) rotate(-90)" font-size="3.6" stroke="#333" stroke-width="0.06" text-anchor="middle" textLength="7.2" lengthAdjust="spacingAndGlyphs" dy="1.24">neg</text>
<text transform="translate(434.47 266.2) rotate(-90)" font-size="3.6" stroke="#333" stroke-width="0.06" text-anchor="middle" textLength="7.2" lengthAdjust="spacingAndGlyphs" dy="1.24">neg</text>
<text transform="translate(439.74 266.2) rotate(-90)" font-size="3.6" stroke="#333" stroke-width="0.06" text-anchor="middle" textLength="7.2" lengthAdjust="spacingAndGlyphs" dy="1.24">neg</text>
<text transform="translate(445.01 266.2) rotate(-90)" font-size="3.6" stroke="#333" stroke-width="0.06" text-anchor="middle" textLength="7.2" lengthAdjust="spacingAndGlyphs" dy="1.24">neg</text>
<text transform="translate(450.28 266.2) rotate(-90)" font-size="3.6" stroke="#333" stroke-width="0.06" text-anchor="middle" textLength="7.2" lengthAdjust="spacingAndGlyphs" dy="1.24">neg</text>
<text transform="translate(455.55 266.2) rotate(-90)" font-size="3.6" stroke="#333" stroke-width="0.06" text-anchor="middle" textLength="7.2" lengthAdjust="spacingAndGlyphs" dy="1.24">neg</text>
<text transform="translate(460.82 266.2) rotate(-90)" font-size="3.6" stroke="#333" stroke-width="0.06" text-anchor="middle" textLength="7.2" lengthAdjust="spacingAndGlyphs" dy="1.24">neg</text>
<rect x="370.2" y="231.3" width="53.6" height="40.5" rx="1" fill="none" stroke="#606060" stroke-width="1.05"/>
<rect x="426.1" y="231.3" width="38.7" height="40.5" rx="1" fill="none" stroke="#606060" stroke-width="1.05"/>
<text x="367.8" y="234.78" font-size="4.3" stroke="#333" stroke-width="0.07" text-anchor="end">100%</text>
<line x1="368.2" y1="233.3" x2="369.7" y2="233.3" stroke="#000" stroke-width="0.6"/>
<text x="367.8" y="244.11" font-size="4.3" stroke="#333" stroke-width="0.07" text-anchor="end">75%</text>
<line x1="368.2" y1="242.62" x2="369.7" y2="242.62" stroke="#000" stroke-width="0.6"/>
<text x="367.8" y="253.43" font-size="4.3" stroke="#333" stroke-width="0.07" text-anchor="end">50%</text>
<line x1="368.2" y1="251.95" x2="369.7" y2="251.95" stroke="#000" stroke-width="0.6"/>
<text x="367.8" y="262.76" font-size="4.3" stroke="#333" stroke-width="0.07" text-anchor="end">25%</text>
<line x1="368.2" y1="261.28" x2="369.7" y2="261.28" stroke="#000" stroke-width="0.6"/>
<text x="367.8" y="272.08" font-size="4.3" stroke="#333" stroke-width="0.07" text-anchor="end">0%</text>
<line x1="368.2" y1="270.6" x2="369.7" y2="270.6" stroke="#000" stroke-width="0.6"/>
<rect x="370.75" y="277" width="4.4" height="37" fill="#144f82"/>
<rect x="370.75" y="277" width="4.4" height="0.37" fill="#3cb54b"/>
<rect x="376.05" y="277" width="4.4" height="37" fill="#144f82"/>
<rect x="376.05" y="277" width="4.4" height="0.37" fill="#3cb54b"/>
<text transform="translate(383.05 309.6) rotate(-90)" font-size="3.6" stroke="#333" stroke-width="0.06" text-anchor="middle" textLength="7.2" lengthAdjust="spacingAndGlyphs" dy="1.24">neg</text>
<rect x="386.65" y="277" width="4.4" height="37" fill="#144f82"/>
<rect x="386.65" y="277" width="4.4" height="0.37" fill="#3cb54b"/>
<text transform="translate(393.65 309.6) rotate(-90)" font-size="3.6" stroke="#333" stroke-width="0.06" text-anchor="middle" textLength="7.2" lengthAdjust="spacingAndGlyphs" dy="1.24">neg</text>
<text transform="translate(398.95 309.6) rotate(-90)" font-size="3.6" stroke="#333" stroke-width="0.06" text-anchor="middle" textLength="7.2" lengthAdjust="spacingAndGlyphs" dy="1.24">neg</text>
<text transform="translate(404.25 309.6) rotate(-90)" font-size="3.6" stroke="#333" stroke-width="0.06" text-anchor="middle" textLength="7.2" lengthAdjust="spacingAndGlyphs" dy="1.24">neg</text>
<text transform="translate(409.55 309.6) rotate(-90)" font-size="3.6" stroke="#333" stroke-width="0.06" text-anchor="middle" textLength="7.2" lengthAdjust="spacingAndGlyphs" dy="1.24">neg</text>
<text transform="translate(414.85 309.6) rotate(-90)" font-size="3.6" stroke="#333" stroke-width="0.06" text-anchor="middle" textLength="7.2" lengthAdjust="spacingAndGlyphs" dy="1.24">neg</text>
<text transform="translate(420.15 309.6) rotate(-90)" font-size="3.6" stroke="#333" stroke-width="0.06" text-anchor="middle" textLength="7.2" lengthAdjust="spacingAndGlyphs" dy="1.24">neg</text>
<text transform="translate(429.2 309.6) rotate(-90)" font-size="3.6" stroke="#333" stroke-width="0.06" text-anchor="middle" textLength="7.2" lengthAdjust="spacingAndGlyphs" dy="1.24">neg</text>
<text transform="translate(434.47 309.6) rotate(-90)" font-size="3.6" stroke="#333" stroke-width="0.06" text-anchor="middle" textLength="7.2" lengthAdjust="spacingAndGlyphs" dy="1.24">neg</text>
<text transform="translate(439.74 309.6) rotate(-90)" font-size="3.6" stroke="#333" stroke-width="0.06" text-anchor="middle" textLength="7.2" lengthAdjust="spacingAndGlyphs" dy="1.24">neg</text>
<text transform="translate(445.01 309.6) rotate(-90)" font-size="3.6" stroke="#333" stroke-width="0.06" text-anchor="middle" textLength="7.2" lengthAdjust="spacingAndGlyphs" dy="1.24">neg</text>
<text transform="translate(450.28 309.6) rotate(-90)" font-size="3.6" stroke="#333" stroke-width="0.06" text-anchor="middle" textLength="7.2" lengthAdjust="spacingAndGlyphs" dy="1.24">neg</text>
<text transform="translate(455.55 309.6) rotate(-90)" font-size="3.6" stroke="#333" stroke-width="0.06" text-anchor="middle" textLength="7.2" lengthAdjust="spacingAndGlyphs" dy="1.24">neg</text>
<text transform="translate(460.82 309.6) rotate(-90)" font-size="3.6" stroke="#333" stroke-width="0.06" text-anchor="middle" textLength="7.2" lengthAdjust="spacingAndGlyphs" dy="1.24">neg</text>
<rect x="370.2" y="275.1" width="53.6" height="40.4" rx="1" fill="none" stroke="#606060" stroke-width="1.05"/>
<rect x="426.1" y="275.1" width="38.7" height="40.4" rx="1" fill="none" stroke="#606060" stroke-width="1.05"/>
<text x="367.8" y="278.48" font-size="4.3" stroke="#333" stroke-width="0.07" text-anchor="end">100%</text>
<line x1="368.2" y1="277" x2="369.7" y2="277" stroke="#000" stroke-width="0.6"/>
<text x="367.8" y="287.73" font-size="4.3" stroke="#333" stroke-width="0.07" text-anchor="end">75%</text>
<line x1="368.2" y1="286.25" x2="369.7" y2="286.25" stroke="#000" stroke-width="0.6"/>
<text x="367.8" y="296.98" font-size="4.3" stroke="#333" stroke-width="0.07" text-anchor="end">50%</text>
<line x1="368.2" y1="295.5" x2="369.7" y2="295.5" stroke="#000" stroke-width="0.6"/>
<text x="367.8" y="306.23" font-size="4.3" stroke="#333" stroke-width="0.07" text-anchor="end">25%</text>
<line x1="368.2" y1="304.75" x2="369.7" y2="304.75" stroke="#000" stroke-width="0.6"/>
<text x="367.8" y="315.48" font-size="4.3" stroke="#333" stroke-width="0.07" text-anchor="end">0%</text>
<line x1="368.2" y1="314" x2="369.7" y2="314" stroke="#000" stroke-width="0.6"/>
<rect x="370.75" y="320.9" width="4.4" height="36.4" fill="#144f82"/>
<rect x="370.75" y="320.9" width="4.4" height="0.36" fill="#c8102e"/>
<rect x="376.05" y="320.9" width="4.4" height="36.4" fill="#144f82"/>
<rect x="376.05" y="320.9" width="4.4" height="0.18" fill="#c8102e"/>
<rect x="381.35" y="320.9" width="4.4" height="36.4" fill="#144f82"/>
<rect x="381.35" y="320.9" width="4.4" height="0.36" fill="#c8102e"/>
<rect x="386.65" y="320.9" width="4.4" height="36.4" fill="#144f82"/>
<rect x="386.65" y="320.9" width="4.4" height="0.36" fill="#c8102e"/>
<text transform="translate(393.65 352.9) rotate(-90)" font-size="3.6" stroke="#333" stroke-width="0.06" text-anchor="middle" textLength="7.2" lengthAdjust="spacingAndGlyphs" dy="1.24">neg</text>
<text transform="translate(398.95 352.9) rotate(-90)" font-size="3.6" stroke="#333" stroke-width="0.06" text-anchor="middle" textLength="7.2" lengthAdjust="spacingAndGlyphs" dy="1.24">neg</text>
<text transform="translate(404.25 352.9) rotate(-90)" font-size="3.6" stroke="#333" stroke-width="0.06" text-anchor="middle" textLength="7.2" lengthAdjust="spacingAndGlyphs" dy="1.24">neg</text>
<text transform="translate(409.55 352.9) rotate(-90)" font-size="3.6" stroke="#333" stroke-width="0.06" text-anchor="middle" textLength="7.2" lengthAdjust="spacingAndGlyphs" dy="1.24">neg</text>
<text transform="translate(414.85 352.9) rotate(-90)" font-size="3.6" stroke="#333" stroke-width="0.06" text-anchor="middle" textLength="7.2" lengthAdjust="spacingAndGlyphs" dy="1.24">neg</text>
<text transform="translate(420.15 352.9) rotate(-90)" font-size="3.6" stroke="#333" stroke-width="0.06" text-anchor="middle" textLength="7.2" lengthAdjust="spacingAndGlyphs" dy="1.24">neg</text>
<text transform="translate(429.2 352.9) rotate(-90)" font-size="3.6" stroke="#333" stroke-width="0.06" text-anchor="middle" textLength="7.2" lengthAdjust="spacingAndGlyphs" dy="1.24">neg</text>
<text transform="translate(434.47 352.9) rotate(-90)" font-size="3.6" stroke="#333" stroke-width="0.06" text-anchor="middle" textLength="7.2" lengthAdjust="spacingAndGlyphs" dy="1.24">neg</text>
<text transform="translate(439.74 352.9) rotate(-90)" font-size="3.6" stroke="#333" stroke-width="0.06" text-anchor="middle" textLength="7.2" lengthAdjust="spacingAndGlyphs" dy="1.24">neg</text>
<text transform="translate(445.01 352.9) rotate(-90)" font-size="3.6" stroke="#333" stroke-width="0.06" text-anchor="middle" textLength="7.2" lengthAdjust="spacingAndGlyphs" dy="1.24">neg</text>
<text transform="translate(450.28 352.9) rotate(-90)" font-size="3.6" stroke="#333" stroke-width="0.06" text-anchor="middle" textLength="7.2" lengthAdjust="spacingAndGlyphs" dy="1.24">neg</text>
<text transform="translate(455.55 352.9) rotate(-90)" font-size="3.6" stroke="#333" stroke-width="0.06" text-anchor="middle" textLength="7.2" lengthAdjust="spacingAndGlyphs" dy="1.24">neg</text>
<text transform="translate(460.82 352.9) rotate(-90)" font-size="3.6" stroke="#333" stroke-width="0.06" text-anchor="middle" textLength="7.2" lengthAdjust="spacingAndGlyphs" dy="1.24">neg</text>
<rect x="370.2" y="318.3" width="53.6" height="41.1" rx="1" fill="none" stroke="#606060" stroke-width="1.05"/>
<rect x="426.1" y="318.3" width="38.7" height="41.1" rx="1" fill="none" stroke="#606060" stroke-width="1.05"/>
<text x="367.8" y="322.38" font-size="4.3" stroke="#333" stroke-width="0.07" text-anchor="end">100%</text>
<line x1="368.2" y1="320.9" x2="369.7" y2="320.9" stroke="#000" stroke-width="0.6"/>
<text x="367.8" y="331.48" font-size="4.3" stroke="#333" stroke-width="0.07" text-anchor="end">75%</text>
<line x1="368.2" y1="330" x2="369.7" y2="330" stroke="#000" stroke-width="0.6"/>
<text x="367.8" y="340.58" font-size="4.3" stroke="#333" stroke-width="0.07" text-anchor="end">50%</text>
<line x1="368.2" y1="339.1" x2="369.7" y2="339.1" stroke="#000" stroke-width="0.6"/>
<text x="367.8" y="349.68" font-size="4.3" stroke="#333" stroke-width="0.07" text-anchor="end">25%</text>
<line x1="368.2" y1="348.2" x2="369.7" y2="348.2" stroke="#000" stroke-width="0.6"/>
<text x="367.8" y="358.78" font-size="4.3" stroke="#333" stroke-width="0.07" text-anchor="end">0%</text>
<line x1="368.2" y1="357.3" x2="369.7" y2="357.3" stroke="#000" stroke-width="0.6"/>
<text transform="translate(470.8 208.4) rotate(-90)" font-size="6.6" stroke="#333" stroke-width="0.11" text-anchor="middle" textLength="16.4" lengthAdjust="spacingAndGlyphs" dy="2.28">Week 5</text>
<text transform="translate(478 208.4) rotate(-90)" font-size="6" stroke="#555" stroke-width="0.1" text-anchor="middle" fill="#555" textLength="12.8" lengthAdjust="spacingAndGlyphs" dy="2.07">blood</text>
<text transform="translate(470.8 253) rotate(-90)" font-size="6.6" stroke="#333" stroke-width="0.11" text-anchor="middle" textLength="16.4" lengthAdjust="spacingAndGlyphs" dy="2.28">Week 9</text>
<text transform="translate(478 253) rotate(-90)" font-size="6" stroke="#555" stroke-width="0.1" text-anchor="middle" fill="#555" textLength="16" lengthAdjust="spacingAndGlyphs" dy="2.07">marrow</text>
<text transform="translate(470.8 295.1) rotate(-90)" font-size="6.6" stroke="#333" stroke-width="0.11" text-anchor="middle" textLength="19" lengthAdjust="spacingAndGlyphs" dy="2.28">Week 16</text>
<text transform="translate(478 295.1) rotate(-90)" font-size="6" stroke="#555" stroke-width="0.1" text-anchor="middle" fill="#555" textLength="16" lengthAdjust="spacingAndGlyphs" dy="2.07">marrow</text>
<text transform="translate(470.8 338.2) rotate(-90)" font-size="6.6" stroke="#333" stroke-width="0.11" text-anchor="middle" textLength="19" lengthAdjust="spacingAndGlyphs" dy="2.28">Week 16</text>
<text transform="translate(478 338.2) rotate(-90)" font-size="6" stroke="#555" stroke-width="0.1" text-anchor="middle" fill="#555" textLength="14.7" lengthAdjust="spacingAndGlyphs" dy="2.07">spleen</text>
<text transform="translate(350.7 281.7) rotate(-90)" font-size="6.4" stroke="#444" stroke-width="0.11" text-anchor="middle" fill="#444" textLength="82.7" lengthAdjust="spacingAndGlyphs" dy="2.21">Lineage proportion (normalized)</text>
<line x1="372.95" y1="359.4" x2="372.95" y2="360.6" stroke="#444" stroke-width="0.5"/>
<text transform="translate(372.95 368) rotate(-90)" font-size="4.4" stroke="#333" stroke-width="0.07" text-anchor="middle" textLength="11.8" lengthAdjust="spacingAndGlyphs" dy="1.52">26152</text>
<line x1="378.25" y1="359.4" x2="378.25" y2="360.6" stroke="#444" stroke-width="0.5"/>
<text transform="translate(378.25 368) rotate(-90)" font-size="4.4" stroke="#333" stroke-width="0.07" text-anchor="middle" textLength="11.8" lengthAdjust="spacingAndGlyphs" dy="1.52">26154</text>
<line x1="383.55" y1="359.4" x2="383.55" y2="360.6" stroke="#444" stroke-width="0.5"/>
<text transform="translate(383.55 368) rotate(-90)" font-size="4.4" stroke="#333" stroke-width="0.07" text-anchor="middle" textLength="11.8" lengthAdjust="spacingAndGlyphs" dy="1.52">26156</text>
<line x1="388.85" y1="359.4" x2="388.85" y2="360.6" stroke="#444" stroke-width="0.5"/>
<text transform="translate(388.85 368) rotate(-90)" font-size="4.4" stroke="#333" stroke-width="0.07" text-anchor="middle" textLength="11.8" lengthAdjust="spacingAndGlyphs" dy="1.52">26159</text>
<line x1="394.15" y1="359.4" x2="394.15" y2="360.6" stroke="#444" stroke-width="0.5"/>
<text transform="translate(394.15 368) rotate(-90)" font-size="4.4" stroke="#333" stroke-width="0.07" text-anchor="middle" textLength="11.8" lengthAdjust="spacingAndGlyphs" dy="1.52">26150</text>
<line x1="399.45" y1="359.4" x2="399.45" y2="360.6" stroke="#444" stroke-width="0.5"/>
<text transform="translate(399.45 368) rotate(-90)" font-size="4.4" stroke="#333" stroke-width="0.07" text-anchor="middle" textLength="11.8" lengthAdjust="spacingAndGlyphs" dy="1.52">26155</text>
<line x1="404.75" y1="359.4" x2="404.75" y2="360.6" stroke="#444" stroke-width="0.5"/>
<text transform="translate(404.75 368) rotate(-90)" font-size="4.4" stroke="#333" stroke-width="0.07" text-anchor="middle" textLength="11.8" lengthAdjust="spacingAndGlyphs" dy="1.52">26153</text>
<line x1="410.05" y1="359.4" x2="410.05" y2="360.6" stroke="#444" stroke-width="0.5"/>
<text transform="translate(410.05 368) rotate(-90)" font-size="4.4" stroke="#333" stroke-width="0.07" text-anchor="middle" textLength="11.8" lengthAdjust="spacingAndGlyphs" dy="1.52">26157</text>
<line x1="415.35" y1="359.4" x2="415.35" y2="360.6" stroke="#444" stroke-width="0.5"/>
<text transform="translate(415.35 368) rotate(-90)" font-size="4.4" stroke="#333" stroke-width="0.07" text-anchor="middle" textLength="11.8" lengthAdjust="spacingAndGlyphs" dy="1.52">26158</text>
<line x1="420.65" y1="359.4" x2="420.65" y2="360.6" stroke="#444" stroke-width="0.5"/>
<text transform="translate(420.65 368) rotate(-90)" font-size="4.4" stroke="#333" stroke-width="0.07" text-anchor="middle" textLength="11.8" lengthAdjust="spacingAndGlyphs" dy="1.52">26151</text>
<line x1="429.7" y1="359.4" x2="429.7" y2="360.6" stroke="#444" stroke-width="0.5"/>
<text transform="translate(429.7 368) rotate(-90)" font-size="4.4" stroke="#333" stroke-width="0.07" text-anchor="middle" textLength="11.8" lengthAdjust="spacingAndGlyphs" dy="1.52">26146</text>
<line x1="434.97" y1="359.4" x2="434.97" y2="360.6" stroke="#444" stroke-width="0.5"/>
<text transform="translate(434.97 368) rotate(-90)" font-size="4.4" stroke="#333" stroke-width="0.07" text-anchor="middle" textLength="11.8" lengthAdjust="spacingAndGlyphs" dy="1.52">26147</text>
<line x1="440.24" y1="359.4" x2="440.24" y2="360.6" stroke="#444" stroke-width="0.5"/>
<text transform="translate(440.24 368) rotate(-90)" font-size="4.4" stroke="#333" stroke-width="0.07" text-anchor="middle" textLength="11.8" lengthAdjust="spacingAndGlyphs" dy="1.52">26143</text>
<line x1="445.51" y1="359.4" x2="445.51" y2="360.6" stroke="#444" stroke-width="0.5"/>
<text transform="translate(445.51 368) rotate(-90)" font-size="4.4" stroke="#333" stroke-width="0.07" text-anchor="middle" textLength="11.8" lengthAdjust="spacingAndGlyphs" dy="1.52">26148</text>
<line x1="450.78" y1="359.4" x2="450.78" y2="360.6" stroke="#444" stroke-width="0.5"/>
<text transform="translate(450.78 368) rotate(-90)" font-size="4.4" stroke="#333" stroke-width="0.07" text-anchor="middle" textLength="11.8" lengthAdjust="spacingAndGlyphs" dy="1.52">26145</text>
<line x1="456.05" y1="359.4" x2="456.05" y2="360.6" stroke="#444" stroke-width="0.5"/>
<text transform="translate(456.05 368) rotate(-90)" font-size="4.4" stroke="#333" stroke-width="0.07" text-anchor="middle" textLength="11.8" lengthAdjust="spacingAndGlyphs" dy="1.52">26144</text>
<line x1="461.32" y1="359.4" x2="461.32" y2="360.6" stroke="#444" stroke-width="0.5"/>
<text transform="translate(461.32 368) rotate(-90)" font-size="4.4" stroke="#333" stroke-width="0.07" text-anchor="middle" textLength="11.8" lengthAdjust="spacingAndGlyphs" dy="1.52">26149</text>
<rect x="489.3" y="264.9" width="7.5" height="7.8" fill="#3cb54b"/>
<rect x="489.3" y="272.7" width="7.5" height="8.5" fill="#c8102e"/>
<rect x="489.3" y="281.2" width="7.5" height="8.5" fill="#144f82"/>
<text x="498.2" y="270.66" font-size="4.8" stroke="#333" stroke-width="0.08">CD3+</text>
<text x="498.2" y="278.46" font-size="4.8" stroke="#333" stroke-width="0.08">CD19+</text>
<text x="498.2" y="287.16" font-size="4.8" stroke="#333" stroke-width="0.08">CD33+</text>
</svg>
</body></html>
